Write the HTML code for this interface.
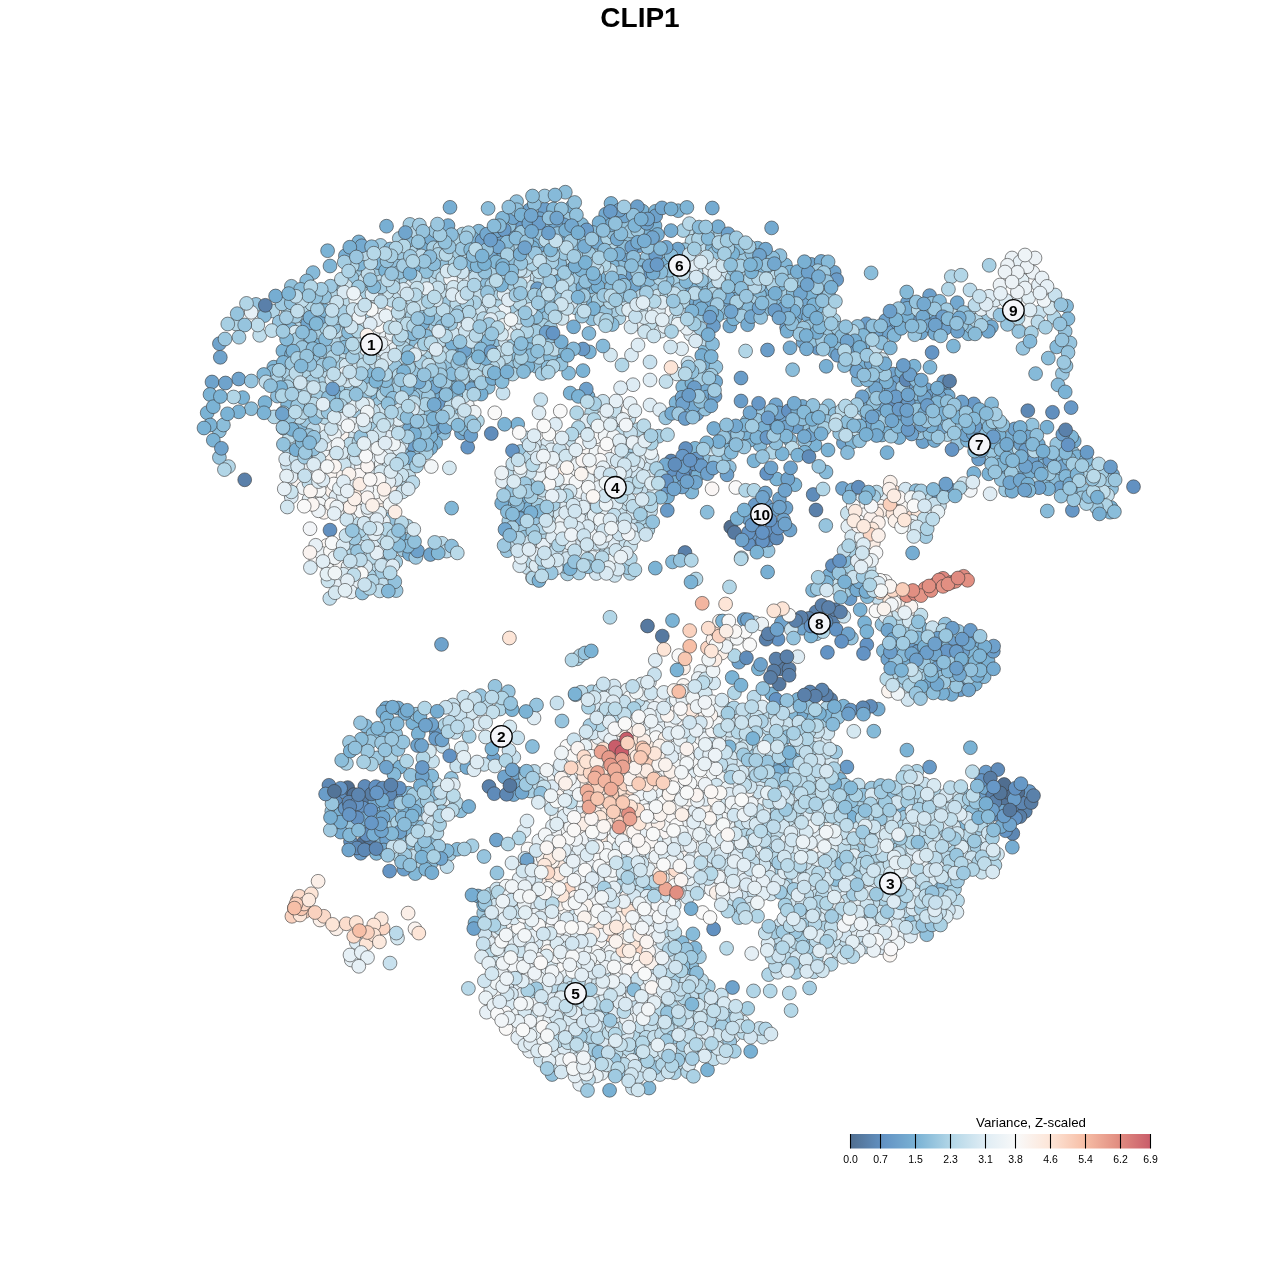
<!DOCTYPE html>
<html><head><meta charset="utf-8"><style>
html,body{margin:0;padding:0;background:#fff;}
svg{display:block;}
.pts circle{stroke:#383838;stroke-width:0.6;}
.lb{font-family:"Liberation Sans",Arial,sans-serif;font-weight:bold;font-size:15.5px;text-anchor:middle;fill:#000;}
.tl{font-family:"Liberation Sans",Arial,sans-serif;font-size:10.5px;text-anchor:middle;fill:#000;}
.tt{font-family:"Liberation Sans",Arial,sans-serif;font-weight:bold;font-size:28px;text-anchor:middle;fill:#000;}
.lt{font-family:"Liberation Sans",Arial,sans-serif;font-size:13.3px;text-anchor:middle;fill:#000;}
</style></head><body>
<svg width="1280" height="1280" viewBox="0 0 1280 1280">
<defs><linearGradient id="cb" x1="0" x2="1" y1="0" y2="0"><stop offset="0.0000" stop-color="#506e90"/><stop offset="0.1111" stop-color="#6393c4"/><stop offset="0.2222" stop-color="#7bb3d5"/><stop offset="0.3333" stop-color="#b2d6e7"/><stop offset="0.4444" stop-color="#deecf4"/><stop offset="0.5556" stop-color="#f9f9f9"/><stop offset="0.6667" stop-color="#fde5d7"/><stop offset="0.7778" stop-color="#f7bfa7"/><stop offset="0.8889" stop-color="#e28f82"/><stop offset="1.0000" stop-color="#c95d6a"/></linearGradient></defs>
<rect width="1280" height="1280" fill="#fff"/>
<text x="640" y="27" class="tt">CLIP1</text>
<g class="pts">
<circle cx="893.4" cy="374.1" r="6.9" fill="#6fa3cd"/>
<circle cx="1062.4" cy="373.6" r="6.9" fill="#9cc8e0"/>
<circle cx="824.1" cy="741.4" r="6.9" fill="#d9e9f2"/>
<circle cx="546.5" cy="879.6" r="6.9" fill="#fbf0ea"/>
<circle cx="783.0" cy="662.0" r="6.9" fill="#587da5"/>
<circle cx="1022.6" cy="475.2" r="6.9" fill="#78afd3"/>
<circle cx="815.0" cy="445.0" r="6.9" fill="#7bb3d5"/>
<circle cx="982.5" cy="434.4" r="6.9" fill="#89bcda"/>
<circle cx="565.8" cy="832.3" r="6.9" fill="#f4f7f8"/>
<circle cx="536.4" cy="366.3" r="6.9" fill="#94c3dd"/>
<circle cx="914.2" cy="878.7" r="6.9" fill="#d7e9f2"/>
<circle cx="612.9" cy="777.8" r="6.9" fill="#f9cbb6"/>
<circle cx="950.2" cy="489.7" r="6.9" fill="#6a9cc9"/>
<circle cx="1012.8" cy="833.5" r="6.9" fill="#5d87b3"/>
<circle cx="768.1" cy="550.8" r="6.9" fill="#96c4de"/>
<circle cx="503.0" cy="257.3" r="6.9" fill="#76acd1"/>
<circle cx="881.9" cy="435.0" r="6.9" fill="#7db4d6"/>
<circle cx="696.0" cy="579.0" r="6.9" fill="#b2d6e7"/>
<circle cx="350.1" cy="434.3" r="6.9" fill="#d5e8f1"/>
<circle cx="783.1" cy="965.9" r="6.9" fill="#9ac7df"/>
<circle cx="564.1" cy="506.3" r="6.9" fill="#deecf4"/>
<circle cx="843.5" cy="893.8" r="6.9" fill="#e1edf5"/>
<circle cx="411.4" cy="849.2" r="6.9" fill="#d8e9f2"/>
<circle cx="555.1" cy="848.3" r="6.9" fill="#dfecf4"/>
<circle cx="795.3" cy="803.2" r="6.9" fill="#d4e7f1"/>
<circle cx="595.2" cy="295.9" r="6.9" fill="#a5cee3"/>
<circle cx="764.0" cy="293.1" r="6.9" fill="#77aed2"/>
<circle cx="566.9" cy="746.3" r="6.9" fill="#f9f9f9"/>
<circle cx="1111.5" cy="488.6" r="6.9" fill="#8ebfdb"/>
<circle cx="669.5" cy="777.5" r="6.9" fill="#fbefe8"/>
<circle cx="629.9" cy="732.8" r="6.9" fill="#fbeee7"/>
<circle cx="376.5" cy="853.4" r="6.9" fill="#81b7d7"/>
<circle cx="883.4" cy="650.8" r="6.9" fill="#84b9d8"/>
<circle cx="542.5" cy="311.4" r="6.9" fill="#80b6d7"/>
<circle cx="757.6" cy="248.2" r="6.9" fill="#80b6d7"/>
<circle cx="743.5" cy="833.7" r="6.9" fill="#b6d8e8"/>
<circle cx="381.2" cy="331.6" r="6.9" fill="#ecf3f7"/>
<circle cx="844.6" cy="803.4" r="6.9" fill="#82b7d7"/>
<circle cx="323.8" cy="498.8" r="6.9" fill="#e9f1f6"/>
<circle cx="682.3" cy="850.5" r="6.9" fill="#e8f1f6"/>
<circle cx="690.8" cy="304.9" r="6.9" fill="#76acd1"/>
<circle cx="649.4" cy="857.4" r="6.9" fill="#d4e7f1"/>
<circle cx="314.7" cy="339.3" r="6.9" fill="#7bb3d5"/>
<circle cx="1005.6" cy="490.0" r="6.9" fill="#9dc9e0"/>
<circle cx="900.8" cy="807.5" r="6.9" fill="#7ab1d4"/>
<circle cx="392.8" cy="380.9" r="6.9" fill="#a4cde2"/>
<circle cx="645.0" cy="490.5" r="6.9" fill="#c5dfed"/>
<circle cx="391.0" cy="758.0" r="6.9" fill="#b2d6e7"/>
<circle cx="592.8" cy="887.5" r="6.9" fill="#e9f1f6"/>
<circle cx="780.3" cy="786.6" r="6.9" fill="#e5f0f5"/>
<circle cx="919.3" cy="888.2" r="6.9" fill="#aed3e6"/>
<circle cx="834.0" cy="618.4" r="6.9" fill="#5a80aa"/>
<circle cx="659.2" cy="323.6" r="6.9" fill="#eaf2f6"/>
<circle cx="864.8" cy="421.3" r="6.9" fill="#74a9d0"/>
<circle cx="675.6" cy="979.5" r="6.9" fill="#a6cee3"/>
<circle cx="787.5" cy="897.1" r="6.9" fill="#b3d7e7"/>
<circle cx="528.2" cy="924.5" r="6.9" fill="#d2e6f0"/>
<circle cx="451.3" cy="778.4" r="6.9" fill="#96c4de"/>
<circle cx="573.9" cy="1051.0" r="6.9" fill="#d5e8f1"/>
<circle cx="545.2" cy="1005.0" r="6.9" fill="#b2d6e7"/>
<circle cx="612.6" cy="452.7" r="6.9" fill="#f7f8f9"/>
<circle cx="555.6" cy="1033.3" r="6.9" fill="#f7f8f9"/>
<circle cx="570.1" cy="457.7" r="6.9" fill="#ebf2f6"/>
<circle cx="1071.1" cy="407.6" r="6.9" fill="#6899c7"/>
<circle cx="679.6" cy="1065.0" r="6.9" fill="#c6e0ed"/>
<circle cx="823.8" cy="908.6" r="6.9" fill="#d8e9f2"/>
<circle cx="665.1" cy="787.7" r="6.9" fill="#f9f9f9"/>
<circle cx="596.5" cy="775.4" r="6.9" fill="#fbede4"/>
<circle cx="623.5" cy="1072.6" r="6.9" fill="#9bc7e0"/>
<circle cx="458.9" cy="279.2" r="6.9" fill="#dfedf4"/>
<circle cx="634.1" cy="1036.9" r="6.9" fill="#b5d8e8"/>
<circle cx="251.3" cy="408.7" r="6.9" fill="#8cbeda"/>
<circle cx="534.0" cy="210.8" r="6.9" fill="#b5d8e8"/>
<circle cx="916.0" cy="317.3" r="6.9" fill="#6c9fca"/>
<circle cx="238.7" cy="379.0" r="6.9" fill="#6fa3cc"/>
<circle cx="548.5" cy="544.4" r="6.9" fill="#c3deec"/>
<circle cx="757.5" cy="749.1" r="6.9" fill="#b2d6e7"/>
<circle cx="641.9" cy="325.2" r="6.9" fill="#ebf2f6"/>
<circle cx="380.9" cy="388.6" r="6.9" fill="#a8d0e4"/>
<circle cx="462.6" cy="234.1" r="6.9" fill="#a8d0e4"/>
<circle cx="587.9" cy="467.5" r="6.9" fill="#fbf0ea"/>
<circle cx="597.3" cy="995.3" r="6.9" fill="#e1edf5"/>
<circle cx="590.3" cy="861.6" r="6.9" fill="#eef3f7"/>
<circle cx="583.0" cy="370.6" r="6.9" fill="#7bb3d5"/>
<circle cx="665.9" cy="886.3" r="6.9" fill="#eff4f7"/>
<circle cx="832.4" cy="956.4" r="6.9" fill="#d3e7f1"/>
<circle cx="533.1" cy="855.8" r="6.9" fill="#e4eff5"/>
<circle cx="940.1" cy="645.8" r="6.9" fill="#75abd1"/>
<circle cx="944.1" cy="390.5" r="6.9" fill="#70a5cd"/>
<circle cx="738.3" cy="763.3" r="6.9" fill="#dbebf3"/>
<circle cx="1066.0" cy="366.0" r="6.9" fill="#91c1dc"/>
<circle cx="504.4" cy="776.9" r="6.9" fill="#6fa3cc"/>
<circle cx="219.4" cy="431.0" r="6.9" fill="#8cbeda"/>
<circle cx="559.1" cy="465.7" r="6.9" fill="#dfecf4"/>
<circle cx="384.4" cy="505.3" r="6.9" fill="#fbefe8"/>
<circle cx="618.5" cy="896.6" r="6.9" fill="#e7f0f6"/>
<circle cx="342.2" cy="791.8" r="6.9" fill="#6291c1"/>
<circle cx="678.0" cy="1026.3" r="6.9" fill="#c3deec"/>
<circle cx="1056.7" cy="458.6" r="6.9" fill="#87bad9"/>
<circle cx="567.5" cy="573.9" r="6.9" fill="#a8d0e4"/>
<circle cx="978.1" cy="646.7" r="6.9" fill="#7bb2d5"/>
<circle cx="579.0" cy="573.0" r="6.9" fill="#aed3e6"/>
<circle cx="772.4" cy="452.3" r="6.9" fill="#b2d6e7"/>
<circle cx="729.8" cy="326.0" r="6.9" fill="#75abd1"/>
<circle cx="884.1" cy="822.1" r="6.9" fill="#dbebf3"/>
<circle cx="489.3" cy="943.0" r="6.9" fill="#e3eef5"/>
<circle cx="841.2" cy="878.6" r="6.9" fill="#daeaf3"/>
<circle cx="436.3" cy="784.1" r="6.9" fill="#c8e1ee"/>
<circle cx="980.0" cy="811.3" r="6.9" fill="#95c3dd"/>
<circle cx="236.2" cy="324.0" r="6.9" fill="#b2d6e7"/>
<circle cx="604.6" cy="1012.2" r="6.9" fill="#9dc9e0"/>
<circle cx="476.1" cy="380.9" r="6.9" fill="#8abdda"/>
<circle cx="591.2" cy="286.7" r="6.9" fill="#80b6d7"/>
<circle cx="1041.0" cy="456.3" r="6.9" fill="#7ab1d4"/>
<circle cx="889.4" cy="327.8" r="6.9" fill="#6a9dc9"/>
<circle cx="683.4" cy="668.0" r="6.9" fill="#fbefe8"/>
<circle cx="346.4" cy="763.4" r="6.9" fill="#a7cfe3"/>
<circle cx="289.1" cy="449.0" r="6.9" fill="#aad1e4"/>
<circle cx="732.2" cy="839.7" r="6.9" fill="#e9f1f6"/>
<circle cx="932.1" cy="352.5" r="6.9" fill="#6595c5"/>
<circle cx="640.7" cy="436.1" r="6.9" fill="#e3eff5"/>
<circle cx="997.5" cy="854.2" r="6.9" fill="#d3e7f1"/>
<circle cx="661.0" cy="722.8" r="6.9" fill="#e3eef5"/>
<circle cx="565.9" cy="935.6" r="6.9" fill="#edf3f7"/>
<circle cx="942.2" cy="865.6" r="6.9" fill="#deecf4"/>
<circle cx="772.5" cy="834.0" r="6.9" fill="#aed4e6"/>
<circle cx="970.3" cy="490.4" r="6.9" fill="#f1f5f8"/>
<circle cx="530.3" cy="791.0" r="6.9" fill="#aad1e5"/>
<circle cx="547.4" cy="512.0" r="6.9" fill="#c1deec"/>
<circle cx="837.8" cy="856.0" r="6.9" fill="#b6d8e8"/>
<circle cx="506.0" cy="279.5" r="6.9" fill="#a4cde2"/>
<circle cx="512.5" cy="1011.3" r="6.9" fill="#eef4f7"/>
<circle cx="638.7" cy="245.9" r="6.9" fill="#70a4cd"/>
<circle cx="329.8" cy="456.1" r="6.9" fill="#faf3ef"/>
<circle cx="605.5" cy="950.6" r="6.9" fill="#e6f0f5"/>
<circle cx="610.0" cy="617.3" r="6.9" fill="#b2d6e7"/>
<circle cx="655.9" cy="792.3" r="6.9" fill="#ecf3f7"/>
<circle cx="297.5" cy="900.0" r="6.9" fill="#fad2bf"/>
<circle cx="547.9" cy="972.0" r="6.9" fill="#e6f0f6"/>
<circle cx="597.8" cy="550.8" r="6.9" fill="#bddbea"/>
<circle cx="661.6" cy="256.4" r="6.9" fill="#a1cbe1"/>
<circle cx="792.6" cy="369.7" r="6.9" fill="#8bbdda"/>
<circle cx="606.2" cy="942.7" r="6.9" fill="#eef4f7"/>
<circle cx="687.3" cy="809.0" r="6.9" fill="#faf6f4"/>
<circle cx="835.8" cy="825.2" r="6.9" fill="#bddcea"/>
<circle cx="364.8" cy="786.4" r="6.9" fill="#5f8bb9"/>
<circle cx="376.4" cy="457.6" r="6.9" fill="#e5eff5"/>
<circle cx="529.5" cy="279.6" r="6.9" fill="#c4dfec"/>
<circle cx="715.9" cy="736.7" r="6.9" fill="#e5eff5"/>
<circle cx="691.8" cy="492.0" r="6.9" fill="#82b7d7"/>
<circle cx="400.0" cy="767.0" r="6.9" fill="#7bb3d5"/>
<circle cx="771.4" cy="866.2" r="6.9" fill="#b8d9e9"/>
<circle cx="300.8" cy="427.7" r="6.9" fill="#87bad9"/>
<circle cx="530.0" cy="287.2" r="6.9" fill="#c9e2ee"/>
<circle cx="981.8" cy="872.2" r="6.9" fill="#cbe3ee"/>
<circle cx="870.5" cy="394.1" r="6.9" fill="#a0cbe1"/>
<circle cx="843.8" cy="616.3" r="6.9" fill="#c8e1ee"/>
<circle cx="633.8" cy="1050.9" r="6.9" fill="#97c5de"/>
<circle cx="687.2" cy="473.9" r="6.9" fill="#5b84af"/>
<circle cx="407.5" cy="483.2" r="6.9" fill="#b7d9e9"/>
<circle cx="565.4" cy="1027.3" r="6.9" fill="#e4eff5"/>
<circle cx="752.8" cy="756.6" r="6.9" fill="#a0cbe1"/>
<circle cx="573.4" cy="286.1" r="6.9" fill="#9fcae1"/>
<circle cx="830.7" cy="699.4" r="6.9" fill="#5a80aa"/>
<circle cx="648.2" cy="701.7" r="6.9" fill="#ecf3f7"/>
<circle cx="761.3" cy="783.7" r="6.9" fill="#d8e9f2"/>
<circle cx="592.0" cy="318.8" r="6.9" fill="#91c1dc"/>
<circle cx="700.5" cy="1013.7" r="6.9" fill="#c3dfec"/>
<circle cx="894.1" cy="491.8" r="6.9" fill="#fde4d6"/>
<circle cx="621.2" cy="482.0" r="6.9" fill="#e4eff5"/>
<circle cx="618.9" cy="317.9" r="6.9" fill="#afd4e6"/>
<circle cx="538.4" cy="912.1" r="6.9" fill="#eaf2f6"/>
<circle cx="740.5" cy="308.9" r="6.9" fill="#71a5ce"/>
<circle cx="687.4" cy="769.0" r="6.9" fill="#d7e8f2"/>
<circle cx="599.4" cy="440.9" r="6.9" fill="#f9f8f7"/>
<circle cx="381.2" cy="464.1" r="6.9" fill="#f0f5f7"/>
<circle cx="393.0" cy="426.7" r="6.9" fill="#e1eef5"/>
<circle cx="630.0" cy="1011.3" r="6.9" fill="#e0edf4"/>
<circle cx="916.9" cy="771.3" r="6.9" fill="#add3e5"/>
<circle cx="315.6" cy="558.4" r="6.9" fill="#f9f8f8"/>
<circle cx="588.2" cy="473.0" r="6.9" fill="#e3eff5"/>
<circle cx="552.6" cy="878.2" r="6.9" fill="#fbede4"/>
<circle cx="833.8" cy="320.0" r="6.9" fill="#a9d0e4"/>
<circle cx="358.8" cy="241.9" r="6.9" fill="#7cb3d5"/>
<circle cx="899.5" cy="934.6" r="6.9" fill="#ecf3f7"/>
<circle cx="608.1" cy="784.0" r="6.9" fill="#fbdbcb"/>
<circle cx="363.4" cy="800.8" r="6.9" fill="#577ca3"/>
<circle cx="1059.0" cy="475.4" r="6.9" fill="#93c2dd"/>
<circle cx="697.7" cy="475.1" r="6.9" fill="#7ab2d4"/>
<circle cx="524.6" cy="544.9" r="6.9" fill="#cde3ef"/>
<circle cx="739.8" cy="296.4" r="6.9" fill="#7ab1d4"/>
<circle cx="366.0" cy="726.0" r="6.9" fill="#86bad9"/>
<circle cx="811.6" cy="717.9" r="6.9" fill="#85bad8"/>
<circle cx="675.6" cy="762.6" r="6.9" fill="#f4f7f8"/>
<circle cx="547.5" cy="342.2" r="6.9" fill="#96c4de"/>
<circle cx="755.4" cy="853.7" r="6.9" fill="#e2eef5"/>
<circle cx="882.8" cy="499.5" r="6.9" fill="#e6f0f6"/>
<circle cx="676.6" cy="776.2" r="6.9" fill="#faf4f1"/>
<circle cx="308.0" cy="340.1" r="6.9" fill="#8dbedb"/>
<circle cx="326.8" cy="545.5" r="6.9" fill="#faf6f3"/>
<circle cx="613.8" cy="310.2" r="6.9" fill="#a8cfe4"/>
<circle cx="654.5" cy="928.1" r="6.9" fill="#edf3f7"/>
<circle cx="957.9" cy="412.2" r="6.9" fill="#8cbedb"/>
<circle cx="583.7" cy="995.8" r="6.9" fill="#c4dfec"/>
<circle cx="695.4" cy="839.4" r="6.9" fill="#f9f8f7"/>
<circle cx="1064.4" cy="480.0" r="6.9" fill="#699bc8"/>
<circle cx="564.6" cy="566.3" r="6.9" fill="#94c3dd"/>
<circle cx="785.4" cy="264.8" r="6.9" fill="#82b7d7"/>
<circle cx="831.4" cy="760.3" r="6.9" fill="#d8e9f2"/>
<circle cx="902.6" cy="608.8" r="6.9" fill="#eef4f7"/>
<circle cx="700.8" cy="671.4" r="6.9" fill="#eaf2f6"/>
<circle cx="590.0" cy="739.7" r="6.9" fill="#e1eef5"/>
<circle cx="805.6" cy="428.6" r="6.9" fill="#95c3dd"/>
<circle cx="272.8" cy="311.0" r="6.9" fill="#b2d6e7"/>
<circle cx="698.3" cy="678.5" r="6.9" fill="#e9f1f6"/>
<circle cx="908.6" cy="858.3" r="6.9" fill="#d3e6f1"/>
<circle cx="631.1" cy="763.1" r="6.9" fill="#fde2d4"/>
<circle cx="1022.0" cy="280.0" r="6.9" fill="#e3eff5"/>
<circle cx="507.4" cy="948.9" r="6.9" fill="#e2eef5"/>
<circle cx="633.3" cy="904.5" r="6.9" fill="#faf4f0"/>
<circle cx="570.5" cy="826.9" r="6.9" fill="#f4f7f8"/>
<circle cx="583.5" cy="237.6" r="6.9" fill="#9cc8e0"/>
<circle cx="741.1" cy="741.5" r="6.9" fill="#c4dfec"/>
<circle cx="644.1" cy="457.0" r="6.9" fill="#e4eff5"/>
<circle cx="691.8" cy="288.1" r="6.9" fill="#73a8cf"/>
<circle cx="727.9" cy="740.2" r="6.9" fill="#daeaf3"/>
<circle cx="727.4" cy="902.3" r="6.9" fill="#c7e1ed"/>
<circle cx="943.1" cy="830.5" r="6.9" fill="#a9d0e4"/>
<circle cx="593.1" cy="552.8" r="6.9" fill="#ecf3f7"/>
<circle cx="836.2" cy="811.4" r="6.9" fill="#95c4de"/>
<circle cx="1074.0" cy="487.8" r="6.9" fill="#80b6d7"/>
<circle cx="545.4" cy="1019.7" r="6.9" fill="#e6f0f5"/>
<circle cx="277.4" cy="396.1" r="6.9" fill="#8dbedb"/>
<circle cx="853.8" cy="544.3" r="6.9" fill="#d6e8f2"/>
<circle cx="636.2" cy="1019.3" r="6.9" fill="#ebf2f6"/>
<circle cx="707.5" cy="647.9" r="6.9" fill="#fad4c2"/>
<circle cx="860.2" cy="609.7" r="6.9" fill="#7bb3d5"/>
<circle cx="471.6" cy="712.8" r="6.9" fill="#d5e8f1"/>
<circle cx="1029.2" cy="791.5" r="6.9" fill="#689ac8"/>
<circle cx="673.4" cy="473.8" r="6.9" fill="#6393c4"/>
<circle cx="639.8" cy="761.1" r="6.9" fill="#fbeee7"/>
<circle cx="527.6" cy="567.6" r="6.9" fill="#c8e1ee"/>
<circle cx="481.6" cy="302.6" r="6.9" fill="#bbdbea"/>
<circle cx="896.9" cy="674.8" r="6.9" fill="#b2d6e7"/>
<circle cx="442.7" cy="746.4" r="6.9" fill="#c8e1ee"/>
<circle cx="713.6" cy="683.0" r="6.9" fill="#d6e8f2"/>
<circle cx="774.1" cy="872.9" r="6.9" fill="#abd2e5"/>
<circle cx="733.4" cy="1036.1" r="6.9" fill="#deecf4"/>
<circle cx="794.9" cy="484.7" r="6.9" fill="#7bb3d5"/>
<circle cx="596.9" cy="246.1" r="6.9" fill="#9ec9e1"/>
<circle cx="771.6" cy="694.0" r="6.9" fill="#7bb3d5"/>
<circle cx="377.0" cy="544.1" r="6.9" fill="#deecf4"/>
<circle cx="373.0" cy="301.3" r="6.9" fill="#c4dfec"/>
<circle cx="846.7" cy="901.1" r="6.9" fill="#c0ddeb"/>
<circle cx="417.5" cy="390.2" r="6.9" fill="#7bb3d5"/>
<circle cx="975.3" cy="684.1" r="6.9" fill="#7ab2d4"/>
<circle cx="694.2" cy="775.5" r="6.9" fill="#e2eef5"/>
<circle cx="797.8" cy="656.7" r="6.9" fill="#deecf4"/>
<circle cx="759.5" cy="294.8" r="6.9" fill="#84b9d8"/>
<circle cx="862.8" cy="504.5" r="6.9" fill="#f9f9f9"/>
<circle cx="759.0" cy="285.8" r="6.9" fill="#9dc8e0"/>
<circle cx="373.0" cy="734.0" r="6.9" fill="#8cbeda"/>
<circle cx="805.6" cy="909.7" r="6.9" fill="#9cc8e0"/>
<circle cx="491.3" cy="433.5" r="6.9" fill="#608dbc"/>
<circle cx="552.4" cy="269.3" r="6.9" fill="#c3deec"/>
<circle cx="318.5" cy="332.0" r="6.9" fill="#acd2e5"/>
<circle cx="913.1" cy="799.0" r="6.9" fill="#b7d8e8"/>
<circle cx="751.8" cy="893.3" r="6.9" fill="#cae2ee"/>
<circle cx="583.6" cy="449.1" r="6.9" fill="#f9f7f5"/>
<circle cx="634.6" cy="521.8" r="6.9" fill="#c6e0ed"/>
<circle cx="929.3" cy="683.6" r="6.9" fill="#71a6ce"/>
<circle cx="950.2" cy="660.3" r="6.9" fill="#a2cce2"/>
<circle cx="648.7" cy="733.6" r="6.9" fill="#f4f7f8"/>
<circle cx="972.3" cy="311.6" r="6.9" fill="#bbdbea"/>
<circle cx="388.9" cy="437.4" r="6.9" fill="#e1edf5"/>
<circle cx="378.5" cy="558.9" r="6.9" fill="#a3cce2"/>
<circle cx="595.4" cy="1044.9" r="6.9" fill="#aed3e6"/>
<circle cx="705.4" cy="1052.9" r="6.9" fill="#86bad9"/>
<circle cx="488.1" cy="208.4" r="6.9" fill="#8bbdda"/>
<circle cx="443.5" cy="433.2" r="6.9" fill="#90c0dc"/>
<circle cx="964.7" cy="810.5" r="6.9" fill="#abd2e5"/>
<circle cx="256.0" cy="304.4" r="6.9" fill="#96c4de"/>
<circle cx="555.1" cy="301.5" r="6.9" fill="#85b9d8"/>
<circle cx="1019.8" cy="465.1" r="6.9" fill="#9bc7e0"/>
<circle cx="866.2" cy="405.0" r="6.9" fill="#7bb3d5"/>
<circle cx="605.4" cy="312.0" r="6.9" fill="#98c5de"/>
<circle cx="878.2" cy="709.1" r="6.9" fill="#76acd1"/>
<circle cx="450.0" cy="207.3" r="6.9" fill="#77aed3"/>
<circle cx="574.0" cy="846.6" r="6.9" fill="#eef4f7"/>
<circle cx="844.0" cy="424.9" r="6.9" fill="#b5d7e8"/>
<circle cx="339.4" cy="284.5" r="6.9" fill="#97c5de"/>
<circle cx="932.9" cy="866.2" r="6.9" fill="#b0d5e6"/>
<circle cx="696.9" cy="414.0" r="6.9" fill="#6da1cb"/>
<circle cx="1056.8" cy="444.1" r="6.9" fill="#97c5de"/>
<circle cx="259.7" cy="335.3" r="6.9" fill="#bfddeb"/>
<circle cx="516.6" cy="201.6" r="6.9" fill="#91c1dc"/>
<circle cx="669.1" cy="971.2" r="6.9" fill="#b9dae9"/>
<circle cx="501.5" cy="303.6" r="6.9" fill="#b4d7e8"/>
<circle cx="647.0" cy="257.7" r="6.9" fill="#97c5de"/>
<circle cx="493.4" cy="758.9" r="6.9" fill="#6fa3cc"/>
<circle cx="637.8" cy="429.6" r="6.9" fill="#b6d8e8"/>
<circle cx="595.0" cy="901.6" r="6.9" fill="#f3f6f8"/>
<circle cx="326.6" cy="328.4" r="6.9" fill="#a8d0e4"/>
<circle cx="632.0" cy="277.9" r="6.9" fill="#77add2"/>
<circle cx="680.5" cy="1006.5" r="6.9" fill="#dbebf3"/>
<circle cx="708.7" cy="456.1" r="6.9" fill="#92c2dd"/>
<circle cx="795.4" cy="749.3" r="6.9" fill="#9fcae1"/>
<circle cx="383.1" cy="928.1" r="6.9" fill="#fbd6c4"/>
<circle cx="890.2" cy="842.1" r="6.9" fill="#a9d0e4"/>
<circle cx="777.4" cy="303.2" r="6.9" fill="#85b9d8"/>
<circle cx="1062.8" cy="466.5" r="6.9" fill="#71a5ce"/>
<circle cx="630.3" cy="573.4" r="6.9" fill="#b4d7e8"/>
<circle cx="981.1" cy="794.8" r="6.9" fill="#6c9fca"/>
<circle cx="728.4" cy="823.9" r="6.9" fill="#ecf3f7"/>
<circle cx="1007.9" cy="468.0" r="6.9" fill="#73a8cf"/>
<circle cx="776.6" cy="479.0" r="6.9" fill="#7bb3d5"/>
<circle cx="389.5" cy="308.1" r="6.9" fill="#faf6f3"/>
<circle cx="455.2" cy="732.3" r="6.9" fill="#c8e1ee"/>
<circle cx="707.5" cy="1069.9" r="6.9" fill="#7bb3d5"/>
<circle cx="251.2" cy="312.3" r="6.9" fill="#e6f0f6"/>
<circle cx="246.5" cy="303.4" r="6.9" fill="#b2d6e7"/>
<circle cx="829.4" cy="887.8" r="6.9" fill="#daeaf3"/>
<circle cx="290.1" cy="481.3" r="6.9" fill="#eff4f7"/>
<circle cx="644.7" cy="707.6" r="6.9" fill="#d3e7f1"/>
<circle cx="790.0" cy="440.0" r="6.9" fill="#86bad9"/>
<circle cx="359.4" cy="825.5" r="6.9" fill="#89bcda"/>
<circle cx="1110.9" cy="507.5" r="6.9" fill="#7ab2d4"/>
<circle cx="795.4" cy="793.9" r="6.9" fill="#daeaf3"/>
<circle cx="631.5" cy="355.0" r="6.9" fill="#daeaf3"/>
<circle cx="780.0" cy="255.6" r="6.9" fill="#8fbfdb"/>
<circle cx="665.5" cy="839.1" r="6.9" fill="#eaf2f6"/>
<circle cx="468.4" cy="988.4" r="6.9" fill="#b8d9e9"/>
<circle cx="936.9" cy="795.4" r="6.9" fill="#afd4e6"/>
<circle cx="924.0" cy="784.1" r="6.9" fill="#c9e1ee"/>
<circle cx="461.4" cy="748.0" r="6.9" fill="#d5e8f1"/>
<circle cx="436.3" cy="427.8" r="6.9" fill="#6b9eca"/>
<circle cx="692.6" cy="747.1" r="6.9" fill="#f9f8f7"/>
<circle cx="273.8" cy="367.2" r="6.9" fill="#81b7d7"/>
<circle cx="725.8" cy="444.2" r="6.9" fill="#7bb3d5"/>
<circle cx="676.9" cy="1043.0" r="6.9" fill="#dbeaf3"/>
<circle cx="306.2" cy="420.4" r="6.9" fill="#9ec9e1"/>
<circle cx="497.6" cy="995.4" r="6.9" fill="#f8f9f9"/>
<circle cx="921.0" cy="674.0" r="6.9" fill="#a3cde2"/>
<circle cx="662.3" cy="636.1" r="6.9" fill="#5679a0"/>
<circle cx="296.3" cy="327.7" r="6.9" fill="#bbdaea"/>
<circle cx="606.1" cy="511.4" r="6.9" fill="#e6f0f5"/>
<circle cx="700.5" cy="737.9" r="6.9" fill="#f4f7f8"/>
<circle cx="508.2" cy="971.3" r="6.9" fill="#dfecf4"/>
<circle cx="555.4" cy="424.3" r="6.9" fill="#deecf4"/>
<circle cx="379.2" cy="280.3" r="6.9" fill="#c0ddeb"/>
<circle cx="370.6" cy="741.6" r="6.9" fill="#9cc8e0"/>
<circle cx="767.6" cy="308.5" r="6.9" fill="#8dbfdb"/>
<circle cx="891.4" cy="916.3" r="6.9" fill="#d2e6f0"/>
<circle cx="242.7" cy="397.6" r="6.9" fill="#7bb3d5"/>
<circle cx="556.2" cy="770.9" r="6.9" fill="#d3e6f1"/>
<circle cx="619.9" cy="425.0" r="6.9" fill="#ddebf4"/>
<circle cx="894.1" cy="793.5" r="6.9" fill="#90c0dc"/>
<circle cx="988.0" cy="660.9" r="6.9" fill="#79b0d3"/>
<circle cx="627.1" cy="690.0" r="6.9" fill="#e5f0f5"/>
<circle cx="524.2" cy="512.2" r="6.9" fill="#74aad0"/>
<circle cx="790.0" cy="530.0" r="6.9" fill="#6fa3cc"/>
<circle cx="287.6" cy="404.2" r="6.9" fill="#84b9d8"/>
<circle cx="811.3" cy="264.4" r="6.9" fill="#70a5cd"/>
<circle cx="322.6" cy="451.0" r="6.9" fill="#f1f5f8"/>
<circle cx="993.7" cy="427.4" r="6.9" fill="#76add2"/>
<circle cx="651.6" cy="308.0" r="6.9" fill="#e2eef5"/>
<circle cx="670.3" cy="284.7" r="6.9" fill="#a2cce2"/>
<circle cx="408.5" cy="842.6" r="6.9" fill="#95c4de"/>
<circle cx="327.2" cy="443.6" r="6.9" fill="#f1f5f8"/>
<circle cx="741.3" cy="896.2" r="6.9" fill="#cde3ef"/>
<circle cx="399.5" cy="429.2" r="6.9" fill="#cee4ef"/>
<circle cx="682.2" cy="787.3" r="6.9" fill="#f4f6f8"/>
<circle cx="512.1" cy="355.6" r="6.9" fill="#8dbfdb"/>
<circle cx="554.8" cy="833.0" r="6.9" fill="#f1f5f8"/>
<circle cx="610.4" cy="814.4" r="6.9" fill="#faf2ed"/>
<circle cx="801.0" cy="714.0" r="6.9" fill="#76acd1"/>
<circle cx="684.5" cy="1027.4" r="6.9" fill="#c2deec"/>
<circle cx="903.8" cy="630.1" r="6.9" fill="#a3cde2"/>
<circle cx="547.2" cy="226.3" r="6.9" fill="#82b8d7"/>
<circle cx="555.7" cy="1050.2" r="6.9" fill="#d9e9f2"/>
<circle cx="887.1" cy="331.5" r="6.9" fill="#6fa4cd"/>
<circle cx="403.6" cy="550.0" r="6.9" fill="#a3cce2"/>
<circle cx="599.9" cy="940.9" r="6.9" fill="#f9f8f8"/>
<circle cx="435.4" cy="326.4" r="6.9" fill="#a6cee3"/>
<circle cx="729.7" cy="640.0" r="6.9" fill="#f9f7f5"/>
<circle cx="568.9" cy="997.7" r="6.9" fill="#d6e8f2"/>
<circle cx="487.2" cy="951.5" r="6.9" fill="#d4e7f1"/>
<circle cx="525.3" cy="505.4" r="6.9" fill="#7ab2d5"/>
<circle cx="498.2" cy="931.5" r="6.9" fill="#e3eef5"/>
<circle cx="591.7" cy="691.8" r="6.9" fill="#a9d1e4"/>
<circle cx="727.5" cy="1013.8" r="6.9" fill="#a7cfe3"/>
<circle cx="336.5" cy="411.8" r="6.9" fill="#a5cde3"/>
<circle cx="542.8" cy="1041.0" r="6.9" fill="#ecf3f7"/>
<circle cx="705.1" cy="409.1" r="6.9" fill="#95c4de"/>
<circle cx="609.3" cy="772.1" r="6.9" fill="#fad0bc"/>
<circle cx="882.0" cy="624.4" r="6.9" fill="#95c3dd"/>
<circle cx="580.5" cy="985.8" r="6.9" fill="#e5eff5"/>
<circle cx="609.3" cy="554.5" r="6.9" fill="#c3dfec"/>
<circle cx="706.7" cy="289.3" r="6.9" fill="#95c3dd"/>
<circle cx="1012.0" cy="258.0" r="6.9" fill="#ecf2f6"/>
<circle cx="639.5" cy="951.3" r="6.9" fill="#fbd6c4"/>
<circle cx="478.7" cy="231.2" r="6.9" fill="#85b9d8"/>
<circle cx="547.0" cy="443.9" r="6.9" fill="#daeaf3"/>
<circle cx="961.9" cy="792.2" r="6.9" fill="#93c2dd"/>
<circle cx="781.8" cy="293.6" r="6.9" fill="#a8d0e4"/>
<circle cx="790.5" cy="950.6" r="6.9" fill="#c2deec"/>
<circle cx="534.2" cy="1026.1" r="6.9" fill="#eaf2f6"/>
<circle cx="347.4" cy="458.6" r="6.9" fill="#d2e6f0"/>
<circle cx="360.8" cy="544.9" r="6.9" fill="#d6e8f2"/>
<circle cx="301.4" cy="315.5" r="6.9" fill="#c3dfec"/>
<circle cx="1007.0" cy="801.1" r="6.9" fill="#54759a"/>
<circle cx="547.0" cy="317.7" r="6.9" fill="#93c2dd"/>
<circle cx="597.4" cy="855.0" r="6.9" fill="#f6f7f8"/>
<circle cx="237.2" cy="313.7" r="6.9" fill="#96c4de"/>
<circle cx="577.2" cy="658.8" r="6.9" fill="#b2d6e7"/>
<circle cx="264.4" cy="315.6" r="6.9" fill="#86bad9"/>
<circle cx="795.6" cy="756.6" r="6.9" fill="#7bb3d5"/>
<circle cx="898.8" cy="646.8" r="6.9" fill="#87bbd9"/>
<circle cx="709.4" cy="365.2" r="6.9" fill="#78afd3"/>
<circle cx="940.8" cy="491.7" r="6.9" fill="#78afd3"/>
<circle cx="572.9" cy="1003.4" r="6.9" fill="#cce3ef"/>
<circle cx="379.0" cy="497.2" r="6.9" fill="#faf4f1"/>
<circle cx="936.7" cy="887.4" r="6.9" fill="#95c4de"/>
<circle cx="328.3" cy="569.6" r="6.9" fill="#f2f6f8"/>
<circle cx="847.4" cy="513.2" r="6.9" fill="#c8e1ed"/>
<circle cx="984.1" cy="676.7" r="6.9" fill="#83b8d8"/>
<circle cx="1072.5" cy="452.5" r="6.9" fill="#98c6df"/>
<circle cx="517.7" cy="424.3" r="6.9" fill="#7bb3d5"/>
<circle cx="849.5" cy="349.5" r="6.9" fill="#6da1cb"/>
<circle cx="387.8" cy="451.2" r="6.9" fill="#e0edf4"/>
<circle cx="794.9" cy="825.6" r="6.9" fill="#c7e1ed"/>
<circle cx="516.4" cy="1028.1" r="6.9" fill="#f3f6f8"/>
<circle cx="514.8" cy="310.5" r="6.9" fill="#a4cde2"/>
<circle cx="487.8" cy="311.8" r="6.9" fill="#bedceb"/>
<circle cx="688.0" cy="363.0" r="6.9" fill="#d1e5f0"/>
<circle cx="484.0" cy="764.4" r="6.9" fill="#c8e1ee"/>
<circle cx="859.6" cy="850.6" r="6.9" fill="#a1cbe1"/>
<circle cx="795.1" cy="904.4" r="6.9" fill="#d2e6f0"/>
<circle cx="617.6" cy="787.7" r="6.9" fill="#fad2c0"/>
<circle cx="907.5" cy="302.4" r="6.9" fill="#6da1cb"/>
<circle cx="724.5" cy="457.2" r="6.9" fill="#8bbdda"/>
<circle cx="853.7" cy="498.7" r="6.9" fill="#d7e8f2"/>
<circle cx="446.6" cy="303.3" r="6.9" fill="#9ec9e0"/>
<circle cx="852.1" cy="850.0" r="6.9" fill="#b7d9e8"/>
<circle cx="888.5" cy="691.1" r="6.9" fill="#faf4f0"/>
<circle cx="475.4" cy="273.1" r="6.9" fill="#9dc9e0"/>
<circle cx="835.5" cy="910.1" r="6.9" fill="#c4dfec"/>
<circle cx="520.7" cy="974.3" r="6.9" fill="#c6e0ed"/>
<circle cx="842.5" cy="488.5" r="6.9" fill="#71a5ce"/>
<circle cx="613.0" cy="420.6" r="6.9" fill="#cce3ef"/>
<circle cx="620.0" cy="264.7" r="6.9" fill="#8dbedb"/>
<circle cx="574.3" cy="769.8" r="6.9" fill="#f9f9f9"/>
<circle cx="772.8" cy="258.0" r="6.9" fill="#8cbedb"/>
<circle cx="901.9" cy="917.5" r="6.9" fill="#cce3ef"/>
<circle cx="561.2" cy="863.2" r="6.9" fill="#fceae0"/>
<circle cx="790.6" cy="713.8" r="6.9" fill="#84b9d8"/>
<circle cx="274.2" cy="416.9" r="6.9" fill="#b2d6e7"/>
<circle cx="561.4" cy="550.7" r="6.9" fill="#dfedf4"/>
<circle cx="387.7" cy="342.9" r="6.9" fill="#f3f6f8"/>
<circle cx="849.9" cy="550.3" r="6.9" fill="#a8d0e4"/>
<circle cx="523.7" cy="530.3" r="6.9" fill="#a2cce2"/>
<circle cx="219.4" cy="457.5" r="6.9" fill="#96c4de"/>
<circle cx="392.0" cy="300.3" r="6.9" fill="#c0ddeb"/>
<circle cx="456.1" cy="351.4" r="6.9" fill="#79b0d3"/>
<circle cx="911.4" cy="386.4" r="6.9" fill="#6a9dc9"/>
<circle cx="777.8" cy="833.0" r="6.9" fill="#c4dfec"/>
<circle cx="644.4" cy="287.9" r="6.9" fill="#79b1d4"/>
<circle cx="528.7" cy="973.0" r="6.9" fill="#eff4f7"/>
<circle cx="512.8" cy="234.9" r="6.9" fill="#6fa3cc"/>
<circle cx="565.7" cy="264.0" r="6.9" fill="#bbdbea"/>
<circle cx="715.9" cy="367.1" r="6.9" fill="#95c4de"/>
<circle cx="373.4" cy="566.0" r="6.9" fill="#bddbea"/>
<circle cx="923.9" cy="834.1" r="6.9" fill="#badae9"/>
<circle cx="340.6" cy="472.6" r="6.9" fill="#faf5f2"/>
<circle cx="611.9" cy="824.7" r="6.9" fill="#fcece4"/>
<circle cx="851.4" cy="638.1" r="6.9" fill="#96c4de"/>
<circle cx="409.5" cy="554.2" r="6.9" fill="#76add2"/>
<circle cx="412.8" cy="722.8" r="6.9" fill="#7bb3d5"/>
<circle cx="579.0" cy="854.8" r="6.9" fill="#edf3f7"/>
<circle cx="676.1" cy="792.4" r="6.9" fill="#e9f1f6"/>
<circle cx="624.1" cy="792.9" r="6.9" fill="#fde5d7"/>
<circle cx="656.5" cy="730.9" r="6.9" fill="#ecf3f7"/>
<circle cx="674.5" cy="1072.7" r="6.9" fill="#acd2e5"/>
<circle cx="617.6" cy="879.7" r="6.9" fill="#b2d6e7"/>
<circle cx="548.9" cy="434.1" r="6.9" fill="#f9f9f9"/>
<circle cx="951.3" cy="847.6" r="6.9" fill="#abd2e5"/>
<circle cx="705.6" cy="678.8" r="6.9" fill="#cbe3ef"/>
<circle cx="291.9" cy="916.3" r="6.9" fill="#fad2bf"/>
<circle cx="227.8" cy="324.0" r="6.9" fill="#a7cfe3"/>
<circle cx="778.1" cy="639.2" r="6.9" fill="#6393c4"/>
<circle cx="570.5" cy="216.1" r="6.9" fill="#9dc9e0"/>
<circle cx="818.3" cy="310.8" r="6.9" fill="#7db4d6"/>
<circle cx="812.0" cy="791.8" r="6.9" fill="#b8d9e9"/>
<circle cx="469.2" cy="736.3" r="6.9" fill="#a7cfe3"/>
<circle cx="855.3" cy="810.4" r="6.9" fill="#94c3dd"/>
<circle cx="751.5" cy="301.8" r="6.9" fill="#a9d0e4"/>
<circle cx="898.6" cy="621.4" r="6.9" fill="#badae9"/>
<circle cx="432.8" cy="356.9" r="6.9" fill="#d1e5f0"/>
<circle cx="389.1" cy="826.2" r="6.9" fill="#acd2e5"/>
<circle cx="568.6" cy="373.2" r="6.9" fill="#88bbd9"/>
<circle cx="969.6" cy="846.7" r="6.9" fill="#c4dfec"/>
<circle cx="693.7" cy="231.3" r="6.9" fill="#bcdbea"/>
<circle cx="976.7" cy="832.8" r="6.9" fill="#a5cde3"/>
<circle cx="640.9" cy="308.4" r="6.9" fill="#c2deec"/>
<circle cx="723.5" cy="272.4" r="6.9" fill="#cfe4f0"/>
<circle cx="904.8" cy="817.2" r="6.9" fill="#a1cbe1"/>
<circle cx="1035.6" cy="373.6" r="6.9" fill="#86bad9"/>
<circle cx="850.0" cy="598.7" r="6.9" fill="#6a9cc9"/>
<circle cx="684.6" cy="857.8" r="6.9" fill="#faf5f3"/>
<circle cx="640.7" cy="918.1" r="6.9" fill="#faf3ef"/>
<circle cx="341.3" cy="510.8" r="6.9" fill="#f3f6f8"/>
<circle cx="650.0" cy="325.0" r="6.9" fill="#c1deeb"/>
<circle cx="449.4" cy="467.9" r="6.9" fill="#d5e8f1"/>
<circle cx="689.6" cy="816.1" r="6.9" fill="#faf3ef"/>
<circle cx="552.3" cy="998.3" r="6.9" fill="#e1edf5"/>
<circle cx="645.3" cy="801.7" r="6.9" fill="#eff4f7"/>
<circle cx="866.8" cy="644.7" r="6.9" fill="#6393c4"/>
<circle cx="964.4" cy="683.3" r="6.9" fill="#6a9cc9"/>
<circle cx="744.2" cy="619.5" r="6.9" fill="#6fa3cc"/>
<circle cx="521.0" cy="223.7" r="6.9" fill="#6a9cc9"/>
<circle cx="745.8" cy="746.0" r="6.9" fill="#d1e6f0"/>
<circle cx="1052.5" cy="412.3" r="6.9" fill="#618fbe"/>
<circle cx="672.7" cy="706.7" r="6.9" fill="#faf6f5"/>
<circle cx="376.8" cy="357.5" r="6.9" fill="#e1edf4"/>
<circle cx="1002.2" cy="811.3" r="6.9" fill="#72a7cf"/>
<circle cx="564.0" cy="1017.5" r="6.9" fill="#c5e0ed"/>
<circle cx="452.1" cy="312.5" r="6.9" fill="#b4d7e8"/>
<circle cx="985.9" cy="772.1" r="6.9" fill="#699bc9"/>
<circle cx="949.4" cy="801.6" r="6.9" fill="#c0ddeb"/>
<circle cx="469.5" cy="279.6" r="6.9" fill="#dfedf4"/>
<circle cx="282.9" cy="350.9" r="6.9" fill="#7eb5d6"/>
<circle cx="543.1" cy="480.1" r="6.9" fill="#c0ddeb"/>
<circle cx="943.6" cy="886.1" r="6.9" fill="#88bbd9"/>
<circle cx="408.1" cy="913.1" r="6.9" fill="#fbefe8"/>
<circle cx="420.3" cy="817.9" r="6.9" fill="#c1ddeb"/>
<circle cx="768.4" cy="871.5" r="6.9" fill="#e1edf5"/>
<circle cx="696.5" cy="692.7" r="6.9" fill="#fbede5"/>
<circle cx="631.0" cy="327.0" r="6.9" fill="#d4e7f1"/>
<circle cx="919.2" cy="402.5" r="6.9" fill="#7ab2d5"/>
<circle cx="957.3" cy="793.7" r="6.9" fill="#d5e8f1"/>
<circle cx="637.9" cy="700.5" r="6.9" fill="#c1deec"/>
<circle cx="886.8" cy="678.9" r="6.9" fill="#b9dae9"/>
<circle cx="765.6" cy="249.2" r="6.9" fill="#73a8cf"/>
<circle cx="367.3" cy="378.4" r="6.9" fill="#85b9d8"/>
<circle cx="624.0" cy="986.7" r="6.9" fill="#d6e8f2"/>
<circle cx="916.6" cy="894.8" r="6.9" fill="#daeaf3"/>
<circle cx="760.0" cy="445.0" r="6.9" fill="#86bad9"/>
<circle cx="483.3" cy="285.8" r="6.9" fill="#a0cbe1"/>
<circle cx="635.6" cy="970.5" r="6.9" fill="#faf3ef"/>
<circle cx="322.2" cy="382.7" r="6.9" fill="#afd4e6"/>
<circle cx="596.0" cy="436.9" r="6.9" fill="#f9f9f9"/>
<circle cx="867.8" cy="331.4" r="6.9" fill="#6c9fcb"/>
<circle cx="818.1" cy="831.6" r="6.9" fill="#e2eef5"/>
<circle cx="628.2" cy="706.8" r="6.9" fill="#d8e9f2"/>
<circle cx="486.0" cy="703.0" r="6.9" fill="#bbdaea"/>
<circle cx="813.2" cy="494.5" r="6.9" fill="#5f8cba"/>
<circle cx="520.6" cy="451.5" r="6.9" fill="#99c6df"/>
<circle cx="304.9" cy="371.1" r="6.9" fill="#b1d6e7"/>
<circle cx="922.9" cy="441.6" r="6.9" fill="#6ea2cc"/>
<circle cx="415.0" cy="928.8" r="6.9" fill="#faf3ef"/>
<circle cx="649.6" cy="468.4" r="6.9" fill="#cee4ef"/>
<circle cx="879.3" cy="926.1" r="6.9" fill="#e1edf4"/>
<circle cx="551.2" cy="449.8" r="6.9" fill="#e0edf4"/>
<circle cx="826.1" cy="724.7" r="6.9" fill="#a8d0e4"/>
<circle cx="755.0" cy="540.0" r="6.9" fill="#6899c7"/>
<circle cx="619.6" cy="433.1" r="6.9" fill="#c0ddeb"/>
<circle cx="743.5" cy="254.7" r="6.9" fill="#9fcae1"/>
<circle cx="837.7" cy="886.1" r="6.9" fill="#c0ddeb"/>
<circle cx="885.7" cy="320.4" r="6.9" fill="#6ea2cc"/>
<circle cx="479.6" cy="296.2" r="6.9" fill="#c4dfec"/>
<circle cx="984.7" cy="787.5" r="6.9" fill="#74aad0"/>
<circle cx="879.0" cy="861.6" r="6.9" fill="#c0ddeb"/>
<circle cx="919.5" cy="432.8" r="6.9" fill="#9dc8e0"/>
<circle cx="338.5" cy="585.4" r="6.9" fill="#e3eef5"/>
<circle cx="341.8" cy="388.3" r="6.9" fill="#9bc8e0"/>
<circle cx="1018.0" cy="807.5" r="6.9" fill="#6899c7"/>
<circle cx="800.4" cy="870.8" r="6.9" fill="#b8d9e9"/>
<circle cx="826.0" cy="472.0" r="6.9" fill="#86bad9"/>
<circle cx="499.4" cy="239.1" r="6.9" fill="#6da1cb"/>
<circle cx="433.0" cy="278.5" r="6.9" fill="#bddbea"/>
<circle cx="565.6" cy="762.7" r="6.9" fill="#d9e9f2"/>
<circle cx="805.0" cy="303.9" r="6.9" fill="#74a9d0"/>
<circle cx="615.9" cy="769.2" r="6.9" fill="#fcdfcf"/>
<circle cx="563.8" cy="224.8" r="6.9" fill="#6ea2cc"/>
<circle cx="1043.3" cy="465.9" r="6.9" fill="#83b8d8"/>
<circle cx="534.0" cy="982.9" r="6.9" fill="#e3eef5"/>
<circle cx="763.1" cy="1037.1" r="6.9" fill="#cde4ef"/>
<circle cx="885.4" cy="904.2" r="6.9" fill="#acd2e5"/>
<circle cx="534.0" cy="718.0" r="6.9" fill="#deecf4"/>
<circle cx="1055.4" cy="480.7" r="6.9" fill="#8bbdda"/>
<circle cx="557.0" cy="932.7" r="6.9" fill="#f1f5f7"/>
<circle cx="985.4" cy="317.7" r="6.9" fill="#99c6df"/>
<circle cx="610.9" cy="951.8" r="6.9" fill="#f1f5f8"/>
<circle cx="705.2" cy="347.2" r="6.9" fill="#85bad8"/>
<circle cx="1043.2" cy="483.2" r="6.9" fill="#89bcda"/>
<circle cx="887.4" cy="427.0" r="6.9" fill="#7ab2d5"/>
<circle cx="584.3" cy="515.0" r="6.9" fill="#c7e1ed"/>
<circle cx="461.5" cy="433.0" r="6.9" fill="#71a6ce"/>
<circle cx="738.1" cy="870.4" r="6.9" fill="#e7f0f6"/>
<circle cx="608.5" cy="689.8" r="6.9" fill="#d6e8f2"/>
<circle cx="397.5" cy="938.1" r="6.9" fill="#d5e8f1"/>
<circle cx="479.1" cy="311.5" r="6.9" fill="#cfe5f0"/>
<circle cx="593.9" cy="528.1" r="6.9" fill="#daeaf3"/>
<circle cx="701.0" cy="247.6" r="6.9" fill="#c0ddeb"/>
<circle cx="790.3" cy="881.7" r="6.9" fill="#a7cfe4"/>
<circle cx="786.2" cy="723.5" r="6.9" fill="#cae2ee"/>
<circle cx="804.7" cy="441.0" r="6.9" fill="#96c4de"/>
<circle cx="430.7" cy="348.5" r="6.9" fill="#eaf2f6"/>
<circle cx="871.1" cy="815.2" r="6.9" fill="#bddcea"/>
<circle cx="957.5" cy="443.4" r="6.9" fill="#97c5de"/>
<circle cx="704.1" cy="732.9" r="6.9" fill="#daeaf3"/>
<circle cx="454.6" cy="254.8" r="6.9" fill="#a7cfe3"/>
<circle cx="710.4" cy="281.0" r="6.9" fill="#97c5de"/>
<circle cx="535.0" cy="894.8" r="6.9" fill="#f7f8f9"/>
<circle cx="341.6" cy="324.1" r="6.9" fill="#9ec9e1"/>
<circle cx="610.7" cy="935.3" r="6.9" fill="#fbd7c6"/>
<circle cx="628.9" cy="418.6" r="6.9" fill="#c2deec"/>
<circle cx="509.6" cy="503.5" r="6.9" fill="#8dbedb"/>
<circle cx="1025.3" cy="811.4" r="6.9" fill="#5a82ab"/>
<circle cx="668.6" cy="935.3" r="6.9" fill="#b8d9e9"/>
<circle cx="373.4" cy="331.8" r="6.9" fill="#edf3f7"/>
<circle cx="810.1" cy="884.5" r="6.9" fill="#d6e8f2"/>
<circle cx="826.2" cy="317.6" r="6.9" fill="#b0d5e6"/>
<circle cx="833.3" cy="802.3" r="6.9" fill="#b9dae9"/>
<circle cx="856.0" cy="903.6" r="6.9" fill="#e6f0f5"/>
<circle cx="667.5" cy="496.9" r="6.9" fill="#78afd3"/>
<circle cx="634.3" cy="285.2" r="6.9" fill="#71a6ce"/>
<circle cx="471.6" cy="318.3" r="6.9" fill="#c0ddeb"/>
<circle cx="858.2" cy="785.0" r="6.9" fill="#c2deec"/>
<circle cx="530.7" cy="885.8" r="6.9" fill="#f2f6f8"/>
<circle cx="660.7" cy="1003.1" r="6.9" fill="#c2deec"/>
<circle cx="683.4" cy="827.0" r="6.9" fill="#eff4f7"/>
<circle cx="571.4" cy="910.3" r="6.9" fill="#d1e6f0"/>
<circle cx="1112.6" cy="474.6" r="6.9" fill="#75abd1"/>
<circle cx="472.1" cy="237.9" r="6.9" fill="#80b6d7"/>
<circle cx="313.6" cy="355.9" r="6.9" fill="#93c2dd"/>
<circle cx="403.8" cy="343.4" r="6.9" fill="#b9d9e9"/>
<circle cx="831.0" cy="332.2" r="6.9" fill="#6a9cc9"/>
<circle cx="682.1" cy="722.9" r="6.9" fill="#f6f7f8"/>
<circle cx="856.6" cy="827.1" r="6.9" fill="#cfe5f0"/>
<circle cx="548.4" cy="780.0" r="6.9" fill="#f4f7f8"/>
<circle cx="669.5" cy="802.1" r="6.9" fill="#f0f5f7"/>
<circle cx="291.3" cy="496.9" r="6.9" fill="#ddebf4"/>
<circle cx="609.5" cy="957.4" r="6.9" fill="#e3eff5"/>
<circle cx="447.1" cy="798.7" r="6.9" fill="#e5f0f5"/>
<circle cx="490.3" cy="894.1" r="6.9" fill="#b5d8e8"/>
<circle cx="863.3" cy="514.9" r="6.9" fill="#f9f9f9"/>
<circle cx="960.7" cy="645.5" r="6.9" fill="#6b9dc9"/>
<circle cx="821.2" cy="261.4" r="6.9" fill="#74aad0"/>
<circle cx="362.9" cy="808.0" r="6.9" fill="#6494c5"/>
<circle cx="394.6" cy="349.1" r="6.9" fill="#e9f1f6"/>
<circle cx="382.9" cy="349.3" r="6.9" fill="#dbeaf3"/>
<circle cx="624.2" cy="511.3" r="6.9" fill="#c9e2ee"/>
<circle cx="508.5" cy="989.8" r="6.9" fill="#daeaf3"/>
<circle cx="714.0" cy="233.6" r="6.9" fill="#a7cfe4"/>
<circle cx="712.4" cy="248.0" r="6.9" fill="#84b9d8"/>
<circle cx="564.0" cy="974.6" r="6.9" fill="#eaf2f6"/>
<circle cx="448.0" cy="225.6" r="6.9" fill="#76add2"/>
<circle cx="627.8" cy="1049.7" r="6.9" fill="#bedceb"/>
<circle cx="718.4" cy="1003.7" r="6.9" fill="#9bc7df"/>
<circle cx="654.9" cy="803.9" r="6.9" fill="#d4e7f1"/>
<circle cx="649.0" cy="1088.0" r="6.9" fill="#84b9d8"/>
<circle cx="523.8" cy="277.2" r="6.9" fill="#e5eff5"/>
<circle cx="826.8" cy="708.1" r="6.9" fill="#aed3e6"/>
<circle cx="805.8" cy="816.0" r="6.9" fill="#ddecf4"/>
<circle cx="545.7" cy="537.6" r="6.9" fill="#b4d7e8"/>
<circle cx="772.1" cy="268.8" r="6.9" fill="#8fc0dc"/>
<circle cx="393.5" cy="320.7" r="6.9" fill="#e4eff5"/>
<circle cx="817.4" cy="293.6" r="6.9" fill="#73a9d0"/>
<circle cx="846.9" cy="767.0" r="6.9" fill="#6a9cc9"/>
<circle cx="373.9" cy="393.5" r="6.9" fill="#81b7d7"/>
<circle cx="607.9" cy="975.1" r="6.9" fill="#c9e2ee"/>
<circle cx="836.1" cy="629.4" r="6.9" fill="#6393c4"/>
<circle cx="853.9" cy="934.9" r="6.9" fill="#e7f0f6"/>
<circle cx="449.1" cy="351.4" r="6.9" fill="#c0ddeb"/>
<circle cx="661.1" cy="331.1" r="6.9" fill="#d8e9f2"/>
<circle cx="835.9" cy="879.5" r="6.9" fill="#8dbfdb"/>
<circle cx="831.8" cy="582.6" r="6.9" fill="#cbe3ee"/>
<circle cx="896.6" cy="382.5" r="6.9" fill="#6fa3cd"/>
<circle cx="290.0" cy="327.9" r="6.9" fill="#80b6d7"/>
<circle cx="535.7" cy="879.1" r="6.9" fill="#d6e8f2"/>
<circle cx="478.0" cy="896.0" r="6.9" fill="#76add2"/>
<circle cx="552.7" cy="986.0" r="6.9" fill="#bedceb"/>
<circle cx="901.1" cy="406.3" r="6.9" fill="#71a6ce"/>
<circle cx="556.3" cy="568.0" r="6.9" fill="#dbeaf3"/>
<circle cx="764.1" cy="714.9" r="6.9" fill="#bcdbea"/>
<circle cx="655.3" cy="568.1" r="6.9" fill="#7bb3d5"/>
<circle cx="295.3" cy="332.2" r="6.9" fill="#d5e8f1"/>
<circle cx="586.1" cy="1042.4" r="6.9" fill="#b4d7e7"/>
<circle cx="575.6" cy="694.7" r="6.9" fill="#7bb3d5"/>
<circle cx="642.0" cy="1056.1" r="6.9" fill="#a8d0e4"/>
<circle cx="410.5" cy="775.2" r="6.9" fill="#96c4de"/>
<circle cx="917.4" cy="667.9" r="6.9" fill="#a6cee3"/>
<circle cx="749.2" cy="778.0" r="6.9" fill="#cce3ef"/>
<circle cx="588.7" cy="909.7" r="6.9" fill="#f7f8f9"/>
<circle cx="803.1" cy="342.0" r="6.9" fill="#73a8cf"/>
<circle cx="566.2" cy="450.6" r="6.9" fill="#e7f0f6"/>
<circle cx="520.3" cy="987.2" r="6.9" fill="#e2eef5"/>
<circle cx="490.8" cy="989.7" r="6.9" fill="#e3eff5"/>
<circle cx="575.7" cy="245.6" r="6.9" fill="#8fc0dc"/>
<circle cx="309.7" cy="456.3" r="6.9" fill="#c7e0ed"/>
<circle cx="751.8" cy="253.3" r="6.9" fill="#93c2dd"/>
<circle cx="1004.1" cy="474.4" r="6.9" fill="#76acd1"/>
<circle cx="536.4" cy="1017.2" r="6.9" fill="#f0f5f7"/>
<circle cx="602.3" cy="1040.9" r="6.9" fill="#ddebf4"/>
<circle cx="456.8" cy="303.7" r="6.9" fill="#bcdbea"/>
<circle cx="563.6" cy="908.6" r="6.9" fill="#f9f8f8"/>
<circle cx="664.9" cy="326.5" r="6.9" fill="#e5eff5"/>
<circle cx="616.7" cy="1018.9" r="6.9" fill="#e1eef5"/>
<circle cx="577.1" cy="919.6" r="6.9" fill="#dbeaf3"/>
<circle cx="713.0" cy="639.5" r="6.9" fill="#fbf0ea"/>
<circle cx="1028.6" cy="321.6" r="6.9" fill="#eef4f7"/>
<circle cx="632.9" cy="792.7" r="6.9" fill="#fcddcd"/>
<circle cx="787.3" cy="772.1" r="6.9" fill="#76acd1"/>
<circle cx="775.6" cy="276.8" r="6.9" fill="#bddcea"/>
<circle cx="572.1" cy="206.7" r="6.9" fill="#79b1d4"/>
<circle cx="378.3" cy="309.1" r="6.9" fill="#eff4f7"/>
<circle cx="635.3" cy="1082.5" r="6.9" fill="#cce3ef"/>
<circle cx="671.2" cy="723.7" r="6.9" fill="#eff4f7"/>
<circle cx="695.1" cy="448.3" r="6.9" fill="#7fb6d6"/>
<circle cx="750.0" cy="440.0" r="6.9" fill="#7bb3d5"/>
<circle cx="534.3" cy="771.4" r="6.9" fill="#b9d9e9"/>
<circle cx="641.0" cy="265.7" r="6.9" fill="#88bbd9"/>
<circle cx="577.2" cy="934.1" r="6.9" fill="#e0edf4"/>
<circle cx="495.0" cy="766.0" r="6.9" fill="#d5e8f1"/>
<circle cx="346.6" cy="553.3" r="6.9" fill="#b7d9e8"/>
<circle cx="682.7" cy="387.0" r="6.9" fill="#83b8d7"/>
<circle cx="859.4" cy="799.1" r="6.9" fill="#acd2e5"/>
<circle cx="627.2" cy="1033.8" r="6.9" fill="#dcebf3"/>
<circle cx="436.7" cy="272.0" r="6.9" fill="#aed3e6"/>
<circle cx="389.6" cy="871.1" r="6.9" fill="#6595c5"/>
<circle cx="570.3" cy="981.2" r="6.9" fill="#cde3ef"/>
<circle cx="431.7" cy="776.0" r="6.9" fill="#86bad9"/>
<circle cx="381.0" cy="807.8" r="6.9" fill="#7db4d6"/>
<circle cx="287.0" cy="380.0" r="6.9" fill="#a0cbe1"/>
<circle cx="420.6" cy="394.6" r="6.9" fill="#98c5df"/>
<circle cx="817.2" cy="895.6" r="6.9" fill="#c3dfec"/>
<circle cx="806.0" cy="942.2" r="6.9" fill="#9cc8e0"/>
<circle cx="545.8" cy="909.5" r="6.9" fill="#edf3f7"/>
<circle cx="936.5" cy="497.1" r="6.9" fill="#6da0cb"/>
<circle cx="592.6" cy="557.4" r="6.9" fill="#e3eef5"/>
<circle cx="345.1" cy="342.5" r="6.9" fill="#99c6df"/>
<circle cx="465.8" cy="257.1" r="6.9" fill="#b6d8e8"/>
<circle cx="595.2" cy="951.9" r="6.9" fill="#f5f7f8"/>
<circle cx="633.0" cy="384.7" r="6.9" fill="#deecf4"/>
<circle cx="724.2" cy="771.8" r="6.9" fill="#b8d9e9"/>
<circle cx="356.3" cy="942.5" r="6.9" fill="#deecf4"/>
<circle cx="970.7" cy="662.9" r="6.9" fill="#a4cde2"/>
<circle cx="779.2" cy="684.1" r="6.9" fill="#5679a0"/>
<circle cx="1074.2" cy="441.1" r="6.9" fill="#77aed2"/>
<circle cx="713.9" cy="1058.8" r="6.9" fill="#c0ddeb"/>
<circle cx="318.9" cy="458.7" r="6.9" fill="#c7e0ed"/>
<circle cx="601.9" cy="809.9" r="6.9" fill="#fceadf"/>
<circle cx="798.7" cy="880.0" r="6.9" fill="#dcebf3"/>
<circle cx="705.3" cy="693.4" r="6.9" fill="#d5e8f1"/>
<circle cx="328.9" cy="785.3" r="6.9" fill="#5e89b6"/>
<circle cx="663.9" cy="832.1" r="6.9" fill="#faf6f5"/>
<circle cx="827.0" cy="873.1" r="6.9" fill="#e1eef5"/>
<circle cx="396.1" cy="590.6" r="6.9" fill="#9fcae1"/>
<circle cx="692.0" cy="241.3" r="6.9" fill="#b3d6e7"/>
<circle cx="570.0" cy="794.2" r="6.9" fill="#e0edf4"/>
<circle cx="398.9" cy="276.9" r="6.9" fill="#b0d5e6"/>
<circle cx="963.5" cy="483.6" r="6.9" fill="#d6e8f2"/>
<circle cx="597.1" cy="871.3" r="6.9" fill="#cae2ee"/>
<circle cx="449.4" cy="854.2" r="6.9" fill="#a5cee3"/>
<circle cx="685.1" cy="886.8" r="6.9" fill="#dcebf4"/>
<circle cx="525.1" cy="270.6" r="6.9" fill="#c6e0ed"/>
<circle cx="529.4" cy="457.1" r="6.9" fill="#bcdbea"/>
<circle cx="968.4" cy="333.8" r="6.9" fill="#80b6d6"/>
<circle cx="610.6" cy="560.9" r="6.9" fill="#ecf3f7"/>
<circle cx="409.1" cy="429.2" r="6.9" fill="#75abd1"/>
<circle cx="441.9" cy="543.3" r="6.9" fill="#b8d9e9"/>
<circle cx="903.9" cy="691.5" r="6.9" fill="#deecf4"/>
<circle cx="650.2" cy="932.5" r="6.9" fill="#f1f5f8"/>
<circle cx="813.0" cy="756.8" r="6.9" fill="#a5cee3"/>
<circle cx="638.0" cy="908.1" r="6.9" fill="#f6f7f8"/>
<circle cx="982.2" cy="841.9" r="6.9" fill="#d4e7f1"/>
<circle cx="933.9" cy="785.4" r="6.9" fill="#d8e9f2"/>
<circle cx="929.6" cy="295.6" r="6.9" fill="#6da0cb"/>
<circle cx="597.2" cy="242.4" r="6.9" fill="#74aad0"/>
<circle cx="508.8" cy="925.1" r="6.9" fill="#f8f8f9"/>
<circle cx="881.0" cy="387.6" r="6.9" fill="#88bcd9"/>
<circle cx="395.3" cy="808.3" r="6.9" fill="#bedceb"/>
<circle cx="559.6" cy="449.5" r="6.9" fill="#c7e0ed"/>
<circle cx="955.7" cy="310.5" r="6.9" fill="#c3deec"/>
<circle cx="638.0" cy="740.8" r="6.9" fill="#fde6d8"/>
<circle cx="799.6" cy="285.9" r="6.9" fill="#a2cce2"/>
<circle cx="380.5" cy="245.4" r="6.9" fill="#a2cce2"/>
<circle cx="695.5" cy="482.3" r="6.9" fill="#72a7cf"/>
<circle cx="863.1" cy="935.1" r="6.9" fill="#e1edf4"/>
<circle cx="853.4" cy="364.9" r="6.9" fill="#93c2dd"/>
<circle cx="736.2" cy="724.3" r="6.9" fill="#cbe2ee"/>
<circle cx="540.5" cy="950.8" r="6.9" fill="#e9f1f6"/>
<circle cx="416.0" cy="714.2" r="6.9" fill="#9cc8e0"/>
<circle cx="543.3" cy="545.2" r="6.9" fill="#e7f0f6"/>
<circle cx="396.9" cy="403.5" r="6.9" fill="#d1e6f0"/>
<circle cx="654.9" cy="958.3" r="6.9" fill="#eaf2f6"/>
<circle cx="641.6" cy="684.0" r="6.9" fill="#dbebf3"/>
<circle cx="699.6" cy="1051.1" r="6.9" fill="#9ec9e0"/>
<circle cx="729.5" cy="586.9" r="6.9" fill="#b2d6e7"/>
<circle cx="460.5" cy="328.4" r="6.9" fill="#dfecf4"/>
<circle cx="741.4" cy="716.4" r="6.9" fill="#d9eaf3"/>
<circle cx="715.7" cy="630.1" r="6.9" fill="#fbd9c8"/>
<circle cx="588.2" cy="303.1" r="6.9" fill="#7db4d6"/>
<circle cx="467.3" cy="405.2" r="6.9" fill="#eef3f7"/>
<circle cx="732.5" cy="987.5" r="6.9" fill="#6fa3cc"/>
<circle cx="925.4" cy="511.3" r="6.9" fill="#e1eef5"/>
<circle cx="875.7" cy="855.5" r="6.9" fill="#b1d5e7"/>
<circle cx="786.0" cy="508.0" r="6.9" fill="#6fa3cc"/>
<circle cx="795.9" cy="972.4" r="6.9" fill="#a7cfe3"/>
<circle cx="861.0" cy="943.2" r="6.9" fill="#cbe2ee"/>
<circle cx="579.0" cy="850.2" r="6.9" fill="#e4eff5"/>
<circle cx="696.6" cy="459.0" r="6.9" fill="#6798c7"/>
<circle cx="714.4" cy="253.4" r="6.9" fill="#98c6df"/>
<circle cx="1107.4" cy="479.9" r="6.9" fill="#a2cce2"/>
<circle cx="460.0" cy="715.0" r="6.9" fill="#c8e1ee"/>
<circle cx="640.6" cy="1026.2" r="6.9" fill="#c2deec"/>
<circle cx="804.2" cy="964.2" r="6.9" fill="#afd4e6"/>
<circle cx="625.9" cy="254.9" r="6.9" fill="#72a7cf"/>
<circle cx="620.4" cy="886.2" r="6.9" fill="#b4d7e8"/>
<circle cx="802.0" cy="919.6" r="6.9" fill="#cae2ee"/>
<circle cx="778.9" cy="944.0" r="6.9" fill="#bbdaea"/>
<circle cx="655.2" cy="849.9" r="6.9" fill="#f9f8f8"/>
<circle cx="947.1" cy="857.8" r="6.9" fill="#b9d9e9"/>
<circle cx="657.0" cy="965.0" r="6.9" fill="#e4eff5"/>
<circle cx="826.2" cy="331.1" r="6.9" fill="#9cc8e0"/>
<circle cx="597.1" cy="543.4" r="6.9" fill="#c8e1ee"/>
<circle cx="291.4" cy="286.3" r="6.9" fill="#92c2dc"/>
<circle cx="419.7" cy="862.0" r="6.9" fill="#badae9"/>
<circle cx="519.8" cy="518.5" r="6.9" fill="#73a8cf"/>
<circle cx="629.4" cy="964.4" r="6.9" fill="#e9f2f6"/>
<circle cx="1018.8" cy="331.4" r="6.9" fill="#96c4de"/>
<circle cx="715.6" cy="460.4" r="6.9" fill="#a7cfe4"/>
<circle cx="312.4" cy="381.7" r="6.9" fill="#a6cee3"/>
<circle cx="775.8" cy="404.8" r="6.9" fill="#72a6ce"/>
<circle cx="646.7" cy="919.7" r="6.9" fill="#e2eef5"/>
<circle cx="478.5" cy="385.9" r="6.9" fill="#90c0dc"/>
<circle cx="796.5" cy="830.1" r="6.9" fill="#d7e9f2"/>
<circle cx="517.7" cy="773.8" r="6.9" fill="#6fa3cc"/>
<circle cx="439.7" cy="799.1" r="6.9" fill="#badae9"/>
<circle cx="738.1" cy="884.5" r="6.9" fill="#f4f6f8"/>
<circle cx="418.5" cy="270.5" r="6.9" fill="#7cb3d5"/>
<circle cx="768.6" cy="974.6" r="6.9" fill="#b0d5e7"/>
<circle cx="652.1" cy="457.4" r="6.9" fill="#d6e8f2"/>
<circle cx="595.8" cy="744.9" r="6.9" fill="#faf2ed"/>
<circle cx="650.0" cy="405.0" r="6.9" fill="#deecf4"/>
<circle cx="780.3" cy="668.8" r="6.9" fill="#5679a0"/>
<circle cx="659.7" cy="409.7" r="6.9" fill="#deecf4"/>
<circle cx="672.5" cy="561.9" r="6.9" fill="#86bad9"/>
<circle cx="925.7" cy="498.8" r="6.9" fill="#bbdbea"/>
<circle cx="1011.2" cy="441.3" r="6.9" fill="#7ab2d4"/>
<circle cx="665.0" cy="487.4" r="6.9" fill="#699ac8"/>
<circle cx="721.3" cy="778.5" r="6.9" fill="#f1f5f7"/>
<circle cx="864.6" cy="622.8" r="6.9" fill="#7bb3d5"/>
<circle cx="622.5" cy="309.1" r="6.9" fill="#b4d7e7"/>
<circle cx="675.4" cy="482.5" r="6.9" fill="#76add2"/>
<circle cx="906.5" cy="659.4" r="6.9" fill="#78afd3"/>
<circle cx="907.9" cy="699.5" r="6.9" fill="#d1e5f0"/>
<circle cx="837.4" cy="902.7" r="6.9" fill="#ebf2f6"/>
<circle cx="648.8" cy="995.8" r="6.9" fill="#e2eef5"/>
<circle cx="1032.2" cy="425.0" r="6.9" fill="#93c3dd"/>
<circle cx="486.2" cy="281.1" r="6.9" fill="#90c0dc"/>
<circle cx="879.6" cy="912.0" r="6.9" fill="#d1e5f0"/>
<circle cx="532.5" cy="577.6" r="6.9" fill="#e0edf4"/>
<circle cx="754.9" cy="287.2" r="6.9" fill="#b9d9e9"/>
<circle cx="691.8" cy="858.4" r="6.9" fill="#d9e9f2"/>
<circle cx="467.3" cy="374.7" r="6.9" fill="#a5cee3"/>
<circle cx="383.0" cy="730.6" r="6.9" fill="#86bad9"/>
<circle cx="333.3" cy="340.6" r="6.9" fill="#b5d7e8"/>
<circle cx="1065.2" cy="331.4" r="6.9" fill="#96c4de"/>
<circle cx="435.7" cy="442.7" r="6.9" fill="#80b6d7"/>
<circle cx="320.6" cy="317.4" r="6.9" fill="#73a8cf"/>
<circle cx="759.0" cy="792.0" r="6.9" fill="#cce3ef"/>
<circle cx="940.6" cy="894.6" r="6.9" fill="#a8d0e4"/>
<circle cx="283.2" cy="412.8" r="6.9" fill="#b1d6e7"/>
<circle cx="966.3" cy="669.8" r="6.9" fill="#79b1d4"/>
<circle cx="753.1" cy="834.5" r="6.9" fill="#b7d8e8"/>
<circle cx="332.1" cy="491.1" r="6.9" fill="#faf2ed"/>
<circle cx="730.4" cy="762.1" r="6.9" fill="#cbe2ee"/>
<circle cx="700.4" cy="316.6" r="6.9" fill="#a0cbe1"/>
<circle cx="228.5" cy="466.6" r="6.9" fill="#b2d6e7"/>
<circle cx="529.1" cy="210.2" r="6.9" fill="#6da1cb"/>
<circle cx="844.1" cy="568.3" r="6.9" fill="#7bb2d5"/>
<circle cx="654.5" cy="489.9" r="6.9" fill="#dcebf3"/>
<circle cx="775.4" cy="807.6" r="6.9" fill="#bddbea"/>
<circle cx="645.8" cy="830.6" r="6.9" fill="#e9f1f6"/>
<circle cx="880.7" cy="869.1" r="6.9" fill="#c4dfec"/>
<circle cx="689.0" cy="409.6" r="6.9" fill="#7ab1d4"/>
<circle cx="907.4" cy="316.3" r="6.9" fill="#7ab2d4"/>
<circle cx="558.9" cy="965.4" r="6.9" fill="#f9f9f9"/>
<circle cx="321.5" cy="553.4" r="6.9" fill="#ecf3f7"/>
<circle cx="573.2" cy="1035.7" r="6.9" fill="#d1e5f0"/>
<circle cx="541.0" cy="780.4" r="6.9" fill="#d7e8f2"/>
<circle cx="351.3" cy="960.0" r="6.9" fill="#e6f0f6"/>
<circle cx="376.9" cy="758.0" r="6.9" fill="#9cc8e0"/>
<circle cx="814.7" cy="737.6" r="6.9" fill="#dfedf4"/>
<circle cx="1084.1" cy="472.2" r="6.9" fill="#b0d5e6"/>
<circle cx="509.2" cy="366.7" r="6.9" fill="#97c5de"/>
<circle cx="768.0" cy="540.0" r="6.9" fill="#6393c4"/>
<circle cx="910.5" cy="936.1" r="6.9" fill="#dfecf4"/>
<circle cx="713.8" cy="428.5" r="6.9" fill="#76acd1"/>
<circle cx="656.1" cy="841.1" r="6.9" fill="#daeaf3"/>
<circle cx="777.3" cy="950.6" r="6.9" fill="#9ec9e0"/>
<circle cx="722.0" cy="714.8" r="6.9" fill="#ddecf4"/>
<circle cx="643.8" cy="522.1" r="6.9" fill="#add3e5"/>
<circle cx="340.8" cy="457.3" r="6.9" fill="#ebf2f6"/>
<circle cx="542.2" cy="373.5" r="6.9" fill="#a4cde3"/>
<circle cx="533.0" cy="578.0" r="6.9" fill="#b2d6e7"/>
<circle cx="624.5" cy="934.3" r="6.9" fill="#f8f8f9"/>
<circle cx="540.5" cy="279.5" r="6.9" fill="#b8d9e9"/>
<circle cx="669.8" cy="958.8" r="6.9" fill="#c9e2ee"/>
<circle cx="650.9" cy="864.9" r="6.9" fill="#f9f8f7"/>
<circle cx="771.0" cy="529.7" r="6.9" fill="#6393c4"/>
<circle cx="415.8" cy="827.1" r="6.9" fill="#90c0dc"/>
<circle cx="297.0" cy="339.4" r="6.9" fill="#a5cee3"/>
<circle cx="623.2" cy="545.9" r="6.9" fill="#c8e1ee"/>
<circle cx="508.8" cy="521.1" r="6.9" fill="#a3cce2"/>
<circle cx="357.0" cy="521.9" r="6.9" fill="#c4dfec"/>
<circle cx="350.3" cy="542.3" r="6.9" fill="#a5cee3"/>
<circle cx="695.3" cy="810.6" r="6.9" fill="#e3eef5"/>
<circle cx="689.1" cy="832.7" r="6.9" fill="#edf3f7"/>
<circle cx="939.5" cy="505.7" r="6.9" fill="#c9e1ee"/>
<circle cx="279.3" cy="322.0" r="6.9" fill="#96c4de"/>
<circle cx="775.5" cy="715.4" r="6.9" fill="#c1deec"/>
<circle cx="430.6" cy="448.2" r="6.9" fill="#78b0d3"/>
<circle cx="447.0" cy="866.6" r="6.9" fill="#bbdaea"/>
<circle cx="828.7" cy="716.2" r="6.9" fill="#80b6d7"/>
<circle cx="622.0" cy="1028.1" r="6.9" fill="#c1deeb"/>
<circle cx="901.3" cy="827.0" r="6.9" fill="#afd4e6"/>
<circle cx="571.2" cy="988.1" r="6.9" fill="#bfdceb"/>
<circle cx="656.0" cy="737.6" r="6.9" fill="#f5f7f8"/>
<circle cx="678.2" cy="210.7" r="6.9" fill="#7eb5d6"/>
<circle cx="911.5" cy="510.4" r="6.9" fill="#fcdecf"/>
<circle cx="683.0" cy="754.3" r="6.9" fill="#ecf3f7"/>
<circle cx="607.6" cy="831.5" r="6.9" fill="#f8f9f9"/>
<circle cx="386.3" cy="708.0" r="6.9" fill="#76add2"/>
<circle cx="841.7" cy="909.1" r="6.9" fill="#b8d9e9"/>
<circle cx="612.2" cy="264.8" r="6.9" fill="#80b6d7"/>
<circle cx="424.5" cy="810.6" r="6.9" fill="#92c2dd"/>
<circle cx="685.0" cy="552.5" r="6.9" fill="#5a80aa"/>
<circle cx="754.9" cy="879.4" r="6.9" fill="#e8f1f6"/>
<circle cx="579.5" cy="861.7" r="6.9" fill="#eaf2f6"/>
<circle cx="615.1" cy="1011.8" r="6.9" fill="#e1edf5"/>
<circle cx="607.3" cy="986.4" r="6.9" fill="#d1e5f0"/>
<circle cx="973.8" cy="473.4" r="6.9" fill="#7ab2d5"/>
<circle cx="766.1" cy="639.2" r="6.9" fill="#5a80aa"/>
<circle cx="371.4" cy="764.2" r="6.9" fill="#a7cfe3"/>
<circle cx="313.4" cy="449.1" r="6.9" fill="#92c1dc"/>
<circle cx="920.5" cy="822.3" r="6.9" fill="#d9eaf3"/>
<circle cx="881.1" cy="947.7" r="6.9" fill="#ddebf4"/>
<circle cx="412.8" cy="397.0" r="6.9" fill="#93c2dd"/>
<circle cx="916.8" cy="621.0" r="6.9" fill="#f9f9f9"/>
<circle cx="212.0" cy="382.0" r="6.9" fill="#6fa3cc"/>
<circle cx="754.3" cy="772.4" r="6.9" fill="#c3deec"/>
<circle cx="471.5" cy="388.6" r="6.9" fill="#73a8cf"/>
<circle cx="615.2" cy="465.6" r="6.9" fill="#f3f6f8"/>
<circle cx="960.4" cy="689.7" r="6.9" fill="#6da0cb"/>
<circle cx="538.5" cy="783.6" r="6.9" fill="#c2deec"/>
<circle cx="641.9" cy="887.5" r="6.9" fill="#c5e0ed"/>
<circle cx="761.5" cy="272.9" r="6.9" fill="#83b8d8"/>
<circle cx="649.3" cy="823.6" r="6.9" fill="#faf4f0"/>
<circle cx="375.7" cy="269.2" r="6.9" fill="#9ec9e0"/>
<circle cx="949.9" cy="861.4" r="6.9" fill="#b2d6e7"/>
<circle cx="414.4" cy="250.5" r="6.9" fill="#b1d5e7"/>
<circle cx="422.5" cy="245.4" r="6.9" fill="#78afd3"/>
<circle cx="299.4" cy="417.3" r="6.9" fill="#bedceb"/>
<circle cx="355.9" cy="426.2" r="6.9" fill="#e8f1f6"/>
<circle cx="504.6" cy="424.3" r="6.9" fill="#7bb3d5"/>
<circle cx="849.4" cy="794.5" r="6.9" fill="#a6cee3"/>
<circle cx="814.8" cy="409.4" r="6.9" fill="#8cbedb"/>
<circle cx="1056.7" cy="346.9" r="6.9" fill="#86bad9"/>
<circle cx="288.5" cy="373.3" r="6.9" fill="#aad1e5"/>
<circle cx="896.9" cy="925.2" r="6.9" fill="#d3e6f1"/>
<circle cx="612.5" cy="542.3" r="6.9" fill="#dfecf4"/>
<circle cx="754.2" cy="848.7" r="6.9" fill="#dbebf3"/>
<circle cx="501.9" cy="973.6" r="6.9" fill="#ebf2f6"/>
<circle cx="536.4" cy="861.4" r="6.9" fill="#f3f6f8"/>
<circle cx="563.4" cy="472.9" r="6.9" fill="#fcece2"/>
<circle cx="876.6" cy="492.1" r="6.9" fill="#b8d9e9"/>
<circle cx="349.2" cy="300.9" r="6.9" fill="#bedcea"/>
<circle cx="686.8" cy="1060.2" r="6.9" fill="#dbebf3"/>
<circle cx="876.1" cy="380.9" r="6.9" fill="#70a5cd"/>
<circle cx="547.1" cy="473.4" r="6.9" fill="#faf6f3"/>
<circle cx="782.8" cy="826.2" r="6.9" fill="#d4e7f1"/>
<circle cx="542.9" cy="527.4" r="6.9" fill="#b1d5e7"/>
<circle cx="577.2" cy="777.2" r="6.9" fill="#f1f5f7"/>
<circle cx="431.3" cy="466.5" r="6.9" fill="#f2f6f8"/>
<circle cx="411.5" cy="538.9" r="6.9" fill="#8fbfdb"/>
<circle cx="676.1" cy="402.6" r="6.9" fill="#80b6d7"/>
<circle cx="556.3" cy="550.2" r="6.9" fill="#c5dfed"/>
<circle cx="667.6" cy="701.2" r="6.9" fill="#cfe5f0"/>
<circle cx="732.7" cy="286.0" r="6.9" fill="#93c2dd"/>
<circle cx="701.8" cy="887.4" r="6.9" fill="#daeaf3"/>
<circle cx="622.0" cy="365.0" r="6.9" fill="#b2d6e7"/>
<circle cx="273.4" cy="371.5" r="6.9" fill="#8abcda"/>
<circle cx="884.8" cy="886.4" r="6.9" fill="#95c3dd"/>
<circle cx="420.0" cy="716.7" r="6.9" fill="#7bb3d5"/>
<circle cx="593.9" cy="1057.9" r="6.9" fill="#b5d7e8"/>
<circle cx="741.4" cy="822.6" r="6.9" fill="#c5e0ed"/>
<circle cx="605.7" cy="214.2" r="6.9" fill="#73a9d0"/>
<circle cx="650.6" cy="510.9" r="6.9" fill="#c7e0ed"/>
<circle cx="700.4" cy="333.5" r="6.9" fill="#a2cce2"/>
<circle cx="957.4" cy="426.2" r="6.9" fill="#92c1dc"/>
<circle cx="1012.0" cy="491.3" r="6.9" fill="#77aed2"/>
<circle cx="342.5" cy="359.3" r="6.9" fill="#c2deec"/>
<circle cx="909.4" cy="823.6" r="6.9" fill="#c5dfed"/>
<circle cx="504.0" cy="310.6" r="6.9" fill="#edf3f7"/>
<circle cx="810.9" cy="293.6" r="6.9" fill="#7bb3d5"/>
<circle cx="505.5" cy="357.0" r="6.9" fill="#b8d9e9"/>
<circle cx="532.1" cy="561.6" r="6.9" fill="#badae9"/>
<circle cx="397.8" cy="292.2" r="6.9" fill="#c5dfed"/>
<circle cx="1071.6" cy="436.9" r="6.9" fill="#7fb6d6"/>
<circle cx="517.8" cy="1037.6" r="6.9" fill="#e3eef5"/>
<circle cx="496.6" cy="982.9" r="6.9" fill="#f0f5f7"/>
<circle cx="704.9" cy="339.1" r="6.9" fill="#bfdceb"/>
<circle cx="816.0" cy="510.0" r="6.9" fill="#5a80aa"/>
<circle cx="444.8" cy="285.6" r="6.9" fill="#c4dfec"/>
<circle cx="660.7" cy="770.6" r="6.9" fill="#f4f6f8"/>
<circle cx="759.6" cy="1028.4" r="6.9" fill="#c7e0ed"/>
<circle cx="364.7" cy="394.7" r="6.9" fill="#99c6df"/>
<circle cx="468.5" cy="232.7" r="6.9" fill="#a9d1e4"/>
<circle cx="527.0" cy="438.0" r="6.9" fill="#c8e1ee"/>
<circle cx="320.0" cy="920.0" r="6.9" fill="#fbefe8"/>
<circle cx="326.1" cy="355.5" r="6.9" fill="#b7d8e8"/>
<circle cx="676.3" cy="699.8" r="6.9" fill="#eef4f7"/>
<circle cx="914.4" cy="646.7" r="6.9" fill="#6a9dc9"/>
<circle cx="843.9" cy="847.4" r="6.9" fill="#bfdceb"/>
<circle cx="906.9" cy="750.1" r="6.9" fill="#7bb3d5"/>
<circle cx="921.3" cy="628.0" r="6.9" fill="#84b8d8"/>
<circle cx="658.2" cy="1025.4" r="6.9" fill="#c7e1ed"/>
<circle cx="644.6" cy="694.1" r="6.9" fill="#e8f1f6"/>
<circle cx="711.5" cy="448.9" r="6.9" fill="#d4e7f1"/>
<circle cx="934.5" cy="837.9" r="6.9" fill="#cee4ef"/>
<circle cx="575.7" cy="888.4" r="6.9" fill="#f9f9f9"/>
<circle cx="683.2" cy="230.5" r="6.9" fill="#a7cfe3"/>
<circle cx="876.7" cy="414.1" r="6.9" fill="#75abd1"/>
<circle cx="952.0" cy="449.6" r="6.9" fill="#6595c5"/>
<circle cx="210.0" cy="394.5" r="6.9" fill="#7bb3d5"/>
<circle cx="596.9" cy="708.2" r="6.9" fill="#ddebf4"/>
<circle cx="795.5" cy="317.0" r="6.9" fill="#7cb4d5"/>
<circle cx="543.8" cy="799.4" r="6.9" fill="#e7f0f6"/>
<circle cx="826.2" cy="366.3" r="6.9" fill="#78afd3"/>
<circle cx="630.6" cy="432.9" r="6.9" fill="#c7e0ed"/>
<circle cx="586.8" cy="934.9" r="6.9" fill="#f0f5f7"/>
<circle cx="702.7" cy="824.2" r="6.9" fill="#e9f2f6"/>
<circle cx="265.3" cy="305.3" r="6.9" fill="#5a80aa"/>
<circle cx="730.7" cy="527.0" r="6.9" fill="#506e90"/>
<circle cx="686.9" cy="207.4" r="6.9" fill="#7fb5d6"/>
<circle cx="802.2" cy="628.3" r="6.9" fill="#6fa3cc"/>
<circle cx="421.3" cy="255.9" r="6.9" fill="#bfdceb"/>
<circle cx="833.2" cy="864.7" r="6.9" fill="#badae9"/>
<circle cx="532.4" cy="328.2" r="6.9" fill="#badae9"/>
<circle cx="743.5" cy="1032.7" r="6.9" fill="#badae9"/>
<circle cx="594.6" cy="481.0" r="6.9" fill="#f5f7f8"/>
<circle cx="633.4" cy="942.6" r="6.9" fill="#fde6d8"/>
<circle cx="789.1" cy="668.8" r="6.9" fill="#587da5"/>
<circle cx="907.4" cy="308.3" r="6.9" fill="#75abd0"/>
<circle cx="626.0" cy="240.0" r="6.9" fill="#95c3dd"/>
<circle cx="441.4" cy="339.9" r="6.9" fill="#c2deec"/>
<circle cx="708.8" cy="269.6" r="6.9" fill="#e4eff5"/>
<circle cx="381.4" cy="456.9" r="6.9" fill="#edf3f7"/>
<circle cx="537.4" cy="288.7" r="6.9" fill="#6da0cb"/>
<circle cx="603.3" cy="777.8" r="6.9" fill="#f9cdb9"/>
<circle cx="629.5" cy="715.1" r="6.9" fill="#eef4f7"/>
<circle cx="644.7" cy="723.7" r="6.9" fill="#e1edf4"/>
<circle cx="909.2" cy="621.1" r="6.9" fill="#d5e8f1"/>
<circle cx="656.7" cy="1056.8" r="6.9" fill="#c5e0ed"/>
<circle cx="652.1" cy="771.3" r="6.9" fill="#faf5f2"/>
<circle cx="291.5" cy="354.6" r="6.9" fill="#7db4d6"/>
<circle cx="329.8" cy="598.4" r="6.9" fill="#c2deec"/>
<circle cx="779.4" cy="498.8" r="6.9" fill="#6fa3cc"/>
<circle cx="847.3" cy="575.1" r="6.9" fill="#9bc7df"/>
<circle cx="451.6" cy="508.1" r="6.9" fill="#81b7d7"/>
<circle cx="745.5" cy="432.9" r="6.9" fill="#7bb3d5"/>
<circle cx="732.4" cy="740.2" r="6.9" fill="#d6e8f1"/>
<circle cx="992.7" cy="795.9" r="6.9" fill="#5a82ad"/>
<circle cx="265.0" cy="402.6" r="6.9" fill="#7bb3d5"/>
<circle cx="1020.0" cy="262.0" r="6.9" fill="#e6f0f6"/>
<circle cx="605.1" cy="435.9" r="6.9" fill="#f1f5f7"/>
<circle cx="629.1" cy="1044.6" r="6.9" fill="#bedcea"/>
<circle cx="592.9" cy="1049.5" r="6.9" fill="#a9d0e4"/>
<circle cx="755.2" cy="622.8" r="6.9" fill="#c8e1ee"/>
<circle cx="439.8" cy="410.5" r="6.9" fill="#b5d8e8"/>
<circle cx="378.4" cy="404.2" r="6.9" fill="#9ac7df"/>
<circle cx="512.3" cy="327.3" r="6.9" fill="#d0e5f0"/>
<circle cx="826.5" cy="752.2" r="6.9" fill="#c3dfec"/>
<circle cx="388.4" cy="467.8" r="6.9" fill="#d0e5f0"/>
<circle cx="762.1" cy="414.1" r="6.9" fill="#a2cce2"/>
<circle cx="860.3" cy="365.0" r="6.9" fill="#79b1d4"/>
<circle cx="645.7" cy="985.9" r="6.9" fill="#ecf3f7"/>
<circle cx="741.1" cy="273.3" r="6.9" fill="#b1d5e7"/>
<circle cx="736.6" cy="846.3" r="6.9" fill="#cce3ef"/>
<circle cx="580.2" cy="784.9" r="6.9" fill="#fbf0e9"/>
<circle cx="903.6" cy="794.4" r="6.9" fill="#b4d7e8"/>
<circle cx="533.2" cy="901.7" r="6.9" fill="#e1edf5"/>
<circle cx="816.4" cy="633.8" r="6.9" fill="#96c4de"/>
<circle cx="933.0" cy="660.9" r="6.9" fill="#8bbdda"/>
<circle cx="845.6" cy="590.6" r="6.9" fill="#a3cde2"/>
<circle cx="330.4" cy="551.2" r="6.9" fill="#f9f9f8"/>
<circle cx="418.1" cy="801.9" r="6.9" fill="#8fc0dc"/>
<circle cx="739.6" cy="247.8" r="6.9" fill="#8cbeda"/>
<circle cx="404.8" cy="810.9" r="6.9" fill="#7ab2d4"/>
<circle cx="601.4" cy="838.1" r="6.9" fill="#fceadf"/>
<circle cx="708.0" cy="1003.3" r="6.9" fill="#d2e6f1"/>
<circle cx="408.5" cy="467.3" r="6.9" fill="#bcdbea"/>
<circle cx="712.2" cy="701.8" r="6.9" fill="#f0f5f7"/>
<circle cx="432.5" cy="838.1" r="6.9" fill="#89bcda"/>
<circle cx="625.9" cy="223.4" r="6.9" fill="#94c3dd"/>
<circle cx="829.4" cy="793.0" r="6.9" fill="#b4d7e8"/>
<circle cx="223.4" cy="425.0" r="6.9" fill="#8cbeda"/>
<circle cx="398.0" cy="708.0" r="6.9" fill="#76add2"/>
<circle cx="620.8" cy="1060.3" r="6.9" fill="#cee4ef"/>
<circle cx="314.7" cy="499.2" r="6.9" fill="#f7f8f9"/>
<circle cx="730.0" cy="436.9" r="6.9" fill="#74a9d0"/>
<circle cx="608.3" cy="489.6" r="6.9" fill="#d3e7f1"/>
<circle cx="531.5" cy="1013.5" r="6.9" fill="#cde4ef"/>
<circle cx="689.2" cy="799.3" r="6.9" fill="#f9f8f7"/>
<circle cx="903.1" cy="655.1" r="6.9" fill="#86bad9"/>
<circle cx="552.4" cy="861.4" r="6.9" fill="#faf3ef"/>
<circle cx="595.4" cy="1009.7" r="6.9" fill="#aed3e6"/>
<circle cx="291.4" cy="381.5" r="6.9" fill="#add3e5"/>
<circle cx="896.9" cy="802.5" r="6.9" fill="#d3e7f1"/>
<circle cx="342.1" cy="434.1" r="6.9" fill="#faf4f0"/>
<circle cx="626.6" cy="896.9" r="6.9" fill="#faf5f3"/>
<circle cx="738.8" cy="662.2" r="6.9" fill="#6fa3cc"/>
<circle cx="750.6" cy="1037.2" r="6.9" fill="#d3e6f1"/>
<circle cx="649.1" cy="885.1" r="6.9" fill="#90c1dc"/>
<circle cx="383.4" cy="537.9" r="6.9" fill="#bedcea"/>
<circle cx="543.1" cy="923.9" r="6.9" fill="#f1f5f8"/>
<circle cx="795.7" cy="942.3" r="6.9" fill="#b8d9e9"/>
<circle cx="513.3" cy="933.3" r="6.9" fill="#e0edf4"/>
<circle cx="412.2" cy="832.0" r="6.9" fill="#86bad9"/>
<circle cx="403.2" cy="348.0" r="6.9" fill="#b5d8e8"/>
<circle cx="424.9" cy="357.4" r="6.9" fill="#add3e5"/>
<circle cx="864.5" cy="888.4" r="6.9" fill="#d9eaf3"/>
<circle cx="485.7" cy="997.8" r="6.9" fill="#eaf2f6"/>
<circle cx="674.8" cy="278.5" r="6.9" fill="#a8d0e4"/>
<circle cx="905.5" cy="489.2" r="6.9" fill="#d3e6f1"/>
<circle cx="925.8" cy="536.6" r="6.9" fill="#a2cce2"/>
<circle cx="638.2" cy="777.4" r="6.9" fill="#fcece3"/>
<circle cx="586.0" cy="905.2" r="6.9" fill="#faf4f0"/>
<circle cx="695.0" cy="713.3" r="6.9" fill="#fce8dc"/>
<circle cx="858.3" cy="379.7" r="6.9" fill="#88bbd9"/>
<circle cx="611.9" cy="249.3" r="6.9" fill="#b7d9e9"/>
<circle cx="416.4" cy="343.4" r="6.9" fill="#8ebfdb"/>
<circle cx="705.7" cy="866.1" r="6.9" fill="#d6e8f2"/>
<circle cx="341.0" cy="364.6" r="6.9" fill="#a9d1e4"/>
<circle cx="327.2" cy="371.3" r="6.9" fill="#bcdbea"/>
<circle cx="475.6" cy="374.2" r="6.9" fill="#b9dae9"/>
<circle cx="452.1" cy="343.9" r="6.9" fill="#7ab1d4"/>
<circle cx="899.7" cy="684.7" r="6.9" fill="#a6cee3"/>
<circle cx="957.5" cy="900.8" r="6.9" fill="#bbdbea"/>
<circle cx="769.5" cy="877.3" r="6.9" fill="#cfe5f0"/>
<circle cx="1031.9" cy="458.1" r="6.9" fill="#6da0cb"/>
<circle cx="777.8" cy="972.3" r="6.9" fill="#d1e5f0"/>
<circle cx="828.5" cy="405.8" r="6.9" fill="#8fc0db"/>
<circle cx="422.1" cy="827.0" r="6.9" fill="#91c1dc"/>
<circle cx="685.6" cy="448.5" r="6.9" fill="#6290c0"/>
<circle cx="374.9" cy="801.8" r="6.9" fill="#73a8cf"/>
<circle cx="336.5" cy="331.3" r="6.9" fill="#c0ddeb"/>
<circle cx="866.0" cy="946.9" r="6.9" fill="#c4dfec"/>
<circle cx="727.6" cy="880.1" r="6.9" fill="#dfedf4"/>
<circle cx="565.9" cy="880.7" r="6.9" fill="#f9f7f6"/>
<circle cx="588.5" cy="707.3" r="6.9" fill="#aed4e6"/>
<circle cx="452.8" cy="705.0" r="6.9" fill="#c8e1ee"/>
<circle cx="464.6" cy="428.9" r="6.9" fill="#87bbd9"/>
<circle cx="801.5" cy="936.3" r="6.9" fill="#a0cbe1"/>
<circle cx="611.0" cy="877.5" r="6.9" fill="#eff4f7"/>
<circle cx="1005.5" cy="830.7" r="6.9" fill="#6595c5"/>
<circle cx="363.6" cy="285.2" r="6.9" fill="#94c3dd"/>
<circle cx="868.0" cy="427.9" r="6.9" fill="#72a7ce"/>
<circle cx="602.5" cy="1060.8" r="6.9" fill="#abd1e5"/>
<circle cx="827.0" cy="825.8" r="6.9" fill="#f4f7f8"/>
<circle cx="576.3" cy="995.7" r="6.9" fill="#b4d7e8"/>
<circle cx="543.2" cy="858.2" r="6.9" fill="#faf5f2"/>
<circle cx="457.2" cy="849.3" r="6.9" fill="#87bbd9"/>
<circle cx="319.2" cy="490.4" r="6.9" fill="#f5f7f8"/>
<circle cx="795.3" cy="771.6" r="6.9" fill="#c0ddeb"/>
<circle cx="734.4" cy="655.6" r="6.9" fill="#b2d6e7"/>
<circle cx="519.1" cy="785.7" r="6.9" fill="#75abd1"/>
<circle cx="454.4" cy="239.1" r="6.9" fill="#b0d5e6"/>
<circle cx="802.9" cy="312.6" r="6.9" fill="#73a8cf"/>
<circle cx="633.1" cy="449.2" r="6.9" fill="#a4cde3"/>
<circle cx="732.7" cy="253.6" r="6.9" fill="#7cb4d5"/>
<circle cx="398.7" cy="387.5" r="6.9" fill="#a7cfe3"/>
<circle cx="659.7" cy="697.8" r="6.9" fill="#f0f4f7"/>
<circle cx="1083.7" cy="490.3" r="6.9" fill="#94c3dd"/>
<circle cx="509.7" cy="284.4" r="6.9" fill="#aad1e4"/>
<circle cx="569.4" cy="529.3" r="6.9" fill="#d3e6f1"/>
<circle cx="826.3" cy="695.0" r="6.9" fill="#5a80aa"/>
<circle cx="868.9" cy="348.0" r="6.9" fill="#94c3dd"/>
<circle cx="207.2" cy="412.8" r="6.9" fill="#7bb3d5"/>
<circle cx="663.1" cy="755.1" r="6.9" fill="#faf2ed"/>
<circle cx="766.2" cy="822.7" r="6.9" fill="#b1d5e7"/>
<circle cx="890.9" cy="387.3" r="6.9" fill="#6da1cb"/>
<circle cx="931.7" cy="303.4" r="6.9" fill="#94c3dd"/>
<circle cx="596.0" cy="452.2" r="6.9" fill="#f0f5f7"/>
<circle cx="651.5" cy="476.3" r="6.9" fill="#e2eef5"/>
<circle cx="599.3" cy="1003.3" r="6.9" fill="#c5dfec"/>
<circle cx="474.6" cy="302.7" r="6.9" fill="#acd2e5"/>
<circle cx="818.4" cy="760.4" r="6.9" fill="#d3e6f1"/>
<circle cx="635.6" cy="959.0" r="6.9" fill="#f9f8f7"/>
<circle cx="675.5" cy="717.4" r="6.9" fill="#e2eef5"/>
<circle cx="666.5" cy="824.9" r="6.9" fill="#f5f7f8"/>
<circle cx="863.2" cy="915.7" r="6.9" fill="#cbe3ef"/>
<circle cx="745.7" cy="305.0" r="6.9" fill="#8bbdda"/>
<circle cx="552.6" cy="537.2" r="6.9" fill="#e0edf4"/>
<circle cx="683.5" cy="685.4" r="6.9" fill="#faf5f1"/>
<circle cx="550.5" cy="964.0" r="6.9" fill="#dbebf3"/>
<circle cx="544.7" cy="209.2" r="6.9" fill="#6da0cb"/>
<circle cx="288.0" cy="312.9" r="6.9" fill="#add3e5"/>
<circle cx="926.8" cy="389.6" r="6.9" fill="#71a5ce"/>
<circle cx="993.3" cy="651.2" r="6.9" fill="#6b9eca"/>
<circle cx="539.1" cy="357.4" r="6.9" fill="#aed3e6"/>
<circle cx="847.8" cy="526.5" r="6.9" fill="#e4eff5"/>
<circle cx="594.4" cy="811.5" r="6.9" fill="#fbefe8"/>
<circle cx="858.9" cy="521.9" r="6.9" fill="#f7f8f9"/>
<circle cx="386.1" cy="807.1" r="6.9" fill="#73a9d0"/>
<circle cx="350.0" cy="955.0" r="6.9" fill="#e6f0f6"/>
<circle cx="971.9" cy="811.6" r="6.9" fill="#90c0dc"/>
<circle cx="607.7" cy="238.1" r="6.9" fill="#add3e5"/>
<circle cx="345.2" cy="347.1" r="6.9" fill="#86bad8"/>
<circle cx="887.8" cy="659.1" r="6.9" fill="#6fa3cd"/>
<circle cx="789.9" cy="272.2" r="6.9" fill="#7db4d6"/>
<circle cx="846.6" cy="838.1" r="6.9" fill="#cbe2ee"/>
<circle cx="370.6" cy="420.2" r="6.9" fill="#daeaf3"/>
<circle cx="994.9" cy="865.2" r="6.9" fill="#b2d6e7"/>
<circle cx="693.7" cy="1013.8" r="6.9" fill="#bddcea"/>
<circle cx="759.8" cy="752.1" r="6.9" fill="#c6e0ed"/>
<circle cx="615.6" cy="410.6" r="6.9" fill="#c6e0ed"/>
<circle cx="388.8" cy="513.3" r="6.9" fill="#d8e9f2"/>
<circle cx="904.4" cy="878.7" r="6.9" fill="#c2deec"/>
<circle cx="238.7" cy="411.8" r="6.9" fill="#7bb3d5"/>
<circle cx="901.8" cy="371.5" r="6.9" fill="#7bb3d5"/>
<circle cx="664.7" cy="962.5" r="6.9" fill="#d1e5f0"/>
<circle cx="556.4" cy="978.1" r="6.9" fill="#e3eef5"/>
<circle cx="881.0" cy="404.3" r="6.9" fill="#70a4cd"/>
<circle cx="692.7" cy="886.6" r="6.9" fill="#d4e7f1"/>
<circle cx="904.7" cy="678.1" r="6.9" fill="#9fcae1"/>
<circle cx="703.5" cy="386.2" r="6.9" fill="#77add2"/>
<circle cx="534.2" cy="518.2" r="6.9" fill="#9bc7e0"/>
<circle cx="858.2" cy="915.8" r="6.9" fill="#c5e0ed"/>
<circle cx="694.2" cy="1025.3" r="6.9" fill="#a4cde2"/>
<circle cx="489.0" cy="786.5" r="6.9" fill="#5a81ab"/>
<circle cx="598.2" cy="410.1" r="6.9" fill="#ddebf4"/>
<circle cx="964.0" cy="839.0" r="6.9" fill="#a5cde3"/>
<circle cx="617.2" cy="972.7" r="6.9" fill="#f5f7f8"/>
<circle cx="673.2" cy="736.8" r="6.9" fill="#f3f6f8"/>
<circle cx="415.8" cy="557.4" r="6.9" fill="#9dc8e0"/>
<circle cx="551.9" cy="927.8" r="6.9" fill="#f4f6f8"/>
<circle cx="349.9" cy="420.1" r="6.9" fill="#eaf2f6"/>
<circle cx="320.7" cy="301.6" r="6.9" fill="#bfdceb"/>
<circle cx="333.0" cy="295.6" r="6.9" fill="#b4d7e7"/>
<circle cx="495.9" cy="905.1" r="6.9" fill="#d3e7f1"/>
<circle cx="355.1" cy="410.7" r="6.9" fill="#a4cde2"/>
<circle cx="871.3" cy="363.3" r="6.9" fill="#72a7cf"/>
<circle cx="736.8" cy="910.4" r="6.9" fill="#c0ddeb"/>
<circle cx="573.6" cy="326.8" r="6.9" fill="#75acd1"/>
<circle cx="914.1" cy="366.2" r="6.9" fill="#7bb3d5"/>
<circle cx="850.7" cy="817.2" r="6.9" fill="#7ab2d5"/>
<circle cx="508.7" cy="941.7" r="6.9" fill="#e5eff5"/>
<circle cx="446.9" cy="366.4" r="6.9" fill="#94c3dd"/>
<circle cx="671.0" cy="815.7" r="6.9" fill="#f9f7f6"/>
<circle cx="579.3" cy="497.3" r="6.9" fill="#dcebf4"/>
<circle cx="965.0" cy="822.8" r="6.9" fill="#7fb6d6"/>
<circle cx="508.3" cy="691.7" r="6.9" fill="#96c4de"/>
<circle cx="626.9" cy="273.6" r="6.9" fill="#6c9fcb"/>
<circle cx="933.9" cy="504.2" r="6.9" fill="#c7e0ed"/>
<circle cx="659.9" cy="1074.5" r="6.9" fill="#c5dfed"/>
<circle cx="689.6" cy="272.3" r="6.9" fill="#e4eff5"/>
<circle cx="665.7" cy="417.8" r="6.9" fill="#9bc7df"/>
<circle cx="1032.8" cy="272.3" r="6.9" fill="#ecf2f6"/>
<circle cx="321.8" cy="425.6" r="6.9" fill="#eaf2f6"/>
<circle cx="717.2" cy="846.2" r="6.9" fill="#eaf2f6"/>
<circle cx="564.2" cy="989.7" r="6.9" fill="#b7d8e8"/>
<circle cx="663.4" cy="802.7" r="6.9" fill="#f9f9f9"/>
<circle cx="885.1" cy="924.7" r="6.9" fill="#f2f6f8"/>
<circle cx="828.1" cy="842.3" r="6.9" fill="#f7f8f9"/>
<circle cx="573.1" cy="471.5" r="6.9" fill="#f4f6f8"/>
<circle cx="1038.3" cy="444.3" r="6.9" fill="#75abd1"/>
<circle cx="626.2" cy="738.6" r="6.9" fill="#faf6f4"/>
<circle cx="399.2" cy="535.9" r="6.9" fill="#7ab2d4"/>
<circle cx="650.5" cy="231.3" r="6.9" fill="#7bb3d5"/>
<circle cx="619.9" cy="272.7" r="6.9" fill="#9ec9e0"/>
<circle cx="977.0" cy="846.9" r="6.9" fill="#a6cee3"/>
<circle cx="706.7" cy="397.1" r="6.9" fill="#71a6ce"/>
<circle cx="576.5" cy="964.9" r="6.9" fill="#e0edf4"/>
<circle cx="251.3" cy="381.0" r="6.9" fill="#96c4de"/>
<circle cx="617.7" cy="958.2" r="6.9" fill="#e4eff5"/>
<circle cx="1072.4" cy="510.4" r="6.9" fill="#6697c6"/>
<circle cx="858.5" cy="434.3" r="6.9" fill="#c7e1ed"/>
<circle cx="655.8" cy="856.8" r="6.9" fill="#edf3f7"/>
<circle cx="350.4" cy="513.8" r="6.9" fill="#e4eff5"/>
<circle cx="747.4" cy="421.3" r="6.9" fill="#99c6df"/>
<circle cx="588.0" cy="479.2" r="6.9" fill="#e8f1f6"/>
<circle cx="647.9" cy="1045.1" r="6.9" fill="#bddcea"/>
<circle cx="981.4" cy="780.5" r="6.9" fill="#6393c3"/>
<circle cx="620.7" cy="856.5" r="6.9" fill="#c8e1ee"/>
<circle cx="948.3" cy="809.2" r="6.9" fill="#c9e2ee"/>
<circle cx="733.7" cy="318.8" r="6.9" fill="#7cb4d5"/>
<circle cx="500.0" cy="709.0" r="6.9" fill="#b2d6e7"/>
<circle cx="429.5" cy="378.0" r="6.9" fill="#7db4d6"/>
<circle cx="693.7" cy="822.2" r="6.9" fill="#e2eef5"/>
<circle cx="727.9" cy="854.7" r="6.9" fill="#d3e7f1"/>
<circle cx="357.0" cy="487.2" r="6.9" fill="#e7f0f6"/>
<circle cx="967.5" cy="440.4" r="6.9" fill="#7cb3d5"/>
<circle cx="810.2" cy="806.6" r="6.9" fill="#b2d6e7"/>
<circle cx="531.1" cy="342.9" r="6.9" fill="#87bbd9"/>
<circle cx="694.5" cy="463.9" r="6.9" fill="#6392c3"/>
<circle cx="734.8" cy="752.7" r="6.9" fill="#d7e9f2"/>
<circle cx="539.0" cy="245.8" r="6.9" fill="#73a9d0"/>
<circle cx="881.4" cy="840.5" r="6.9" fill="#d7e8f2"/>
<circle cx="655.3" cy="1067.7" r="6.9" fill="#99c6df"/>
<circle cx="648.8" cy="747.6" r="6.9" fill="#fbede4"/>
<circle cx="312.5" cy="472.6" r="6.9" fill="#e2eef5"/>
<circle cx="775.5" cy="966.1" r="6.9" fill="#b9d9e9"/>
<circle cx="420.5" cy="348.6" r="6.9" fill="#d6e8f2"/>
<circle cx="372.8" cy="429.1" r="6.9" fill="#a4cde2"/>
<circle cx="852.8" cy="583.8" r="6.9" fill="#7ab2d5"/>
<circle cx="1001.4" cy="826.4" r="6.9" fill="#76acd1"/>
<circle cx="367.5" cy="751.0" r="6.9" fill="#9cc8e0"/>
<circle cx="627.1" cy="503.7" r="6.9" fill="#c4dfec"/>
<circle cx="618.9" cy="819.2" r="6.9" fill="#fde6d9"/>
<circle cx="780.6" cy="284.4" r="6.9" fill="#82b7d7"/>
<circle cx="354.2" cy="507.2" r="6.9" fill="#f6f8f8"/>
<circle cx="629.0" cy="499.7" r="6.9" fill="#cde4ef"/>
<circle cx="667.6" cy="263.0" r="6.9" fill="#7ab2d4"/>
<circle cx="826.3" cy="955.3" r="6.9" fill="#edf3f7"/>
<circle cx="598.3" cy="300.0" r="6.9" fill="#a9d1e4"/>
<circle cx="363.4" cy="842.8" r="6.9" fill="#506e90"/>
<circle cx="708.3" cy="986.5" r="6.9" fill="#a3cde2"/>
<circle cx="674.2" cy="905.1" r="6.9" fill="#d6e8f2"/>
<circle cx="589.4" cy="351.9" r="6.9" fill="#7bb3d5"/>
<circle cx="769.3" cy="425.8" r="6.9" fill="#6b9eca"/>
<circle cx="599.9" cy="689.8" r="6.9" fill="#bcdbea"/>
<circle cx="1110.0" cy="512.2" r="6.9" fill="#7db5d6"/>
<circle cx="399.3" cy="238.5" r="6.9" fill="#a7cfe3"/>
<circle cx="834.2" cy="351.7" r="6.9" fill="#78afd3"/>
<circle cx="954.5" cy="889.1" r="6.9" fill="#a8d0e4"/>
<circle cx="488.2" cy="387.2" r="6.9" fill="#8ebfdb"/>
<circle cx="939.5" cy="301.3" r="6.9" fill="#86bad9"/>
<circle cx="578.0" cy="823.6" r="6.9" fill="#e3eef5"/>
<circle cx="894.1" cy="335.4" r="6.9" fill="#82b7d7"/>
<circle cx="455.0" cy="382.4" r="6.9" fill="#7cb3d5"/>
<circle cx="350.5" cy="841.5" r="6.9" fill="#6190c0"/>
<circle cx="991.4" cy="326.8" r="6.9" fill="#74aad0"/>
<circle cx="585.1" cy="746.0" r="6.9" fill="#e8f1f6"/>
<circle cx="383.3" cy="395.0" r="6.9" fill="#b7d8e8"/>
<circle cx="876.2" cy="332.0" r="6.9" fill="#70a4cd"/>
<circle cx="894.3" cy="504.6" r="6.9" fill="#fad3c0"/>
<circle cx="627.4" cy="412.8" r="6.9" fill="#f0f5f7"/>
<circle cx="694.1" cy="405.8" r="6.9" fill="#73a8cf"/>
<circle cx="637.9" cy="463.6" r="6.9" fill="#d8e9f2"/>
<circle cx="534.0" cy="1033.3" r="6.9" fill="#e3eff5"/>
<circle cx="895.7" cy="661.2" r="6.9" fill="#99c6df"/>
<circle cx="302.2" cy="347.5" r="6.9" fill="#9bc7df"/>
<circle cx="582.6" cy="1001.8" r="6.9" fill="#c9e2ee"/>
<circle cx="737.5" cy="434.0" r="6.9" fill="#99c6df"/>
<circle cx="509.2" cy="225.4" r="6.9" fill="#91c1dc"/>
<circle cx="615.2" cy="521.3" r="6.9" fill="#dbebf3"/>
<circle cx="898.4" cy="596.6" r="6.9" fill="#fcece3"/>
<circle cx="916.5" cy="426.9" r="6.9" fill="#b3d6e7"/>
<circle cx="630.9" cy="231.1" r="6.9" fill="#9cc8e0"/>
<circle cx="677.7" cy="839.0" r="6.9" fill="#e2eef5"/>
<circle cx="1028.6" cy="297.7" r="6.9" fill="#e3eff5"/>
<circle cx="390.0" cy="562.3" r="6.9" fill="#a9d0e4"/>
<circle cx="360.9" cy="511.3" r="6.9" fill="#f6f7f8"/>
<circle cx="837.6" cy="355.3" r="6.9" fill="#6c9fca"/>
<circle cx="352.4" cy="826.4" r="6.9" fill="#98c5de"/>
<circle cx="866.5" cy="323.8" r="6.9" fill="#6b9eca"/>
<circle cx="721.9" cy="1042.7" r="6.9" fill="#cbe2ee"/>
<circle cx="615.1" cy="737.1" r="6.9" fill="#f9f7f6"/>
<circle cx="490.6" cy="269.9" r="6.9" fill="#abd2e5"/>
<circle cx="780.1" cy="924.8" r="6.9" fill="#cce3ef"/>
<circle cx="538.5" cy="241.3" r="6.9" fill="#80b6d7"/>
<circle cx="461.9" cy="248.9" r="6.9" fill="#9cc8e0"/>
<circle cx="957.2" cy="302.7" r="6.9" fill="#73a8cf"/>
<circle cx="783.5" cy="886.1" r="6.9" fill="#cae2ee"/>
<circle cx="244.7" cy="479.8" r="6.9" fill="#5a80aa"/>
<circle cx="452.1" cy="356.5" r="6.9" fill="#b4d7e8"/>
<circle cx="886.4" cy="381.9" r="6.9" fill="#7db4d5"/>
<circle cx="335.9" cy="802.1" r="6.9" fill="#5e8ab7"/>
<circle cx="382.2" cy="410.3" r="6.9" fill="#d0e5f0"/>
<circle cx="530.1" cy="481.6" r="6.9" fill="#a1cbe1"/>
<circle cx="968.6" cy="677.6" r="6.9" fill="#a4cde2"/>
<circle cx="705.5" cy="769.3" r="6.9" fill="#d7e8f2"/>
<circle cx="884.6" cy="374.2" r="6.9" fill="#a1cbe1"/>
<circle cx="628.4" cy="926.8" r="6.9" fill="#fcebe0"/>
<circle cx="827.8" cy="733.2" r="6.9" fill="#d0e5f0"/>
<circle cx="550.2" cy="464.0" r="6.9" fill="#f9f9f9"/>
<circle cx="497.0" cy="230.7" r="6.9" fill="#70a5cd"/>
<circle cx="872.9" cy="326.0" r="6.9" fill="#8fc0dc"/>
<circle cx="613.3" cy="232.8" r="6.9" fill="#93c2dd"/>
<circle cx="917.8" cy="511.2" r="6.9" fill="#fce8dc"/>
<circle cx="637.6" cy="1002.5" r="6.9" fill="#c9e1ee"/>
<circle cx="655.7" cy="255.3" r="6.9" fill="#6b9eca"/>
<circle cx="598.9" cy="1052.2" r="6.9" fill="#8dbedb"/>
<circle cx="647.8" cy="529.9" r="6.9" fill="#b3d7e7"/>
<circle cx="519.3" cy="432.5" r="6.9" fill="#f9f9f9"/>
<circle cx="718.5" cy="449.7" r="6.9" fill="#b3d6e7"/>
<circle cx="647.5" cy="626.0" r="6.9" fill="#5679a0"/>
<circle cx="339.2" cy="428.8" r="6.9" fill="#e4eff5"/>
<circle cx="654.3" cy="939.4" r="6.9" fill="#f9f9f9"/>
<circle cx="811.0" cy="636.0" r="6.9" fill="#7bb3d5"/>
<circle cx="653.6" cy="285.2" r="6.9" fill="#9cc8e0"/>
<circle cx="654.4" cy="708.3" r="6.9" fill="#e9f1f6"/>
<circle cx="460.7" cy="810.8" r="6.9" fill="#8dbfdb"/>
<circle cx="973.0" cy="652.4" r="6.9" fill="#81b7d7"/>
<circle cx="552.1" cy="1074.5" r="6.9" fill="#91c1dc"/>
<circle cx="470.9" cy="347.7" r="6.9" fill="#a0cbe1"/>
<circle cx="916.1" cy="393.5" r="6.9" fill="#8abcda"/>
<circle cx="926.6" cy="841.9" r="6.9" fill="#badae9"/>
<circle cx="477.4" cy="421.1" r="6.9" fill="#b5d8e8"/>
<circle cx="1010.6" cy="437.1" r="6.9" fill="#79b0d4"/>
<circle cx="748.5" cy="543.8" r="6.9" fill="#6393c4"/>
<circle cx="580.1" cy="519.8" r="6.9" fill="#e4eff5"/>
<circle cx="436.4" cy="732.3" r="6.9" fill="#6a9dc9"/>
<circle cx="538.8" cy="475.5" r="6.9" fill="#ebf2f6"/>
<circle cx="450.8" cy="387.8" r="6.9" fill="#8dbfdb"/>
<circle cx="521.3" cy="497.6" r="6.9" fill="#78b0d3"/>
<circle cx="484.0" cy="856.5" r="6.9" fill="#96c4de"/>
<circle cx="502.0" cy="698.0" r="6.9" fill="#b2d6e7"/>
<circle cx="412.6" cy="304.7" r="6.9" fill="#bcdbea"/>
<circle cx="620.0" cy="998.5" r="6.9" fill="#eaf2f6"/>
<circle cx="596.3" cy="978.7" r="6.9" fill="#d2e6f0"/>
<circle cx="713.6" cy="929.0" r="6.9" fill="#6291c1"/>
<circle cx="786.6" cy="327.6" r="6.9" fill="#6c9fca"/>
<circle cx="962.6" cy="651.8" r="6.9" fill="#6ea1cc"/>
<circle cx="472.0" cy="895.0" r="6.9" fill="#76add2"/>
<circle cx="593.0" cy="505.8" r="6.9" fill="#eff4f7"/>
<circle cx="581.3" cy="255.6" r="6.9" fill="#a5cee3"/>
<circle cx="951.6" cy="694.4" r="6.9" fill="#76add2"/>
<circle cx="394.0" cy="774.4" r="6.9" fill="#86bad9"/>
<circle cx="796.6" cy="816.2" r="6.9" fill="#c1ddeb"/>
<circle cx="631.6" cy="979.9" r="6.9" fill="#e7f0f6"/>
<circle cx="313.4" cy="429.0" r="6.9" fill="#bfdceb"/>
<circle cx="899.1" cy="437.5" r="6.9" fill="#7ab1d4"/>
<circle cx="701.2" cy="374.1" r="6.9" fill="#8cbedb"/>
<circle cx="593.4" cy="467.5" r="6.9" fill="#f9f7f5"/>
<circle cx="613.9" cy="838.9" r="6.9" fill="#f9f9f9"/>
<circle cx="786.4" cy="840.7" r="6.9" fill="#e8f1f6"/>
<circle cx="634.4" cy="896.3" r="6.9" fill="#d6e8f2"/>
<circle cx="390.3" cy="249.0" r="6.9" fill="#86bad9"/>
<circle cx="264.0" cy="412.8" r="6.9" fill="#7bb3d5"/>
<circle cx="725.9" cy="819.1" r="6.9" fill="#f3f6f8"/>
<circle cx="650.8" cy="760.0" r="6.9" fill="#f9cdb8"/>
<circle cx="878.4" cy="365.9" r="6.9" fill="#91c1dc"/>
<circle cx="399.5" cy="856.3" r="6.9" fill="#b4d7e7"/>
<circle cx="381.2" cy="574.2" r="6.9" fill="#a2cce2"/>
<circle cx="714.1" cy="287.2" r="6.9" fill="#98c5de"/>
<circle cx="725.7" cy="708.1" r="6.9" fill="#afd4e6"/>
<circle cx="756.8" cy="420.2" r="6.9" fill="#99c6df"/>
<circle cx="723.6" cy="437.4" r="6.9" fill="#99c6df"/>
<circle cx="540.8" cy="451.4" r="6.9" fill="#cae2ee"/>
<circle cx="378.0" cy="839.8" r="6.9" fill="#8abcda"/>
<circle cx="524.9" cy="537.1" r="6.9" fill="#94c3dd"/>
<circle cx="445.4" cy="427.1" r="6.9" fill="#75abd1"/>
<circle cx="604.0" cy="795.9" r="6.9" fill="#fceae0"/>
<circle cx="904.4" cy="506.0" r="6.9" fill="#f9f7f5"/>
<circle cx="585.5" cy="807.8" r="6.9" fill="#fcebe1"/>
<circle cx="794.8" cy="811.4" r="6.9" fill="#badae9"/>
<circle cx="376.7" cy="443.3" r="6.9" fill="#d8e9f2"/>
<circle cx="642.2" cy="755.6" r="6.9" fill="#fad2bf"/>
<circle cx="407.5" cy="450.1" r="6.9" fill="#93c2dd"/>
<circle cx="375.6" cy="492.1" r="6.9" fill="#f4f7f8"/>
<circle cx="379.2" cy="326.3" r="6.9" fill="#f9f8f7"/>
<circle cx="667.3" cy="510.4" r="6.9" fill="#699bc8"/>
<circle cx="434.4" cy="793.4" r="6.9" fill="#85b9d8"/>
<circle cx="591.9" cy="518.2" r="6.9" fill="#d9e9f2"/>
<circle cx="676.5" cy="825.3" r="6.9" fill="#f9f9f9"/>
<circle cx="564.2" cy="1048.3" r="6.9" fill="#ddebf4"/>
<circle cx="690.7" cy="334.3" r="6.9" fill="#dcebf3"/>
<circle cx="741.0" cy="401.0" r="6.9" fill="#6a9dc9"/>
<circle cx="601.3" cy="754.1" r="6.9" fill="#fcddce"/>
<circle cx="512.2" cy="527.6" r="6.9" fill="#a9d1e4"/>
<circle cx="907.7" cy="801.4" r="6.9" fill="#a7cfe3"/>
<circle cx="719.5" cy="621.2" r="6.9" fill="#faf2ed"/>
<circle cx="414.9" cy="452.9" r="6.9" fill="#9fcae1"/>
<circle cx="1066.6" cy="306.1" r="6.9" fill="#86bad9"/>
<circle cx="822.4" cy="895.7" r="6.9" fill="#b9d9e9"/>
<circle cx="762.5" cy="541.0" r="6.9" fill="#6393c4"/>
<circle cx="947.3" cy="434.6" r="6.9" fill="#abd2e5"/>
<circle cx="806.8" cy="895.1" r="6.9" fill="#bddbea"/>
<circle cx="804.7" cy="452.3" r="6.9" fill="#7bb3d5"/>
<circle cx="610.4" cy="302.2" r="6.9" fill="#b8d9e9"/>
<circle cx="602.0" cy="542.3" r="6.9" fill="#d7e8f2"/>
<circle cx="293.5" cy="441.7" r="6.9" fill="#bbdaea"/>
<circle cx="649.4" cy="279.5" r="6.9" fill="#8abcda"/>
<circle cx="589.2" cy="253.8" r="6.9" fill="#a1cbe1"/>
<circle cx="328.0" cy="580.9" r="6.9" fill="#cbe3ee"/>
<circle cx="581.0" cy="819.2" r="6.9" fill="#fbeee7"/>
<circle cx="426.4" cy="412.6" r="6.9" fill="#8fc0dc"/>
<circle cx="481.1" cy="394.1" r="6.9" fill="#78afd3"/>
<circle cx="816.6" cy="845.6" r="6.9" fill="#f9f8f7"/>
<circle cx="529.6" cy="472.5" r="6.9" fill="#cce3ef"/>
<circle cx="588.7" cy="923.7" r="6.9" fill="#eff4f7"/>
<circle cx="299.4" cy="896.3" r="6.9" fill="#fbdac9"/>
<circle cx="629.5" cy="697.6" r="6.9" fill="#f4f7f8"/>
<circle cx="639.0" cy="857.3" r="6.9" fill="#e0edf4"/>
<circle cx="592.6" cy="788.2" r="6.9" fill="#fcdccc"/>
<circle cx="630.6" cy="545.7" r="6.9" fill="#cbe3ee"/>
<circle cx="557.4" cy="795.6" r="6.9" fill="#faf6f4"/>
<circle cx="386.0" cy="495.6" r="6.9" fill="#faf5f2"/>
<circle cx="650.9" cy="841.2" r="6.9" fill="#faf6f5"/>
<circle cx="512.6" cy="374.1" r="6.9" fill="#b0d5e6"/>
<circle cx="333.6" cy="327.9" r="6.9" fill="#96c4de"/>
<circle cx="650.4" cy="779.8" r="6.9" fill="#fce8dd"/>
<circle cx="817.7" cy="822.5" r="6.9" fill="#bfddeb"/>
<circle cx="851.4" cy="801.0" r="6.9" fill="#92c2dd"/>
<circle cx="615.2" cy="214.9" r="6.9" fill="#9cc8e0"/>
<circle cx="683.9" cy="713.3" r="6.9" fill="#faf6f4"/>
<circle cx="915.8" cy="866.1" r="6.9" fill="#eef4f7"/>
<circle cx="648.4" cy="869.4" r="6.9" fill="#e4eff5"/>
<circle cx="399.0" cy="838.2" r="6.9" fill="#8fc0dc"/>
<circle cx="422.6" cy="323.5" r="6.9" fill="#79b0d4"/>
<circle cx="598.3" cy="1017.8" r="6.9" fill="#d9eaf3"/>
<circle cx="513.8" cy="245.8" r="6.9" fill="#acd2e5"/>
<circle cx="481.4" cy="382.8" r="6.9" fill="#a2cce2"/>
<circle cx="444.3" cy="387.5" r="6.9" fill="#6fa3cc"/>
<circle cx="623.3" cy="967.6" r="6.9" fill="#f1f5f7"/>
<circle cx="969.2" cy="834.9" r="6.9" fill="#bbdaea"/>
<circle cx="423.1" cy="309.5" r="6.9" fill="#97c5de"/>
<circle cx="577.8" cy="464.2" r="6.9" fill="#ecf3f7"/>
<circle cx="999.1" cy="434.8" r="6.9" fill="#7cb4d5"/>
<circle cx="507.2" cy="550.7" r="6.9" fill="#99c6df"/>
<circle cx="570.0" cy="1019.2" r="6.9" fill="#d7e9f2"/>
<circle cx="412.5" cy="444.6" r="6.9" fill="#6ea1cc"/>
<circle cx="604.7" cy="450.4" r="6.9" fill="#f9f7f6"/>
<circle cx="513.7" cy="794.6" r="6.9" fill="#74a9d0"/>
<circle cx="602.5" cy="1028.4" r="6.9" fill="#bcdbea"/>
<circle cx="326.9" cy="351.3" r="6.9" fill="#99c6df"/>
<circle cx="605.7" cy="996.6" r="6.9" fill="#dfedf4"/>
<circle cx="812.6" cy="965.9" r="6.9" fill="#c7e0ed"/>
<circle cx="854.1" cy="855.7" r="6.9" fill="#e2eef5"/>
<circle cx="435.4" cy="398.4" r="6.9" fill="#76add2"/>
<circle cx="750.1" cy="903.2" r="6.9" fill="#d4e7f1"/>
<circle cx="812.6" cy="590.3" r="6.9" fill="#82b7d7"/>
<circle cx="692.3" cy="760.9" r="6.9" fill="#f6f7f8"/>
<circle cx="1001.3" cy="479.6" r="6.9" fill="#93c2dd"/>
<circle cx="711.1" cy="375.2" r="6.9" fill="#a4cde2"/>
<circle cx="925.6" cy="825.5" r="6.9" fill="#badae9"/>
<circle cx="650.7" cy="1027.6" r="6.9" fill="#c8e1ee"/>
<circle cx="702.5" cy="912.5" r="6.9" fill="#f9f9f9"/>
<circle cx="766.0" cy="505.0" r="6.9" fill="#6899c7"/>
<circle cx="390.0" cy="519.2" r="6.9" fill="#95c3dd"/>
<circle cx="766.5" cy="731.0" r="6.9" fill="#b9d9e9"/>
<circle cx="548.0" cy="888.4" r="6.9" fill="#f5f7f8"/>
<circle cx="701.8" cy="355.5" r="6.9" fill="#77aed2"/>
<circle cx="898.7" cy="613.4" r="6.9" fill="#cbe3ee"/>
<circle cx="681.3" cy="832.3" r="6.9" fill="#eef4f7"/>
<circle cx="829.4" cy="575.0" r="6.9" fill="#78afd3"/>
<circle cx="637.3" cy="473.9" r="6.9" fill="#d3e6f1"/>
<circle cx="713.4" cy="294.2" r="6.9" fill="#b6d8e8"/>
<circle cx="552.8" cy="458.3" r="6.9" fill="#e8f1f6"/>
<circle cx="557.4" cy="357.3" r="6.9" fill="#79b1d4"/>
<circle cx="412.7" cy="839.7" r="6.9" fill="#c6e0ed"/>
<circle cx="628.8" cy="971.1" r="6.9" fill="#f9f8f8"/>
<circle cx="778.1" cy="880.7" r="6.9" fill="#daeaf3"/>
<circle cx="687.6" cy="1071.7" r="6.9" fill="#b2d6e7"/>
<circle cx="517.5" cy="504.7" r="6.9" fill="#8bbdda"/>
<circle cx="1062.8" cy="434.3" r="6.9" fill="#6c9fca"/>
<circle cx="591.6" cy="412.8" r="6.9" fill="#b5d8e8"/>
<circle cx="831.4" cy="847.9" r="6.9" fill="#e0edf4"/>
<circle cx="362.9" cy="818.9" r="6.9" fill="#77aed3"/>
<circle cx="213.3" cy="440.2" r="6.9" fill="#7bb3d5"/>
<circle cx="585.0" cy="948.9" r="6.9" fill="#ebf2f6"/>
<circle cx="313.1" cy="272.6" r="6.9" fill="#86bad9"/>
<circle cx="418.8" cy="933.1" r="6.9" fill="#fde5d7"/>
<circle cx="637.7" cy="230.4" r="6.9" fill="#a0cae1"/>
<circle cx="912.3" cy="785.3" r="6.9" fill="#c9e1ee"/>
<circle cx="369.8" cy="837.8" r="6.9" fill="#567ba2"/>
<circle cx="568.0" cy="479.5" r="6.9" fill="#f9f9f9"/>
<circle cx="660.0" cy="715.3" r="6.9" fill="#dcebf3"/>
<circle cx="525.5" cy="775.8" r="6.9" fill="#a7cfe4"/>
<circle cx="550.5" cy="357.2" r="6.9" fill="#8abdda"/>
<circle cx="956.6" cy="686.1" r="6.9" fill="#9ac7df"/>
<circle cx="626.4" cy="818.6" r="6.9" fill="#fbd5c3"/>
<circle cx="781.4" cy="622.8" r="6.9" fill="#6fa3cc"/>
<circle cx="775.9" cy="420.2" r="6.9" fill="#77aed2"/>
<circle cx="931.1" cy="396.4" r="6.9" fill="#6da0cb"/>
<circle cx="455.5" cy="411.7" r="6.9" fill="#a2cce2"/>
<circle cx="652.7" cy="521.8" r="6.9" fill="#93c2dd"/>
<circle cx="887.1" cy="452.6" r="6.9" fill="#79b0d4"/>
<circle cx="845.0" cy="941.6" r="6.9" fill="#c2deec"/>
<circle cx="948.3" cy="643.6" r="6.9" fill="#87bbd9"/>
<circle cx="665.1" cy="738.4" r="6.9" fill="#fbf1eb"/>
<circle cx="574.8" cy="1012.8" r="6.9" fill="#e7f0f6"/>
<circle cx="701.6" cy="980.4" r="6.9" fill="#c0ddeb"/>
<circle cx="851.3" cy="925.2" r="6.9" fill="#d9e9f2"/>
<circle cx="878.9" cy="599.0" r="6.9" fill="#c5dfed"/>
<circle cx="556.9" cy="522.6" r="6.9" fill="#bedcea"/>
<circle cx="373.1" cy="411.2" r="6.9" fill="#c6e0ed"/>
<circle cx="709.8" cy="775.6" r="6.9" fill="#f0f5f7"/>
<circle cx="588.0" cy="396.4" r="6.9" fill="#79b0d3"/>
<circle cx="930.5" cy="318.1" r="6.9" fill="#6a9cc9"/>
<circle cx="918.0" cy="792.2" r="6.9" fill="#add3e6"/>
<circle cx="875.7" cy="388.5" r="6.9" fill="#72a7cf"/>
<circle cx="529.5" cy="1051.1" r="6.9" fill="#e7f0f6"/>
<circle cx="715.6" cy="816.8" r="6.9" fill="#ddecf4"/>
<circle cx="947.4" cy="871.7" r="6.9" fill="#b5d8e8"/>
<circle cx="286.6" cy="339.1" r="6.9" fill="#87bbd9"/>
<circle cx="643.1" cy="272.4" r="6.9" fill="#6a9dc9"/>
<circle cx="898.3" cy="849.1" r="6.9" fill="#9ac7df"/>
<circle cx="885.3" cy="581.4" r="6.9" fill="#f9f9f9"/>
<circle cx="713.0" cy="670.8" r="6.9" fill="#eef4f7"/>
<circle cx="528.3" cy="301.4" r="6.9" fill="#b0d5e6"/>
<circle cx="787.2" cy="331.2" r="6.9" fill="#78afd3"/>
<circle cx="718.6" cy="1017.5" r="6.9" fill="#d6e8f2"/>
<circle cx="573.5" cy="784.3" r="6.9" fill="#f0f4f7"/>
<circle cx="606.0" cy="848.1" r="6.9" fill="#f3f6f8"/>
<circle cx="509.3" cy="472.3" r="6.9" fill="#c0ddeb"/>
<circle cx="880.2" cy="832.1" r="6.9" fill="#dcebf3"/>
<circle cx="449.0" cy="261.5" r="6.9" fill="#b0d5e6"/>
<circle cx="426.1" cy="785.2" r="6.9" fill="#84b9d8"/>
<circle cx="687.6" cy="756.9" r="6.9" fill="#f6f8f9"/>
<circle cx="628.5" cy="822.2" r="6.9" fill="#fce0d0"/>
<circle cx="808.6" cy="316.6" r="6.9" fill="#78aed3"/>
<circle cx="768.4" cy="725.1" r="6.9" fill="#d0e5f0"/>
<circle cx="363.4" cy="475.3" r="6.9" fill="#e0edf4"/>
<circle cx="480.2" cy="695.6" r="6.9" fill="#96c4de"/>
<circle cx="631.3" cy="465.3" r="6.9" fill="#daeaf3"/>
<circle cx="1077.1" cy="456.7" r="6.9" fill="#7fb5d6"/>
<circle cx="865.8" cy="342.0" r="6.9" fill="#79b0d4"/>
<circle cx="889.4" cy="877.3" r="6.9" fill="#c9e2ee"/>
<circle cx="862.2" cy="818.0" r="6.9" fill="#b5d8e8"/>
<circle cx="723.3" cy="1057.3" r="6.9" fill="#d9eaf3"/>
<circle cx="691.8" cy="996.5" r="6.9" fill="#c3deec"/>
<circle cx="572.6" cy="268.9" r="6.9" fill="#7fb6d6"/>
<circle cx="583.0" cy="830.1" r="6.9" fill="#faf5f2"/>
<circle cx="838.8" cy="589.9" r="6.9" fill="#c1deeb"/>
<circle cx="812.5" cy="278.0" r="6.9" fill="#618ebd"/>
<circle cx="851.7" cy="536.6" r="6.9" fill="#d4e7f1"/>
<circle cx="854.7" cy="871.6" r="6.9" fill="#a9d0e4"/>
<circle cx="331.8" cy="811.3" r="6.9" fill="#97c5de"/>
<circle cx="718.8" cy="709.4" r="6.9" fill="#e4eff5"/>
<circle cx="353.4" cy="406.1" r="6.9" fill="#e5f0f5"/>
<circle cx="708.4" cy="834.0" r="6.9" fill="#d4e7f1"/>
<circle cx="688.8" cy="878.8" r="6.9" fill="#eaf2f6"/>
<circle cx="632.0" cy="1060.4" r="6.9" fill="#dfecf4"/>
<circle cx="912.4" cy="521.6" r="6.9" fill="#ecf3f7"/>
<circle cx="772.3" cy="754.3" r="6.9" fill="#c8e1ee"/>
<circle cx="826.9" cy="815.9" r="6.9" fill="#bedceb"/>
<circle cx="543.3" cy="325.4" r="6.9" fill="#aad1e4"/>
<circle cx="626.9" cy="956.8" r="6.9" fill="#faf4f0"/>
<circle cx="765.6" cy="1029.0" r="6.9" fill="#b1d5e7"/>
<circle cx="624.3" cy="980.7" r="6.9" fill="#e2eef5"/>
<circle cx="462.2" cy="417.9" r="6.9" fill="#d1e5f0"/>
<circle cx="880.0" cy="506.1" r="6.9" fill="#faf6f4"/>
<circle cx="867.3" cy="379.9" r="6.9" fill="#83b8d8"/>
<circle cx="1107.5" cy="495.0" r="6.9" fill="#c2deec"/>
<circle cx="836.6" cy="920.5" r="6.9" fill="#b2d6e7"/>
<circle cx="908.3" cy="403.0" r="6.9" fill="#699bc8"/>
<circle cx="947.0" cy="650.8" r="6.9" fill="#6798c7"/>
<circle cx="605.2" cy="967.3" r="6.9" fill="#edf3f7"/>
<circle cx="911.9" cy="919.7" r="6.9" fill="#8fc0dc"/>
<circle cx="754.0" cy="697.2" r="6.9" fill="#bbdaea"/>
<circle cx="463.2" cy="363.0" r="6.9" fill="#a2cce2"/>
<circle cx="383.4" cy="521.4" r="6.9" fill="#e8f1f6"/>
<circle cx="490.4" cy="954.8" r="6.9" fill="#bddcea"/>
<circle cx="322.6" cy="388.7" r="6.9" fill="#b3d7e7"/>
<circle cx="715.0" cy="396.1" r="6.9" fill="#6c9fcb"/>
<circle cx="501.6" cy="349.4" r="6.9" fill="#c2deec"/>
<circle cx="406.0" cy="281.0" r="6.9" fill="#abd2e5"/>
<circle cx="711.9" cy="761.3" r="6.9" fill="#ebf2f6"/>
<circle cx="602.9" cy="401.3" r="6.9" fill="#c7e0ed"/>
<circle cx="500.9" cy="956.3" r="6.9" fill="#dfedf4"/>
<circle cx="861.3" cy="537.7" r="6.9" fill="#eaf2f6"/>
<circle cx="781.6" cy="746.7" r="6.9" fill="#a0cbe1"/>
<circle cx="402.0" cy="316.6" r="6.9" fill="#b4d7e8"/>
<circle cx="676.4" cy="747.0" r="6.9" fill="#e2eef5"/>
<circle cx="623.8" cy="702.0" r="6.9" fill="#c7e0ed"/>
<circle cx="625.1" cy="444.1" r="6.9" fill="#badae9"/>
<circle cx="606.2" cy="861.5" r="6.9" fill="#f9f7f6"/>
<circle cx="735.8" cy="487.5" r="6.9" fill="#f9f9f9"/>
<circle cx="479.4" cy="723.8" r="6.9" fill="#deecf4"/>
<circle cx="763.9" cy="865.1" r="6.9" fill="#cee4ef"/>
<circle cx="909.4" cy="685.4" r="6.9" fill="#abd2e5"/>
<circle cx="664.0" cy="649.4" r="6.9" fill="#fde5d7"/>
<circle cx="534.5" cy="443.8" r="6.9" fill="#d5e7f1"/>
<circle cx="750.0" cy="412.7" r="6.9" fill="#72a7cf"/>
<circle cx="463.8" cy="697.2" r="6.9" fill="#c8e1ee"/>
<circle cx="637.9" cy="529.4" r="6.9" fill="#aed3e6"/>
<circle cx="565.8" cy="491.1" r="6.9" fill="#e8f1f6"/>
<circle cx="520.1" cy="471.5" r="6.9" fill="#deecf4"/>
<circle cx="588.2" cy="1011.3" r="6.9" fill="#c4dfec"/>
<circle cx="924.3" cy="518.7" r="6.9" fill="#c0ddeb"/>
<circle cx="623.6" cy="745.1" r="6.9" fill="#faf6f3"/>
<circle cx="558.9" cy="874.0" r="6.9" fill="#fce8dd"/>
<circle cx="1090.9" cy="466.0" r="6.9" fill="#9bc7df"/>
<circle cx="381.3" cy="918.8" r="6.9" fill="#fce9de"/>
<circle cx="513.1" cy="217.7" r="6.9" fill="#71a6ce"/>
<circle cx="524.0" cy="831.0" r="6.9" fill="#deecf4"/>
<circle cx="691.7" cy="966.3" r="6.9" fill="#92c2dd"/>
<circle cx="543.0" cy="495.0" r="6.9" fill="#cfe4ef"/>
<circle cx="816.0" cy="612.0" r="6.9" fill="#5a80aa"/>
<circle cx="452.9" cy="333.6" r="6.9" fill="#d0e5f0"/>
<circle cx="762.2" cy="707.0" r="6.9" fill="#daeaf3"/>
<circle cx="531.5" cy="995.0" r="6.9" fill="#b5d7e8"/>
<circle cx="427.2" cy="800.9" r="6.9" fill="#a1cbe1"/>
<circle cx="539.1" cy="271.8" r="6.9" fill="#bfddeb"/>
<circle cx="948.2" cy="395.9" r="6.9" fill="#75abd1"/>
<circle cx="756.9" cy="526.9" r="6.9" fill="#6393c4"/>
<circle cx="871.5" cy="918.4" r="6.9" fill="#b3d7e7"/>
<circle cx="1027.0" cy="266.7" r="6.9" fill="#ecf2f6"/>
<circle cx="890.8" cy="887.1" r="6.9" fill="#b9d9e9"/>
<circle cx="964.5" cy="857.6" r="6.9" fill="#d0e5f0"/>
<circle cx="937.1" cy="667.8" r="6.9" fill="#6b9eca"/>
<circle cx="658.1" cy="823.1" r="6.9" fill="#fbf0ea"/>
<circle cx="700.7" cy="401.4" r="6.9" fill="#8fc0db"/>
<circle cx="1011.3" cy="472.9" r="6.9" fill="#a0cbe1"/>
<circle cx="496.4" cy="840.0" r="6.9" fill="#6fa3cc"/>
<circle cx="1028.0" cy="437.1" r="6.9" fill="#72a7ce"/>
<circle cx="916.0" cy="490.7" r="6.9" fill="#8dbedb"/>
<circle cx="773.8" cy="510.0" r="6.9" fill="#6fa3cc"/>
<circle cx="702.5" cy="792.2" r="6.9" fill="#eef4f7"/>
<circle cx="924.2" cy="802.7" r="6.9" fill="#b8d9e9"/>
<circle cx="871.5" cy="788.1" r="6.9" fill="#9dc9e0"/>
<circle cx="557.6" cy="1041.0" r="6.9" fill="#b8d9e9"/>
<circle cx="569.5" cy="779.1" r="6.9" fill="#f0f5f7"/>
<circle cx="389.9" cy="814.9" r="6.9" fill="#87bbd9"/>
<circle cx="716.4" cy="785.2" r="6.9" fill="#d3e7f1"/>
<circle cx="1007.4" cy="792.2" r="6.9" fill="#506e90"/>
<circle cx="885.5" cy="616.3" r="6.9" fill="#e3eef5"/>
<circle cx="790.9" cy="832.7" r="6.9" fill="#deecf4"/>
<circle cx="412.1" cy="285.3" r="6.9" fill="#e0edf4"/>
<circle cx="791.1" cy="1010.5" r="6.9" fill="#b5d8e8"/>
<circle cx="484.7" cy="933.4" r="6.9" fill="#cfe4ef"/>
<circle cx="594.6" cy="403.7" r="6.9" fill="#a9d0e4"/>
<circle cx="568.3" cy="889.2" r="6.9" fill="#fbd7c6"/>
<circle cx="632.5" cy="1088.1" r="6.9" fill="#cce3ef"/>
<circle cx="373.8" cy="925.0" r="6.9" fill="#fde5d7"/>
<circle cx="671.1" cy="461.0" r="6.9" fill="#5b84af"/>
<circle cx="1049.1" cy="473.7" r="6.9" fill="#a1cbe1"/>
<circle cx="400.3" cy="362.8" r="6.9" fill="#c3deec"/>
<circle cx="491.9" cy="748.8" r="6.9" fill="#7bb3d5"/>
<circle cx="557.9" cy="295.0" r="6.9" fill="#9dc9e0"/>
<circle cx="942.3" cy="427.0" r="6.9" fill="#72a7cf"/>
<circle cx="1022.0" cy="803.0" r="6.9" fill="#5c85b1"/>
<circle cx="979.4" cy="421.2" r="6.9" fill="#90c0dc"/>
<circle cx="340.0" cy="814.4" r="6.9" fill="#7ab1d4"/>
<circle cx="792.0" cy="448.0" r="6.9" fill="#bfddeb"/>
<circle cx="948.5" cy="879.1" r="6.9" fill="#add3e6"/>
<circle cx="682.8" cy="699.0" r="6.9" fill="#e8f1f6"/>
<circle cx="358.6" cy="494.8" r="6.9" fill="#fceadf"/>
<circle cx="732.3" cy="277.9" r="6.9" fill="#b4d7e8"/>
<circle cx="994.1" cy="457.5" r="6.9" fill="#88bbd9"/>
<circle cx="726.6" cy="948.3" r="6.9" fill="#b9dae9"/>
<circle cx="307.8" cy="403.9" r="6.9" fill="#b8d9e9"/>
<circle cx="534.5" cy="295.0" r="6.9" fill="#a4cde2"/>
<circle cx="369.3" cy="575.9" r="6.9" fill="#abd2e5"/>
<circle cx="390.2" cy="487.1" r="6.9" fill="#faf2ed"/>
<circle cx="710.6" cy="263.5" r="6.9" fill="#d8e9f2"/>
<circle cx="839.7" cy="779.3" r="6.9" fill="#7fb6d6"/>
<circle cx="304.0" cy="412.5" r="6.9" fill="#b7d8e8"/>
<circle cx="956.9" cy="912.3" r="6.9" fill="#dcebf3"/>
<circle cx="971.9" cy="637.8" r="6.9" fill="#6ea1cc"/>
<circle cx="822.0" cy="858.0" r="6.9" fill="#e7f0f6"/>
<circle cx="614.0" cy="686.0" r="6.9" fill="#d3e6f1"/>
<circle cx="624.0" cy="247.1" r="6.9" fill="#8fbfdb"/>
<circle cx="985.4" cy="457.0" r="6.9" fill="#99c6df"/>
<circle cx="873.5" cy="403.0" r="6.9" fill="#92c2dd"/>
<circle cx="474.7" cy="698.8" r="6.9" fill="#c8e1ee"/>
<circle cx="939.1" cy="396.6" r="6.9" fill="#72a7cf"/>
<circle cx="626.5" cy="1019.2" r="6.9" fill="#ebf2f6"/>
<circle cx="943.7" cy="381.8" r="6.9" fill="#6a9dc9"/>
<circle cx="953.5" cy="638.5" r="6.9" fill="#6c9fcb"/>
<circle cx="538.4" cy="505.2" r="6.9" fill="#a5cee3"/>
<circle cx="673.8" cy="318.6" r="6.9" fill="#cee4ef"/>
<circle cx="556.5" cy="919.4" r="6.9" fill="#eef4f7"/>
<circle cx="524.7" cy="1010.8" r="6.9" fill="#d7e9f2"/>
<circle cx="722.5" cy="621.0" r="6.9" fill="#7bb3d5"/>
<circle cx="776.0" cy="659.0" r="6.9" fill="#5a80aa"/>
<circle cx="775.4" cy="763.2" r="6.9" fill="#78afd3"/>
<circle cx="430.9" cy="436.0" r="6.9" fill="#80b6d7"/>
<circle cx="435.3" cy="319.1" r="6.9" fill="#9cc8e0"/>
<circle cx="369.9" cy="339.5" r="6.9" fill="#e0edf4"/>
<circle cx="225.5" cy="383.0" r="6.9" fill="#6fa3cc"/>
<circle cx="965.7" cy="434.8" r="6.9" fill="#70a5cd"/>
<circle cx="504.2" cy="229.8" r="6.9" fill="#699bc8"/>
<circle cx="624.1" cy="810.7" r="6.9" fill="#fcdece"/>
<circle cx="564.6" cy="941.7" r="6.9" fill="#e5eff5"/>
<circle cx="697.2" cy="255.9" r="6.9" fill="#e4eff5"/>
<circle cx="682.7" cy="456.2" r="6.9" fill="#6798c7"/>
<circle cx="298.2" cy="388.8" r="6.9" fill="#a0cae1"/>
<circle cx="917.0" cy="409.8" r="6.9" fill="#97c5de"/>
<circle cx="735.9" cy="895.0" r="6.9" fill="#e1edf5"/>
<circle cx="834.2" cy="272.3" r="6.9" fill="#6fa4cd"/>
<circle cx="762.9" cy="847.4" r="6.9" fill="#e7f0f6"/>
<circle cx="612.6" cy="483.5" r="6.9" fill="#c6e0ed"/>
<circle cx="787.8" cy="479.0" r="6.9" fill="#6fa3cc"/>
<circle cx="395.6" cy="733.8" r="6.9" fill="#96c4de"/>
<circle cx="991.5" cy="451.0" r="6.9" fill="#9bc8e0"/>
<circle cx="889.9" cy="622.8" r="6.9" fill="#a0cbe1"/>
<circle cx="792.0" cy="323.7" r="6.9" fill="#91c1dc"/>
<circle cx="538.7" cy="978.2" r="6.9" fill="#eaf2f6"/>
<circle cx="501.7" cy="503.2" r="6.9" fill="#78afd3"/>
<circle cx="858.6" cy="877.6" r="6.9" fill="#aad1e4"/>
<circle cx="340.7" cy="832.1" r="6.9" fill="#76acd1"/>
<circle cx="679.0" cy="319.7" r="6.9" fill="#c3deec"/>
<circle cx="532.2" cy="264.3" r="6.9" fill="#add3e6"/>
<circle cx="801.5" cy="279.4" r="6.9" fill="#8fc0dc"/>
<circle cx="377.1" cy="817.5" r="6.9" fill="#79b1d4"/>
<circle cx="659.3" cy="1009.2" r="6.9" fill="#b9dae9"/>
<circle cx="933.7" cy="847.6" r="6.9" fill="#d5e8f1"/>
<circle cx="935.4" cy="858.2" r="6.9" fill="#bddbea"/>
<circle cx="645.8" cy="504.9" r="6.9" fill="#c3dfec"/>
<circle cx="764.4" cy="775.7" r="6.9" fill="#afd4e6"/>
<circle cx="417.5" cy="550.9" r="6.9" fill="#6da1cb"/>
<circle cx="1047.0" cy="427.2" r="6.9" fill="#78b0d3"/>
<circle cx="793.3" cy="292.3" r="6.9" fill="#88bcd9"/>
<circle cx="914.6" cy="927.6" r="6.9" fill="#b4d7e8"/>
<circle cx="519.9" cy="362.5" r="6.9" fill="#a0cbe1"/>
<circle cx="907.8" cy="785.3" r="6.9" fill="#dcebf3"/>
<circle cx="869.2" cy="569.0" r="6.9" fill="#c1ddeb"/>
<circle cx="306.0" cy="468.0" r="6.9" fill="#ebf2f6"/>
<circle cx="786.2" cy="958.6" r="6.9" fill="#bcdbea"/>
<circle cx="580.3" cy="655.6" r="6.9" fill="#b2d6e7"/>
<circle cx="869.1" cy="834.5" r="6.9" fill="#9ecae1"/>
<circle cx="917.6" cy="651.5" r="6.9" fill="#6c9fcb"/>
<circle cx="903.0" cy="848.1" r="6.9" fill="#b6d8e8"/>
<circle cx="852.2" cy="489.9" r="6.9" fill="#79b0d4"/>
<circle cx="493.5" cy="312.7" r="6.9" fill="#c7e1ed"/>
<circle cx="367.7" cy="404.6" r="6.9" fill="#e5f0f5"/>
<circle cx="631.8" cy="247.0" r="6.9" fill="#6da0cb"/>
<circle cx="748.5" cy="518.5" r="6.9" fill="#6fa3cc"/>
<circle cx="791.2" cy="280.9" r="6.9" fill="#a2cce2"/>
<circle cx="669.1" cy="794.5" r="6.9" fill="#faf4f0"/>
<circle cx="435.5" cy="239.1" r="6.9" fill="#a7cfe3"/>
<circle cx="733.9" cy="707.9" r="6.9" fill="#b1d5e7"/>
<circle cx="415.3" cy="873.6" r="6.9" fill="#83b8d8"/>
<circle cx="422.2" cy="776.0" r="6.9" fill="#6fa3cc"/>
<circle cx="363.5" cy="316.6" r="6.9" fill="#b3d6e7"/>
<circle cx="603.3" cy="276.7" r="6.9" fill="#7ab2d4"/>
<circle cx="495.4" cy="339.8" r="6.9" fill="#93c2dd"/>
<circle cx="505.5" cy="341.7" r="6.9" fill="#d0e5f0"/>
<circle cx="386.6" cy="839.8" r="6.9" fill="#6ea2cc"/>
<circle cx="687.0" cy="328.3" r="6.9" fill="#e6f0f6"/>
<circle cx="691.7" cy="710.1" r="6.9" fill="#fceae0"/>
<circle cx="1004.1" cy="784.5" r="6.9" fill="#506e90"/>
<circle cx="293.0" cy="351.1" r="6.9" fill="#7eb5d6"/>
<circle cx="736.9" cy="638.3" r="6.9" fill="#f3f6f8"/>
<circle cx="405.0" cy="310.3" r="6.9" fill="#bfddeb"/>
<circle cx="1105.8" cy="505.5" r="6.9" fill="#afd4e6"/>
<circle cx="665.3" cy="310.7" r="6.9" fill="#f1f5f8"/>
<circle cx="656.4" cy="951.5" r="6.9" fill="#e7f0f6"/>
<circle cx="967.0" cy="818.3" r="6.9" fill="#d3e6f1"/>
<circle cx="932.5" cy="627.7" r="6.9" fill="#c9e1ee"/>
<circle cx="282.0" cy="303.9" r="6.9" fill="#9fcae1"/>
<circle cx="365.6" cy="551.7" r="6.9" fill="#c2deec"/>
<circle cx="773.0" cy="285.4" r="6.9" fill="#aed3e6"/>
<circle cx="297.1" cy="480.3" r="6.9" fill="#faf4f1"/>
<circle cx="398.5" cy="795.8" r="6.9" fill="#699bc8"/>
<circle cx="511.4" cy="543.6" r="6.9" fill="#bfdceb"/>
<circle cx="648.6" cy="951.3" r="6.9" fill="#faf6f4"/>
<circle cx="310.0" cy="528.7" r="6.9" fill="#f2f5f8"/>
<circle cx="606.3" cy="535.3" r="6.9" fill="#edf3f7"/>
<circle cx="483.6" cy="318.6" r="6.9" fill="#b7d8e8"/>
<circle cx="848.9" cy="566.4" r="6.9" fill="#a6cfe3"/>
<circle cx="887.9" cy="630.2" r="6.9" fill="#70a5cd"/>
<circle cx="760.6" cy="739.3" r="6.9" fill="#ddecf4"/>
<circle cx="820.6" cy="841.4" r="6.9" fill="#e2eef5"/>
<circle cx="382.3" cy="551.2" r="6.9" fill="#d9e9f2"/>
<circle cx="554.1" cy="349.3" r="6.9" fill="#c1ddeb"/>
<circle cx="906.0" cy="927.3" r="6.9" fill="#cbe2ee"/>
<circle cx="747.4" cy="791.1" r="6.9" fill="#f9f8f8"/>
<circle cx="785.1" cy="905.0" r="6.9" fill="#a6cfe3"/>
<circle cx="467.7" cy="447.2" r="6.9" fill="#6495c5"/>
<circle cx="742.2" cy="772.4" r="6.9" fill="#d4e7f1"/>
<circle cx="700.8" cy="753.5" r="6.9" fill="#daeaf3"/>
<circle cx="346.2" cy="365.1" r="6.9" fill="#d4e7f1"/>
<circle cx="558.0" cy="281.6" r="6.9" fill="#7bb3d5"/>
<circle cx="822.0" cy="411.0" r="6.9" fill="#a2cce2"/>
<circle cx="930.5" cy="879.8" r="6.9" fill="#ddecf4"/>
<circle cx="500.1" cy="318.0" r="6.9" fill="#cbe3ee"/>
<circle cx="721.9" cy="869.0" r="6.9" fill="#eff4f7"/>
<circle cx="291.2" cy="476.4" r="6.9" fill="#e1edf5"/>
<circle cx="352.0" cy="465.6" r="6.9" fill="#e0edf4"/>
<circle cx="1069.0" cy="459.0" r="6.9" fill="#84b9d8"/>
<circle cx="705.8" cy="738.7" r="6.9" fill="#edf3f7"/>
<circle cx="308.9" cy="435.5" r="6.9" fill="#9dc9e0"/>
<circle cx="536.1" cy="565.5" r="6.9" fill="#dcebf3"/>
<circle cx="624.1" cy="1064.4" r="6.9" fill="#bcdbea"/>
<circle cx="637.5" cy="924.3" r="6.9" fill="#f0f5f7"/>
<circle cx="493.6" cy="918.1" r="6.9" fill="#cae2ee"/>
<circle cx="826.0" cy="622.0" r="6.9" fill="#5f8cba"/>
<circle cx="781.3" cy="273.2" r="6.9" fill="#a2cce2"/>
<circle cx="612.5" cy="870.5" r="6.9" fill="#f3f6f8"/>
<circle cx="972.8" cy="482.1" r="6.9" fill="#dcebf3"/>
<circle cx="611.0" cy="203.4" r="6.9" fill="#7bb2d5"/>
<circle cx="763.4" cy="428.2" r="6.9" fill="#79b0d3"/>
<circle cx="1115.1" cy="480.0" r="6.9" fill="#9bc7df"/>
<circle cx="691.9" cy="382.9" r="6.9" fill="#7bb3d5"/>
<circle cx="357.3" cy="818.0" r="6.9" fill="#6290c0"/>
<circle cx="942.0" cy="677.0" r="6.9" fill="#93c2dd"/>
<circle cx="911.1" cy="871.0" r="6.9" fill="#e9f1f6"/>
<circle cx="538.8" cy="840.8" r="6.9" fill="#e8f1f6"/>
<circle cx="586.0" cy="838.3" r="6.9" fill="#eef3f7"/>
<circle cx="701.1" cy="465.7" r="6.9" fill="#699bc8"/>
<circle cx="609.8" cy="459.3" r="6.9" fill="#e0edf4"/>
<circle cx="744.0" cy="447.0" r="6.9" fill="#96c4de"/>
<circle cx="470.8" cy="435.4" r="6.9" fill="#6ea2cc"/>
<circle cx="219.4" cy="343.7" r="6.9" fill="#6fa3cc"/>
<circle cx="520.1" cy="270.2" r="6.9" fill="#c7e0ed"/>
<circle cx="507.4" cy="248.0" r="6.9" fill="#a1cbe1"/>
<circle cx="391.0" cy="459.9" r="6.9" fill="#d6e8f1"/>
<circle cx="482.1" cy="334.9" r="6.9" fill="#bfdceb"/>
<circle cx="687.4" cy="897.4" r="6.9" fill="#d2e6f1"/>
<circle cx="558.8" cy="809.7" r="6.9" fill="#f3f6f8"/>
<circle cx="360.6" cy="278.7" r="6.9" fill="#c7e0ed"/>
<circle cx="442.8" cy="278.0" r="6.9" fill="#c0ddeb"/>
<circle cx="539.0" cy="580.5" r="6.9" fill="#7bb3d5"/>
<circle cx="580.0" cy="302.2" r="6.9" fill="#badae9"/>
<circle cx="350.1" cy="444.2" r="6.9" fill="#bcdbea"/>
<circle cx="700.0" cy="304.0" r="6.9" fill="#75abd1"/>
<circle cx="952.2" cy="674.8" r="6.9" fill="#91c1dc"/>
<circle cx="518.4" cy="927.9" r="6.9" fill="#f9f9f9"/>
<circle cx="641.1" cy="296.5" r="6.9" fill="#bbdaea"/>
<circle cx="817.6" cy="731.4" r="6.9" fill="#cce3ef"/>
<circle cx="1047.3" cy="511.0" r="6.9" fill="#88bbd9"/>
<circle cx="543.6" cy="942.8" r="6.9" fill="#f4f6f8"/>
<circle cx="276.1" cy="381.0" r="6.9" fill="#aed3e6"/>
<circle cx="636.0" cy="487.4" r="6.9" fill="#c0ddeb"/>
<circle cx="610.3" cy="270.4" r="6.9" fill="#bfddeb"/>
<circle cx="737.1" cy="855.7" r="6.9" fill="#deecf4"/>
<circle cx="536.2" cy="331.3" r="6.9" fill="#a5cee3"/>
<circle cx="354.9" cy="270.8" r="6.9" fill="#a1cbe1"/>
<circle cx="774.1" cy="932.2" r="6.9" fill="#a6cee3"/>
<circle cx="521.4" cy="323.7" r="6.9" fill="#dcebf3"/>
<circle cx="671.7" cy="756.7" r="6.9" fill="#dfecf4"/>
<circle cx="918.3" cy="309.9" r="6.9" fill="#badae9"/>
<circle cx="705.6" cy="995.3" r="6.9" fill="#b2d6e7"/>
<circle cx="405.0" cy="713.4" r="6.9" fill="#76add2"/>
<circle cx="413.3" cy="856.4" r="6.9" fill="#c6e0ed"/>
<circle cx="628.9" cy="459.0" r="6.9" fill="#aed4e6"/>
<circle cx="790.5" cy="706.5" r="6.9" fill="#cee4ef"/>
<circle cx="572.9" cy="440.9" r="6.9" fill="#c3dfec"/>
<circle cx="575.9" cy="307.9" r="6.9" fill="#add3e5"/>
<circle cx="307.3" cy="311.7" r="6.9" fill="#afd4e6"/>
<circle cx="721.3" cy="995.0" r="6.9" fill="#c8e1ee"/>
<circle cx="1014.7" cy="428.9" r="6.9" fill="#6ea2cc"/>
<circle cx="819.4" cy="713.6" r="6.9" fill="#7ab2d4"/>
<circle cx="395.7" cy="562.0" r="6.9" fill="#a6cfe3"/>
<circle cx="368.1" cy="273.5" r="6.9" fill="#c3deec"/>
<circle cx="748.4" cy="822.1" r="6.9" fill="#d4e7f1"/>
<circle cx="712.5" cy="344.0" r="6.9" fill="#89bcda"/>
<circle cx="872.9" cy="902.6" r="6.9" fill="#c1deec"/>
<circle cx="619.7" cy="1002.2" r="6.9" fill="#e1edf5"/>
<circle cx="911.4" cy="526.2" r="6.9" fill="#e8f1f6"/>
<circle cx="600.7" cy="927.8" r="6.9" fill="#fce8dd"/>
<circle cx="386.9" cy="389.8" r="6.9" fill="#8dbfdb"/>
<circle cx="257.8" cy="325.0" r="6.9" fill="#bfddeb"/>
<circle cx="946.3" cy="794.7" r="6.9" fill="#d7e8f2"/>
<circle cx="721.7" cy="653.0" r="6.9" fill="#fbefe7"/>
<circle cx="543.5" cy="294.1" r="6.9" fill="#99c6df"/>
<circle cx="670.4" cy="771.5" r="6.9" fill="#fbf1eb"/>
<circle cx="729.7" cy="1041.6" r="6.9" fill="#9ec9e1"/>
<circle cx="951.3" cy="276.6" r="6.9" fill="#b2d6e7"/>
<circle cx="513.8" cy="757.3" r="6.9" fill="#c8e1ee"/>
<circle cx="826.9" cy="879.4" r="6.9" fill="#d1e6f0"/>
<circle cx="858.4" cy="526.0" r="6.9" fill="#faf5f3"/>
<circle cx="815.4" cy="863.8" r="6.9" fill="#e4eff5"/>
<circle cx="601.4" cy="935.2" r="6.9" fill="#f1f5f8"/>
<circle cx="660.6" cy="995.4" r="6.9" fill="#ebf2f6"/>
<circle cx="808.5" cy="707.1" r="6.9" fill="#94c3dd"/>
<circle cx="802.5" cy="903.8" r="6.9" fill="#d2e6f0"/>
<circle cx="785.1" cy="759.8" r="6.9" fill="#75abd1"/>
<circle cx="456.4" cy="803.1" r="6.9" fill="#b6d8e8"/>
<circle cx="341.9" cy="419.0" r="6.9" fill="#e7f0f6"/>
<circle cx="689.8" cy="975.2" r="6.9" fill="#7bb3d5"/>
<circle cx="486.5" cy="1012.2" r="6.9" fill="#e7f0f6"/>
<circle cx="795.1" cy="857.6" r="6.9" fill="#c2deec"/>
<circle cx="1035.0" cy="258.0" r="6.9" fill="#ecf2f6"/>
<circle cx="869.2" cy="924.1" r="6.9" fill="#e2eef5"/>
<circle cx="890.0" cy="864.5" r="6.9" fill="#c3dfec"/>
<circle cx="542.9" cy="490.2" r="6.9" fill="#c3dfec"/>
<circle cx="528.7" cy="879.5" r="6.9" fill="#ddebf4"/>
<circle cx="790.6" cy="467.8" r="6.9" fill="#6fa3cc"/>
<circle cx="441.7" cy="811.7" r="6.9" fill="#a5cee3"/>
<circle cx="634.6" cy="815.6" r="6.9" fill="#f9f9f9"/>
<circle cx="330.0" cy="530.1" r="6.9" fill="#6290c0"/>
<circle cx="366.3" cy="943.8" r="6.9" fill="#fde5d7"/>
<circle cx="408.8" cy="476.5" r="6.9" fill="#c4dfec"/>
<circle cx="1007.5" cy="324.4" r="6.9" fill="#96c4de"/>
<circle cx="1017.9" cy="792.0" r="6.9" fill="#506e90"/>
<circle cx="372.3" cy="557.5" r="6.9" fill="#b9dae9"/>
<circle cx="551.7" cy="918.0" r="6.9" fill="#f2f5f8"/>
<circle cx="361.5" cy="466.7" r="6.9" fill="#f7f8f9"/>
<circle cx="430.3" cy="426.8" r="6.9" fill="#7bb2d5"/>
<circle cx="734.3" cy="1051.3" r="6.9" fill="#a8d0e4"/>
<circle cx="971.3" cy="327.0" r="6.9" fill="#8bbdda"/>
<circle cx="630.7" cy="529.6" r="6.9" fill="#ddebf4"/>
<circle cx="826.4" cy="582.6" r="6.9" fill="#80b6d7"/>
<circle cx="956.4" cy="651.6" r="6.9" fill="#6b9eca"/>
<circle cx="545.4" cy="988.6" r="6.9" fill="#deecf4"/>
<circle cx="1040.0" cy="312.0" r="6.9" fill="#c8e1ee"/>
<circle cx="994.8" cy="802.1" r="6.9" fill="#5a81ab"/>
<circle cx="527.8" cy="366.4" r="6.9" fill="#7eb5d6"/>
<circle cx="514.7" cy="261.4" r="6.9" fill="#8ebfdb"/>
<circle cx="882.8" cy="855.0" r="6.9" fill="#bcdbea"/>
<circle cx="634.0" cy="537.8" r="6.9" fill="#d8e9f2"/>
<circle cx="612.0" cy="497.7" r="6.9" fill="#e5eff5"/>
<circle cx="575.0" cy="897.3" r="6.9" fill="#faf4f1"/>
<circle cx="577.7" cy="807.5" r="6.9" fill="#dfecf4"/>
<circle cx="411.0" cy="458.1" r="6.9" fill="#77add2"/>
<circle cx="1065.8" cy="476.5" r="6.9" fill="#84b9d8"/>
<circle cx="606.5" cy="855.5" r="6.9" fill="#f4f7f8"/>
<circle cx="960.1" cy="814.3" r="6.9" fill="#deecf4"/>
<circle cx="902.7" cy="387.3" r="6.9" fill="#a0cae1"/>
<circle cx="712.8" cy="856.7" r="6.9" fill="#c9e1ee"/>
<circle cx="667.3" cy="715.4" r="6.9" fill="#faf5f2"/>
<circle cx="791.9" cy="760.5" r="6.9" fill="#80b6d7"/>
<circle cx="322.6" cy="365.2" r="6.9" fill="#9fcae1"/>
<circle cx="496.8" cy="889.0" r="6.9" fill="#d0e5f0"/>
<circle cx="921.0" cy="691.3" r="6.9" fill="#b0d5e6"/>
<circle cx="941.6" cy="876.8" r="6.9" fill="#cde4ef"/>
<circle cx="784.5" cy="732.6" r="6.9" fill="#bfddeb"/>
<circle cx="767.5" cy="350.0" r="6.9" fill="#6a9dc9"/>
<circle cx="361.3" cy="952.5" r="6.9" fill="#e6f0f6"/>
<circle cx="371.6" cy="793.9" r="6.9" fill="#587ea6"/>
<circle cx="567.9" cy="1042.7" r="6.9" fill="#c3dfec"/>
<circle cx="468.3" cy="264.1" r="6.9" fill="#80b6d7"/>
<circle cx="650.0" cy="380.0" r="6.9" fill="#deecf4"/>
<circle cx="581.0" cy="692.2" r="6.9" fill="#bddbea"/>
<circle cx="894.1" cy="816.5" r="6.9" fill="#d1e5f0"/>
<circle cx="313.4" cy="398.1" r="6.9" fill="#e0edf4"/>
<circle cx="856.8" cy="371.0" r="6.9" fill="#71a5ce"/>
<circle cx="490.3" cy="255.6" r="6.9" fill="#73a8cf"/>
<circle cx="556.7" cy="1011.0" r="6.9" fill="#ebf2f6"/>
<circle cx="754.8" cy="815.0" r="6.9" fill="#c7e1ed"/>
<circle cx="295.3" cy="316.3" r="6.9" fill="#a6cee3"/>
<circle cx="768.5" cy="849.5" r="6.9" fill="#a5cee3"/>
<circle cx="837.3" cy="950.8" r="6.9" fill="#cae2ee"/>
<circle cx="378.2" cy="262.6" r="6.9" fill="#7fb5d6"/>
<circle cx="310.2" cy="336.2" r="6.9" fill="#8ebfdb"/>
<circle cx="748.5" cy="718.1" r="6.9" fill="#b8d9e9"/>
<circle cx="344.2" cy="464.4" r="6.9" fill="#cce3ef"/>
<circle cx="498.3" cy="363.0" r="6.9" fill="#bddbea"/>
<circle cx="649.4" cy="715.2" r="6.9" fill="#e8f1f6"/>
<circle cx="920.7" cy="916.0" r="6.9" fill="#c3dfec"/>
<circle cx="800.3" cy="806.7" r="6.9" fill="#bcdbea"/>
<circle cx="889.9" cy="955.2" r="6.9" fill="#faf6f3"/>
<circle cx="462.3" cy="272.0" r="6.9" fill="#cfe5f0"/>
<circle cx="559.4" cy="904.1" r="6.9" fill="#faf3ef"/>
<circle cx="876.3" cy="347.0" r="6.9" fill="#c7e0ed"/>
<circle cx="497.4" cy="948.8" r="6.9" fill="#e6f0f5"/>
<circle cx="535.1" cy="1004.3" r="6.9" fill="#f0f4f7"/>
<circle cx="330.0" cy="473.7" r="6.9" fill="#faf5f2"/>
<circle cx="591.9" cy="425.1" r="6.9" fill="#bedceb"/>
<circle cx="813.8" cy="971.9" r="6.9" fill="#bddbea"/>
<circle cx="880.8" cy="511.0" r="6.9" fill="#fbefe8"/>
<circle cx="675.5" cy="807.3" r="6.9" fill="#f7f8f9"/>
<circle cx="747.7" cy="1008.4" r="6.9" fill="#a6cfe3"/>
<circle cx="725.1" cy="302.6" r="6.9" fill="#72a6ce"/>
<circle cx="700.9" cy="847.5" r="6.9" fill="#f3f6f8"/>
<circle cx="946.3" cy="841.4" r="6.9" fill="#d7e9f2"/>
<circle cx="580.4" cy="491.6" r="6.9" fill="#eff4f7"/>
<circle cx="559.7" cy="263.8" r="6.9" fill="#89bcda"/>
<circle cx="554.2" cy="490.9" r="6.9" fill="#bddcea"/>
<circle cx="994.6" cy="442.3" r="6.9" fill="#79b1d4"/>
<circle cx="289.1" cy="417.7" r="6.9" fill="#97c5de"/>
<circle cx="896.5" cy="877.4" r="6.9" fill="#daeaf3"/>
<circle cx="565.7" cy="770.8" r="6.9" fill="#ecf3f7"/>
<circle cx="808.8" cy="326.8" r="6.9" fill="#94c3dd"/>
<circle cx="513.8" cy="917.9" r="6.9" fill="#daeaf3"/>
<circle cx="617.9" cy="910.5" r="6.9" fill="#fbefe8"/>
<circle cx="366.5" cy="834.6" r="6.9" fill="#618fbf"/>
<circle cx="594.1" cy="515.3" r="6.9" fill="#e3eff5"/>
<circle cx="523.7" cy="916.3" r="6.9" fill="#f7f8f9"/>
<circle cx="833.8" cy="940.2" r="6.9" fill="#c9e2ee"/>
<circle cx="851.0" cy="881.6" r="6.9" fill="#d8e9f2"/>
<circle cx="682.0" cy="814.6" r="6.9" fill="#fbefe8"/>
<circle cx="769.4" cy="741.0" r="6.9" fill="#a0cbe1"/>
<circle cx="356.4" cy="458.5" r="6.9" fill="#d0e5f0"/>
<circle cx="370.5" cy="389.4" r="6.9" fill="#badae9"/>
<circle cx="689.1" cy="737.7" r="6.9" fill="#cbe3ee"/>
<circle cx="651.6" cy="785.7" r="6.9" fill="#fbeee6"/>
<circle cx="428.6" cy="816.9" r="6.9" fill="#dbeaf3"/>
<circle cx="637.0" cy="722.0" r="6.9" fill="#edf3f7"/>
<circle cx="365.8" cy="566.7" r="6.9" fill="#d8e9f2"/>
<circle cx="466.2" cy="237.9" r="6.9" fill="#9cc8e0"/>
<circle cx="796.3" cy="846.6" r="6.9" fill="#dfedf4"/>
<circle cx="718.5" cy="281.2" r="6.9" fill="#cce3ef"/>
<circle cx="705.5" cy="872.8" r="6.9" fill="#d1e6f0"/>
<circle cx="519.2" cy="878.8" r="6.9" fill="#e6f0f6"/>
<circle cx="973.7" cy="403.9" r="6.9" fill="#6899c7"/>
<circle cx="921.1" cy="490.9" r="6.9" fill="#a4cde3"/>
<circle cx="899.2" cy="497.6" r="6.9" fill="#faf6f5"/>
<circle cx="917.2" cy="526.9" r="6.9" fill="#d5e7f1"/>
<circle cx="1101.9" cy="472.6" r="6.9" fill="#a4cde2"/>
<circle cx="560.1" cy="514.2" r="6.9" fill="#d2e6f1"/>
<circle cx="392.9" cy="398.2" r="6.9" fill="#8fc0dc"/>
<circle cx="430.8" cy="238.4" r="6.9" fill="#77add2"/>
<circle cx="1009.8" cy="482.6" r="6.9" fill="#71a6ce"/>
<circle cx="732.2" cy="677.5" r="6.9" fill="#7bb3d5"/>
<circle cx="349.6" cy="835.0" r="6.9" fill="#84b9d8"/>
<circle cx="540.8" cy="903.0" r="6.9" fill="#cfe5f0"/>
<circle cx="812.6" cy="747.9" r="6.9" fill="#afd4e6"/>
<circle cx="494.9" cy="963.2" r="6.9" fill="#d1e6f0"/>
<circle cx="727.9" cy="1019.0" r="6.9" fill="#9ec9e0"/>
<circle cx="832.1" cy="816.4" r="6.9" fill="#b4d7e8"/>
<circle cx="662.6" cy="1064.6" r="6.9" fill="#b3d6e7"/>
<circle cx="287.5" cy="464.9" r="6.9" fill="#cce3ef"/>
<circle cx="921.0" cy="332.8" r="6.9" fill="#74a9d0"/>
<circle cx="852.3" cy="834.9" r="6.9" fill="#eff4f7"/>
<circle cx="825.4" cy="800.7" r="6.9" fill="#b5d8e8"/>
<circle cx="797.7" cy="455.2" r="6.9" fill="#7bb3d5"/>
<circle cx="993.9" cy="814.4" r="6.9" fill="#5e8ab7"/>
<circle cx="797.8" cy="699.4" r="6.9" fill="#7bb3d5"/>
<circle cx="770.2" cy="301.6" r="6.9" fill="#96c4de"/>
<circle cx="659.5" cy="979.6" r="6.9" fill="#edf3f7"/>
<circle cx="616.1" cy="801.5" r="6.9" fill="#fde5d7"/>
<circle cx="426.2" cy="452.7" r="6.9" fill="#acd2e5"/>
<circle cx="696.1" cy="272.4" r="6.9" fill="#c0ddeb"/>
<circle cx="844.9" cy="935.2" r="6.9" fill="#d3e6f1"/>
<circle cx="711.2" cy="889.2" r="6.9" fill="#f2f5f8"/>
<circle cx="556.7" cy="817.8" r="6.9" fill="#f0f5f7"/>
<circle cx="892.9" cy="513.8" r="6.9" fill="#fde7db"/>
<circle cx="844.9" cy="785.1" r="6.9" fill="#a0cae1"/>
<circle cx="684.7" cy="249.7" r="6.9" fill="#97c5de"/>
<circle cx="598.2" cy="737.5" r="6.9" fill="#ebf2f6"/>
<circle cx="536.0" cy="942.7" r="6.9" fill="#d9e9f3"/>
<circle cx="712.5" cy="730.8" r="6.9" fill="#f4f6f8"/>
<circle cx="570.2" cy="393.1" r="6.9" fill="#7bb3d5"/>
<circle cx="904.8" cy="910.9" r="6.9" fill="#bcdbea"/>
<circle cx="387.0" cy="292.2" r="6.9" fill="#c9e2ee"/>
<circle cx="412.1" cy="316.0" r="6.9" fill="#abd1e5"/>
<circle cx="961.8" cy="402.0" r="6.9" fill="#6da0cb"/>
<circle cx="670.5" cy="942.8" r="6.9" fill="#d1e5f0"/>
<circle cx="381.6" cy="743.0" r="6.9" fill="#9cc8e0"/>
<circle cx="843.4" cy="442.8" r="6.9" fill="#70a4cd"/>
<circle cx="843.8" cy="957.2" r="6.9" fill="#dfedf4"/>
<circle cx="509.4" cy="638.0" r="6.9" fill="#fde5d7"/>
<circle cx="464.1" cy="396.1" r="6.9" fill="#c3dfec"/>
<circle cx="311.3" cy="893.8" r="6.9" fill="#fde5d7"/>
<circle cx="809.4" cy="948.8" r="6.9" fill="#a4cde2"/>
<circle cx="819.2" cy="918.6" r="6.9" fill="#d5e7f1"/>
<circle cx="556.4" cy="956.7" r="6.9" fill="#f4f6f8"/>
<circle cx="894.3" cy="405.0" r="6.9" fill="#618fbf"/>
<circle cx="434.4" cy="387.2" r="6.9" fill="#71a6ce"/>
<circle cx="1082.0" cy="497.9" r="6.9" fill="#9fcae1"/>
<circle cx="818.1" cy="902.3" r="6.9" fill="#afd4e6"/>
<circle cx="729.3" cy="467.3" r="6.9" fill="#90c0dc"/>
<circle cx="620.6" cy="387.8" r="6.9" fill="#deecf4"/>
<circle cx="440.7" cy="792.4" r="6.9" fill="#c7e0ed"/>
<circle cx="519.2" cy="317.3" r="6.9" fill="#cbe2ee"/>
<circle cx="876.0" cy="610.8" r="6.9" fill="#f9f9f9"/>
<circle cx="401.9" cy="475.1" r="6.9" fill="#cae2ee"/>
<circle cx="459.2" cy="312.5" r="6.9" fill="#a5cde3"/>
<circle cx="615.5" cy="692.8" r="6.9" fill="#d4e7f1"/>
<circle cx="227.5" cy="413.8" r="6.9" fill="#7bb3d5"/>
<circle cx="764.1" cy="889.6" r="6.9" fill="#e2eef5"/>
<circle cx="927.6" cy="311.4" r="6.9" fill="#85bad8"/>
<circle cx="598.8" cy="956.2" r="6.9" fill="#eaf2f6"/>
<circle cx="562.1" cy="318.4" r="6.9" fill="#d1e6f0"/>
<circle cx="344.6" cy="560.4" r="6.9" fill="#cce3ef"/>
<circle cx="945.3" cy="624.1" r="6.9" fill="#93c2dd"/>
<circle cx="822.0" cy="690.0" r="6.9" fill="#5b84af"/>
<circle cx="816.1" cy="940.7" r="6.9" fill="#bddbea"/>
<circle cx="633.2" cy="848.5" r="6.9" fill="#f9f8f7"/>
<circle cx="913.0" cy="909.1" r="6.9" fill="#d8e9f2"/>
<circle cx="628.4" cy="409.7" r="6.9" fill="#f9f9f9"/>
<circle cx="682.9" cy="475.5" r="6.9" fill="#6494c5"/>
<circle cx="325.7" cy="436.6" r="6.9" fill="#d4e7f1"/>
<circle cx="961.5" cy="324.9" r="6.9" fill="#9bc8e0"/>
<circle cx="359.8" cy="264.2" r="6.9" fill="#7fb5d6"/>
<circle cx="921.4" cy="863.0" r="6.9" fill="#eaf2f6"/>
<circle cx="655.9" cy="972.5" r="6.9" fill="#d2e6f1"/>
<circle cx="427.7" cy="317.6" r="6.9" fill="#7fb5d6"/>
<circle cx="334.5" cy="434.4" r="6.9" fill="#ecf3f7"/>
<circle cx="550.5" cy="327.6" r="6.9" fill="#a2cce2"/>
<circle cx="502.5" cy="218.2" r="6.9" fill="#82b7d7"/>
<circle cx="385.6" cy="380.7" r="6.9" fill="#8abdda"/>
<circle cx="800.4" cy="293.6" r="6.9" fill="#71a6ce"/>
<circle cx="703.0" cy="682.6" r="6.9" fill="#bbdbea"/>
<circle cx="901.2" cy="328.3" r="6.9" fill="#7ab1d4"/>
<circle cx="796.8" cy="957.3" r="6.9" fill="#d4e7f1"/>
<circle cx="862.9" cy="795.1" r="6.9" fill="#92c2dd"/>
<circle cx="891.0" cy="436.2" r="6.9" fill="#9bc7df"/>
<circle cx="548.1" cy="367.2" r="6.9" fill="#8fc0dc"/>
<circle cx="580.0" cy="800.0" r="6.9" fill="#f5f7f8"/>
<circle cx="828.1" cy="261.8" r="6.9" fill="#87bbd9"/>
<circle cx="540.1" cy="917.9" r="6.9" fill="#d9e9f2"/>
<circle cx="867.0" cy="904.2" r="6.9" fill="#cfe5f0"/>
<circle cx="283.4" cy="362.4" r="6.9" fill="#7eb5d6"/>
<circle cx="376.9" cy="553.1" r="6.9" fill="#e5eff5"/>
<circle cx="942.6" cy="693.3" r="6.9" fill="#79b0d4"/>
<circle cx="453.6" cy="709.7" r="6.9" fill="#c8e1ee"/>
<circle cx="336.0" cy="496.6" r="6.9" fill="#dfecf4"/>
<circle cx="561.0" cy="364.1" r="6.9" fill="#95c4de"/>
<circle cx="799.0" cy="722.2" r="6.9" fill="#c6e0ed"/>
<circle cx="988.3" cy="331.3" r="6.9" fill="#72a8cf"/>
<circle cx="533.2" cy="935.7" r="6.9" fill="#e6f0f5"/>
<circle cx="376.6" cy="297.3" r="6.9" fill="#d7e8f2"/>
<circle cx="430.5" cy="309.6" r="6.9" fill="#a9d1e4"/>
<circle cx="521.6" cy="232.3" r="6.9" fill="#9ac7df"/>
<circle cx="325.6" cy="339.2" r="6.9" fill="#88bbd9"/>
<circle cx="536.3" cy="988.7" r="6.9" fill="#9dc9e0"/>
<circle cx="362.7" cy="293.1" r="6.9" fill="#aed4e6"/>
<circle cx="432.8" cy="822.8" r="6.9" fill="#d0e5f0"/>
<circle cx="853.4" cy="894.3" r="6.9" fill="#a6cee3"/>
<circle cx="915.5" cy="676.2" r="6.9" fill="#bcdbea"/>
<circle cx="907.1" cy="771.8" r="6.9" fill="#c4dfec"/>
<circle cx="1049.8" cy="460.3" r="6.9" fill="#6a9cc9"/>
<circle cx="398.6" cy="419.5" r="6.9" fill="#e0edf4"/>
<circle cx="624.1" cy="940.3" r="6.9" fill="#faf2ec"/>
<circle cx="657.9" cy="888.2" r="6.9" fill="#a7cfe3"/>
<circle cx="803.6" cy="328.2" r="6.9" fill="#9bc7df"/>
<circle cx="1058.0" cy="384.9" r="6.9" fill="#86bad9"/>
<circle cx="632.9" cy="442.5" r="6.9" fill="#e9f1f6"/>
<circle cx="642.5" cy="211.1" r="6.9" fill="#7bb3d5"/>
<circle cx="976.0" cy="320.3" r="6.9" fill="#b6d8e8"/>
<circle cx="524.7" cy="483.6" r="6.9" fill="#9fcae1"/>
<circle cx="479.6" cy="342.9" r="6.9" fill="#97c5de"/>
<circle cx="443.1" cy="309.9" r="6.9" fill="#bedceb"/>
<circle cx="619.9" cy="918.4" r="6.9" fill="#fbf1eb"/>
<circle cx="1096.4" cy="507.4" r="6.9" fill="#9fcae1"/>
<circle cx="696.4" cy="788.0" r="6.9" fill="#f3f6f8"/>
<circle cx="592.8" cy="732.9" r="6.9" fill="#d4e7f1"/>
<circle cx="611.1" cy="287.7" r="6.9" fill="#8abdda"/>
<circle cx="855.8" cy="795.0" r="6.9" fill="#aed4e6"/>
<circle cx="447.1" cy="850.7" r="6.9" fill="#85b9d8"/>
<circle cx="775.0" cy="842.6" r="6.9" fill="#bfdceb"/>
<circle cx="621.0" cy="281.3" r="6.9" fill="#72a7cf"/>
<circle cx="512.8" cy="463.8" r="6.9" fill="#cae2ee"/>
<circle cx="748.7" cy="308.4" r="6.9" fill="#88bbd9"/>
<circle cx="949.7" cy="896.6" r="6.9" fill="#c2deec"/>
<circle cx="523.0" cy="993.8" r="6.9" fill="#e5eff5"/>
<circle cx="635.2" cy="878.9" r="6.9" fill="#b3d6e7"/>
<circle cx="620.1" cy="775.5" r="6.9" fill="#fce1d2"/>
<circle cx="498.5" cy="293.1" r="6.9" fill="#b1d5e7"/>
<circle cx="987.1" cy="848.3" r="6.9" fill="#d7e8f2"/>
<circle cx="750.1" cy="786.5" r="6.9" fill="#d1e6f0"/>
<circle cx="456.7" cy="765.9" r="6.9" fill="#c8e1ee"/>
<circle cx="778.2" cy="771.5" r="6.9" fill="#79b0d4"/>
<circle cx="570.9" cy="302.9" r="6.9" fill="#d7e8f2"/>
<circle cx="546.6" cy="348.2" r="6.9" fill="#add3e5"/>
<circle cx="358.0" cy="581.4" r="6.9" fill="#e7f0f6"/>
<circle cx="365.0" cy="534.0" r="6.9" fill="#b8d9e9"/>
<circle cx="357.6" cy="551.3" r="6.9" fill="#98c6df"/>
<circle cx="729.9" cy="807.3" r="6.9" fill="#eef4f7"/>
<circle cx="604.4" cy="733.7" r="6.9" fill="#e2eef5"/>
<circle cx="658.6" cy="436.2" r="6.9" fill="#a1cbe1"/>
<circle cx="398.0" cy="749.4" r="6.9" fill="#96c4de"/>
<circle cx="445.1" cy="382.2" r="6.9" fill="#a6cee3"/>
<circle cx="625.2" cy="472.3" r="6.9" fill="#cfe4f0"/>
<circle cx="633.9" cy="708.5" r="6.9" fill="#a6cfe3"/>
<circle cx="993.5" cy="853.7" r="6.9" fill="#b8d9e9"/>
<circle cx="741.7" cy="316.0" r="6.9" fill="#a4cde2"/>
<circle cx="555.4" cy="1064.7" r="6.9" fill="#c8e1ed"/>
<circle cx="759.5" cy="255.4" r="6.9" fill="#6fa3cc"/>
<circle cx="989.1" cy="426.8" r="6.9" fill="#83b8d8"/>
<circle cx="852.1" cy="442.1" r="6.9" fill="#7eb5d6"/>
<circle cx="811.0" cy="434.7" r="6.9" fill="#6fa3cd"/>
<circle cx="403.5" cy="289.4" r="6.9" fill="#ddecf4"/>
<circle cx="678.3" cy="893.0" r="6.9" fill="#e0edf4"/>
<circle cx="514.2" cy="343.5" r="6.9" fill="#9cc8e0"/>
<circle cx="644.5" cy="317.5" r="6.9" fill="#d5e8f1"/>
<circle cx="915.7" cy="629.1" r="6.9" fill="#abd1e5"/>
<circle cx="975.3" cy="661.7" r="6.9" fill="#81b7d7"/>
<circle cx="832.4" cy="565.6" r="6.9" fill="#618fbf"/>
<circle cx="939.4" cy="808.8" r="6.9" fill="#bcdbea"/>
<circle cx="660.5" cy="497.3" r="6.9" fill="#90c1dc"/>
<circle cx="628.5" cy="910.5" r="6.9" fill="#fde3d4"/>
<circle cx="1086.4" cy="503.6" r="6.9" fill="#aad1e5"/>
<circle cx="351.8" cy="277.6" r="6.9" fill="#99c6df"/>
<circle cx="435.2" cy="230.7" r="6.9" fill="#99c6df"/>
<circle cx="582.0" cy="1048.3" r="6.9" fill="#ddecf4"/>
<circle cx="586.8" cy="791.8" r="6.9" fill="#faf6f4"/>
<circle cx="372.0" cy="293.9" r="6.9" fill="#dcebf3"/>
<circle cx="353.8" cy="936.3" r="6.9" fill="#fbdac9"/>
<circle cx="682.1" cy="397.3" r="6.9" fill="#6fa3cc"/>
<circle cx="601.6" cy="1073.4" r="6.9" fill="#e4eff5"/>
<circle cx="539.5" cy="465.4" r="6.9" fill="#e9f1f6"/>
<circle cx="624.2" cy="215.9" r="6.9" fill="#71a6ce"/>
<circle cx="1086.3" cy="460.1" r="6.9" fill="#83b8d8"/>
<circle cx="644.6" cy="331.7" r="6.9" fill="#cde4ef"/>
<circle cx="584.0" cy="776.3" r="6.9" fill="#fce8dd"/>
<circle cx="1020.2" cy="427.4" r="6.9" fill="#79b1d4"/>
<circle cx="858.4" cy="950.6" r="6.9" fill="#e4eff5"/>
<circle cx="916.3" cy="301.9" r="6.9" fill="#96c4de"/>
<circle cx="439.7" cy="292.6" r="6.9" fill="#c6e0ed"/>
<circle cx="213.3" cy="406.7" r="6.9" fill="#7bb3d5"/>
<circle cx="655.5" cy="211.3" r="6.9" fill="#7bb3d5"/>
<circle cx="1048.3" cy="358.1" r="6.9" fill="#8cbeda"/>
<circle cx="396.3" cy="933.1" r="6.9" fill="#bbdaea"/>
<circle cx="574.6" cy="546.2" r="6.9" fill="#d7e8f2"/>
<circle cx="723.2" cy="312.5" r="6.9" fill="#94c3dd"/>
<circle cx="328.8" cy="304.3" r="6.9" fill="#d3e7f1"/>
<circle cx="839.0" cy="342.9" r="6.9" fill="#8bbdda"/>
<circle cx="619.2" cy="210.2" r="6.9" fill="#6fa3cc"/>
<circle cx="351.3" cy="389.3" r="6.9" fill="#9ac7df"/>
<circle cx="536.5" cy="705.0" r="6.9" fill="#96c4de"/>
<circle cx="397.6" cy="822.6" r="6.9" fill="#afd4e6"/>
<circle cx="466.9" cy="767.5" r="6.9" fill="#76add2"/>
<circle cx="673.3" cy="895.9" r="6.9" fill="#e3eff5"/>
<circle cx="589.9" cy="801.5" r="6.9" fill="#faf4f0"/>
<circle cx="668.4" cy="870.5" r="6.9" fill="#fbeee6"/>
<circle cx="700.5" cy="234.4" r="6.9" fill="#80b6d7"/>
<circle cx="701.3" cy="779.9" r="6.9" fill="#f9f9f8"/>
<circle cx="791.3" cy="629.4" r="6.9" fill="#c8e1ee"/>
<circle cx="528.0" cy="849.0" r="6.9" fill="#f9f9f9"/>
<circle cx="900.2" cy="638.2" r="6.9" fill="#95c3dd"/>
<circle cx="303.5" cy="487.9" r="6.9" fill="#eff4f7"/>
<circle cx="516.3" cy="958.2" r="6.9" fill="#e5eff5"/>
<circle cx="649.4" cy="682.1" r="6.9" fill="#e1edf5"/>
<circle cx="1029.4" cy="475.8" r="6.9" fill="#79b0d3"/>
<circle cx="745.3" cy="631.6" r="6.9" fill="#f9f9f9"/>
<circle cx="894.4" cy="897.2" r="6.9" fill="#bcdbea"/>
<circle cx="876.6" cy="513.7" r="6.9" fill="#fcebe1"/>
<circle cx="578.0" cy="761.7" r="6.9" fill="#f9f9f9"/>
<circle cx="408.6" cy="793.2" r="6.9" fill="#83b8d8"/>
<circle cx="567.3" cy="558.5" r="6.9" fill="#d1e5f0"/>
<circle cx="908.9" cy="884.9" r="6.9" fill="#dcebf3"/>
<circle cx="632.6" cy="994.3" r="6.9" fill="#e7f0f6"/>
<circle cx="812.6" cy="871.8" r="6.9" fill="#c9e2ee"/>
<circle cx="532.6" cy="967.5" r="6.9" fill="#e9f1f6"/>
<circle cx="535.1" cy="554.2" r="6.9" fill="#e4eff5"/>
<circle cx="636.4" cy="692.3" r="6.9" fill="#f0f5f7"/>
<circle cx="732.5" cy="785.3" r="6.9" fill="#e2eef5"/>
<circle cx="700.5" cy="328.4" r="6.9" fill="#9fcae1"/>
<circle cx="771.7" cy="814.7" r="6.9" fill="#b4d7e8"/>
<circle cx="620.4" cy="729.7" r="6.9" fill="#fbede4"/>
<circle cx="668.8" cy="902.5" r="6.9" fill="#f7f8f9"/>
<circle cx="727.4" cy="788.0" r="6.9" fill="#eaf2f6"/>
<circle cx="345.2" cy="808.3" r="6.9" fill="#6798c7"/>
<circle cx="723.1" cy="799.5" r="6.9" fill="#d2e6f0"/>
<circle cx="945.7" cy="328.0" r="6.9" fill="#6da0cb"/>
<circle cx="507.0" cy="242.1" r="6.9" fill="#89bcda"/>
<circle cx="324.9" cy="417.5" r="6.9" fill="#bbdbea"/>
<circle cx="813.7" cy="787.4" r="6.9" fill="#b4d7e7"/>
<circle cx="316.8" cy="371.3" r="6.9" fill="#b1d5e7"/>
<circle cx="682.3" cy="1052.4" r="6.9" fill="#acd2e5"/>
<circle cx="412.7" cy="371.5" r="6.9" fill="#9ac7df"/>
<circle cx="830.6" cy="855.0" r="6.9" fill="#bedceb"/>
<circle cx="607.5" cy="756.3" r="6.9" fill="#fce1d3"/>
<circle cx="796.5" cy="426.8" r="6.9" fill="#6da1cb"/>
<circle cx="913.1" cy="832.7" r="6.9" fill="#ddecf4"/>
<circle cx="633.0" cy="853.6" r="6.9" fill="#ebf2f6"/>
<circle cx="776.8" cy="779.5" r="6.9" fill="#96c4de"/>
<circle cx="729.4" cy="794.3" r="6.9" fill="#ddebf4"/>
<circle cx="659.7" cy="745.9" r="6.9" fill="#faf2ed"/>
<circle cx="504.1" cy="545.5" r="6.9" fill="#9dc8e0"/>
<circle cx="911.1" cy="901.8" r="6.9" fill="#dfedf4"/>
<circle cx="741.4" cy="557.8" r="6.9" fill="#b2d6e7"/>
<circle cx="445.0" cy="725.0" r="6.9" fill="#b2d6e7"/>
<circle cx="971.9" cy="857.8" r="6.9" fill="#cce3ef"/>
<circle cx="360.7" cy="853.3" r="6.9" fill="#6a9cc9"/>
<circle cx="688.7" cy="1064.7" r="6.9" fill="#dcebf3"/>
<circle cx="386.3" cy="767.3" r="6.9" fill="#6fa3cc"/>
<circle cx="536.1" cy="317.1" r="6.9" fill="#8bbdda"/>
<circle cx="428.4" cy="396.2" r="6.9" fill="#a0cae1"/>
<circle cx="876.0" cy="847.8" r="6.9" fill="#ddecf4"/>
<circle cx="603.3" cy="713.7" r="6.9" fill="#b8d9e9"/>
<circle cx="591.1" cy="1036.5" r="6.9" fill="#b0d4e6"/>
<circle cx="583.9" cy="824.0" r="6.9" fill="#fbeee7"/>
<circle cx="681.4" cy="254.4" r="6.9" fill="#91c1dc"/>
<circle cx="890.7" cy="668.3" r="6.9" fill="#74aad0"/>
<circle cx="663.7" cy="708.0" r="6.9" fill="#d9e9f2"/>
<circle cx="923.7" cy="662.9" r="6.9" fill="#9ec9e0"/>
<circle cx="600.5" cy="319.4" r="6.9" fill="#bcdbea"/>
<circle cx="654.5" cy="674.4" r="6.9" fill="#c8e1ee"/>
<circle cx="340.0" cy="565.9" r="6.9" fill="#f9f7f6"/>
<circle cx="361.3" cy="739.2" r="6.9" fill="#8cbeda"/>
<circle cx="835.0" cy="609.7" r="6.9" fill="#5a80aa"/>
<circle cx="706.6" cy="256.9" r="6.9" fill="#c4dfec"/>
<circle cx="520.8" cy="950.7" r="6.9" fill="#cee4ef"/>
<circle cx="1031.2" cy="802.5" r="6.9" fill="#587da5"/>
<circle cx="587.9" cy="497.0" r="6.9" fill="#ddebf4"/>
<circle cx="324.9" cy="310.6" r="6.9" fill="#81b7d7"/>
<circle cx="884.9" cy="943.3" r="6.9" fill="#e7f0f6"/>
<circle cx="683.2" cy="1044.6" r="6.9" fill="#a8cfe4"/>
<circle cx="592.5" cy="918.2" r="6.9" fill="#f9f9f8"/>
<circle cx="498.2" cy="246.8" r="6.9" fill="#71a5ce"/>
<circle cx="626.9" cy="756.0" r="6.9" fill="#f9ccb7"/>
<circle cx="482.0" cy="240.5" r="6.9" fill="#6da0cb"/>
<circle cx="992.5" cy="810.2" r="6.9" fill="#6da0cb"/>
<circle cx="1020.2" cy="480.3" r="6.9" fill="#73a8cf"/>
<circle cx="1027.8" cy="410.7" r="6.9" fill="#5d88b5"/>
<circle cx="977.4" cy="675.4" r="6.9" fill="#77add2"/>
<circle cx="475.0" cy="923.0" r="6.9" fill="#7bb3d5"/>
<circle cx="552.5" cy="826.1" r="6.9" fill="#e4eff5"/>
<circle cx="824.7" cy="927.9" r="6.9" fill="#aed3e6"/>
<circle cx="953.7" cy="826.4" r="6.9" fill="#d8e9f2"/>
<circle cx="686.3" cy="309.7" r="6.9" fill="#c7e0ed"/>
<circle cx="906.2" cy="379.8" r="6.9" fill="#5d87b4"/>
<circle cx="285.7" cy="459.1" r="6.9" fill="#d9e9f2"/>
<circle cx="617.3" cy="460.9" r="6.9" fill="#d4e7f1"/>
<circle cx="839.7" cy="433.2" r="6.9" fill="#94c3dd"/>
<circle cx="291.3" cy="491.9" r="6.9" fill="#cbe3ee"/>
<circle cx="1000.3" cy="793.0" r="6.9" fill="#537599"/>
<circle cx="311.7" cy="304.1" r="6.9" fill="#b3d7e7"/>
<circle cx="721.9" cy="700.1" r="6.9" fill="#d4e7f1"/>
<circle cx="771.5" cy="784.8" r="6.9" fill="#b4d7e8"/>
<circle cx="526.7" cy="331.3" r="6.9" fill="#b3d6e7"/>
<circle cx="347.7" cy="787.6" r="6.9" fill="#506e90"/>
<circle cx="728.0" cy="297.1" r="6.9" fill="#75abd1"/>
<circle cx="545.1" cy="258.0" r="6.9" fill="#a6cfe3"/>
<circle cx="436.2" cy="300.0" r="6.9" fill="#d3e7f1"/>
<circle cx="591.0" cy="756.3" r="6.9" fill="#f9f9f9"/>
<circle cx="921.2" cy="847.7" r="6.9" fill="#badae9"/>
<circle cx="622.8" cy="950.6" r="6.9" fill="#fce1d2"/>
<circle cx="943.0" cy="630.4" r="6.9" fill="#afd4e6"/>
<circle cx="858.4" cy="487.2" r="6.9" fill="#608ebd"/>
<circle cx="667.2" cy="280.6" r="6.9" fill="#8fc0dc"/>
<circle cx="464.3" cy="317.3" r="6.9" fill="#b8d9e9"/>
<circle cx="680.3" cy="560.3" r="6.9" fill="#96c4de"/>
<circle cx="564.2" cy="816.0" r="6.9" fill="#deecf4"/>
<circle cx="520.2" cy="284.3" r="6.9" fill="#b0d5e6"/>
<circle cx="296.1" cy="458.2" r="6.9" fill="#c3deec"/>
<circle cx="681.3" cy="799.4" r="6.9" fill="#ecf3f7"/>
<circle cx="286.4" cy="317.7" r="6.9" fill="#a5cde3"/>
<circle cx="1060.2" cy="487.8" r="6.9" fill="#6ea2cc"/>
<circle cx="857.5" cy="326.4" r="6.9" fill="#93c2dd"/>
<circle cx="1014.3" cy="799.1" r="6.9" fill="#6a9dc9"/>
<circle cx="368.1" cy="448.9" r="6.9" fill="#ecf3f7"/>
<circle cx="446.7" cy="551.1" r="6.9" fill="#bbdaea"/>
<circle cx="959.7" cy="800.5" r="6.9" fill="#badae9"/>
<circle cx="466.9" cy="705.8" r="6.9" fill="#d5e8f1"/>
<circle cx="453.3" cy="784.7" r="6.9" fill="#dfecf4"/>
<circle cx="745.6" cy="490.3" r="6.9" fill="#b2d6e7"/>
<circle cx="375.8" cy="786.7" r="6.9" fill="#6291c2"/>
<circle cx="682.2" cy="942.6" r="6.9" fill="#89bcda"/>
<circle cx="808.9" cy="731.5" r="6.9" fill="#b8d9e9"/>
<circle cx="467.0" cy="357.3" r="6.9" fill="#84b9d8"/>
<circle cx="752.8" cy="862.2" r="6.9" fill="#c1ddeb"/>
<circle cx="313.0" cy="348.7" r="6.9" fill="#8bbdda"/>
<circle cx="814.2" cy="913.0" r="6.9" fill="#b8d9e9"/>
<circle cx="803.9" cy="845.6" r="6.9" fill="#d9eaf3"/>
<circle cx="435.6" cy="738.6" r="6.9" fill="#6a9dc9"/>
<circle cx="773.8" cy="671.0" r="6.9" fill="#587da5"/>
<circle cx="619.0" cy="989.2" r="6.9" fill="#d8e9f2"/>
<circle cx="568.7" cy="903.8" r="6.9" fill="#f9f8f8"/>
<circle cx="407.8" cy="546.2" r="6.9" fill="#86bad9"/>
<circle cx="795.3" cy="787.8" r="6.9" fill="#acd2e5"/>
<circle cx="677.9" cy="249.1" r="6.9" fill="#70a5cd"/>
<circle cx="750.2" cy="278.6" r="6.9" fill="#abd2e5"/>
<circle cx="655.0" cy="225.8" r="6.9" fill="#7bb2d5"/>
<circle cx="377.0" cy="473.7" r="6.9" fill="#deecf4"/>
<circle cx="973.2" cy="433.6" r="6.9" fill="#6fa3cc"/>
<circle cx="433.6" cy="247.8" r="6.9" fill="#a7cfe3"/>
<circle cx="376.5" cy="319.8" r="6.9" fill="#e7f0f6"/>
<circle cx="360.5" cy="722.8" r="6.9" fill="#96c4de"/>
<circle cx="319.6" cy="504.1" r="6.9" fill="#f3f6f8"/>
<circle cx="629.8" cy="484.0" r="6.9" fill="#bedceb"/>
<circle cx="934.6" cy="440.5" r="6.9" fill="#76acd1"/>
<circle cx="540.5" cy="1060.2" r="6.9" fill="#cee4ef"/>
<circle cx="513.4" cy="965.5" r="6.9" fill="#f3f6f8"/>
<circle cx="677.0" cy="670.0" r="6.9" fill="#7bb3d5"/>
<circle cx="1020.0" cy="816.6" r="6.9" fill="#587ea6"/>
<circle cx="876.7" cy="801.0" r="6.9" fill="#cce3ef"/>
<circle cx="959.9" cy="487.9" r="6.9" fill="#add3e5"/>
<circle cx="629.4" cy="747.4" r="6.9" fill="#fce9de"/>
<circle cx="764.3" cy="747.3" r="6.9" fill="#edf3f7"/>
<circle cx="617.2" cy="239.0" r="6.9" fill="#75aad0"/>
<circle cx="553.2" cy="504.1" r="6.9" fill="#a9d0e4"/>
<circle cx="946.3" cy="420.3" r="6.9" fill="#82b7d7"/>
<circle cx="676.9" cy="857.1" r="6.9" fill="#e4eff5"/>
<circle cx="975.0" cy="426.3" r="6.9" fill="#6b9dc9"/>
<circle cx="507.4" cy="511.8" r="6.9" fill="#89bcda"/>
<circle cx="969.2" cy="799.0" r="6.9" fill="#a5cee3"/>
<circle cx="689.4" cy="690.6" r="6.9" fill="#f9f8f8"/>
<circle cx="580.9" cy="768.3" r="6.9" fill="#fce2d3"/>
<circle cx="450.7" cy="323.5" r="6.9" fill="#a1cbe2"/>
<circle cx="597.8" cy="1037.6" r="6.9" fill="#b7d8e8"/>
<circle cx="937.8" cy="638.2" r="6.9" fill="#6da1cb"/>
<circle cx="393.1" cy="801.6" r="6.9" fill="#699bc8"/>
<circle cx="287.3" cy="386.8" r="6.9" fill="#abd1e5"/>
<circle cx="386.5" cy="226.2" r="6.9" fill="#78afd3"/>
<circle cx="305.0" cy="911.3" r="6.9" fill="#fad2bf"/>
<circle cx="349.5" cy="742.3" r="6.9" fill="#9cc8e0"/>
<circle cx="843.3" cy="706.2" r="6.9" fill="#7eb5d6"/>
<circle cx="468.7" cy="806.5" r="6.9" fill="#78afd3"/>
<circle cx="858.1" cy="912.1" r="6.9" fill="#d6e8f1"/>
<circle cx="900.1" cy="606.0" r="6.9" fill="#fbefe8"/>
<circle cx="422.6" cy="280.6" r="6.9" fill="#bddbea"/>
<circle cx="629.2" cy="840.0" r="6.9" fill="#e7f0f6"/>
<circle cx="803.9" cy="925.0" r="6.9" fill="#a0cbe1"/>
<circle cx="633.3" cy="459.6" r="6.9" fill="#cae2ee"/>
<circle cx="638.6" cy="967.1" r="6.9" fill="#faf6f4"/>
<circle cx="1065.2" cy="391.9" r="6.9" fill="#7bb3d5"/>
<circle cx="926.7" cy="934.7" r="6.9" fill="#92c2dd"/>
<circle cx="483.7" cy="913.0" r="6.9" fill="#a1cbe1"/>
<circle cx="1069.9" cy="484.0" r="6.9" fill="#76acd1"/>
<circle cx="850.6" cy="710.1" r="6.9" fill="#6798c7"/>
<circle cx="948.4" cy="910.2" r="6.9" fill="#cfe4f0"/>
<circle cx="527.2" cy="861.5" r="6.9" fill="#d6e8f2"/>
<circle cx="653.9" cy="816.4" r="6.9" fill="#f4f7f8"/>
<circle cx="432.5" cy="761.3" r="6.9" fill="#c8e1ee"/>
<circle cx="522.0" cy="792.4" r="6.9" fill="#73a8cf"/>
<circle cx="646.9" cy="810.6" r="6.9" fill="#f9f9f9"/>
<circle cx="732.9" cy="770.8" r="6.9" fill="#c8e1ee"/>
<circle cx="1018.0" cy="318.0" r="6.9" fill="#b2d6e7"/>
<circle cx="989.2" cy="265.3" r="6.9" fill="#a7cfe3"/>
<circle cx="291.9" cy="363.5" r="6.9" fill="#9dc9e0"/>
<circle cx="804.5" cy="879.3" r="6.9" fill="#d9eaf3"/>
<circle cx="742.7" cy="709.8" r="6.9" fill="#c3deec"/>
<circle cx="758.5" cy="278.4" r="6.9" fill="#b8d9e9"/>
<circle cx="294.4" cy="908.1" r="6.9" fill="#f7bfa7"/>
<circle cx="978.7" cy="862.3" r="6.9" fill="#acd2e5"/>
<circle cx="431.7" cy="724.5" r="6.9" fill="#6fa3cc"/>
<circle cx="529.0" cy="349.6" r="6.9" fill="#89bcda"/>
<circle cx="704.9" cy="840.9" r="6.9" fill="#e0edf4"/>
<circle cx="614.7" cy="575.4" r="6.9" fill="#cbe2ee"/>
<circle cx="705.3" cy="714.4" r="6.9" fill="#faf4f1"/>
<circle cx="993.6" cy="646.1" r="6.9" fill="#6ea1cc"/>
<circle cx="483.3" cy="364.5" r="6.9" fill="#a9d0e4"/>
<circle cx="809.0" cy="456.6" r="6.9" fill="#5f8cba"/>
<circle cx="770.8" cy="894.0" r="6.9" fill="#d4e7f1"/>
<circle cx="609.2" cy="1032.6" r="6.9" fill="#c1deeb"/>
<circle cx="445.8" cy="707.3" r="6.9" fill="#c8e1ee"/>
<circle cx="993.0" cy="421.8" r="6.9" fill="#9dc9e0"/>
<circle cx="1036.5" cy="483.7" r="6.9" fill="#badae9"/>
<circle cx="889.7" cy="600.2" r="6.9" fill="#fce8db"/>
<circle cx="1054.0" cy="317.4" r="6.9" fill="#b2d6e7"/>
<circle cx="368.5" cy="510.6" r="6.9" fill="#e8f1f6"/>
<circle cx="1007.5" cy="265.3" r="6.9" fill="#ecf2f6"/>
<circle cx="615.3" cy="745.3" r="6.9" fill="#f9f7f6"/>
<circle cx="596.4" cy="1075.9" r="6.9" fill="#e8f1f6"/>
<circle cx="318.0" cy="397.1" r="6.9" fill="#a3cde2"/>
<circle cx="777.6" cy="708.2" r="6.9" fill="#b4d7e8"/>
<circle cx="509.0" cy="750.3" r="6.9" fill="#c8e1ee"/>
<circle cx="450.6" cy="279.1" r="6.9" fill="#f1f5f8"/>
<circle cx="748.5" cy="532.5" r="6.9" fill="#6393c4"/>
<circle cx="684.1" cy="997.9" r="6.9" fill="#add3e5"/>
<circle cx="1030.0" cy="310.0" r="6.9" fill="#deecf4"/>
<circle cx="714.2" cy="1027.2" r="6.9" fill="#aad1e5"/>
<circle cx="297.7" cy="405.4" r="6.9" fill="#9bc8e0"/>
<circle cx="318.1" cy="881.3" r="6.9" fill="#fbefe8"/>
<circle cx="657.9" cy="296.0" r="6.9" fill="#cde4ef"/>
<circle cx="786.5" cy="779.7" r="6.9" fill="#afd4e6"/>
<circle cx="547.9" cy="951.5" r="6.9" fill="#faf3ef"/>
<circle cx="612.1" cy="1026.8" r="6.9" fill="#d4e7f1"/>
<circle cx="358.5" cy="830.2" r="6.9" fill="#88bbd9"/>
<circle cx="818.7" cy="935.7" r="6.9" fill="#deecf4"/>
<circle cx="518.8" cy="911.7" r="6.9" fill="#cbe3ef"/>
<circle cx="407.1" cy="526.0" r="6.9" fill="#b4d7e7"/>
<circle cx="772.0" cy="957.0" r="6.9" fill="#bddcea"/>
<circle cx="574.7" cy="202.5" r="6.9" fill="#91c1dc"/>
<circle cx="792.7" cy="963.4" r="6.9" fill="#a4cde2"/>
<circle cx="523.4" cy="966.8" r="6.9" fill="#f0f5f7"/>
<circle cx="604.0" cy="265.1" r="6.9" fill="#b3d7e7"/>
<circle cx="348.1" cy="566.3" r="6.9" fill="#e9f1f6"/>
<circle cx="590.0" cy="533.9" r="6.9" fill="#f1f5f8"/>
<circle cx="795.5" cy="931.8" r="6.9" fill="#9cc8e0"/>
<circle cx="985.0" cy="305.0" r="6.9" fill="#c8e1ee"/>
<circle cx="244.7" cy="325.0" r="6.9" fill="#96c4de"/>
<circle cx="638.2" cy="1076.7" r="6.9" fill="#c9e1ee"/>
<circle cx="933.2" cy="692.9" r="6.9" fill="#8ebfdb"/>
<circle cx="553.5" cy="209.0" r="6.9" fill="#81b7d7"/>
<circle cx="695.6" cy="341.0" r="6.9" fill="#daeaf3"/>
<circle cx="961.4" cy="659.1" r="6.9" fill="#7ab2d4"/>
<circle cx="716.3" cy="892.6" r="6.9" fill="#fbf0e9"/>
<circle cx="505.0" cy="529.5" r="6.9" fill="#72a7cf"/>
<circle cx="315.5" cy="417.7" r="6.9" fill="#8abdda"/>
<circle cx="624.4" cy="464.7" r="6.9" fill="#d0e5f0"/>
<circle cx="651.7" cy="909.1" r="6.9" fill="#f7f8f9"/>
<circle cx="426.4" cy="271.6" r="6.9" fill="#92c2dc"/>
<circle cx="399.3" cy="788.1" r="6.9" fill="#6291c2"/>
<circle cx="389.8" cy="793.6" r="6.9" fill="#5e89b6"/>
<circle cx="380.9" cy="301.6" r="6.9" fill="#bfdceb"/>
<circle cx="856.8" cy="589.9" r="6.9" fill="#75abd1"/>
<circle cx="917.2" cy="869.1" r="6.9" fill="#bbdbea"/>
<circle cx="698.5" cy="239.0" r="6.9" fill="#acd2e5"/>
<circle cx="801.3" cy="731.9" r="6.9" fill="#a8d0e4"/>
<circle cx="637.8" cy="979.2" r="6.9" fill="#cbe2ee"/>
<circle cx="493.9" cy="1005.2" r="6.9" fill="#eaf2f6"/>
<circle cx="1037.3" cy="468.0" r="6.9" fill="#6fa3cc"/>
<circle cx="516.8" cy="209.7" r="6.9" fill="#8fc0dc"/>
<circle cx="233.6" cy="397.0" r="6.9" fill="#b2d6e7"/>
<circle cx="836.7" cy="873.2" r="6.9" fill="#b7d9e9"/>
<circle cx="929.9" cy="433.4" r="6.9" fill="#8dbfdb"/>
<circle cx="721.9" cy="1026.4" r="6.9" fill="#a4cde2"/>
<circle cx="880.0" cy="580.3" r="6.9" fill="#f9f9f9"/>
<circle cx="426.8" cy="444.4" r="6.9" fill="#8bbdda"/>
<circle cx="652.7" cy="1050.9" r="6.9" fill="#d1e6f0"/>
<circle cx="651.0" cy="505.6" r="6.9" fill="#b7d9e9"/>
<circle cx="782.2" cy="453.8" r="6.9" fill="#7bb3d5"/>
<circle cx="271.8" cy="330.6" r="6.9" fill="#bfddeb"/>
<circle cx="921.2" cy="687.0" r="6.9" fill="#7ab2d4"/>
<circle cx="893.0" cy="639.3" r="6.9" fill="#72a8cf"/>
<circle cx="565.4" cy="1066.9" r="6.9" fill="#e9f1f6"/>
<circle cx="575.9" cy="482.0" r="6.9" fill="#f4f6f8"/>
<circle cx="455.8" cy="395.4" r="6.9" fill="#86bad8"/>
<circle cx="436.9" cy="833.0" r="6.9" fill="#b8d9e9"/>
<circle cx="552.1" cy="786.7" r="6.9" fill="#ddebf4"/>
<circle cx="1002.8" cy="425.0" r="6.9" fill="#8fc0dc"/>
<circle cx="1023.0" cy="348.3" r="6.9" fill="#96c4de"/>
<circle cx="968.7" cy="689.9" r="6.9" fill="#73a8cf"/>
<circle cx="844.6" cy="560.7" r="6.9" fill="#85b9d8"/>
<circle cx="583.6" cy="1027.0" r="6.9" fill="#a5cee3"/>
<circle cx="307.7" cy="323.4" r="6.9" fill="#72a7cf"/>
<circle cx="597.2" cy="506.5" r="6.9" fill="#bbdbea"/>
<circle cx="578.7" cy="277.9" r="6.9" fill="#9cc8e0"/>
<circle cx="646.1" cy="1037.3" r="6.9" fill="#badae9"/>
<circle cx="224.4" cy="469.6" r="6.9" fill="#b2d6e7"/>
<circle cx="561.8" cy="521.8" r="6.9" fill="#eef4f7"/>
<circle cx="764.0" cy="803.8" r="6.9" fill="#ecf3f7"/>
<circle cx="1088.6" cy="496.5" r="6.9" fill="#8dbedb"/>
<circle cx="552.1" cy="971.6" r="6.9" fill="#f1f5f8"/>
<circle cx="399.9" cy="253.5" r="6.9" fill="#9ec9e0"/>
<circle cx="380.9" cy="471.6" r="6.9" fill="#d5e8f1"/>
<circle cx="747.6" cy="324.7" r="6.9" fill="#76acd1"/>
<circle cx="521.3" cy="214.9" r="6.9" fill="#7ab2d4"/>
<circle cx="643.6" cy="1065.5" r="6.9" fill="#d1e6f0"/>
<circle cx="937.2" cy="402.6" r="6.9" fill="#82b8d7"/>
<circle cx="612.2" cy="324.5" r="6.9" fill="#8cbedb"/>
<circle cx="976.0" cy="802.2" r="6.9" fill="#99c6df"/>
<circle cx="464.7" cy="350.5" r="6.9" fill="#6fa3cc"/>
<circle cx="551.8" cy="262.0" r="6.9" fill="#a7cfe3"/>
<circle cx="452.3" cy="810.2" r="6.9" fill="#b8d9e9"/>
<circle cx="655.7" cy="778.8" r="6.9" fill="#f5f7f8"/>
<circle cx="870.6" cy="518.5" r="6.9" fill="#fbf1ec"/>
<circle cx="616.0" cy="503.9" r="6.9" fill="#dcebf3"/>
<circle cx="810.4" cy="842.7" r="6.9" fill="#e5eff5"/>
<circle cx="871.9" cy="794.9" r="6.9" fill="#d9e9f2"/>
<circle cx="566.8" cy="918.7" r="6.9" fill="#dcebf4"/>
<circle cx="776.0" cy="858.3" r="6.9" fill="#badae9"/>
<circle cx="359.0" cy="364.1" r="6.9" fill="#cfe5f0"/>
<circle cx="616.0" cy="1053.1" r="6.9" fill="#bddcea"/>
<circle cx="696.0" cy="285.4" r="6.9" fill="#7cb4d5"/>
<circle cx="729.5" cy="730.3" r="6.9" fill="#cee4ef"/>
<circle cx="396.0" cy="479.5" r="6.9" fill="#d0e5f0"/>
<circle cx="794.0" cy="889.4" r="6.9" fill="#a2cce2"/>
<circle cx="550.1" cy="858.3" r="6.9" fill="#fcebe1"/>
<circle cx="714.7" cy="273.4" r="6.9" fill="#deecf4"/>
<circle cx="957.3" cy="833.5" r="6.9" fill="#cee4ef"/>
<circle cx="627.7" cy="567.6" r="6.9" fill="#9dc9e0"/>
<circle cx="527.8" cy="990.5" r="6.9" fill="#aad1e4"/>
<circle cx="618.9" cy="847.0" r="6.9" fill="#dbebf3"/>
<circle cx="576.8" cy="870.0" r="6.9" fill="#dbeaf3"/>
<circle cx="322.3" cy="411.6" r="6.9" fill="#bedcea"/>
<circle cx="770.9" cy="1034.0" r="6.9" fill="#d5e7f1"/>
<circle cx="506.1" cy="886.2" r="6.9" fill="#f3f6f8"/>
<circle cx="491.9" cy="285.0" r="6.9" fill="#a9d0e4"/>
<circle cx="336.0" cy="396.2" r="6.9" fill="#7eb5d6"/>
<circle cx="671.3" cy="880.6" r="6.9" fill="#fcebe2"/>
<circle cx="531.2" cy="355.5" r="6.9" fill="#8cbedb"/>
<circle cx="756.9" cy="717.0" r="6.9" fill="#c9e2ee"/>
<circle cx="587.9" cy="526.6" r="6.9" fill="#daeaf3"/>
<circle cx="503.0" cy="963.4" r="6.9" fill="#eff4f7"/>
<circle cx="742.7" cy="1022.0" r="6.9" fill="#dfedf4"/>
<circle cx="812.5" cy="826.4" r="6.9" fill="#eef4f7"/>
<circle cx="723.2" cy="863.4" r="6.9" fill="#c9e2ee"/>
<circle cx="717.1" cy="723.3" r="6.9" fill="#f2f6f8"/>
<circle cx="343.4" cy="574.3" r="6.9" fill="#d8e9f2"/>
<circle cx="810.2" cy="904.0" r="6.9" fill="#c1deec"/>
<circle cx="750.9" cy="909.1" r="6.9" fill="#d5e8f1"/>
<circle cx="749.0" cy="841.8" r="6.9" fill="#b0d5e6"/>
<circle cx="734.4" cy="532.5" r="6.9" fill="#5679a0"/>
<circle cx="852.5" cy="941.8" r="6.9" fill="#e4eff5"/>
<circle cx="383.0" cy="711.9" r="6.9" fill="#76add2"/>
<circle cx="651.2" cy="693.1" r="6.9" fill="#cfe5f0"/>
<circle cx="597.0" cy="269.5" r="6.9" fill="#c1deec"/>
<circle cx="580.8" cy="910.3" r="6.9" fill="#f7f8f9"/>
<circle cx="751.7" cy="706.7" r="6.9" fill="#bcdbea"/>
<circle cx="600.0" cy="460.2" r="6.9" fill="#f6f7f8"/>
<circle cx="767.0" cy="265.2" r="6.9" fill="#99c6df"/>
<circle cx="336.3" cy="928.8" r="6.9" fill="#fbefe8"/>
<circle cx="603.0" cy="467.7" r="6.9" fill="#e5eff5"/>
<circle cx="567.6" cy="279.6" r="6.9" fill="#bddcea"/>
<circle cx="385.6" cy="270.7" r="6.9" fill="#7cb4d5"/>
<circle cx="708.3" cy="628.2" r="6.9" fill="#fcdfd0"/>
<circle cx="359.7" cy="530.9" r="6.9" fill="#add3e5"/>
<circle cx="663.8" cy="692.4" r="6.9" fill="#dfedf4"/>
<circle cx="997.8" cy="769.6" r="6.9" fill="#608cba"/>
<circle cx="620.5" cy="1044.8" r="6.9" fill="#c7e1ed"/>
<circle cx="623.9" cy="1011.7" r="6.9" fill="#bcdbea"/>
<circle cx="501.1" cy="909.1" r="6.9" fill="#eaf2f6"/>
<circle cx="664.6" cy="1052.6" r="6.9" fill="#cde4ef"/>
<circle cx="756.9" cy="552.2" r="6.9" fill="#7bb3d5"/>
<circle cx="370.7" cy="810.1" r="6.9" fill="#6494c5"/>
<circle cx="699.4" cy="956.8" r="6.9" fill="#a4cde3"/>
<circle cx="579.0" cy="877.5" r="6.9" fill="#edf3f7"/>
<circle cx="813.8" cy="304.8" r="6.9" fill="#7bb3d5"/>
<circle cx="736.5" cy="1017.6" r="6.9" fill="#c5e0ed"/>
<circle cx="840.5" cy="611.9" r="6.9" fill="#5a80aa"/>
<circle cx="988.6" cy="827.1" r="6.9" fill="#c1deeb"/>
<circle cx="581.4" cy="269.9" r="6.9" fill="#80b6d6"/>
<circle cx="599.6" cy="866.2" r="6.9" fill="#f7f8f9"/>
<circle cx="613.7" cy="436.4" r="6.9" fill="#f1f5f7"/>
<circle cx="452.5" cy="373.8" r="6.9" fill="#89bcda"/>
<circle cx="563.4" cy="239.5" r="6.9" fill="#76add2"/>
<circle cx="924.4" cy="397.6" r="6.9" fill="#70a5cd"/>
<circle cx="552.0" cy="1044.7" r="6.9" fill="#d0e5f0"/>
<circle cx="511.5" cy="993.9" r="6.9" fill="#d6e8f2"/>
<circle cx="880.7" cy="325.8" r="6.9" fill="#8ebfdb"/>
<circle cx="600.9" cy="473.1" r="6.9" fill="#dfecf4"/>
<circle cx="980.3" cy="670.2" r="6.9" fill="#84b9d8"/>
<circle cx="1025.0" cy="288.0" r="6.9" fill="#e9f1f6"/>
<circle cx="509.2" cy="1003.8" r="6.9" fill="#daeaf3"/>
<circle cx="606.1" cy="504.3" r="6.9" fill="#ecf3f7"/>
<circle cx="604.0" cy="698.0" r="6.9" fill="#e2eef5"/>
<circle cx="660.2" cy="278.6" r="6.9" fill="#b1d5e7"/>
<circle cx="781.5" cy="416.9" r="6.9" fill="#71a5ce"/>
<circle cx="485.6" cy="737.0" r="6.9" fill="#d5e8f1"/>
<circle cx="948.8" cy="425.5" r="6.9" fill="#a2cce2"/>
<circle cx="286.6" cy="476.1" r="6.9" fill="#e4eff5"/>
<circle cx="958.4" cy="631.4" r="6.9" fill="#97c5de"/>
<circle cx="353.9" cy="794.6" r="6.9" fill="#537397"/>
<circle cx="309.9" cy="364.4" r="6.9" fill="#93c2dd"/>
<circle cx="551.4" cy="808.6" r="6.9" fill="#cce3ef"/>
<circle cx="886.5" cy="817.9" r="6.9" fill="#c5e0ed"/>
<circle cx="912.0" cy="811.4" r="6.9" fill="#daeaf3"/>
<circle cx="780.3" cy="892.3" r="6.9" fill="#9fcae1"/>
<circle cx="400.8" cy="803.2" r="6.9" fill="#a4cde2"/>
<circle cx="859.0" cy="409.9" r="6.9" fill="#98c5de"/>
<circle cx="802.4" cy="406.4" r="6.9" fill="#74aad0"/>
<circle cx="677.0" cy="374.0" r="6.9" fill="#d5e8f1"/>
<circle cx="524.8" cy="1045.2" r="6.9" fill="#dfedf4"/>
<circle cx="625.1" cy="784.1" r="6.9" fill="#fbd7c6"/>
<circle cx="332.0" cy="803.7" r="6.9" fill="#97c5de"/>
<circle cx="504.0" cy="294.2" r="6.9" fill="#e0edf4"/>
<circle cx="498.3" cy="892.3" r="6.9" fill="#b6d8e8"/>
<circle cx="810.0" cy="692.0" r="6.9" fill="#5b84af"/>
<circle cx="507.4" cy="333.3" r="6.9" fill="#ecf3f7"/>
<circle cx="878.4" cy="522.7" r="6.9" fill="#fbf1ec"/>
<circle cx="373.6" cy="834.3" r="6.9" fill="#78afd3"/>
<circle cx="594.1" cy="697.5" r="6.9" fill="#d1e6f0"/>
<circle cx="968.5" cy="643.6" r="6.9" fill="#75abd1"/>
<circle cx="343.3" cy="495.6" r="6.9" fill="#e4eff5"/>
<circle cx="658.6" cy="764.7" r="6.9" fill="#faf5f3"/>
<circle cx="829.6" cy="310.9" r="6.9" fill="#b6d8e8"/>
<circle cx="560.2" cy="528.6" r="6.9" fill="#eaf2f6"/>
<circle cx="862.2" cy="396.8" r="6.9" fill="#6da1cb"/>
<circle cx="280.6" cy="387.5" r="6.9" fill="#7ab2d4"/>
<circle cx="576.6" cy="1059.6" r="6.9" fill="#dbeaf3"/>
<circle cx="1054.3" cy="467.2" r="6.9" fill="#95c4de"/>
<circle cx="613.7" cy="918.6" r="6.9" fill="#edf3f7"/>
<circle cx="895.8" cy="396.9" r="6.9" fill="#6a9dc9"/>
<circle cx="291.3" cy="302.9" r="6.9" fill="#92c2dd"/>
<circle cx="557.0" cy="943.4" r="6.9" fill="#dbebf3"/>
<circle cx="680.2" cy="739.4" r="6.9" fill="#eaf2f6"/>
<circle cx="917.8" cy="637.9" r="6.9" fill="#80b6d7"/>
<circle cx="980.5" cy="825.2" r="6.9" fill="#b6d8e8"/>
<circle cx="618.7" cy="725.4" r="6.9" fill="#dfecf4"/>
<circle cx="816.4" cy="957.6" r="6.9" fill="#add3e6"/>
<circle cx="768.1" cy="943.5" r="6.9" fill="#dbebf3"/>
<circle cx="546.3" cy="332.3" r="6.9" fill="#6ea1cc"/>
<circle cx="640.0" cy="793.7" r="6.9" fill="#f1f5f8"/>
<circle cx="613.8" cy="809.8" r="6.9" fill="#faf3f0"/>
<circle cx="650.7" cy="452.7" r="6.9" fill="#eaf2f6"/>
<circle cx="472.0" cy="845.8" r="6.9" fill="#a5cee3"/>
<circle cx="350.9" cy="591.9" r="6.9" fill="#e7f0f6"/>
<circle cx="543.8" cy="786.8" r="6.9" fill="#c7e1ed"/>
<circle cx="296.2" cy="449.7" r="6.9" fill="#79b0d4"/>
<circle cx="396.8" cy="266.0" r="6.9" fill="#93c2dd"/>
<circle cx="379.6" cy="513.1" r="6.9" fill="#e4eff5"/>
<circle cx="346.3" cy="923.8" r="6.9" fill="#fcddcd"/>
<circle cx="360.4" cy="386.8" r="6.9" fill="#aad1e4"/>
<circle cx="330.5" cy="286.2" r="6.9" fill="#9dc8e0"/>
<circle cx="509.5" cy="895.5" r="6.9" fill="#ebf2f6"/>
<circle cx="524.9" cy="858.4" r="6.9" fill="#d0e5f0"/>
<circle cx="863.5" cy="653.5" r="6.9" fill="#6393c4"/>
<circle cx="935.0" cy="653.9" r="6.9" fill="#73a8cf"/>
<circle cx="815.0" cy="923.9" r="6.9" fill="#b5d7e8"/>
<circle cx="871.6" cy="886.8" r="6.9" fill="#dcebf3"/>
<circle cx="382.8" cy="584.9" r="6.9" fill="#c3deec"/>
<circle cx="417.8" cy="426.6" r="6.9" fill="#81b7d7"/>
<circle cx="1050.0" cy="308.0" r="6.9" fill="#d5e8f1"/>
<circle cx="732.4" cy="885.9" r="6.9" fill="#f2f5f8"/>
<circle cx="560.9" cy="927.4" r="6.9" fill="#f9f9f9"/>
<circle cx="947.3" cy="401.7" r="6.9" fill="#91c1dc"/>
<circle cx="776.0" cy="443.0" r="6.9" fill="#91c1dc"/>
<circle cx="715.0" cy="659.8" r="6.9" fill="#fcece3"/>
<circle cx="643.8" cy="425.7" r="6.9" fill="#badae9"/>
<circle cx="838.0" cy="717.3" r="6.9" fill="#96c4de"/>
<circle cx="988.4" cy="833.1" r="6.9" fill="#d0e5f0"/>
<circle cx="911.7" cy="653.7" r="6.9" fill="#72a7ce"/>
<circle cx="408.9" cy="351.8" r="6.9" fill="#9bc7e0"/>
<circle cx="707.9" cy="302.4" r="6.9" fill="#76acd1"/>
<circle cx="666.9" cy="293.5" r="6.9" fill="#b2d6e7"/>
<circle cx="501.4" cy="285.2" r="6.9" fill="#7bb3d5"/>
<circle cx="871.1" cy="848.8" r="6.9" fill="#b8d9e9"/>
<circle cx="756.9" cy="437.3" r="6.9" fill="#7fb5d6"/>
<circle cx="508.8" cy="207.1" r="6.9" fill="#8fc0dc"/>
<circle cx="854.9" cy="419.8" r="6.9" fill="#d7e9f2"/>
<circle cx="734.0" cy="269.9" r="6.9" fill="#90c0dc"/>
<circle cx="385.8" cy="315.8" r="6.9" fill="#e8f1f6"/>
<circle cx="331.8" cy="379.6" r="6.9" fill="#d3e7f1"/>
<circle cx="555.9" cy="225.8" r="6.9" fill="#72a7cf"/>
<circle cx="596.3" cy="573.5" r="6.9" fill="#d1e5f0"/>
<circle cx="637.7" cy="242.3" r="6.9" fill="#75abd1"/>
<circle cx="911.3" cy="497.6" r="6.9" fill="#f2f6f8"/>
<circle cx="778.7" cy="955.7" r="6.9" fill="#cfe4f0"/>
<circle cx="417.6" cy="412.0" r="6.9" fill="#bedceb"/>
<circle cx="619.4" cy="473.6" r="6.9" fill="#e6f0f6"/>
<circle cx="764.3" cy="840.5" r="6.9" fill="#c1ddeb"/>
<circle cx="512.0" cy="863.0" r="6.9" fill="#deecf4"/>
<circle cx="439.4" cy="367.0" r="6.9" fill="#a1cbe1"/>
<circle cx="668.1" cy="1071.9" r="6.9" fill="#c9e2ee"/>
<circle cx="1098.7" cy="463.9" r="6.9" fill="#b6d8e8"/>
<circle cx="837.7" cy="328.3" r="6.9" fill="#9bc8e0"/>
<circle cx="810.8" cy="776.2" r="6.9" fill="#bbdbea"/>
<circle cx="637.3" cy="206.6" r="6.9" fill="#6c9fca"/>
<circle cx="570.0" cy="809.7" r="6.9" fill="#e7f0f6"/>
<circle cx="611.1" cy="224.9" r="6.9" fill="#76add2"/>
<circle cx="763.1" cy="881.6" r="6.9" fill="#e7f0f6"/>
<circle cx="349.0" cy="802.2" r="6.9" fill="#5d87b3"/>
<circle cx="806.0" cy="959.6" r="6.9" fill="#d8e9f2"/>
<circle cx="492.7" cy="712.0" r="6.9" fill="#c4dfec"/>
<circle cx="221.4" cy="448.3" r="6.9" fill="#6fa3cc"/>
<circle cx="347.2" cy="380.8" r="6.9" fill="#d0e5f0"/>
<circle cx="653.7" cy="336.0" r="6.9" fill="#cae2ee"/>
<circle cx="786.9" cy="656.7" r="6.9" fill="#5a80aa"/>
<circle cx="279.0" cy="370.3" r="6.9" fill="#aad1e4"/>
<circle cx="531.0" cy="496.6" r="6.9" fill="#a8d0e4"/>
<circle cx="690.1" cy="783.4" r="6.9" fill="#f5f7f8"/>
<circle cx="783.0" cy="931.8" r="6.9" fill="#a0cbe1"/>
<circle cx="691.0" cy="582.0" r="6.9" fill="#7bb3d5"/>
<circle cx="835.3" cy="413.9" r="6.9" fill="#8ebfdb"/>
<circle cx="403.0" cy="742.0" r="6.9" fill="#96c4de"/>
<circle cx="817.8" cy="270.7" r="6.9" fill="#a1cbe2"/>
<circle cx="366.8" cy="489.5" r="6.9" fill="#f1f5f8"/>
<circle cx="462.7" cy="378.3" r="6.9" fill="#b5d7e8"/>
<circle cx="402.7" cy="491.9" r="6.9" fill="#cde4ef"/>
<circle cx="950.3" cy="787.6" r="6.9" fill="#bedceb"/>
<circle cx="409.9" cy="224.4" r="6.9" fill="#a0cbe1"/>
<circle cx="606.7" cy="320.3" r="6.9" fill="#abd2e5"/>
<circle cx="800.2" cy="780.4" r="6.9" fill="#bcdbea"/>
<circle cx="699.9" cy="379.1" r="6.9" fill="#a8d0e4"/>
<circle cx="764.0" cy="811.6" r="6.9" fill="#e6f0f5"/>
<circle cx="918.9" cy="497.8" r="6.9" fill="#d3e6f1"/>
<circle cx="761.7" cy="624.0" r="6.9" fill="#ecf2f6"/>
<circle cx="582.9" cy="287.2" r="6.9" fill="#76add2"/>
<circle cx="787.0" cy="848.3" r="6.9" fill="#d0e5f0"/>
<circle cx="924.8" cy="413.0" r="6.9" fill="#76acd1"/>
<circle cx="895.3" cy="787.6" r="6.9" fill="#b1d5e7"/>
<circle cx="741.1" cy="748.8" r="6.9" fill="#cee4ef"/>
<circle cx="713.6" cy="807.7" r="6.9" fill="#faf2ed"/>
<circle cx="633.3" cy="215.2" r="6.9" fill="#91c1dc"/>
<circle cx="601.4" cy="771.9" r="6.9" fill="#fde6d9"/>
<circle cx="598.6" cy="487.5" r="6.9" fill="#e9f1f6"/>
<circle cx="744.8" cy="425.0" r="6.9" fill="#7eb5d6"/>
<circle cx="359.0" cy="441.9" r="6.9" fill="#b4d7e8"/>
<circle cx="1044.0" cy="300.5" r="6.9" fill="#eef4f7"/>
<circle cx="981.3" cy="309.2" r="6.9" fill="#e4eff5"/>
<circle cx="615.2" cy="1034.2" r="6.9" fill="#b5d8e8"/>
<circle cx="655.7" cy="215.8" r="6.9" fill="#6da1cb"/>
<circle cx="717.3" cy="1035.4" r="6.9" fill="#d5e8f1"/>
<circle cx="438.7" cy="846.2" r="6.9" fill="#a1cbe2"/>
<circle cx="582.7" cy="460.3" r="6.9" fill="#faf6f4"/>
<circle cx="992.9" cy="312.0" r="6.9" fill="#deecf4"/>
<circle cx="464.3" cy="849.0" r="6.9" fill="#a7cfe3"/>
<circle cx="713.3" cy="841.5" r="6.9" fill="#e4eff5"/>
<circle cx="669.5" cy="270.2" r="6.9" fill="#94c3dd"/>
<circle cx="601.7" cy="418.3" r="6.9" fill="#e9f1f6"/>
<circle cx="788.3" cy="940.7" r="6.9" fill="#cee4ef"/>
<circle cx="594.7" cy="263.4" r="6.9" fill="#bfdceb"/>
<circle cx="557.4" cy="233.6" r="6.9" fill="#90c0dc"/>
<circle cx="946.0" cy="824.9" r="6.9" fill="#ddebf4"/>
<circle cx="381.1" cy="286.8" r="6.9" fill="#a4cde3"/>
<circle cx="645.8" cy="534.5" r="6.9" fill="#cde3ef"/>
<circle cx="332.1" cy="542.8" r="6.9" fill="#f6f8f9"/>
<circle cx="984.2" cy="443.7" r="6.9" fill="#a3cde2"/>
<circle cx="856.8" cy="404.7" r="6.9" fill="#a2cce2"/>
<circle cx="300.0" cy="915.0" r="6.9" fill="#fde5d7"/>
<circle cx="399.2" cy="272.3" r="6.9" fill="#94c3dd"/>
<circle cx="825.6" cy="286.2" r="6.9" fill="#c1deec"/>
<circle cx="662.9" cy="897.0" r="6.9" fill="#cee4ef"/>
<circle cx="922.8" cy="316.9" r="6.9" fill="#73a9cf"/>
<circle cx="614.1" cy="1059.7" r="6.9" fill="#9dc8e0"/>
<circle cx="647.0" cy="896.3" r="6.9" fill="#e1edf5"/>
<circle cx="902.9" cy="777.5" r="6.9" fill="#b1d6e7"/>
<circle cx="988.8" cy="473.8" r="6.9" fill="#7ab2d5"/>
<circle cx="623.6" cy="901.6" r="6.9" fill="#e9f1f6"/>
<circle cx="392.2" cy="334.2" r="6.9" fill="#e9f1f6"/>
<circle cx="886.2" cy="834.7" r="6.9" fill="#d6e8f1"/>
<circle cx="884.9" cy="420.1" r="6.9" fill="#a4cde2"/>
<circle cx="490.7" cy="319.5" r="6.9" fill="#dfecf4"/>
<circle cx="872.2" cy="528.9" r="6.9" fill="#fce8dc"/>
<circle cx="818.8" cy="466.4" r="6.9" fill="#96c4de"/>
<circle cx="355.7" cy="300.0" r="6.9" fill="#f0f5f7"/>
<circle cx="507.2" cy="994.1" r="6.9" fill="#d2e6f0"/>
<circle cx="658.5" cy="310.5" r="6.9" fill="#e0edf4"/>
<circle cx="765.8" cy="854.9" r="6.9" fill="#cde4ef"/>
<circle cx="547.3" cy="300.6" r="6.9" fill="#91c1dc"/>
<circle cx="399.9" cy="831.9" r="6.9" fill="#6ea1cb"/>
<circle cx="1048.5" cy="488.8" r="6.9" fill="#7bb2d5"/>
<circle cx="624.0" cy="206.9" r="6.9" fill="#a1cbe2"/>
<circle cx="766.7" cy="473.4" r="6.9" fill="#6393c4"/>
<circle cx="850.8" cy="787.9" r="6.9" fill="#85bad8"/>
<circle cx="927.4" cy="405.5" r="6.9" fill="#6a9cc9"/>
<circle cx="712.5" cy="826.0" r="6.9" fill="#e1edf5"/>
<circle cx="437.8" cy="287.9" r="6.9" fill="#c7e0ed"/>
<circle cx="590.2" cy="1003.1" r="6.9" fill="#dcebf3"/>
<circle cx="943.7" cy="682.0" r="6.9" fill="#9fcae1"/>
<circle cx="590.2" cy="772.7" r="6.9" fill="#fbd8c6"/>
<circle cx="373.8" cy="286.8" r="6.9" fill="#84b9d8"/>
<circle cx="332.9" cy="357.1" r="6.9" fill="#b2d6e7"/>
<circle cx="557.1" cy="560.0" r="6.9" fill="#d2e6f0"/>
<circle cx="834.8" cy="783.7" r="6.9" fill="#79b0d3"/>
<circle cx="826.6" cy="903.4" r="6.9" fill="#b3d7e7"/>
<circle cx="674.8" cy="885.3" r="6.9" fill="#f9f9f9"/>
<circle cx="356.7" cy="803.8" r="6.9" fill="#6494c5"/>
<circle cx="740.5" cy="266.0" r="6.9" fill="#a9d0e4"/>
<circle cx="506.1" cy="1028.5" r="6.9" fill="#f9f8f7"/>
<circle cx="961.7" cy="847.1" r="6.9" fill="#ddecf4"/>
<circle cx="390.0" cy="504.4" r="6.9" fill="#f3f6f8"/>
<circle cx="1103.3" cy="491.8" r="6.9" fill="#c3dfec"/>
<circle cx="334.7" cy="557.7" r="6.9" fill="#eff4f7"/>
<circle cx="440.4" cy="374.7" r="6.9" fill="#a0cbe1"/>
<circle cx="922.5" cy="879.9" r="6.9" fill="#c4dfec"/>
<circle cx="1000.6" cy="465.0" r="6.9" fill="#82b8d7"/>
<circle cx="870.5" cy="706.3" r="6.9" fill="#608cba"/>
<circle cx="963.6" cy="312.5" r="6.9" fill="#93c2dd"/>
<circle cx="778.0" cy="845.8" r="6.9" fill="#c8e1ee"/>
<circle cx="661.0" cy="272.1" r="6.9" fill="#8bbdda"/>
<circle cx="399.0" cy="339.1" r="6.9" fill="#abd1e5"/>
<circle cx="699.3" cy="366.4" r="6.9" fill="#afd4e6"/>
<circle cx="671.6" cy="1006.5" r="6.9" fill="#b4d7e8"/>
<circle cx="957.5" cy="881.0" r="6.9" fill="#a3cce2"/>
<circle cx="686.6" cy="981.0" r="6.9" fill="#cde3ef"/>
<circle cx="808.7" cy="787.7" r="6.9" fill="#b1d6e7"/>
<circle cx="289.6" cy="436.4" r="6.9" fill="#bfddeb"/>
<circle cx="694.8" cy="293.4" r="6.9" fill="#bedceb"/>
<circle cx="957.5" cy="417.2" r="6.9" fill="#7cb4d5"/>
<circle cx="916.2" cy="380.3" r="6.9" fill="#88bbd9"/>
<circle cx="876.7" cy="398.2" r="6.9" fill="#9cc8e0"/>
<circle cx="441.6" cy="262.4" r="6.9" fill="#94c3dd"/>
<circle cx="586.3" cy="389.1" r="6.9" fill="#6da0cb"/>
<circle cx="586.9" cy="420.9" r="6.9" fill="#e2eef5"/>
<circle cx="418.3" cy="733.8" r="6.9" fill="#7bb3d5"/>
<circle cx="350.4" cy="481.3" r="6.9" fill="#e8f1f6"/>
<circle cx="677.8" cy="994.1" r="6.9" fill="#c1deec"/>
<circle cx="1000.0" cy="285.0" r="6.9" fill="#ecf2f6"/>
<circle cx="527.5" cy="257.4" r="6.9" fill="#b1d5e7"/>
<circle cx="957.6" cy="331.3" r="6.9" fill="#6ea2cc"/>
<circle cx="946.5" cy="309.7" r="6.9" fill="#a2cce2"/>
<circle cx="421.2" cy="847.1" r="6.9" fill="#8dbfdb"/>
<circle cx="1025.0" cy="255.0" r="6.9" fill="#eef4f7"/>
<circle cx="443.0" cy="403.0" r="6.9" fill="#6a9cc9"/>
<circle cx="550.1" cy="933.5" r="6.9" fill="#d5e8f1"/>
<circle cx="948.3" cy="671.0" r="6.9" fill="#88bbd9"/>
<circle cx="761.4" cy="721.3" r="6.9" fill="#aed3e6"/>
<circle cx="499.4" cy="225.7" r="6.9" fill="#88bbd9"/>
<circle cx="363.5" cy="324.6" r="6.9" fill="#d1e6f0"/>
<circle cx="324.6" cy="296.8" r="6.9" fill="#97c5de"/>
<circle cx="701.5" cy="280.3" r="6.9" fill="#94c3dd"/>
<circle cx="336.7" cy="317.8" r="6.9" fill="#abd1e5"/>
<circle cx="608.2" cy="1052.6" r="6.9" fill="#c5dfed"/>
<circle cx="744.7" cy="784.9" r="6.9" fill="#c0ddeb"/>
<circle cx="503.6" cy="325.3" r="6.9" fill="#f0f5f7"/>
<circle cx="564.4" cy="272.6" r="6.9" fill="#a0cbe1"/>
<circle cx="731.3" cy="452.2" r="6.9" fill="#86bad9"/>
<circle cx="797.3" cy="271.6" r="6.9" fill="#78afd3"/>
<circle cx="451.6" cy="546.1" r="6.9" fill="#8dbedb"/>
<circle cx="575.7" cy="839.4" r="6.9" fill="#eff4f7"/>
<circle cx="492.3" cy="378.5" r="6.9" fill="#77aed2"/>
<circle cx="863.0" cy="335.5" r="6.9" fill="#82b8d7"/>
<circle cx="651.1" cy="962.9" r="6.9" fill="#faf2ed"/>
<circle cx="320.7" cy="445.3" r="6.9" fill="#c9e1ee"/>
<circle cx="817.4" cy="588.7" r="6.9" fill="#a0cbe1"/>
<circle cx="649.2" cy="902.3" r="6.9" fill="#e3eff5"/>
<circle cx="594.8" cy="838.4" r="6.9" fill="#ddebf4"/>
<circle cx="799.5" cy="910.1" r="6.9" fill="#a2cce2"/>
<circle cx="659.9" cy="971.4" r="6.9" fill="#cce3ef"/>
<circle cx="899.1" cy="631.2" r="6.9" fill="#a2cce2"/>
<circle cx="1065.5" cy="452.6" r="6.9" fill="#87bbd9"/>
<circle cx="691.1" cy="908.7" r="6.9" fill="#77aed2"/>
<circle cx="430.8" cy="863.7" r="6.9" fill="#8cbedb"/>
<circle cx="763.3" cy="893.4" r="6.9" fill="#e2eef5"/>
<circle cx="597.8" cy="286.2" r="6.9" fill="#7ab2d4"/>
<circle cx="864.8" cy="857.9" r="6.9" fill="#abd1e5"/>
<circle cx="526.5" cy="771.2" r="6.9" fill="#88bbd9"/>
<circle cx="331.3" cy="428.6" r="6.9" fill="#cbe2ee"/>
<circle cx="473.8" cy="394.3" r="6.9" fill="#aed3e6"/>
<circle cx="828.2" cy="947.3" r="6.9" fill="#cce3ef"/>
<circle cx="852.8" cy="956.6" r="6.9" fill="#b7d9e9"/>
<circle cx="861.0" cy="864.1" r="6.9" fill="#bcdbea"/>
<circle cx="483.2" cy="943.8" r="6.9" fill="#c8e1ee"/>
<circle cx="453.5" cy="287.3" r="6.9" fill="#d3e7f1"/>
<circle cx="633.5" cy="512.5" r="6.9" fill="#d6e8f2"/>
<circle cx="526.1" cy="784.4" r="6.9" fill="#9fcae1"/>
<circle cx="346.3" cy="396.3" r="6.9" fill="#b2d6e7"/>
<circle cx="626.1" cy="832.0" r="6.9" fill="#fde7db"/>
<circle cx="881.4" cy="342.6" r="6.9" fill="#8ebfdb"/>
<circle cx="662.8" cy="943.0" r="6.9" fill="#cfe5f0"/>
<circle cx="585.7" cy="281.4" r="6.9" fill="#92c1dc"/>
<circle cx="754.0" cy="460.8" r="6.9" fill="#7bb3d5"/>
<circle cx="736.0" cy="444.6" r="6.9" fill="#8dbedb"/>
<circle cx="341.7" cy="760.3" r="6.9" fill="#8cbeda"/>
<circle cx="970.9" cy="670.0" r="6.9" fill="#93c2dd"/>
<circle cx="604.6" cy="250.1" r="6.9" fill="#8dbedb"/>
<circle cx="328.1" cy="412.1" r="6.9" fill="#99c6df"/>
<circle cx="952.4" cy="628.2" r="6.9" fill="#6b9eca"/>
<circle cx="583.4" cy="295.6" r="6.9" fill="#a4cde2"/>
<circle cx="557.8" cy="308.5" r="6.9" fill="#99c6df"/>
<circle cx="927.2" cy="528.7" r="6.9" fill="#afd4e6"/>
<circle cx="345.8" cy="285.9" r="6.9" fill="#d1e6f0"/>
<circle cx="991.6" cy="403.9" r="6.9" fill="#86bad9"/>
<circle cx="581.6" cy="224.5" r="6.9" fill="#85bad8"/>
<circle cx="387.0" cy="718.0" r="6.9" fill="#7bb3d5"/>
<circle cx="220.4" cy="396.5" r="6.9" fill="#7bb3d5"/>
<circle cx="718.1" cy="1048.4" r="6.9" fill="#d4e7f1"/>
<circle cx="729.2" cy="746.8" r="6.9" fill="#7eb5d6"/>
<circle cx="911.3" cy="636.8" r="6.9" fill="#9ecae1"/>
<circle cx="685.6" cy="263.6" r="6.9" fill="#dcebf3"/>
<circle cx="600.4" cy="520.0" r="6.9" fill="#eef4f7"/>
<circle cx="755.0" cy="722.3" r="6.9" fill="#cce3ef"/>
<circle cx="487.5" cy="292.5" r="6.9" fill="#97c5de"/>
<circle cx="613.1" cy="701.8" r="6.9" fill="#dfecf4"/>
<circle cx="840.9" cy="816.0" r="6.9" fill="#bbdaea"/>
<circle cx="639.5" cy="449.4" r="6.9" fill="#d4e7f1"/>
<circle cx="918.9" cy="809.2" r="6.9" fill="#a8d0e4"/>
<circle cx="933.6" cy="816.1" r="6.9" fill="#c7e1ed"/>
<circle cx="966.1" cy="412.8" r="6.9" fill="#9ac7df"/>
<circle cx="689.4" cy="223.6" r="6.9" fill="#b7d8e8"/>
<circle cx="799.8" cy="763.2" r="6.9" fill="#c2deec"/>
<circle cx="808.2" cy="272.3" r="6.9" fill="#6ea2cc"/>
<circle cx="920.3" cy="389.4" r="6.9" fill="#84b9d8"/>
<circle cx="547.2" cy="288.7" r="6.9" fill="#bfddeb"/>
<circle cx="395.0" cy="366.4" r="6.9" fill="#9ac7df"/>
<circle cx="427.9" cy="849.4" r="6.9" fill="#87bbd9"/>
<circle cx="756.1" cy="824.3" r="6.9" fill="#d8e9f2"/>
<circle cx="429.4" cy="751.1" r="6.9" fill="#d5e8f1"/>
<circle cx="693.7" cy="265.2" r="6.9" fill="#e2eef5"/>
<circle cx="859.6" cy="440.8" r="6.9" fill="#91c1dc"/>
<circle cx="689.2" cy="254.5" r="6.9" fill="#cde3ef"/>
<circle cx="692.9" cy="933.9" r="6.9" fill="#87bbd9"/>
<circle cx="982.1" cy="856.8" r="6.9" fill="#a9d0e4"/>
<circle cx="809.5" cy="311.0" r="6.9" fill="#7ab1d4"/>
<circle cx="424.5" cy="841.0" r="6.9" fill="#93c2dd"/>
<circle cx="754.0" cy="490.3" r="6.9" fill="#b2d6e7"/>
<circle cx="578.4" cy="427.5" r="6.9" fill="#b2d6e7"/>
<circle cx="577.4" cy="949.0" r="6.9" fill="#eff4f7"/>
<circle cx="470.7" cy="249.7" r="6.9" fill="#85bad8"/>
<circle cx="296.0" cy="373.2" r="6.9" fill="#bddbea"/>
<circle cx="623.0" cy="873.0" r="6.9" fill="#cfe5f0"/>
<circle cx="475.5" cy="277.1" r="6.9" fill="#c2deec"/>
<circle cx="771.6" cy="227.9" r="6.9" fill="#74aad0"/>
<circle cx="529.8" cy="1021.3" r="6.9" fill="#f0f4f7"/>
<circle cx="826.8" cy="421.5" r="6.9" fill="#96c4de"/>
<circle cx="679.1" cy="289.5" r="6.9" fill="#a0cae1"/>
<circle cx="842.0" cy="410.3" r="6.9" fill="#badae9"/>
<circle cx="451.1" cy="405.9" r="6.9" fill="#c0ddeb"/>
<circle cx="391.7" cy="739.2" r="6.9" fill="#9cc8e0"/>
<circle cx="683.6" cy="466.8" r="6.9" fill="#6ca0cb"/>
<circle cx="699.5" cy="986.7" r="6.9" fill="#bbdbea"/>
<circle cx="323.8" cy="512.3" r="6.9" fill="#faf3ef"/>
<circle cx="633.1" cy="786.2" r="6.9" fill="#faf4f1"/>
<circle cx="1093.3" cy="491.4" r="6.9" fill="#b4d7e7"/>
<circle cx="681.6" cy="348.8" r="6.9" fill="#deecf4"/>
<circle cx="612.8" cy="981.5" r="6.9" fill="#ecf3f7"/>
<circle cx="572.8" cy="755.8" r="6.9" fill="#f9f8f7"/>
<circle cx="521.4" cy="357.6" r="6.9" fill="#a9d1e4"/>
<circle cx="739.5" cy="904.4" r="6.9" fill="#a4cde2"/>
<circle cx="571.8" cy="434.1" r="6.9" fill="#b2d6e7"/>
<circle cx="561.3" cy="778.1" r="6.9" fill="#faf3ef"/>
<circle cx="593.9" cy="419.6" r="6.9" fill="#b2d6e7"/>
<circle cx="852.2" cy="331.1" r="6.9" fill="#b9d9e9"/>
<circle cx="370.8" cy="262.9" r="6.9" fill="#b7d8e8"/>
<circle cx="751.6" cy="271.8" r="6.9" fill="#7bb3d5"/>
<circle cx="560.8" cy="248.4" r="6.9" fill="#b0d4e6"/>
<circle cx="806.8" cy="971.4" r="6.9" fill="#daeaf3"/>
<circle cx="696.6" cy="972.9" r="6.9" fill="#8bbdda"/>
<circle cx="343.9" cy="292.1" r="6.9" fill="#d9e9f2"/>
<circle cx="580.2" cy="1036.8" r="6.9" fill="#a4cde2"/>
<circle cx="625.5" cy="800.7" r="6.9" fill="#fce1d2"/>
<circle cx="961.0" cy="275.2" r="6.9" fill="#b2d6e7"/>
<circle cx="283.3" cy="428.0" r="6.9" fill="#96c4de"/>
<circle cx="751.3" cy="316.6" r="6.9" fill="#72a7ce"/>
<circle cx="873.8" cy="731.2" r="6.9" fill="#85bad8"/>
<circle cx="1065.6" cy="429.8" r="6.9" fill="#5a81ab"/>
<circle cx="844.1" cy="550.6" r="6.9" fill="#c3deec"/>
<circle cx="361.1" cy="356.5" r="6.9" fill="#b0d4e6"/>
<circle cx="532.8" cy="531.0" r="6.9" fill="#a0cbe1"/>
<circle cx="646.1" cy="958.2" r="6.9" fill="#fceae0"/>
<circle cx="364.1" cy="253.8" r="6.9" fill="#b7d8e8"/>
<circle cx="644.0" cy="740.6" r="6.9" fill="#fbeee7"/>
<circle cx="348.5" cy="332.3" r="6.9" fill="#87bbd9"/>
<circle cx="606.2" cy="708.9" r="6.9" fill="#bedcea"/>
<circle cx="515.8" cy="499.2" r="6.9" fill="#9bc8e0"/>
<circle cx="825.8" cy="525.5" r="6.9" fill="#96c4de"/>
<circle cx="866.6" cy="869.6" r="6.9" fill="#c4dfec"/>
<circle cx="943.6" cy="497.2" r="6.9" fill="#add3e5"/>
<circle cx="423.0" cy="758.0" r="6.9" fill="#b2d6e7"/>
<circle cx="854.8" cy="340.8" r="6.9" fill="#76add2"/>
<circle cx="464.2" cy="286.9" r="6.9" fill="#c8e1ed"/>
<circle cx="784.6" cy="872.0" r="6.9" fill="#ddecf4"/>
<circle cx="600.3" cy="724.8" r="6.9" fill="#b4d7e7"/>
<circle cx="901.2" cy="418.3" r="6.9" fill="#76add2"/>
<circle cx="612.0" cy="277.9" r="6.9" fill="#8abcda"/>
<circle cx="924.4" cy="646.7" r="6.9" fill="#78b0d3"/>
<circle cx="364.2" cy="523.2" r="6.9" fill="#d4e7f1"/>
<circle cx="840.5" cy="597.3" r="6.9" fill="#88bbd9"/>
<circle cx="953.4" cy="346.1" r="6.9" fill="#7eb5d6"/>
<circle cx="402.0" cy="444.0" r="6.9" fill="#cfe4f0"/>
<circle cx="530.6" cy="1043.5" r="6.9" fill="#e0edf4"/>
<circle cx="894.5" cy="602.7" r="6.9" fill="#f9f7f6"/>
<circle cx="383.9" cy="850.0" r="6.9" fill="#73a8cf"/>
<circle cx="642.5" cy="1042.8" r="6.9" fill="#b5d8e8"/>
<circle cx="581.8" cy="443.2" r="6.9" fill="#f7f8f9"/>
<circle cx="415.1" cy="277.1" r="6.9" fill="#c1ddeb"/>
<circle cx="568.0" cy="838.5" r="6.9" fill="#f8f9f9"/>
<circle cx="786.7" cy="427.0" r="6.9" fill="#70a4cd"/>
<circle cx="533.1" cy="448.5" r="6.9" fill="#d8e9f2"/>
<circle cx="465.4" cy="331.2" r="6.9" fill="#cce3ef"/>
<circle cx="842.1" cy="832.8" r="6.9" fill="#c7e0ed"/>
<circle cx="674.8" cy="932.6" r="6.9" fill="#bfddeb"/>
<circle cx="725.9" cy="646.5" r="6.9" fill="#edf3f7"/>
<circle cx="345.0" cy="373.5" r="6.9" fill="#ecf3f7"/>
<circle cx="399.2" cy="449.0" r="6.9" fill="#e1edf4"/>
<circle cx="361.3" cy="339.5" r="6.9" fill="#c2deec"/>
<circle cx="388.0" cy="726.0" r="6.9" fill="#86bad9"/>
<circle cx="689.9" cy="846.1" r="6.9" fill="#e7f0f6"/>
<circle cx="622.9" cy="419.4" r="6.9" fill="#e6f0f6"/>
<circle cx="540.8" cy="233.3" r="6.9" fill="#96c4de"/>
<circle cx="639.3" cy="481.5" r="6.9" fill="#bddcea"/>
<circle cx="701.5" cy="308.7" r="6.9" fill="#79b0d3"/>
<circle cx="667.7" cy="748.2" r="6.9" fill="#e2eef5"/>
<circle cx="309.0" cy="482.8" r="6.9" fill="#c2deec"/>
<circle cx="986.0" cy="803.6" r="6.9" fill="#78afd3"/>
<circle cx="519.9" cy="303.1" r="6.9" fill="#badae9"/>
<circle cx="678.0" cy="324.2" r="6.9" fill="#eaf2f6"/>
<circle cx="731.3" cy="871.4" r="6.9" fill="#d0e5f0"/>
<circle cx="599.0" cy="257.8" r="6.9" fill="#acd2e5"/>
<circle cx="708.2" cy="238.3" r="6.9" fill="#87bbd9"/>
<circle cx="929.9" cy="870.5" r="6.9" fill="#d6e8f2"/>
<circle cx="492.6" cy="367.2" r="6.9" fill="#b5d7e8"/>
<circle cx="1015.4" cy="818.1" r="6.9" fill="#6393c4"/>
<circle cx="758.6" cy="403.3" r="6.9" fill="#6798c7"/>
<circle cx="703.6" cy="807.4" r="6.9" fill="#faf4f0"/>
<circle cx="403.9" cy="869.2" r="6.9" fill="#6da0cb"/>
<circle cx="486.3" cy="920.8" r="6.9" fill="#a1cbe1"/>
<circle cx="966.3" cy="865.9" r="6.9" fill="#d3e6f1"/>
<circle cx="800.6" cy="747.5" r="6.9" fill="#bcdbea"/>
<circle cx="715.9" cy="644.8" r="6.9" fill="#f8f9f9"/>
<circle cx="425.6" cy="404.4" r="6.9" fill="#afd4e6"/>
<circle cx="537.6" cy="1050.8" r="6.9" fill="#dcebf3"/>
<circle cx="738.0" cy="732.1" r="6.9" fill="#b6d8e8"/>
<circle cx="424.6" cy="432.5" r="6.9" fill="#98c6df"/>
<circle cx="802.7" cy="947.2" r="6.9" fill="#b1d5e7"/>
<circle cx="718.5" cy="877.0" r="6.9" fill="#eef3f7"/>
<circle cx="735.0" cy="631.5" r="6.9" fill="#f9f7f5"/>
<circle cx="346.8" cy="519.4" r="6.9" fill="#d0e5f0"/>
<circle cx="552.5" cy="288.9" r="6.9" fill="#90c1dc"/>
<circle cx="1001.1" cy="449.6" r="6.9" fill="#8cbedb"/>
<circle cx="423.0" cy="294.6" r="6.9" fill="#c1deec"/>
<circle cx="747.5" cy="619.7" r="6.9" fill="#6fa3cc"/>
<circle cx="310.0" cy="317.4" r="6.9" fill="#7ab1d4"/>
<circle cx="836.7" cy="279.7" r="6.9" fill="#6a9cc9"/>
<circle cx="760.7" cy="317.4" r="6.9" fill="#93c2dd"/>
<circle cx="912.7" cy="848.5" r="6.9" fill="#d5e7f1"/>
<circle cx="575.2" cy="266.0" r="6.9" fill="#79b0d3"/>
<circle cx="847.2" cy="951.8" r="6.9" fill="#afd4e6"/>
<circle cx="564.4" cy="253.4" r="6.9" fill="#9cc8e0"/>
<circle cx="377.7" cy="728.3" r="6.9" fill="#86bad9"/>
<circle cx="494.2" cy="793.7" r="6.9" fill="#5f8bb9"/>
<circle cx="583.3" cy="507.1" r="6.9" fill="#e0edf4"/>
<circle cx="774.3" cy="263.7" r="6.9" fill="#73a8cf"/>
<circle cx="501.5" cy="334.2" r="6.9" fill="#d3e7f1"/>
<circle cx="358.9" cy="475.2" r="6.9" fill="#faf6f5"/>
<circle cx="506.5" cy="794.3" r="6.9" fill="#5d87b3"/>
<circle cx="282.3" cy="395.7" r="6.9" fill="#b0d5e6"/>
<circle cx="540.8" cy="793.2" r="6.9" fill="#90c0dc"/>
<circle cx="532.4" cy="247.5" r="6.9" fill="#7ab2d4"/>
<circle cx="709.8" cy="818.4" r="6.9" fill="#faf5f2"/>
<circle cx="609.6" cy="1090.3" r="6.9" fill="#79b1d4"/>
<circle cx="512.1" cy="886.5" r="6.9" fill="#f1f5f8"/>
<circle cx="412.8" cy="482.5" r="6.9" fill="#bbdaea"/>
<circle cx="720.9" cy="764.5" r="6.9" fill="#bedceb"/>
<circle cx="425.5" cy="725.3" r="6.9" fill="#6fa3cc"/>
<circle cx="835.8" cy="933.2" r="6.9" fill="#e5eff5"/>
<circle cx="995.0" cy="300.0" r="6.9" fill="#deecf4"/>
<circle cx="723.0" cy="265.7" r="6.9" fill="#d2e6f0"/>
<circle cx="633.6" cy="832.1" r="6.9" fill="#faf5f2"/>
<circle cx="828.6" cy="295.3" r="6.9" fill="#95c4de"/>
<circle cx="421.6" cy="303.8" r="6.9" fill="#cbe3ee"/>
<circle cx="534.3" cy="203.7" r="6.9" fill="#8dbedb"/>
<circle cx="956.5" cy="855.1" r="6.9" fill="#99c6df"/>
<circle cx="825.1" cy="861.3" r="6.9" fill="#b5d7e8"/>
<circle cx="633.2" cy="801.4" r="6.9" fill="#faf6f4"/>
<circle cx="297.5" cy="358.4" r="6.9" fill="#abd2e5"/>
<circle cx="788.0" cy="736.6" r="6.9" fill="#8cbedb"/>
<circle cx="581.9" cy="316.1" r="6.9" fill="#9dc9e0"/>
<circle cx="691.3" cy="560.3" r="6.9" fill="#b2d6e7"/>
<circle cx="630.1" cy="403.4" r="6.9" fill="#e7f1f6"/>
<circle cx="439.6" cy="824.5" r="6.9" fill="#aad1e4"/>
<circle cx="565.7" cy="230.3" r="6.9" fill="#7ab1d4"/>
<circle cx="393.2" cy="846.6" r="6.9" fill="#c9e2ee"/>
<circle cx="759.1" cy="307.8" r="6.9" fill="#6fa3cd"/>
<circle cx="367.7" cy="507.5" r="6.9" fill="#e0edf4"/>
<circle cx="359.7" cy="450.0" r="6.9" fill="#e1eef5"/>
<circle cx="362.5" cy="403.8" r="6.9" fill="#dbebf3"/>
<circle cx="705.1" cy="799.3" r="6.9" fill="#e1edf5"/>
<circle cx="669.4" cy="949.5" r="6.9" fill="#aed3e6"/>
<circle cx="757.1" cy="810.1" r="6.9" fill="#c5e0ed"/>
<circle cx="859.5" cy="581.8" r="6.9" fill="#76acd2"/>
<circle cx="897.8" cy="942.8" r="6.9" fill="#eef4f7"/>
<circle cx="684.3" cy="731.3" r="6.9" fill="#d4e7f1"/>
<circle cx="778.8" cy="412.9" r="6.9" fill="#6da0cb"/>
<circle cx="882.2" cy="359.5" r="6.9" fill="#cde3ef"/>
<circle cx="959.5" cy="674.8" r="6.9" fill="#73a8cf"/>
<circle cx="372.2" cy="371.7" r="6.9" fill="#85b9d8"/>
<circle cx="831.3" cy="926.8" r="6.9" fill="#c2deec"/>
<circle cx="374.5" cy="533.8" r="6.9" fill="#e4eff5"/>
<circle cx="425.8" cy="869.2" r="6.9" fill="#80b6d7"/>
<circle cx="833.9" cy="768.7" r="6.9" fill="#acd2e5"/>
<circle cx="686.2" cy="281.6" r="6.9" fill="#84b9d8"/>
<circle cx="588.8" cy="892.4" r="6.9" fill="#e5eff5"/>
<circle cx="890.6" cy="873.5" r="6.9" fill="#d8e9f2"/>
<circle cx="546.4" cy="956.0" r="6.9" fill="#ddecf4"/>
<circle cx="818.6" cy="808.2" r="6.9" fill="#c2deec"/>
<circle cx="500.0" cy="928.0" r="6.9" fill="#c4dfec"/>
<circle cx="853.3" cy="505.8" r="6.9" fill="#f8f8f9"/>
<circle cx="895.0" cy="520.8" r="6.9" fill="#fbf1eb"/>
<circle cx="323.0" cy="561.5" r="6.9" fill="#e2eef5"/>
<circle cx="788.4" cy="410.9" r="6.9" fill="#6392c3"/>
<circle cx="537.1" cy="959.0" r="6.9" fill="#f4f6f8"/>
<circle cx="970.4" cy="630.3" r="6.9" fill="#6a9cc9"/>
<circle cx="1068.1" cy="444.8" r="6.9" fill="#6494c5"/>
<circle cx="649.8" cy="979.8" r="6.9" fill="#e8f1f6"/>
<circle cx="732.0" cy="802.9" r="6.9" fill="#f0f4f7"/>
<circle cx="694.4" cy="387.6" r="6.9" fill="#6b9dc9"/>
<circle cx="665.4" cy="464.8" r="6.9" fill="#74aad0"/>
<circle cx="660.2" cy="814.8" r="6.9" fill="#faf3ef"/>
<circle cx="633.4" cy="257.3" r="6.9" fill="#8dbedb"/>
<circle cx="357.1" cy="565.4" r="6.9" fill="#d5e7f1"/>
<circle cx="577.4" cy="528.2" r="6.9" fill="#daeaf3"/>
<circle cx="593.4" cy="308.6" r="6.9" fill="#7bb3d5"/>
<circle cx="1025.6" cy="466.4" r="6.9" fill="#6fa3cd"/>
<circle cx="340.6" cy="405.6" r="6.9" fill="#b4d7e8"/>
<circle cx="599.1" cy="222.7" r="6.9" fill="#7ab1d4"/>
<circle cx="579.7" cy="1084.3" r="6.9" fill="#e5eff5"/>
<circle cx="502.6" cy="481.1" r="6.9" fill="#e2eef5"/>
<circle cx="357.0" cy="848.0" r="6.9" fill="#5e8ab7"/>
<circle cx="318.5" cy="510.8" r="6.9" fill="#edf3f7"/>
<circle cx="570.1" cy="491.2" r="6.9" fill="#d7e8f2"/>
<circle cx="557.3" cy="479.7" r="6.9" fill="#e0edf4"/>
<circle cx="657.5" cy="234.5" r="6.9" fill="#77aed2"/>
<circle cx="970.4" cy="747.7" r="6.9" fill="#7ab2d4"/>
<circle cx="719.1" cy="636.1" r="6.9" fill="#fad2c0"/>
<circle cx="441.0" cy="858.5" r="6.9" fill="#70a5ce"/>
<circle cx="898.5" cy="853.4" r="6.9" fill="#c5dfed"/>
<circle cx="584.4" cy="917.7" r="6.9" fill="#faf2ed"/>
<circle cx="724.1" cy="1003.5" r="6.9" fill="#d9eaf3"/>
<circle cx="568.8" cy="856.7" r="6.9" fill="#daeaf3"/>
<circle cx="619.2" cy="534.1" r="6.9" fill="#cbe2ee"/>
<circle cx="481.7" cy="956.8" r="6.9" fill="#dcebf3"/>
<circle cx="954.7" cy="807.3" r="6.9" fill="#c9e1ee"/>
<circle cx="488.7" cy="963.3" r="6.9" fill="#e4eff5"/>
<circle cx="973.0" cy="795.3" r="6.9" fill="#bfddeb"/>
<circle cx="388.9" cy="481.5" r="6.9" fill="#e5eff5"/>
<circle cx="672.8" cy="787.7" r="6.9" fill="#f9f9f9"/>
<circle cx="573.9" cy="739.8" r="6.9" fill="#cce3ef"/>
<circle cx="613.2" cy="716.7" r="6.9" fill="#b9dae9"/>
<circle cx="1039.0" cy="487.7" r="6.9" fill="#6da0cb"/>
<circle cx="408.2" cy="488.9" r="6.9" fill="#d7e8f2"/>
<circle cx="618.1" cy="569.2" r="6.9" fill="#d8e9f2"/>
<circle cx="440.1" cy="248.4" r="6.9" fill="#b4d7e8"/>
<circle cx="600.3" cy="988.4" r="6.9" fill="#e9f1f6"/>
<circle cx="605.0" cy="495.8" r="6.9" fill="#cfe4f0"/>
<circle cx="402.2" cy="818.0" r="6.9" fill="#85b9d8"/>
<circle cx="771.3" cy="410.7" r="6.9" fill="#8cbedb"/>
<circle cx="307.4" cy="387.7" r="6.9" fill="#b8d9e9"/>
<circle cx="807.0" cy="739.0" r="6.9" fill="#b2d6e7"/>
<circle cx="867.4" cy="596.7" r="6.9" fill="#85bad8"/>
<circle cx="615.9" cy="550.4" r="6.9" fill="#d0e5f0"/>
<circle cx="639.3" cy="823.5" r="6.9" fill="#fde7da"/>
<circle cx="786.0" cy="436.1" r="6.9" fill="#83b8d8"/>
<circle cx="891.4" cy="604.6" r="6.9" fill="#f1f5f8"/>
<circle cx="821.5" cy="776.0" r="6.9" fill="#d0e5f0"/>
<circle cx="497.0" cy="873.0" r="6.9" fill="#96c4de"/>
<circle cx="853.8" cy="731.3" r="6.9" fill="#d5e8f1"/>
<circle cx="859.7" cy="347.4" r="6.9" fill="#79b1d4"/>
<circle cx="409.5" cy="239.9" r="6.9" fill="#8bbdda"/>
<circle cx="839.7" cy="795.5" r="6.9" fill="#b2d6e7"/>
<circle cx="473.7" cy="362.9" r="6.9" fill="#badae9"/>
<circle cx="755.0" cy="839.6" r="6.9" fill="#daeaf3"/>
<circle cx="805.2" cy="863.0" r="6.9" fill="#d0e5f0"/>
<circle cx="561.4" cy="1060.6" r="6.9" fill="#ebf2f6"/>
<circle cx="511.5" cy="900.2" r="6.9" fill="#cde3ef"/>
<circle cx="823.8" cy="272.6" r="6.9" fill="#a0cbe1"/>
<circle cx="589.6" cy="442.0" r="6.9" fill="#deecf4"/>
<circle cx="1009.8" cy="824.7" r="6.9" fill="#70a4cd"/>
<circle cx="929.6" cy="767.1" r="6.9" fill="#699bc8"/>
<circle cx="616.0" cy="401.0" r="6.9" fill="#e6f0f6"/>
<circle cx="549.0" cy="484.0" r="6.9" fill="#f9f8f8"/>
<circle cx="408.6" cy="367.2" r="6.9" fill="#a9d1e4"/>
<circle cx="897.7" cy="426.3" r="6.9" fill="#81b7d7"/>
<circle cx="652.1" cy="316.9" r="6.9" fill="#deecf4"/>
<circle cx="354.3" cy="538.2" r="6.9" fill="#9ec9e0"/>
<circle cx="629.9" cy="935.9" r="6.9" fill="#ecf3f7"/>
<circle cx="653.2" cy="834.0" r="6.9" fill="#f8f9f9"/>
<circle cx="897.9" cy="912.3" r="6.9" fill="#d6e8f2"/>
<circle cx="413.7" cy="402.5" r="6.9" fill="#bedcea"/>
<circle cx="566.6" cy="495.6" r="6.9" fill="#b5d8e8"/>
<circle cx="561.0" cy="997.7" r="6.9" fill="#e0edf4"/>
<circle cx="628.9" cy="1027.1" r="6.9" fill="#e3eef5"/>
<circle cx="316.2" cy="323.6" r="6.9" fill="#82b8d7"/>
<circle cx="426.3" cy="336.2" r="6.9" fill="#89bcda"/>
<circle cx="457.8" cy="363.1" r="6.9" fill="#a1cbe1"/>
<circle cx="936.9" cy="826.0" r="6.9" fill="#bddcea"/>
<circle cx="826.6" cy="281.6" r="6.9" fill="#96c4de"/>
<circle cx="922.8" cy="925.3" r="6.9" fill="#98c5de"/>
<circle cx="390.9" cy="471.5" r="6.9" fill="#dcebf3"/>
<circle cx="430.4" cy="554.5" r="6.9" fill="#71a6ce"/>
<circle cx="310.4" cy="567.5" r="6.9" fill="#daeaf3"/>
<circle cx="728.0" cy="713.3" r="6.9" fill="#a3cde2"/>
<circle cx="341.9" cy="452.4" r="6.9" fill="#daeaf3"/>
<circle cx="522.3" cy="981.1" r="6.9" fill="#e1eef5"/>
<circle cx="656.5" cy="468.5" r="6.9" fill="#aad1e4"/>
<circle cx="637.8" cy="810.0" r="6.9" fill="#fcdfcf"/>
<circle cx="707.4" cy="473.7" r="6.9" fill="#6ea1cc"/>
<circle cx="599.9" cy="817.4" r="6.9" fill="#fde7da"/>
<circle cx="921.3" cy="908.6" r="6.9" fill="#a9d0e4"/>
<circle cx="284.3" cy="488.9" r="6.9" fill="#e7f0f6"/>
<circle cx="511.6" cy="950.9" r="6.9" fill="#d1e6f0"/>
<circle cx="466.8" cy="303.2" r="6.9" fill="#add3e5"/>
<circle cx="815.3" cy="696.1" r="6.9" fill="#5a80aa"/>
<circle cx="893.0" cy="590.4" r="6.9" fill="#fbd9c8"/>
<circle cx="657.8" cy="905.0" r="6.9" fill="#f7f8f9"/>
<circle cx="528.9" cy="223.3" r="6.9" fill="#71a6ce"/>
<circle cx="737.0" cy="277.8" r="6.9" fill="#80b6d7"/>
<circle cx="650.1" cy="795.2" r="6.9" fill="#eaf2f6"/>
<circle cx="634.9" cy="410.8" r="6.9" fill="#e0edf4"/>
<circle cx="787.6" cy="799.6" r="6.9" fill="#cde4ef"/>
<circle cx="473.9" cy="769.8" r="6.9" fill="#deecf4"/>
<circle cx="736.7" cy="301.9" r="6.9" fill="#aad1e4"/>
<circle cx="880.2" cy="819.1" r="6.9" fill="#9ac7df"/>
<circle cx="545.9" cy="240.3" r="6.9" fill="#bcdbea"/>
<circle cx="335.3" cy="822.3" r="6.9" fill="#7bb3d5"/>
<circle cx="830.2" cy="936.2" r="6.9" fill="#c2deec"/>
<circle cx="343.1" cy="545.2" r="6.9" fill="#dcebf4"/>
<circle cx="323.8" cy="916.3" r="6.9" fill="#fbdac9"/>
<circle cx="671.0" cy="230.6" r="6.9" fill="#77add2"/>
<circle cx="1036.8" cy="435.3" r="6.9" fill="#91c1dc"/>
<circle cx="438.3" cy="254.4" r="6.9" fill="#aad1e4"/>
<circle cx="932.1" cy="924.9" r="6.9" fill="#98c5de"/>
<circle cx="583.0" cy="349.0" r="6.9" fill="#6899c7"/>
<circle cx="438.2" cy="552.9" r="6.9" fill="#82b8d7"/>
<circle cx="424.7" cy="708.1" r="6.9" fill="#b2d6e7"/>
<circle cx="841.7" cy="336.2" r="6.9" fill="#8bbdda"/>
<circle cx="565.3" cy="192.2" r="6.9" fill="#8cbeda"/>
<circle cx="872.6" cy="374.7" r="6.9" fill="#97c5de"/>
<circle cx="1070.0" cy="343.0" r="6.9" fill="#96c4de"/>
<circle cx="800.0" cy="706.0" r="6.9" fill="#83b8d8"/>
<circle cx="945.8" cy="484.0" r="6.9" fill="#6da0cb"/>
<circle cx="884.9" cy="363.7" r="6.9" fill="#76add2"/>
<circle cx="870.5" cy="550.0" r="6.9" fill="#faf2ee"/>
<circle cx="728.8" cy="621.0" r="6.9" fill="#f9f9f9"/>
<circle cx="694.3" cy="248.9" r="6.9" fill="#a3cde2"/>
<circle cx="685.1" cy="778.7" r="6.9" fill="#f9f8f7"/>
<circle cx="618.5" cy="254.1" r="6.9" fill="#78aed3"/>
<circle cx="263.8" cy="374.5" r="6.9" fill="#81b7d7"/>
<circle cx="584.5" cy="246.4" r="6.9" fill="#77add2"/>
<circle cx="424.4" cy="344.0" r="6.9" fill="#a6cfe3"/>
<circle cx="544.7" cy="196.0" r="6.9" fill="#9cc8e0"/>
<circle cx="698.3" cy="1035.6" r="6.9" fill="#dfecf4"/>
<circle cx="387.1" cy="529.3" r="6.9" fill="#b6d8e8"/>
<circle cx="605.6" cy="325.7" r="6.9" fill="#b0d5e6"/>
<circle cx="301.3" cy="908.8" r="6.9" fill="#f8c7b1"/>
<circle cx="836.5" cy="420.2" r="6.9" fill="#c7e1ed"/>
<circle cx="447.1" cy="271.1" r="6.9" fill="#d8e9f2"/>
<circle cx="817.9" cy="348.2" r="6.9" fill="#699cc9"/>
<circle cx="818.6" cy="873.0" r="6.9" fill="#b6d8e8"/>
<circle cx="886.8" cy="845.8" r="6.9" fill="#e6f0f5"/>
<circle cx="708.7" cy="659.5" r="6.9" fill="#f0f5f7"/>
<circle cx="744.7" cy="880.0" r="6.9" fill="#e1edf5"/>
<circle cx="824.4" cy="846.5" r="6.9" fill="#ecf3f7"/>
<circle cx="671.2" cy="924.0" r="6.9" fill="#ddecf4"/>
<circle cx="680.8" cy="989.3" r="6.9" fill="#c3deec"/>
<circle cx="355.8" cy="379.8" r="6.9" fill="#d3e7f1"/>
<circle cx="1000.0" cy="315.0" r="6.9" fill="#96c4de"/>
<circle cx="926.5" cy="916.6" r="6.9" fill="#cee4ef"/>
<circle cx="671.1" cy="255.7" r="6.9" fill="#89bcda"/>
<circle cx="538.7" cy="925.2" r="6.9" fill="#f9f8f8"/>
<circle cx="331.6" cy="319.4" r="6.9" fill="#aad1e5"/>
<circle cx="1015.0" cy="300.0" r="6.9" fill="#e6f0f6"/>
<circle cx="392.5" cy="707.2" r="6.9" fill="#76add2"/>
<circle cx="901.3" cy="870.9" r="6.9" fill="#e8f1f6"/>
<circle cx="655.0" cy="881.3" r="6.9" fill="#b8d9e9"/>
<circle cx="873.4" cy="542.8" r="6.9" fill="#fbede5"/>
<circle cx="651.2" cy="443.3" r="6.9" fill="#add3e5"/>
<circle cx="778.8" cy="862.7" r="6.9" fill="#a4cde3"/>
<circle cx="887.0" cy="410.7" r="6.9" fill="#78afd3"/>
<circle cx="866.0" cy="591.4" r="6.9" fill="#77aed2"/>
<circle cx="565.7" cy="512.7" r="6.9" fill="#daeaf3"/>
<circle cx="933.3" cy="489.4" r="6.9" fill="#86bad9"/>
<circle cx="881.8" cy="808.2" r="6.9" fill="#afd4e6"/>
<circle cx="634.8" cy="225.4" r="6.9" fill="#80b6d7"/>
<circle cx="610.5" cy="355.0" r="6.9" fill="#d5e8f1"/>
<circle cx="789.1" cy="675.3" r="6.9" fill="#5a80aa"/>
<circle cx="330.0" cy="266.0" r="6.9" fill="#7fb5d6"/>
<circle cx="434.7" cy="542.4" r="6.9" fill="#a8d0e4"/>
<circle cx="890.3" cy="482.2" r="6.9" fill="#fbf1eb"/>
<circle cx="507.8" cy="348.8" r="6.9" fill="#c1deec"/>
<circle cx="758.4" cy="668.8" r="6.9" fill="#7bb3d5"/>
<circle cx="597.0" cy="826.8" r="6.9" fill="#f6f7f8"/>
<circle cx="727.0" cy="474.8" r="6.9" fill="#6ea1cc"/>
<circle cx="535.2" cy="253.4" r="6.9" fill="#99c6df"/>
<circle cx="954.2" cy="433.0" r="6.9" fill="#9ac7df"/>
<circle cx="585.2" cy="979.6" r="6.9" fill="#dfecf4"/>
<circle cx="831.1" cy="287.4" r="6.9" fill="#79b0d4"/>
<circle cx="372.2" cy="581.2" r="6.9" fill="#b4d7e8"/>
<circle cx="797.8" cy="410.9" r="6.9" fill="#79b1d4"/>
<circle cx="794.4" cy="779.5" r="6.9" fill="#b5d7e8"/>
<circle cx="387.1" cy="421.1" r="6.9" fill="#c4dfec"/>
<circle cx="367.7" cy="546.5" r="6.9" fill="#c2deec"/>
<circle cx="504.7" cy="918.8" r="6.9" fill="#e3eef5"/>
<circle cx="686.7" cy="763.4" r="6.9" fill="#f2f6f8"/>
<circle cx="630.6" cy="806.7" r="6.9" fill="#fde4d6"/>
<circle cx="357.9" cy="331.2" r="6.9" fill="#b4d7e7"/>
<circle cx="979.5" cy="409.6" r="6.9" fill="#7ab2d4"/>
<circle cx="302.3" cy="442.0" r="6.9" fill="#82b8d7"/>
<circle cx="808.8" cy="618.4" r="6.9" fill="#5a80aa"/>
<circle cx="489.0" cy="324.5" r="6.9" fill="#a1cbe2"/>
<circle cx="372.6" cy="349.3" r="6.9" fill="#d2e6f1"/>
<circle cx="313.4" cy="403.9" r="6.9" fill="#badae9"/>
<circle cx="452.2" cy="419.0" r="6.9" fill="#c1deec"/>
<circle cx="715.7" cy="381.7" r="6.9" fill="#75abd1"/>
<circle cx="848.2" cy="633.8" r="6.9" fill="#6fa3cc"/>
<circle cx="562.0" cy="286.9" r="6.9" fill="#c1deec"/>
<circle cx="776.6" cy="538.0" r="6.9" fill="#5f8cba"/>
<circle cx="913.9" cy="505.8" r="6.9" fill="#f9f9f9"/>
<circle cx="570.7" cy="241.5" r="6.9" fill="#a3cce2"/>
<circle cx="582.1" cy="553.3" r="6.9" fill="#e0edf4"/>
<circle cx="710.8" cy="715.0" r="6.9" fill="#faf4f0"/>
<circle cx="993.5" cy="668.8" r="6.9" fill="#76acd2"/>
<circle cx="594.8" cy="277.9" r="6.9" fill="#77add2"/>
<circle cx="340.7" cy="822.1" r="6.9" fill="#77aed2"/>
<circle cx="1015.3" cy="788.3" r="6.9" fill="#6291c1"/>
<circle cx="777.2" cy="815.9" r="6.9" fill="#add3e5"/>
<circle cx="542.8" cy="1027.2" r="6.9" fill="#f9f8f7"/>
<circle cx="770.2" cy="991.0" r="6.9" fill="#b5d8e8"/>
<circle cx="292.2" cy="429.4" r="6.9" fill="#7ab2d4"/>
<circle cx="934.5" cy="308.9" r="6.9" fill="#9cc8e0"/>
<circle cx="519.7" cy="565.7" r="6.9" fill="#daeaf3"/>
<circle cx="849.7" cy="861.7" r="6.9" fill="#bedcea"/>
<circle cx="742.3" cy="846.2" r="6.9" fill="#cbe2ee"/>
<circle cx="347.9" cy="425.7" r="6.9" fill="#f3f6f8"/>
<circle cx="741.1" cy="288.4" r="6.9" fill="#8cbedb"/>
<circle cx="606.8" cy="444.0" r="6.9" fill="#f9f9f9"/>
<circle cx="782.1" cy="280.0" r="6.9" fill="#92c1dc"/>
<circle cx="911.6" cy="842.3" r="6.9" fill="#b3d7e7"/>
<circle cx="562.3" cy="895.4" r="6.9" fill="#fde7da"/>
<circle cx="796.2" cy="303.6" r="6.9" fill="#9fcae1"/>
<circle cx="834.3" cy="897.1" r="6.9" fill="#dfedf4"/>
<circle cx="540.7" cy="399.7" r="6.9" fill="#c8e1ee"/>
<circle cx="363.6" cy="364.8" r="6.9" fill="#bbdbea"/>
<circle cx="414.9" cy="811.1" r="6.9" fill="#78afd3"/>
<circle cx="333.9" cy="484.0" r="6.9" fill="#f9f8f8"/>
<circle cx="756.4" cy="775.4" r="6.9" fill="#afd4e6"/>
<circle cx="439.9" cy="380.6" r="6.9" fill="#95c4de"/>
<circle cx="366.6" cy="349.4" r="6.9" fill="#e7f0f6"/>
<circle cx="713.1" cy="468.0" r="6.9" fill="#6ea2cc"/>
<circle cx="559.8" cy="495.9" r="6.9" fill="#d3e6f1"/>
<circle cx="796.1" cy="739.6" r="6.9" fill="#cce3ef"/>
<circle cx="725.6" cy="752.4" r="6.9" fill="#cbe3ef"/>
<circle cx="330.3" cy="830.1" r="6.9" fill="#a0cae1"/>
<circle cx="890.9" cy="949.0" r="6.9" fill="#f8f8f9"/>
<circle cx="412.1" cy="816.0" r="6.9" fill="#7eb5d6"/>
<circle cx="714.4" cy="800.1" r="6.9" fill="#faf4f0"/>
<circle cx="422.3" cy="767.5" r="6.9" fill="#6899c7"/>
<circle cx="971.5" cy="826.5" r="6.9" fill="#cbe3ee"/>
<circle cx="595.4" cy="791.1" r="6.9" fill="#fce8db"/>
<circle cx="926.7" cy="652.7" r="6.9" fill="#6c9fcb"/>
<circle cx="978.6" cy="459.1" r="6.9" fill="#6b9eca"/>
<circle cx="379.7" cy="590.9" r="6.9" fill="#c0ddeb"/>
<circle cx="817.4" cy="770.8" r="6.9" fill="#bbdaea"/>
<circle cx="313.5" cy="387.5" r="6.9" fill="#cee4ef"/>
<circle cx="572.0" cy="660.0" r="6.9" fill="#b2d6e7"/>
<circle cx="539.0" cy="412.8" r="6.9" fill="#deecf4"/>
<circle cx="381.6" cy="565.3" r="6.9" fill="#cbe2ee"/>
<circle cx="832.8" cy="724.3" r="6.9" fill="#87bad9"/>
<circle cx="671.7" cy="413.4" r="6.9" fill="#74aad0"/>
<circle cx="920.9" cy="615.1" r="6.9" fill="#c1deeb"/>
<circle cx="654.4" cy="1037.1" r="6.9" fill="#c6e0ed"/>
<circle cx="669.3" cy="1020.5" r="6.9" fill="#9bc7e0"/>
<circle cx="581.3" cy="474.0" r="6.9" fill="#faf4f0"/>
<circle cx="822.0" cy="792.4" r="6.9" fill="#c4dfec"/>
<circle cx="370.2" cy="279.7" r="6.9" fill="#99c6df"/>
<circle cx="523.5" cy="371.6" r="6.9" fill="#86bad8"/>
<circle cx="517.6" cy="336.1" r="6.9" fill="#b7d9e9"/>
<circle cx="349.9" cy="507.3" r="6.9" fill="#fbf0ea"/>
<circle cx="426.9" cy="288.6" r="6.9" fill="#e7f0f6"/>
<circle cx="319.8" cy="350.3" r="6.9" fill="#88bbd9"/>
<circle cx="423.0" cy="421.1" r="6.9" fill="#a1cbe1"/>
<circle cx="220.3" cy="357.3" r="6.9" fill="#6fa3cc"/>
<circle cx="686.2" cy="872.6" r="6.9" fill="#ddebf4"/>
<circle cx="626.9" cy="300.3" r="6.9" fill="#cae2ee"/>
<circle cx="282.3" cy="413.8" r="6.9" fill="#6fa3cc"/>
<circle cx="210.2" cy="425.0" r="6.9" fill="#7bb3d5"/>
<circle cx="507.3" cy="254.7" r="6.9" fill="#a9d0e4"/>
<circle cx="469.1" cy="312.3" r="6.9" fill="#b3d6e7"/>
<circle cx="721.5" cy="854.2" r="6.9" fill="#d6e8f2"/>
<circle cx="873.7" cy="496.7" r="6.9" fill="#a4cde2"/>
<circle cx="682.9" cy="301.8" r="6.9" fill="#b8d9e9"/>
<circle cx="451.5" cy="234.7" r="6.9" fill="#8abcda"/>
<circle cx="930.1" cy="802.9" r="6.9" fill="#b8d9e9"/>
<circle cx="592.7" cy="232.5" r="6.9" fill="#88bbd9"/>
<circle cx="823.0" cy="489.0" r="6.9" fill="#b2d6e7"/>
<circle cx="266.0" cy="381.9" r="6.9" fill="#c1ddeb"/>
<circle cx="870.5" cy="803.9" r="6.9" fill="#acd2e5"/>
<circle cx="912.6" cy="553.0" r="6.9" fill="#76add2"/>
<circle cx="639.8" cy="934.9" r="6.9" fill="#fbefe8"/>
<circle cx="636.8" cy="756.5" r="6.9" fill="#fcece2"/>
<circle cx="339.6" cy="379.5" r="6.9" fill="#cae2ee"/>
<circle cx="356.3" cy="922.5" r="6.9" fill="#fde5d7"/>
<circle cx="658.5" cy="936.3" r="6.9" fill="#e8f1f6"/>
<circle cx="431.9" cy="872.7" r="6.9" fill="#77aed2"/>
<circle cx="723.0" cy="896.2" r="6.9" fill="#e9f1f6"/>
<circle cx="978.6" cy="817.7" r="6.9" fill="#7bb3d5"/>
<circle cx="516.0" cy="238.1" r="6.9" fill="#8abcda"/>
<circle cx="452.6" cy="294.6" r="6.9" fill="#dbeaf3"/>
<circle cx="614.0" cy="515.2" r="6.9" fill="#c2deec"/>
<circle cx="929.2" cy="325.7" r="6.9" fill="#72a7cf"/>
<circle cx="341.4" cy="279.2" r="6.9" fill="#bcdbea"/>
<circle cx="402.1" cy="459.5" r="6.9" fill="#a8d0e4"/>
<circle cx="891.9" cy="420.7" r="6.9" fill="#71a6ce"/>
<circle cx="647.5" cy="1061.1" r="6.9" fill="#aad1e4"/>
<circle cx="880.0" cy="592.5" r="6.9" fill="#fbdac9"/>
<circle cx="566.1" cy="869.9" r="6.9" fill="#eef4f7"/>
<circle cx="984.4" cy="863.6" r="6.9" fill="#c0ddeb"/>
<circle cx="565.5" cy="351.5" r="6.9" fill="#93c3dd"/>
<circle cx="706.5" cy="722.1" r="6.9" fill="#f6f7f8"/>
<circle cx="484.8" cy="272.1" r="6.9" fill="#94c3dd"/>
<circle cx="588.2" cy="487.3" r="6.9" fill="#f5f7f8"/>
<circle cx="903.0" cy="643.3" r="6.9" fill="#a2cce2"/>
<circle cx="765.3" cy="493.0" r="6.9" fill="#6fa3cc"/>
<circle cx="847.5" cy="452.6" r="6.9" fill="#87bad9"/>
<circle cx="647.8" cy="247.2" r="6.9" fill="#97c5de"/>
<circle cx="667.5" cy="434.7" r="6.9" fill="#b2d6e7"/>
<circle cx="417.5" cy="745.5" r="6.9" fill="#6fa3cc"/>
<circle cx="719.3" cy="295.7" r="6.9" fill="#9dc9e0"/>
<circle cx="474.2" cy="412.1" r="6.9" fill="#edf3f7"/>
<circle cx="910.9" cy="606.5" r="6.9" fill="#faf4f1"/>
<circle cx="495.0" cy="686.3" r="6.9" fill="#96c4de"/>
<circle cx="352.2" cy="265.7" r="6.9" fill="#b0d5e6"/>
<circle cx="853.6" cy="577.2" r="6.9" fill="#cce3ef"/>
<circle cx="709.6" cy="1020.4" r="6.9" fill="#b4d7e8"/>
<circle cx="600.7" cy="833.0" r="6.9" fill="#f1f5f8"/>
<circle cx="876.0" cy="552.8" r="6.9" fill="#f7f8f9"/>
<circle cx="549.0" cy="1061.0" r="6.9" fill="#e2eef5"/>
<circle cx="769.6" cy="801.9" r="6.9" fill="#c4dfec"/>
<circle cx="1012.0" cy="310.0" r="6.9" fill="#bbdaea"/>
<circle cx="593.6" cy="966.0" r="6.9" fill="#f2f6f8"/>
<circle cx="700.8" cy="857.1" r="6.9" fill="#eff4f7"/>
<circle cx="914.7" cy="334.7" r="6.9" fill="#99c6df"/>
<circle cx="656.0" cy="806.7" r="6.9" fill="#f5f7f8"/>
<circle cx="700.3" cy="722.7" r="6.9" fill="#d3e6f1"/>
<circle cx="361.2" cy="373.6" r="6.9" fill="#a5cde3"/>
<circle cx="367.5" cy="466.2" r="6.9" fill="#faf5f3"/>
<circle cx="330.0" cy="332.6" r="6.9" fill="#c2deec"/>
<circle cx="707.3" cy="1032.7" r="6.9" fill="#dfecf4"/>
<circle cx="642.8" cy="1005.2" r="6.9" fill="#e4eff5"/>
<circle cx="396.7" cy="464.3" r="6.9" fill="#bbdaea"/>
<circle cx="421.6" cy="362.4" r="6.9" fill="#a9d0e4"/>
<circle cx="651.8" cy="987.5" r="6.9" fill="#faf6f4"/>
<circle cx="586.7" cy="229.9" r="6.9" fill="#6a9cc9"/>
<circle cx="649.7" cy="1075.0" r="6.9" fill="#cee4ef"/>
<circle cx="806.1" cy="752.4" r="6.9" fill="#c1ddeb"/>
<circle cx="695.0" cy="948.1" r="6.9" fill="#82b7d7"/>
<circle cx="674.9" cy="464.4" r="6.9" fill="#608ebd"/>
<circle cx="553.8" cy="892.8" r="6.9" fill="#edf3f7"/>
<circle cx="776.0" cy="699.4" r="6.9" fill="#6393c4"/>
<circle cx="668.2" cy="915.9" r="6.9" fill="#e7f0f6"/>
<circle cx="700.6" cy="1045.0" r="6.9" fill="#d8e9f2"/>
<circle cx="1010.1" cy="448.1" r="6.9" fill="#86bad9"/>
<circle cx="937.1" cy="684.2" r="6.9" fill="#72a8cf"/>
<circle cx="773.6" cy="888.3" r="6.9" fill="#dfecf4"/>
<circle cx="643.6" cy="848.2" r="6.9" fill="#f9f7f5"/>
<circle cx="484.4" cy="980.9" r="6.9" fill="#d0e5f0"/>
<circle cx="716.6" cy="830.7" r="6.9" fill="#f6f7f8"/>
<circle cx="416.1" cy="231.7" r="6.9" fill="#b9d9e9"/>
<circle cx="674.2" cy="293.6" r="6.9" fill="#c6e0ed"/>
<circle cx="937.9" cy="511.8" r="6.9" fill="#e5f0f5"/>
<circle cx="968.5" cy="317.7" r="6.9" fill="#92c1dc"/>
<circle cx="370.2" cy="323.9" r="6.9" fill="#ddebf4"/>
<circle cx="811.7" cy="340.5" r="6.9" fill="#95c4de"/>
<circle cx="661.5" cy="476.4" r="6.9" fill="#a3cce2"/>
<circle cx="900.2" cy="512.0" r="6.9" fill="#fbf0ea"/>
<circle cx="597.9" cy="426.0" r="6.9" fill="#eef4f7"/>
<circle cx="520.6" cy="467.6" r="6.9" fill="#eef4f7"/>
<circle cx="931.7" cy="675.5" r="6.9" fill="#7db5d6"/>
<circle cx="570.7" cy="522.8" r="6.9" fill="#d2e6f0"/>
<circle cx="750.4" cy="869.4" r="6.9" fill="#cce3ef"/>
<circle cx="362.3" cy="593.0" r="6.9" fill="#93c2dd"/>
<circle cx="306.7" cy="280.9" r="6.9" fill="#89bcda"/>
<circle cx="603.8" cy="295.4" r="6.9" fill="#9cc8e0"/>
<circle cx="929.2" cy="807.1" r="6.9" fill="#acd2e5"/>
<circle cx="483.6" cy="904.7" r="6.9" fill="#7bb3d5"/>
<circle cx="532.6" cy="464.8" r="6.9" fill="#b9dae9"/>
<circle cx="419.4" cy="225.0" r="6.9" fill="#a3cce2"/>
<circle cx="730.8" cy="777.3" r="6.9" fill="#a9d0e4"/>
<circle cx="371.3" cy="309.6" r="6.9" fill="#f6f8f8"/>
<circle cx="981.6" cy="450.4" r="6.9" fill="#70a5cd"/>
<circle cx="317.4" cy="309.3" r="6.9" fill="#a6cee3"/>
<circle cx="780.4" cy="739.8" r="6.9" fill="#aad1e5"/>
<circle cx="505.2" cy="1012.8" r="6.9" fill="#f8f8f9"/>
<circle cx="661.5" cy="1034.3" r="6.9" fill="#bfdceb"/>
<circle cx="576.4" cy="214.9" r="6.9" fill="#92c2dd"/>
<circle cx="974.6" cy="451.1" r="6.9" fill="#8cbedb"/>
<circle cx="975.0" cy="305.0" r="6.9" fill="#bbdaea"/>
<circle cx="669.1" cy="733.5" r="6.9" fill="#dfecf4"/>
<circle cx="816.9" cy="287.7" r="6.9" fill="#a2cce2"/>
<circle cx="609.8" cy="928.5" r="6.9" fill="#fbf0ea"/>
<circle cx="446.1" cy="254.4" r="6.9" fill="#badae9"/>
<circle cx="407.3" cy="388.9" r="6.9" fill="#7fb5d6"/>
<circle cx="826.7" cy="941.4" r="6.9" fill="#a8d0e4"/>
<circle cx="898.5" cy="308.6" r="6.9" fill="#9ac7df"/>
<circle cx="569.2" cy="543.0" r="6.9" fill="#e4eff5"/>
<circle cx="775.2" cy="293.3" r="6.9" fill="#77aed2"/>
<circle cx="567.2" cy="308.4" r="6.9" fill="#c6e0ed"/>
<circle cx="822.4" cy="784.9" r="6.9" fill="#c2deec"/>
<circle cx="449.1" cy="246.9" r="6.9" fill="#98c5de"/>
<circle cx="545.1" cy="1050.1" r="6.9" fill="#f5f7f8"/>
<circle cx="806.3" cy="831.9" r="6.9" fill="#d9eaf3"/>
<circle cx="515.3" cy="978.2" r="6.9" fill="#c6e0ed"/>
<circle cx="693.0" cy="870.4" r="6.9" fill="#ecf3f7"/>
<circle cx="388.1" cy="403.8" r="6.9" fill="#90c1dc"/>
<circle cx="755.0" cy="505.0" r="6.9" fill="#6899c7"/>
<circle cx="626.0" cy="425.0" r="6.9" fill="#f1f5f8"/>
<circle cx="1019.1" cy="449.1" r="6.9" fill="#bbdbea"/>
<circle cx="755.9" cy="732.7" r="6.9" fill="#b3d6e7"/>
<circle cx="386.6" cy="359.2" r="6.9" fill="#d8e9f2"/>
<circle cx="735.8" cy="425.9" r="6.9" fill="#73a8cf"/>
<circle cx="919.2" cy="857.4" r="6.9" fill="#e7f0f6"/>
<circle cx="630.3" cy="558.8" r="6.9" fill="#b6d8e8"/>
<circle cx="1073.0" cy="464.0" r="6.9" fill="#a4cde2"/>
<circle cx="626.2" cy="553.1" r="6.9" fill="#dfecf4"/>
<circle cx="589.4" cy="460.2" r="6.9" fill="#eef4f7"/>
<circle cx="1020.7" cy="444.0" r="6.9" fill="#70a4cd"/>
<circle cx="762.0" cy="303.0" r="6.9" fill="#89bcda"/>
<circle cx="520.8" cy="263.3" r="6.9" fill="#99c6df"/>
<circle cx="1087.0" cy="452.3" r="6.9" fill="#699cc9"/>
<circle cx="309.1" cy="499.4" r="6.9" fill="#e0edf4"/>
<circle cx="798.0" cy="895.0" r="6.9" fill="#dfecf4"/>
<circle cx="950.8" cy="819.5" r="6.9" fill="#c3dfec"/>
<circle cx="544.7" cy="567.4" r="6.9" fill="#a0cbe1"/>
<circle cx="349.3" cy="410.6" r="6.9" fill="#dbebf3"/>
<circle cx="379.5" cy="432.6" r="6.9" fill="#cee4ef"/>
<circle cx="577.7" cy="748.3" r="6.9" fill="#faf5f3"/>
<circle cx="870.1" cy="893.0" r="6.9" fill="#e1eef5"/>
<circle cx="970.0" cy="290.0" r="6.9" fill="#bbdaea"/>
<circle cx="718.8" cy="246.5" r="6.9" fill="#84b8d8"/>
<circle cx="297.6" cy="466.4" r="6.9" fill="#d6e8f2"/>
<circle cx="509.8" cy="726.9" r="6.9" fill="#d5e8f1"/>
<circle cx="310.5" cy="491.1" r="6.9" fill="#faf5f2"/>
<circle cx="699.4" cy="834.3" r="6.9" fill="#eaf2f6"/>
<circle cx="686.3" cy="949.2" r="6.9" fill="#99c6df"/>
<circle cx="846.6" cy="825.3" r="6.9" fill="#c0ddeb"/>
<circle cx="1077.1" cy="474.4" r="6.9" fill="#7fb5d6"/>
<circle cx="871.2" cy="506.3" r="6.9" fill="#f7f8f9"/>
<circle cx="889.3" cy="489.2" r="6.9" fill="#fbf1ec"/>
<circle cx="517.7" cy="737.8" r="6.9" fill="#c8e1ee"/>
<circle cx="390.0" cy="553.4" r="6.9" fill="#a1cbe2"/>
<circle cx="458.6" cy="387.6" r="6.9" fill="#78afd3"/>
<circle cx="741.0" cy="558.8" r="6.9" fill="#b2d6e7"/>
<circle cx="783.6" cy="519.9" r="6.9" fill="#6fa3cc"/>
<circle cx="778.0" cy="528.0" r="6.9" fill="#6393c4"/>
<circle cx="531.9" cy="920.0" r="6.9" fill="#eaf2f6"/>
<circle cx="682.7" cy="403.7" r="6.9" fill="#6fa2cc"/>
<circle cx="414.4" cy="433.9" r="6.9" fill="#79b0d3"/>
<circle cx="342.7" cy="311.7" r="6.9" fill="#a7cfe4"/>
<circle cx="430.6" cy="808.7" r="6.9" fill="#d6e8f2"/>
<circle cx="740.5" cy="1026.0" r="6.9" fill="#d3e7f1"/>
<circle cx="407.5" cy="436.8" r="6.9" fill="#abd1e5"/>
<circle cx="489.3" cy="371.0" r="6.9" fill="#b2d6e7"/>
<circle cx="512.5" cy="450.7" r="6.9" fill="#6595c5"/>
<circle cx="734.4" cy="692.8" r="6.9" fill="#b2d6e7"/>
<circle cx="622.7" cy="295.2" r="6.9" fill="#95c4de"/>
<circle cx="765.3" cy="933.0" r="6.9" fill="#c4dfec"/>
<circle cx="660.3" cy="926.1" r="6.9" fill="#e4eff5"/>
<circle cx="391.8" cy="833.6" r="6.9" fill="#84b9d8"/>
<circle cx="541.4" cy="996.4" r="6.9" fill="#d0e5f0"/>
<circle cx="812.9" cy="405.4" r="6.9" fill="#91c1dc"/>
<circle cx="696.2" cy="730.4" r="6.9" fill="#e7f0f6"/>
<circle cx="894.2" cy="857.0" r="6.9" fill="#e2eef5"/>
<circle cx="573.2" cy="861.2" r="6.9" fill="#e7f0f6"/>
<circle cx="793.8" cy="311.1" r="6.9" fill="#79b0d4"/>
<circle cx="462.2" cy="297.2" r="6.9" fill="#e2eef5"/>
<circle cx="543.3" cy="933.9" r="6.9" fill="#d1e5f0"/>
<circle cx="688.9" cy="861.7" r="6.9" fill="#e7f0f6"/>
<circle cx="890.3" cy="347.9" r="6.9" fill="#82b7d7"/>
<circle cx="1055.0" cy="295.0" r="6.9" fill="#c8e1ee"/>
<circle cx="691.8" cy="311.2" r="6.9" fill="#80b6d7"/>
<circle cx="1079.1" cy="480.7" r="6.9" fill="#aad1e4"/>
<circle cx="433.7" cy="263.9" r="6.9" fill="#8bbdda"/>
<circle cx="876.2" cy="932.3" r="6.9" fill="#dfecf4"/>
<circle cx="664.9" cy="287.6" r="6.9" fill="#9cc8e0"/>
<circle cx="565.9" cy="456.1" r="6.9" fill="#d1e6f0"/>
<circle cx="304.0" cy="904.0" r="6.9" fill="#fbd6c4"/>
<circle cx="942.8" cy="316.8" r="6.9" fill="#6c9eca"/>
<circle cx="999.8" cy="421.3" r="6.9" fill="#a1cbe2"/>
<circle cx="561.3" cy="341.8" r="6.9" fill="#78afd3"/>
<circle cx="711.5" cy="1043.5" r="6.9" fill="#b4d7e8"/>
<circle cx="597.4" cy="880.8" r="6.9" fill="#e1edf4"/>
<circle cx="501.7" cy="941.3" r="6.9" fill="#f5f7f8"/>
<circle cx="646.8" cy="223.3" r="6.9" fill="#6fa3cc"/>
<circle cx="979.7" cy="444.7" r="6.9" fill="#8ebfdb"/>
<circle cx="350.3" cy="751.0" r="6.9" fill="#7bb3d5"/>
<circle cx="530.2" cy="541.9" r="6.9" fill="#cfe5f0"/>
<circle cx="439.9" cy="815.9" r="6.9" fill="#aad1e4"/>
<circle cx="1099.4" cy="480.1" r="6.9" fill="#acd2e5"/>
<circle cx="625.4" cy="1004.1" r="6.9" fill="#d9e9f2"/>
<circle cx="403.7" cy="246.0" r="6.9" fill="#b5d8e8"/>
<circle cx="901.6" cy="526.8" r="6.9" fill="#f4f7f8"/>
<circle cx="911.7" cy="434.0" r="6.9" fill="#6ea2cc"/>
<circle cx="564.3" cy="850.2" r="6.9" fill="#dfecf4"/>
<circle cx="909.8" cy="374.7" r="6.9" fill="#6da0cb"/>
<circle cx="413.5" cy="794.7" r="6.9" fill="#a5cee3"/>
<circle cx="524.8" cy="886.7" r="6.9" fill="#e9f1f6"/>
<circle cx="603.6" cy="530.5" r="6.9" fill="#d1e5f0"/>
<circle cx="863.2" cy="576.6" r="6.9" fill="#9fcae1"/>
<circle cx="990.4" cy="778.1" r="6.9" fill="#577ca4"/>
<circle cx="752.0" cy="525.0" r="6.9" fill="#6899c7"/>
<circle cx="312.4" cy="504.4" r="6.9" fill="#faf5f2"/>
<circle cx="715.9" cy="768.9" r="6.9" fill="#eff4f7"/>
<circle cx="360.4" cy="559.9" r="6.9" fill="#bddbea"/>
<circle cx="421.9" cy="857.2" r="6.9" fill="#7bb3d5"/>
<circle cx="412.9" cy="333.7" r="6.9" fill="#85b9d8"/>
<circle cx="666.1" cy="247.3" r="6.9" fill="#72a7cf"/>
<circle cx="467.0" cy="293.4" r="6.9" fill="#bddbea"/>
<circle cx="722.2" cy="839.3" r="6.9" fill="#d8e9f2"/>
<circle cx="642.8" cy="880.7" r="6.9" fill="#c1ddeb"/>
<circle cx="816.1" cy="426.4" r="6.9" fill="#92c2dd"/>
<circle cx="868.6" cy="879.0" r="6.9" fill="#cbe3ee"/>
<circle cx="589.9" cy="725.5" r="6.9" fill="#a8cfe4"/>
<circle cx="270.5" cy="385.7" r="6.9" fill="#91c1dc"/>
<circle cx="718.8" cy="441.6" r="6.9" fill="#78afd3"/>
<circle cx="683.7" cy="297.1" r="6.9" fill="#b0d5e6"/>
<circle cx="539.7" cy="218.7" r="6.9" fill="#71a6ce"/>
<circle cx="353.1" cy="309.5" r="6.9" fill="#cce3ef"/>
<circle cx="711.2" cy="997.8" r="6.9" fill="#d5e7f1"/>
<circle cx="956.5" cy="668.2" r="6.9" fill="#6c9fca"/>
<circle cx="576.7" cy="1044.5" r="6.9" fill="#c0ddeb"/>
<circle cx="801.1" cy="617.4" r="6.9" fill="#5a80aa"/>
<circle cx="1010.0" cy="305.0" r="6.9" fill="#deecf4"/>
<circle cx="697.5" cy="800.8" r="6.9" fill="#ecf3f7"/>
<circle cx="647.5" cy="682.2" r="6.9" fill="#deecf4"/>
<circle cx="349.7" cy="806.5" r="6.9" fill="#5d88b5"/>
<circle cx="427.1" cy="830.1" r="6.9" fill="#c7e1ed"/>
<circle cx="824.4" cy="428.4" r="6.9" fill="#aad1e4"/>
<circle cx="743.5" cy="754.8" r="6.9" fill="#a1cbe1"/>
<circle cx="792.0" cy="840.0" r="6.9" fill="#d2e6f1"/>
<circle cx="519.0" cy="838.0" r="6.9" fill="#b2d6e7"/>
<circle cx="315.9" cy="297.0" r="6.9" fill="#94c3dd"/>
<circle cx="485.1" cy="903.4" r="6.9" fill="#9fcae1"/>
<circle cx="588.5" cy="1079.5" r="6.9" fill="#c0ddeb"/>
<circle cx="306.7" cy="356.1" r="6.9" fill="#98c5de"/>
<circle cx="563.9" cy="956.7" r="6.9" fill="#f2f6f8"/>
<circle cx="496.2" cy="280.6" r="6.9" fill="#bddcea"/>
<circle cx="946.2" cy="916.5" r="6.9" fill="#dbebf3"/>
<circle cx="566.4" cy="247.6" r="6.9" fill="#bcdbea"/>
<circle cx="762.5" cy="456.6" r="6.9" fill="#96c4de"/>
<circle cx="519.8" cy="348.3" r="6.9" fill="#8cbedb"/>
<circle cx="821.9" cy="605.3" r="6.9" fill="#5a80aa"/>
<circle cx="367.4" cy="497.7" r="6.9" fill="#faf4f1"/>
<circle cx="804.2" cy="436.6" r="6.9" fill="#75abd1"/>
<circle cx="1082.0" cy="465.6" r="6.9" fill="#a2cce2"/>
<circle cx="445.0" cy="242.2" r="6.9" fill="#92c2dd"/>
<circle cx="552.8" cy="254.7" r="6.9" fill="#a7cfe3"/>
<circle cx="466.9" cy="724.5" r="6.9" fill="#c8e1ee"/>
<circle cx="610.7" cy="739.7" r="6.9" fill="#ebf2f6"/>
<circle cx="767.6" cy="761.9" r="6.9" fill="#99c6df"/>
<circle cx="1004.0" cy="816.0" r="6.9" fill="#6b9eca"/>
<circle cx="616.7" cy="832.0" r="6.9" fill="#e8f1f6"/>
<circle cx="920.1" cy="326.5" r="6.9" fill="#8ebfdb"/>
<circle cx="1017.4" cy="272.3" r="6.9" fill="#ecf2f6"/>
<circle cx="870.1" cy="534.3" r="6.9" fill="#fbd6c4"/>
<circle cx="610.4" cy="211.4" r="6.9" fill="#699cc9"/>
<circle cx="661.9" cy="302.3" r="6.9" fill="#deecf4"/>
<circle cx="718.6" cy="808.0" r="6.9" fill="#edf3f7"/>
<circle cx="497.4" cy="1013.8" r="6.9" fill="#f7f8f9"/>
<circle cx="831.6" cy="916.4" r="6.9" fill="#a3cce2"/>
<circle cx="376.8" cy="519.6" r="6.9" fill="#e1edf5"/>
<circle cx="868.5" cy="492.1" r="6.9" fill="#7cb4d5"/>
<circle cx="823.0" cy="631.6" r="6.9" fill="#b2d6e7"/>
<circle cx="449.7" cy="722.2" r="6.9" fill="#bbdaea"/>
<circle cx="1038.0" cy="322.0" r="6.9" fill="#bbdaea"/>
<circle cx="992.4" cy="838.1" r="6.9" fill="#a8d0e4"/>
<circle cx="675.6" cy="870.2" r="6.9" fill="#fcdecf"/>
<circle cx="431.1" cy="342.8" r="6.9" fill="#b6d8e8"/>
<circle cx="282.9" cy="427.4" r="6.9" fill="#9dc8e0"/>
<circle cx="556.4" cy="1017.1" r="6.9" fill="#d2e6f0"/>
<circle cx="429.9" cy="256.7" r="6.9" fill="#8abcda"/>
<circle cx="692.0" cy="982.1" r="6.9" fill="#c7e0ed"/>
<circle cx="318.5" cy="481.6" r="6.9" fill="#dcebf3"/>
<circle cx="785.0" cy="524.0" r="6.9" fill="#6fa3cc"/>
<circle cx="687.0" cy="1021.8" r="6.9" fill="#d2e6f1"/>
<circle cx="395.9" cy="248.2" r="6.9" fill="#aed3e6"/>
<circle cx="437.2" cy="711.3" r="6.9" fill="#76add2"/>
<circle cx="379.1" cy="479.3" r="6.9" fill="#f9f7f6"/>
<circle cx="649.8" cy="498.7" r="6.9" fill="#b0d5e6"/>
<circle cx="517.8" cy="1021.4" r="6.9" fill="#e8f1f6"/>
<circle cx="361.8" cy="245.8" r="6.9" fill="#74aad0"/>
<circle cx="633.0" cy="506.3" r="6.9" fill="#bddbea"/>
<circle cx="972.5" cy="869.5" r="6.9" fill="#b4d7e8"/>
<circle cx="921.5" cy="901.5" r="6.9" fill="#bfddeb"/>
<circle cx="751.3" cy="803.5" r="6.9" fill="#edf3f7"/>
<circle cx="543.9" cy="425.9" r="6.9" fill="#f9f9f9"/>
<circle cx="638.1" cy="840.5" r="6.9" fill="#faf6f4"/>
<circle cx="375.6" cy="362.5" r="6.9" fill="#c2deec"/>
<circle cx="731.1" cy="311.5" r="6.9" fill="#71a5ce"/>
<circle cx="565.5" cy="783.4" r="6.9" fill="#fbf1eb"/>
<circle cx="399.1" cy="375.1" r="6.9" fill="#b7d9e9"/>
<circle cx="534.9" cy="537.6" r="6.9" fill="#aad1e4"/>
<circle cx="654.6" cy="753.5" r="6.9" fill="#fde6d9"/>
<circle cx="624.3" cy="714.4" r="6.9" fill="#c2deec"/>
<circle cx="737.7" cy="809.8" r="6.9" fill="#ebf2f6"/>
<circle cx="610.1" cy="474.6" r="6.9" fill="#c6e0ed"/>
<circle cx="365.9" cy="456.1" r="6.9" fill="#f7f8f9"/>
<circle cx="611.9" cy="794.1" r="6.9" fill="#f9ccb7"/>
<circle cx="382.8" cy="788.1" r="6.9" fill="#608dbb"/>
<circle cx="463.8" cy="757.3" r="6.9" fill="#e3eff5"/>
<circle cx="882.4" cy="918.0" r="6.9" fill="#c7e1ed"/>
<circle cx="308.8" cy="900.0" r="6.9" fill="#fce9de"/>
<circle cx="503.0" cy="393.1" r="6.9" fill="#c8e1ee"/>
<circle cx="845.5" cy="406.0" r="6.9" fill="#b4d7e8"/>
<circle cx="376.9" cy="528.7" r="6.9" fill="#e1eef5"/>
<circle cx="935.0" cy="333.3" r="6.9" fill="#76acd1"/>
<circle cx="795.6" cy="620.6" r="6.9" fill="#5a80aa"/>
<circle cx="593.1" cy="496.5" r="6.9" fill="#faf6f3"/>
<circle cx="433.3" cy="418.7" r="6.9" fill="#7eb5d6"/>
<circle cx="385.0" cy="750.0" r="6.9" fill="#96c4de"/>
<circle cx="575.0" cy="1076.0" r="6.9" fill="#e4eff5"/>
<circle cx="844.4" cy="365.6" r="6.9" fill="#8cbedb"/>
<circle cx="401.8" cy="397.7" r="6.9" fill="#c2deec"/>
<circle cx="301.1" cy="366.0" r="6.9" fill="#83b8d7"/>
<circle cx="367.3" cy="412.1" r="6.9" fill="#eef4f7"/>
<circle cx="667.4" cy="1027.7" r="6.9" fill="#b8d9e9"/>
<circle cx="589.9" cy="959.8" r="6.9" fill="#eef4f7"/>
<circle cx="369.8" cy="528.2" r="6.9" fill="#c6e0ed"/>
<circle cx="325.6" cy="794.0" r="6.9" fill="#6a9dc9"/>
<circle cx="770.5" cy="677.5" r="6.9" fill="#587da5"/>
<circle cx="1068.0" cy="352.5" r="6.9" fill="#96c4de"/>
<circle cx="665.3" cy="855.3" r="6.9" fill="#dcebf3"/>
<circle cx="571.6" cy="225.7" r="6.9" fill="#73a8cf"/>
<circle cx="414.8" cy="354.7" r="6.9" fill="#deecf4"/>
<circle cx="556.5" cy="801.2" r="6.9" fill="#f6f8f8"/>
<circle cx="422.9" cy="231.3" r="6.9" fill="#95c3dd"/>
<circle cx="561.3" cy="1072.0" r="6.9" fill="#d5e7f1"/>
<circle cx="680.5" cy="708.6" r="6.9" fill="#f8f8f9"/>
<circle cx="593.0" cy="933.8" r="6.9" fill="#fbefe8"/>
<circle cx="345.4" cy="255.7" r="6.9" fill="#78afd3"/>
<circle cx="770.0" cy="520.0" r="6.9" fill="#6393c4"/>
<circle cx="682.1" cy="487.0" r="6.9" fill="#70a4cd"/>
<circle cx="393.6" cy="443.9" r="6.9" fill="#f0f5f7"/>
<circle cx="932.7" cy="519.1" r="6.9" fill="#bedceb"/>
<circle cx="359.7" cy="484.2" r="6.9" fill="#fbede5"/>
<circle cx="562.0" cy="438.0" r="6.9" fill="#deecf4"/>
<circle cx="921.3" cy="380.1" r="6.9" fill="#73a9d0"/>
<circle cx="496.2" cy="262.0" r="6.9" fill="#85bad8"/>
<circle cx="599.4" cy="538.4" r="6.9" fill="#e9f1f6"/>
<circle cx="787.7" cy="970.5" r="6.9" fill="#dfecf4"/>
<circle cx="855.3" cy="511.2" r="6.9" fill="#fcebe1"/>
<circle cx="471.5" cy="341.4" r="6.9" fill="#cae2ee"/>
<circle cx="722.2" cy="1013.5" r="6.9" fill="#c1ddeb"/>
<circle cx="331.5" cy="504.7" r="6.9" fill="#f9f7f6"/>
<circle cx="559.6" cy="1025.4" r="6.9" fill="#d1e6f0"/>
<circle cx="1045.5" cy="327.2" r="6.9" fill="#a7cfe3"/>
<circle cx="845.1" cy="807.2" r="6.9" fill="#91c1dc"/>
<circle cx="897.9" cy="693.5" r="6.9" fill="#eef4f7"/>
<circle cx="300.6" cy="289.3" r="6.9" fill="#89bcd9"/>
<circle cx="916.4" cy="659.9" r="6.9" fill="#6ea1cc"/>
<circle cx="890.4" cy="651.9" r="6.9" fill="#6c9eca"/>
<circle cx="750.7" cy="1051.4" r="6.9" fill="#79b1d4"/>
<circle cx="329.5" cy="363.6" r="6.9" fill="#90c1dc"/>
<circle cx="696.6" cy="795.2" r="6.9" fill="#faf4f1"/>
<circle cx="691.1" cy="957.4" r="6.9" fill="#9fcae1"/>
<circle cx="890.0" cy="586.4" r="6.9" fill="#faf5f2"/>
<circle cx="491.9" cy="697.2" r="6.9" fill="#bbdaea"/>
<circle cx="310.3" cy="410.2" r="6.9" fill="#a2cce2"/>
<circle cx="390.9" cy="785.0" r="6.9" fill="#5a82ac"/>
<circle cx="470.8" cy="421.8" r="6.9" fill="#95c4de"/>
<circle cx="726.1" cy="1050.7" r="6.9" fill="#c0ddeb"/>
<circle cx="698.0" cy="1005.1" r="6.9" fill="#d4e7f1"/>
<circle cx="358.4" cy="794.7" r="6.9" fill="#5c85b0"/>
<circle cx="861.4" cy="894.3" r="6.9" fill="#c8e1ed"/>
<circle cx="417.0" cy="288.2" r="6.9" fill="#c8e1ed"/>
<circle cx="295.3" cy="412.0" r="6.9" fill="#bbdbea"/>
<circle cx="908.0" cy="429.5" r="6.9" fill="#699bc8"/>
<circle cx="659.0" cy="916.9" r="6.9" fill="#f5f7f8"/>
<circle cx="567.4" cy="948.0" r="6.9" fill="#d4e7f1"/>
<circle cx="989.0" cy="296.3" r="6.9" fill="#deecf4"/>
<circle cx="383.0" cy="817.6" r="6.9" fill="#70a5cd"/>
<circle cx="751.7" cy="953.5" r="6.9" fill="#e5eff5"/>
<circle cx="688.8" cy="986.6" r="6.9" fill="#badae9"/>
<circle cx="624.1" cy="285.3" r="6.9" fill="#91c1dc"/>
<circle cx="681.3" cy="691.0" r="6.9" fill="#e4eff5"/>
<circle cx="700.3" cy="770.0" r="6.9" fill="#f4f7f8"/>
<circle cx="499.7" cy="1001.8" r="6.9" fill="#dfecf4"/>
<circle cx="831.1" cy="964.3" r="6.9" fill="#b3d6e7"/>
<circle cx="439.5" cy="356.5" r="6.9" fill="#b9dae9"/>
<circle cx="886.0" cy="894.6" r="6.9" fill="#c7e1ed"/>
<circle cx="830.1" cy="806.8" r="6.9" fill="#d0e5f0"/>
<circle cx="722.3" cy="889.2" r="6.9" fill="#f3f6f8"/>
<circle cx="541.9" cy="559.3" r="6.9" fill="#b8d9e9"/>
<circle cx="606.5" cy="1064.9" r="6.9" fill="#c9e2ee"/>
<circle cx="734.0" cy="815.2" r="6.9" fill="#d2e6f1"/>
<circle cx="358.8" cy="317.4" r="6.9" fill="#edf3f7"/>
<circle cx="646.6" cy="770.6" r="6.9" fill="#fcece3"/>
<circle cx="415.2" cy="294.9" r="6.9" fill="#b8d9e9"/>
<circle cx="527.0" cy="821.0" r="6.9" fill="#deecf4"/>
<circle cx="489.1" cy="300.9" r="6.9" fill="#cde4ef"/>
<circle cx="1038.5" cy="285.0" r="6.9" fill="#e6f0f6"/>
<circle cx="570.5" cy="802.1" r="6.9" fill="#bddcea"/>
<circle cx="892.6" cy="685.2" r="6.9" fill="#c6e0ed"/>
<circle cx="873.7" cy="590.6" r="6.9" fill="#bedceb"/>
<circle cx="961.3" cy="863.4" r="6.9" fill="#b4d7e8"/>
<circle cx="674.0" cy="690.5" r="6.9" fill="#faf3ee"/>
<circle cx="801.0" cy="793.7" r="6.9" fill="#c2deec"/>
<circle cx="553.0" cy="366.4" r="6.9" fill="#b4d7e8"/>
<circle cx="885.8" cy="397.2" r="6.9" fill="#77add2"/>
<circle cx="600.9" cy="801.3" r="6.9" fill="#fbeee7"/>
<circle cx="768.0" cy="417.8" r="6.9" fill="#6b9dca"/>
<circle cx="847.4" cy="421.9" r="6.9" fill="#8ebfdb"/>
<circle cx="424.2" cy="261.4" r="6.9" fill="#99c6df"/>
<circle cx="486.7" cy="234.2" r="6.9" fill="#73a8cf"/>
<circle cx="578.0" cy="232.6" r="6.9" fill="#78b0d3"/>
<circle cx="545.2" cy="834.8" r="6.9" fill="#f3f6f8"/>
<circle cx="689.7" cy="630.6" r="6.9" fill="#fad2bf"/>
<circle cx="937.4" cy="388.1" r="6.9" fill="#77aed2"/>
<circle cx="938.0" cy="437.0" r="6.9" fill="#9cc8e0"/>
<circle cx="737.2" cy="518.5" r="6.9" fill="#7bb3d5"/>
<circle cx="628.6" cy="309.8" r="6.9" fill="#dfedf4"/>
<circle cx="926.5" cy="888.3" r="6.9" fill="#b5d8e8"/>
<circle cx="662.3" cy="319.8" r="6.9" fill="#e2eef5"/>
<circle cx="526.7" cy="1003.2" r="6.9" fill="#f0f5f7"/>
<circle cx="991.6" cy="463.8" r="6.9" fill="#95c4de"/>
<circle cx="518.1" cy="459.9" r="6.9" fill="#c6e0ed"/>
<circle cx="972.4" cy="771.7" r="6.9" fill="#bddcea"/>
<circle cx="336.7" cy="302.2" r="6.9" fill="#cae2ee"/>
<circle cx="822.4" cy="300.7" r="6.9" fill="#92c1dc"/>
<circle cx="1061.1" cy="496.1" r="6.9" fill="#92c2dd"/>
<circle cx="628.4" cy="887.4" r="6.9" fill="#cce3ef"/>
<circle cx="421.6" cy="745.6" r="6.9" fill="#6fa3cc"/>
<circle cx="727.8" cy="248.1" r="6.9" fill="#a7cfe4"/>
<circle cx="661.0" cy="848.1" r="6.9" fill="#f1f5f8"/>
<circle cx="789.0" cy="615.2" r="6.9" fill="#f9f9f9"/>
<circle cx="900.4" cy="902.9" r="6.9" fill="#9fcae1"/>
<circle cx="501.7" cy="472.9" r="6.9" fill="#ebf2f6"/>
<circle cx="567.8" cy="296.9" r="6.9" fill="#c2deec"/>
<circle cx="635.0" cy="1066.3" r="6.9" fill="#d0e5f0"/>
<circle cx="547.2" cy="1068.5" r="6.9" fill="#a5cee3"/>
<circle cx="747.9" cy="1026.6" r="6.9" fill="#aed4e6"/>
<circle cx="683.1" cy="273.3" r="6.9" fill="#c7e1ed"/>
<circle cx="570.0" cy="1009.9" r="6.9" fill="#d0e5f0"/>
<circle cx="725.6" cy="604.0" r="6.9" fill="#fde5d7"/>
<circle cx="593.1" cy="972.3" r="6.9" fill="#dcebf3"/>
<circle cx="784.0" cy="308.4" r="6.9" fill="#6fa3cc"/>
<circle cx="851.1" cy="410.9" r="6.9" fill="#b8d9e9"/>
<circle cx="1110.5" cy="466.9" r="6.9" fill="#6a9cc9"/>
<circle cx="807.2" cy="284.6" r="6.9" fill="#70a4cd"/>
<circle cx="578.4" cy="396.4" r="6.9" fill="#7bb3d5"/>
<circle cx="672.2" cy="986.1" r="6.9" fill="#c1ddeb"/>
<circle cx="381.5" cy="830.7" r="6.9" fill="#6fa4cd"/>
<circle cx="385.5" cy="374.4" r="6.9" fill="#b4d7e8"/>
<circle cx="653.1" cy="273.1" r="6.9" fill="#77aed2"/>
<circle cx="662.4" cy="877.7" r="6.9" fill="#f2f6f8"/>
<circle cx="508.5" cy="1017.9" r="6.9" fill="#e8f1f6"/>
<circle cx="662.0" cy="207.9" r="6.9" fill="#72a7cf"/>
<circle cx="925.8" cy="895.8" r="6.9" fill="#c2deec"/>
<circle cx="510.6" cy="957.6" r="6.9" fill="#f4f7f8"/>
<circle cx="845.1" cy="885.1" r="6.9" fill="#d5e7f1"/>
<circle cx="865.6" cy="497.8" r="6.9" fill="#8abdda"/>
<circle cx="802.5" cy="418.9" r="6.9" fill="#8fbfdb"/>
<circle cx="717.2" cy="304.6" r="6.9" fill="#a5cde3"/>
<circle cx="741.0" cy="842.8" r="6.9" fill="#e9f1f6"/>
<circle cx="440.0" cy="234.8" r="6.9" fill="#a2cce2"/>
<circle cx="791.1" cy="872.4" r="6.9" fill="#c3dfec"/>
<circle cx="638.0" cy="345.0" r="6.9" fill="#deecf4"/>
<circle cx="380.6" cy="824.0" r="6.9" fill="#6fa4cd"/>
<circle cx="340.4" cy="554.1" r="6.9" fill="#bddbea"/>
<circle cx="708.2" cy="878.5" r="6.9" fill="#c7e0ed"/>
<circle cx="424.8" cy="385.7" r="6.9" fill="#9dc9e0"/>
<circle cx="821.1" cy="433.8" r="6.9" fill="#78afd3"/>
<circle cx="458.0" cy="425.2" r="6.9" fill="#87bbd9"/>
<circle cx="575.6" cy="1029.3" r="6.9" fill="#d6e8f2"/>
<circle cx="384.1" cy="489.3" r="6.9" fill="#fbf0ea"/>
<circle cx="441.5" cy="644.4" r="6.9" fill="#6fa3cc"/>
<circle cx="710.0" cy="917.5" r="6.9" fill="#f9f9f9"/>
<circle cx="940.5" cy="925.0" r="6.9" fill="#aad1e4"/>
<circle cx="835.6" cy="752.0" r="6.9" fill="#a0cae1"/>
<circle cx="539.1" cy="223.0" r="6.9" fill="#6b9eca"/>
<circle cx="401.5" cy="335.2" r="6.9" fill="#b8d9e9"/>
<circle cx="993.6" cy="787.1" r="6.9" fill="#6798c7"/>
<circle cx="818.2" cy="577.3" r="6.9" fill="#a7cfe3"/>
<circle cx="794.2" cy="403.3" r="6.9" fill="#75abd1"/>
<circle cx="570.2" cy="568.7" r="6.9" fill="#7bb3d5"/>
<circle cx="412.5" cy="409.4" r="6.9" fill="#dbeaf3"/>
<circle cx="682.9" cy="965.9" r="6.9" fill="#8dbfdb"/>
<circle cx="315.7" cy="545.3" r="6.9" fill="#e7f0f6"/>
<circle cx="638.8" cy="730.2" r="6.9" fill="#fbf1eb"/>
<circle cx="588.9" cy="333.4" r="6.9" fill="#85b9d8"/>
<circle cx="744.2" cy="510.0" r="6.9" fill="#7bb3d5"/>
<circle cx="783.9" cy="918.6" r="6.9" fill="#dfecf4"/>
<circle cx="628.3" cy="534.0" r="6.9" fill="#f0f4f7"/>
<circle cx="748.2" cy="760.0" r="6.9" fill="#9bc8e0"/>
<circle cx="587.5" cy="559.1" r="6.9" fill="#acd2e5"/>
<circle cx="569.7" cy="1059.4" r="6.9" fill="#f8f8f9"/>
<circle cx="392.7" cy="565.9" r="6.9" fill="#ddebf4"/>
<circle cx="677.8" cy="1060.0" r="6.9" fill="#9ac7df"/>
<circle cx="405.4" cy="232.6" r="6.9" fill="#70a5cd"/>
<circle cx="927.2" cy="794.1" r="6.9" fill="#d7e8f2"/>
<circle cx="502.1" cy="381.6" r="6.9" fill="#88bcd9"/>
<circle cx="550.9" cy="795.7" r="6.9" fill="#eef4f7"/>
<circle cx="601.6" cy="1064.1" r="6.9" fill="#bcdbea"/>
<circle cx="739.5" cy="791.5" r="6.9" fill="#dfecf4"/>
<circle cx="371.9" cy="437.2" r="6.9" fill="#d4e7f1"/>
<circle cx="777.1" cy="721.7" r="6.9" fill="#d0e5f0"/>
<circle cx="643.0" cy="1051.7" r="6.9" fill="#cde4ef"/>
<circle cx="609.3" cy="721.9" r="6.9" fill="#e1edf4"/>
<circle cx="876.3" cy="894.2" r="6.9" fill="#9ec9e0"/>
<circle cx="351.1" cy="327.0" r="6.9" fill="#d0e5f0"/>
<circle cx="819.5" cy="950.8" r="6.9" fill="#e1edf4"/>
<circle cx="629.2" cy="951.0" r="6.9" fill="#fbeee6"/>
<circle cx="585.3" cy="262.5" r="6.9" fill="#7ab2d4"/>
<circle cx="524.3" cy="904.1" r="6.9" fill="#ebf2f6"/>
<circle cx="943.3" cy="413.4" r="6.9" fill="#78afd3"/>
<circle cx="876.6" cy="810.7" r="6.9" fill="#b9dae9"/>
<circle cx="904.4" cy="520.1" r="6.9" fill="#fde7da"/>
<circle cx="896.0" cy="862.9" r="6.9" fill="#e5eff5"/>
<circle cx="616.3" cy="926.9" r="6.9" fill="#fce9de"/>
<circle cx="548.7" cy="1010.8" r="6.9" fill="#e0edf4"/>
<circle cx="520.2" cy="254.1" r="6.9" fill="#79b0d4"/>
<circle cx="615.5" cy="1040.7" r="6.9" fill="#ddecf4"/>
<circle cx="639.4" cy="903.5" r="6.9" fill="#eef4f7"/>
<circle cx="692.8" cy="697.9" r="6.9" fill="#f0f5f7"/>
<circle cx="544.5" cy="865.2" r="6.9" fill="#fce8dd"/>
<circle cx="931.4" cy="425.9" r="6.9" fill="#79b1d4"/>
<circle cx="726.5" cy="424.9" r="6.9" fill="#90c0dc"/>
<circle cx="547.9" cy="872.6" r="6.9" fill="#fbd9c8"/>
<circle cx="527.5" cy="940.6" r="6.9" fill="#d9e9f2"/>
<circle cx="710.9" cy="405.8" r="6.9" fill="#74a9d0"/>
<circle cx="303.8" cy="397.4" r="6.9" fill="#bcdbea"/>
<circle cx="521.1" cy="557.2" r="6.9" fill="#e2eef5"/>
<circle cx="711.2" cy="356.6" r="6.9" fill="#7db4d6"/>
<circle cx="891.6" cy="933.6" r="6.9" fill="#eff4f7"/>
<circle cx="671.8" cy="861.8" r="6.9" fill="#ebf2f6"/>
<circle cx="672.7" cy="1037.4" r="6.9" fill="#9dc9e0"/>
<circle cx="511.9" cy="489.7" r="6.9" fill="#95c3dd"/>
<circle cx="375.9" cy="381.2" r="6.9" fill="#7db5d6"/>
<circle cx="586.4" cy="1074.1" r="6.9" fill="#ebf2f6"/>
<circle cx="602.8" cy="981.4" r="6.9" fill="#e0edf4"/>
<circle cx="767.3" cy="950.3" r="6.9" fill="#dfedf4"/>
<circle cx="835.6" cy="838.9" r="6.9" fill="#e3eef5"/>
<circle cx="686.9" cy="792.6" r="6.9" fill="#f8f9f9"/>
<circle cx="403.6" cy="371.6" r="6.9" fill="#7eb5d6"/>
<circle cx="204.0" cy="428.0" r="6.9" fill="#7bb3d5"/>
<circle cx="887.3" cy="911.6" r="6.9" fill="#9ec9e0"/>
<circle cx="565.2" cy="1037.4" r="6.9" fill="#cbe3ef"/>
<circle cx="564.9" cy="800.4" r="6.9" fill="#e2eef5"/>
<circle cx="402.0" cy="413.6" r="6.9" fill="#b4d7e8"/>
<circle cx="551.2" cy="572.8" r="6.9" fill="#99c6df"/>
<circle cx="704.5" cy="1056.0" r="6.9" fill="#dcebf3"/>
<circle cx="822.5" cy="340.6" r="6.9" fill="#a3cce2"/>
<circle cx="742.0" cy="540.0" r="6.9" fill="#6fa3cc"/>
<circle cx="694.1" cy="323.9" r="6.9" fill="#a3cde2"/>
<circle cx="622.0" cy="840.7" r="6.9" fill="#edf3f7"/>
<circle cx="527.6" cy="491.3" r="6.9" fill="#a5cde3"/>
<circle cx="538.4" cy="802.3" r="6.9" fill="#dcebf3"/>
<circle cx="539.4" cy="511.3" r="6.9" fill="#81b7d7"/>
<circle cx="977.3" cy="786.1" r="6.9" fill="#8abcda"/>
<circle cx="788.6" cy="318.3" r="6.9" fill="#88bbd9"/>
<circle cx="433.7" cy="856.6" r="6.9" fill="#a9d1e4"/>
<circle cx="687.2" cy="319.1" r="6.9" fill="#afd4e6"/>
<circle cx="578.1" cy="297.2" r="6.9" fill="#80b6d7"/>
<circle cx="485.8" cy="358.4" r="6.9" fill="#7ab1d4"/>
<circle cx="437.5" cy="224.1" r="6.9" fill="#9bc7df"/>
<circle cx="610.5" cy="995.4" r="6.9" fill="#cae2ee"/>
<circle cx="609.5" cy="910.8" r="6.9" fill="#e7f0f6"/>
<circle cx="488.2" cy="340.3" r="6.9" fill="#83b8d8"/>
<circle cx="635.4" cy="316.7" r="6.9" fill="#c5dfed"/>
<circle cx="550.6" cy="841.7" r="6.9" fill="#ebf2f6"/>
<circle cx="749.1" cy="854.0" r="6.9" fill="#c4dfec"/>
<circle cx="785.0" cy="490.3" r="6.9" fill="#6fa3cc"/>
<circle cx="819.6" cy="747.6" r="6.9" fill="#c4dfec"/>
<circle cx="644.7" cy="973.8" r="6.9" fill="#f8f9f9"/>
<circle cx="634.0" cy="989.8" r="6.9" fill="#89bcda"/>
<circle cx="512.2" cy="709.7" r="6.9" fill="#7bb3d5"/>
<circle cx="660.5" cy="248.5" r="6.9" fill="#85b9d8"/>
<circle cx="552.6" cy="1029.2" r="6.9" fill="#d8e9f2"/>
<circle cx="593.0" cy="273.5" r="6.9" fill="#81b7d7"/>
<circle cx="643.3" cy="476.5" r="6.9" fill="#d2e6f1"/>
<circle cx="1068.0" cy="318.8" r="6.9" fill="#86bad9"/>
<circle cx="1025.8" cy="450.1" r="6.9" fill="#6c9fcb"/>
<circle cx="602.0" cy="557.7" r="6.9" fill="#b7d8e8"/>
<circle cx="642.1" cy="927.9" r="6.9" fill="#f1f5f8"/>
<circle cx="442.0" cy="740.0" r="6.9" fill="#6fa3cc"/>
<circle cx="613.9" cy="887.9" r="6.9" fill="#e5eff5"/>
<circle cx="707.2" cy="512.2" r="6.9" fill="#8bbdda"/>
<circle cx="789.9" cy="815.1" r="6.9" fill="#bcdbea"/>
<circle cx="720.1" cy="730.5" r="6.9" fill="#bddcea"/>
<circle cx="585.0" cy="653.0" r="6.9" fill="#96c4de"/>
<circle cx="766.9" cy="437.5" r="6.9" fill="#6899c7"/>
<circle cx="552.1" cy="496.0" r="6.9" fill="#e7f0f6"/>
<circle cx="853.7" cy="838.6" r="6.9" fill="#b8d9e9"/>
<circle cx="335.2" cy="592.7" r="6.9" fill="#d5e8f1"/>
<circle cx="872.3" cy="339.6" r="6.9" fill="#aad1e4"/>
<circle cx="726.2" cy="631.2" r="6.9" fill="#fbeee6"/>
<circle cx="826.6" cy="590.1" r="6.9" fill="#d6e8f2"/>
<circle cx="510.6" cy="703.4" r="6.9" fill="#96c4de"/>
<circle cx="461.6" cy="373.5" r="6.9" fill="#a6cee3"/>
<circle cx="637.4" cy="272.4" r="6.9" fill="#a0cbe1"/>
<circle cx="549.1" cy="526.3" r="6.9" fill="#ddecf4"/>
<circle cx="428.4" cy="301.4" r="6.9" fill="#aad1e4"/>
<circle cx="631.4" cy="1074.5" r="6.9" fill="#d0e5f0"/>
<circle cx="734.2" cy="861.5" r="6.9" fill="#e5eff5"/>
<circle cx="530.0" cy="1035.3" r="6.9" fill="#e8f1f6"/>
<circle cx="692.0" cy="371.6" r="6.9" fill="#94c3dd"/>
<circle cx="720.7" cy="232.9" r="6.9" fill="#b2d6e7"/>
<circle cx="328.4" cy="397.4" r="6.9" fill="#8dbfdb"/>
<circle cx="619.4" cy="286.7" r="6.9" fill="#9bc7df"/>
<circle cx="834.3" cy="706.6" r="6.9" fill="#78afd3"/>
<circle cx="620.5" cy="822.9" r="6.9" fill="#fbd7c6"/>
<circle cx="790.2" cy="925.7" r="6.9" fill="#b9dae9"/>
<circle cx="1012.3" cy="847.2" r="6.9" fill="#77add2"/>
<circle cx="304.6" cy="457.2" r="6.9" fill="#a2cce2"/>
<circle cx="642.1" cy="499.5" r="6.9" fill="#d8e9f2"/>
<circle cx="828.5" cy="607.5" r="6.9" fill="#5a80aa"/>
<circle cx="666.6" cy="1040.7" r="6.9" fill="#9fcae1"/>
<circle cx="741.7" cy="799.8" r="6.9" fill="#f8f9f9"/>
<circle cx="786.9" cy="700.5" r="6.9" fill="#96c4de"/>
<circle cx="954.2" cy="405.0" r="6.9" fill="#99c6df"/>
<circle cx="539.0" cy="341.5" r="6.9" fill="#b9dae9"/>
<circle cx="672.5" cy="620.5" r="6.9" fill="#7bb3d5"/>
<circle cx="757.5" cy="916.2" r="6.9" fill="#b2d6e7"/>
<circle cx="561.4" cy="304.4" r="6.9" fill="#cee4ef"/>
<circle cx="589.9" cy="940.0" r="6.9" fill="#ddecf4"/>
<circle cx="800.1" cy="865.6" r="6.9" fill="#b4d7e8"/>
<circle cx="891.8" cy="827.1" r="6.9" fill="#cbe3ee"/>
<circle cx="549.1" cy="217.9" r="6.9" fill="#93c2dd"/>
<circle cx="390.0" cy="963.1" r="6.9" fill="#c8e1ee"/>
<circle cx="581.3" cy="928.1" r="6.9" fill="#f6f7f8"/>
<circle cx="758.8" cy="871.1" r="6.9" fill="#eaf2f6"/>
<circle cx="361.0" cy="309.4" r="6.9" fill="#d4e7f1"/>
<circle cx="723.2" cy="466.9" r="6.9" fill="#a0cae1"/>
<circle cx="700.4" cy="1018.1" r="6.9" fill="#cee4ef"/>
<circle cx="349.8" cy="247.2" r="6.9" fill="#79b0d3"/>
<circle cx="381.0" cy="343.6" r="6.9" fill="#e7f0f6"/>
<circle cx="531.6" cy="949.2" r="6.9" fill="#e8f1f6"/>
<circle cx="323.1" cy="404.2" r="6.9" fill="#e2eef5"/>
<circle cx="551.3" cy="308.8" r="6.9" fill="#a1cbe2"/>
<circle cx="949.6" cy="411.3" r="6.9" fill="#9ac7df"/>
<circle cx="554.7" cy="1003.6" r="6.9" fill="#d7e9f2"/>
<circle cx="666.0" cy="381.5" r="6.9" fill="#c4dfec"/>
<circle cx="356.1" cy="394.3" r="6.9" fill="#91c1dc"/>
<circle cx="1092.5" cy="479.2" r="6.9" fill="#92c2dc"/>
<circle cx="428.8" cy="365.1" r="6.9" fill="#c4dfec"/>
<circle cx="588.1" cy="566.7" r="6.9" fill="#94c3dd"/>
<circle cx="340.6" cy="788.3" r="6.9" fill="#6595c5"/>
<circle cx="587.9" cy="699.7" r="6.9" fill="#d8e9f2"/>
<circle cx="559.0" cy="841.7" r="6.9" fill="#f9f7f6"/>
<circle cx="361.4" cy="573.5" r="6.9" fill="#f9f9f8"/>
<circle cx="552.3" cy="903.7" r="6.9" fill="#badae9"/>
<circle cx="698.3" cy="396.3" r="6.9" fill="#9fcae1"/>
<circle cx="752.1" cy="426.2" r="6.9" fill="#a2cce2"/>
<circle cx="1021.2" cy="456.6" r="6.9" fill="#79b0d3"/>
<circle cx="1099.4" cy="513.9" r="6.9" fill="#78afd3"/>
<circle cx="871.5" cy="560.4" r="6.9" fill="#e8f1f6"/>
<circle cx="633.5" cy="872.3" r="6.9" fill="#c0ddeb"/>
<circle cx="1034.5" cy="451.0" r="6.9" fill="#b9d9e9"/>
<circle cx="884.8" cy="932.7" r="6.9" fill="#d8e9f2"/>
<circle cx="716.8" cy="316.2" r="6.9" fill="#7cb4d5"/>
<circle cx="393.2" cy="286.9" r="6.9" fill="#b3d6e7"/>
<circle cx="387.8" cy="280.0" r="6.9" fill="#c0ddeb"/>
<circle cx="773.7" cy="435.4" r="6.9" fill="#a2cce2"/>
<circle cx="757.4" cy="902.7" r="6.9" fill="#eef4f7"/>
<circle cx="553.0" cy="333.1" r="6.9" fill="#6495c5"/>
<circle cx="785.6" cy="809.5" r="6.9" fill="#9dc9e0"/>
<circle cx="400.7" cy="379.9" r="6.9" fill="#9cc8e0"/>
<circle cx="537.3" cy="458.0" r="6.9" fill="#daeaf3"/>
<circle cx="558.6" cy="545.1" r="6.9" fill="#afd4e6"/>
<circle cx="659.6" cy="873.8" r="6.9" fill="#fbf0ea"/>
<circle cx="816.8" cy="332.4" r="6.9" fill="#77aed2"/>
<circle cx="743.9" cy="814.9" r="6.9" fill="#ebf2f6"/>
<circle cx="986.2" cy="304.2" r="6.9" fill="#dfecf4"/>
<circle cx="420.4" cy="785.8" r="6.9" fill="#79b1d4"/>
<circle cx="573.4" cy="348.9" r="6.9" fill="#86bad9"/>
<circle cx="859.7" cy="425.9" r="6.9" fill="#7fb5d6"/>
<circle cx="398.2" cy="312.3" r="6.9" fill="#c2deec"/>
<circle cx="678.8" cy="413.8" r="6.9" fill="#a0cae1"/>
<circle cx="587.5" cy="434.7" r="6.9" fill="#d7e9f2"/>
<circle cx="442.2" cy="326.5" r="6.9" fill="#8ebfdb"/>
<circle cx="634.9" cy="569.8" r="6.9" fill="#afd4e6"/>
<circle cx="590.4" cy="989.6" r="6.9" fill="#a6cee3"/>
<circle cx="610.0" cy="519.9" r="6.9" fill="#dcebf3"/>
<circle cx="697.1" cy="706.6" r="6.9" fill="#eef4f7"/>
<circle cx="627.8" cy="877.5" r="6.9" fill="#aad1e4"/>
<circle cx="373.8" cy="935.0" r="6.9" fill="#fde5d7"/>
<circle cx="480.9" cy="349.0" r="6.9" fill="#89bcda"/>
<circle cx="948.1" cy="318.7" r="6.9" fill="#88bbd9"/>
<circle cx="877.7" cy="427.0" r="6.9" fill="#80b6d7"/>
<circle cx="799.4" cy="925.0" r="6.9" fill="#c9e1ee"/>
<circle cx="907.0" cy="830.1" r="6.9" fill="#bedcea"/>
<circle cx="508.4" cy="299.9" r="6.9" fill="#dfecf4"/>
<circle cx="575.0" cy="902.8" r="6.9" fill="#f4f7f8"/>
<circle cx="885.3" cy="802.2" r="6.9" fill="#a0cbe1"/>
<circle cx="809.6" cy="988.0" r="6.9" fill="#a5cee3"/>
<circle cx="541.7" cy="575.9" r="6.9" fill="#bcdbea"/>
<circle cx="518.4" cy="538.3" r="6.9" fill="#b1d5e7"/>
<circle cx="339.4" cy="488.4" r="6.9" fill="#e3eff5"/>
<circle cx="345.3" cy="320.4" r="6.9" fill="#b1d5e7"/>
<circle cx="984.8" cy="646.9" r="6.9" fill="#77aed2"/>
<circle cx="592.3" cy="831.9" r="6.9" fill="#f9f9f8"/>
<circle cx="706.6" cy="442.8" r="6.9" fill="#7fb6d6"/>
<circle cx="557.0" cy="703.0" r="6.9" fill="#c8e1ee"/>
<circle cx="921.6" cy="425.1" r="6.9" fill="#70a4cd"/>
<circle cx="401.6" cy="522.8" r="6.9" fill="#b7d8e8"/>
<circle cx="350.2" cy="561.0" r="6.9" fill="#c8e1ee"/>
<circle cx="574.7" cy="550.8" r="6.9" fill="#c2deec"/>
<circle cx="321.2" cy="289.3" r="6.9" fill="#a2cce2"/>
<circle cx="585.1" cy="869.9" r="6.9" fill="#f9f9f9"/>
<circle cx="370.1" cy="479.5" r="6.9" fill="#f9f7f6"/>
<circle cx="718.9" cy="242.5" r="6.9" fill="#b4d7e8"/>
<circle cx="1031.4" cy="332.8" r="6.9" fill="#a7cfe3"/>
<circle cx="603.3" cy="683.9" r="6.9" fill="#cae2ee"/>
<circle cx="690.0" cy="460.2" r="6.9" fill="#6595c5"/>
<circle cx="848.5" cy="713.9" r="6.9" fill="#6c9fca"/>
<circle cx="556.7" cy="824.0" r="6.9" fill="#e0edf4"/>
<circle cx="804.4" cy="261.7" r="6.9" fill="#7ab1d4"/>
<circle cx="628.6" cy="1080.8" r="6.9" fill="#c8e1ee"/>
<circle cx="377.7" cy="448.3" r="6.9" fill="#f0f5f7"/>
<circle cx="671.9" cy="1065.5" r="6.9" fill="#b2d6e7"/>
<circle cx="973.9" cy="419.0" r="6.9" fill="#87bbd9"/>
<circle cx="477.2" cy="265.8" r="6.9" fill="#83b8d8"/>
<circle cx="1063.8" cy="362.4" r="6.9" fill="#9cc8e0"/>
<circle cx="405.0" cy="855.1" r="6.9" fill="#9fcae1"/>
<circle cx="981.1" cy="325.4" r="6.9" fill="#a7cfe3"/>
<circle cx="560.4" cy="952.0" r="6.9" fill="#e5eff5"/>
<circle cx="506.1" cy="934.9" r="6.9" fill="#f1f5f8"/>
<circle cx="473.8" cy="928.6" r="6.9" fill="#6fa3cc"/>
<circle cx="491.9" cy="973.6" r="6.9" fill="#d4e7f1"/>
<circle cx="587.9" cy="965.0" r="6.9" fill="#e2eef5"/>
<circle cx="344.3" cy="262.0" r="6.9" fill="#a4cde2"/>
<circle cx="663.5" cy="864.7" r="6.9" fill="#f8f9f9"/>
<circle cx="592.1" cy="878.6" r="6.9" fill="#dfecf4"/>
<circle cx="906.4" cy="895.9" r="6.9" fill="#b4d7e8"/>
<circle cx="493.9" cy="925.2" r="6.9" fill="#acd2e5"/>
<circle cx="522.9" cy="1029.9" r="6.9" fill="#f8f9f9"/>
<circle cx="703.2" cy="449.2" r="6.9" fill="#a5cee3"/>
<circle cx="606.8" cy="410.6" r="6.9" fill="#e3eef5"/>
<circle cx="676.5" cy="308.8" r="6.9" fill="#b1d5e7"/>
<circle cx="560.3" cy="411.1" r="6.9" fill="#f9f9f9"/>
<circle cx="526.7" cy="241.5" r="6.9" fill="#97c5de"/>
<circle cx="799.9" cy="334.2" r="6.9" fill="#9cc8e0"/>
<circle cx="954.9" cy="873.1" r="6.9" fill="#d5e7f1"/>
<circle cx="889.6" cy="810.2" r="6.9" fill="#a4cde2"/>
<circle cx="550.6" cy="249.9" r="6.9" fill="#82b8d7"/>
<circle cx="549.8" cy="281.1" r="6.9" fill="#a0cae1"/>
<circle cx="454.3" cy="269.8" r="6.9" fill="#bfddeb"/>
<circle cx="583.9" cy="756.7" r="6.9" fill="#fcddcd"/>
<circle cx="876.7" cy="940.2" r="6.9" fill="#f7f8f9"/>
<circle cx="397.2" cy="723.6" r="6.9" fill="#86bad9"/>
<circle cx="367.5" cy="932.5" r="6.9" fill="#fad2bf"/>
<circle cx="367.0" cy="335.1" r="6.9" fill="#faf2ed"/>
<circle cx="853.7" cy="425.7" r="6.9" fill="#85b9d8"/>
<circle cx="401.6" cy="861.9" r="6.9" fill="#8ebfdb"/>
<circle cx="578.5" cy="981.6" r="6.9" fill="#bbdaea"/>
<circle cx="395.7" cy="497.3" r="6.9" fill="#dbeaf3"/>
<circle cx="406.6" cy="761.1" r="6.9" fill="#b2d6e7"/>
<circle cx="760.0" cy="515.0" r="6.9" fill="#6393c4"/>
<circle cx="354.6" cy="499.0" r="6.9" fill="#fbf0ea"/>
<circle cx="805.2" cy="802.1" r="6.9" fill="#b6d8e8"/>
<circle cx="614.9" cy="856.3" r="6.9" fill="#f2f6f8"/>
<circle cx="632.5" cy="917.4" r="6.9" fill="#f1f5f8"/>
<circle cx="669.9" cy="1050.0" r="6.9" fill="#deecf4"/>
<circle cx="407.1" cy="417.4" r="6.9" fill="#8ebfdb"/>
<circle cx="762.5" cy="497.4" r="6.9" fill="#6fa3cc"/>
<circle cx="693.4" cy="1076.3" r="6.9" fill="#abd2e5"/>
<circle cx="453.4" cy="795.7" r="6.9" fill="#badae9"/>
<circle cx="334.4" cy="791.3" r="6.9" fill="#537498"/>
<circle cx="670.6" cy="347.0" r="6.9" fill="#d1e5f0"/>
<circle cx="334.2" cy="417.1" r="6.9" fill="#d8e9f2"/>
<circle cx="603.2" cy="230.4" r="6.9" fill="#8fbfdb"/>
<circle cx="727.1" cy="846.7" r="6.9" fill="#edf3f7"/>
<circle cx="873.9" cy="826.8" r="6.9" fill="#cfe5f0"/>
<circle cx="621.0" cy="496.5" r="6.9" fill="#badae9"/>
<circle cx="857.4" cy="560.9" r="6.9" fill="#e1edf5"/>
<circle cx="700.8" cy="262.0" r="6.9" fill="#dbebf3"/>
<circle cx="603.2" cy="748.8" r="6.9" fill="#fde3d4"/>
<circle cx="407.2" cy="323.9" r="6.9" fill="#bddcea"/>
<circle cx="456.8" cy="315.9" r="6.9" fill="#a5cde3"/>
<circle cx="379.4" cy="419.2" r="6.9" fill="#bbdbea"/>
<circle cx="803.9" cy="412.1" r="6.9" fill="#87bbd9"/>
<circle cx="979.4" cy="296.3" r="6.9" fill="#c8e1ee"/>
<circle cx="413.6" cy="325.9" r="6.9" fill="#b2d6e7"/>
<circle cx="383.6" cy="425.4" r="6.9" fill="#c8e1ed"/>
<circle cx="749.7" cy="644.7" r="6.9" fill="#f9f9f9"/>
<circle cx="939.9" cy="800.5" r="6.9" fill="#d2e6f1"/>
<circle cx="548.2" cy="372.1" r="6.9" fill="#abd2e5"/>
<circle cx="585.4" cy="889.2" r="6.9" fill="#e8f1f6"/>
<circle cx="792.6" cy="419.5" r="6.9" fill="#89bcda"/>
<circle cx="571.6" cy="927.5" r="6.9" fill="#f9f9f8"/>
<circle cx="403.5" cy="265.7" r="6.9" fill="#a6cee3"/>
<circle cx="617.9" cy="1068.5" r="6.9" fill="#bbdbea"/>
<circle cx="916.7" cy="778.2" r="6.9" fill="#dcebf3"/>
<circle cx="1006.8" cy="458.0" r="6.9" fill="#7db4d6"/>
<circle cx="530.4" cy="309.4" r="6.9" fill="#d6e8f2"/>
<circle cx="835.5" cy="424.9" r="6.9" fill="#bddbea"/>
<circle cx="930.0" cy="367.3" r="6.9" fill="#7fb5d6"/>
<circle cx="711.4" cy="744.5" r="6.9" fill="#cee4ef"/>
<circle cx="309.9" cy="552.5" r="6.9" fill="#faf3f0"/>
<circle cx="387.0" cy="261.0" r="6.9" fill="#95c3dd"/>
<circle cx="519.7" cy="491.5" r="6.9" fill="#b6d8e8"/>
<circle cx="650.0" cy="362.0" r="6.9" fill="#c8e1ee"/>
<circle cx="995.3" cy="414.0" r="6.9" fill="#a6cee3"/>
<circle cx="517.7" cy="550.6" r="6.9" fill="#d1e5f0"/>
<circle cx="831.5" cy="777.5" r="6.9" fill="#b6d8e8"/>
<circle cx="291.9" cy="394.1" r="6.9" fill="#a6cee3"/>
<circle cx="532.4" cy="746.5" r="6.9" fill="#8abdda"/>
<circle cx="815.8" cy="880.2" r="6.9" fill="#bedcea"/>
<circle cx="911.4" cy="669.7" r="6.9" fill="#c8e1ee"/>
<circle cx="654.2" cy="1002.6" r="6.9" fill="#e3eff5"/>
<circle cx="562.5" cy="538.8" r="6.9" fill="#cfe5f0"/>
<circle cx="738.8" cy="917.6" r="6.9" fill="#a9d0e4"/>
<circle cx="654.2" cy="301.4" r="6.9" fill="#b6d8e8"/>
<circle cx="337.9" cy="444.5" r="6.9" fill="#f0f4f7"/>
<circle cx="787.9" cy="301.1" r="6.9" fill="#86bad9"/>
<circle cx="474.1" cy="285.1" r="6.9" fill="#aed3e6"/>
<circle cx="768.0" cy="771.8" r="6.9" fill="#bbdbea"/>
<circle cx="863.5" cy="544.5" r="6.9" fill="#ddecf4"/>
<circle cx="662.1" cy="957.9" r="6.9" fill="#ebf2f6"/>
<circle cx="708.9" cy="378.1" r="6.9" fill="#9dc9e0"/>
<circle cx="497.7" cy="327.6" r="6.9" fill="#b5d8e8"/>
<circle cx="1027.9" cy="484.2" r="6.9" fill="#79b1d4"/>
<circle cx="614.0" cy="966.9" r="6.9" fill="#f5f7f8"/>
<circle cx="313.7" cy="464.4" r="6.9" fill="#dcebf3"/>
<circle cx="620.9" cy="233.8" r="6.9" fill="#89bcda"/>
<circle cx="530.1" cy="956.9" r="6.9" fill="#e6f0f6"/>
<circle cx="410.0" cy="273.4" r="6.9" fill="#7ab1d4"/>
<circle cx="680.8" cy="958.9" r="6.9" fill="#b5d8e8"/>
<circle cx="1032.6" cy="444.3" r="6.9" fill="#85b9d8"/>
<circle cx="353.8" cy="574.8" r="6.9" fill="#bfddeb"/>
<circle cx="608.5" cy="567.6" r="6.9" fill="#e4eff5"/>
<circle cx="728.1" cy="1035.1" r="6.9" fill="#cde3ef"/>
<circle cx="880.6" cy="785.5" r="6.9" fill="#98c6df"/>
<circle cx="606.0" cy="483.1" r="6.9" fill="#f0f5f7"/>
<circle cx="394.8" cy="581.8" r="6.9" fill="#93c2dd"/>
<circle cx="776.3" cy="731.1" r="6.9" fill="#b2d6e7"/>
<circle cx="688.4" cy="367.0" r="6.9" fill="#99c6df"/>
<circle cx="705.2" cy="784.3" r="6.9" fill="#edf3f7"/>
<circle cx="296.0" cy="904.0" r="6.9" fill="#f9ceba"/>
<circle cx="992.7" cy="871.9" r="6.9" fill="#d8e9f2"/>
<circle cx="627.3" cy="488.1" r="6.9" fill="#c2deec"/>
<circle cx="327.6" cy="250.7" r="6.9" fill="#7bb3d5"/>
<circle cx="364.5" cy="849.8" r="6.9" fill="#5d88b5"/>
<circle cx="1006.0" cy="300.5" r="6.9" fill="#deecf4"/>
<circle cx="395.1" cy="512.0" r="6.9" fill="#fbede5"/>
<circle cx="551.9" cy="911.6" r="6.9" fill="#dcebf3"/>
<circle cx="812.2" cy="419.3" r="6.9" fill="#7ab2d4"/>
<circle cx="391.7" cy="273.7" r="6.9" fill="#98c5de"/>
<circle cx="545.0" cy="892.9" r="6.9" fill="#f9f7f6"/>
<circle cx="816.5" cy="725.7" r="6.9" fill="#bbdbea"/>
<circle cx="418.3" cy="241.8" r="6.9" fill="#98c6df"/>
<circle cx="416.5" cy="466.0" r="6.9" fill="#a5cee3"/>
<circle cx="671.1" cy="208.9" r="6.9" fill="#78b0d3"/>
<circle cx="705.4" cy="295.5" r="6.9" fill="#8fc0dc"/>
<circle cx="527.0" cy="860.0" r="6.9" fill="#6fa3cc"/>
<circle cx="275.6" cy="296.0" r="6.9" fill="#76add2"/>
<circle cx="697.1" cy="893.4" r="6.9" fill="#b9d9e9"/>
<circle cx="628.4" cy="771.7" r="6.9" fill="#faf2ed"/>
<circle cx="959.2" cy="317.9" r="6.9" fill="#73a9d0"/>
<circle cx="646.4" cy="292.7" r="6.9" fill="#a4cde3"/>
<circle cx="871.8" cy="577.0" r="6.9" fill="#badae9"/>
<circle cx="812.6" cy="915.9" r="6.9" fill="#d0e5f0"/>
<circle cx="603.7" cy="826.4" r="6.9" fill="#faf5f2"/>
<circle cx="844.0" cy="925.5" r="6.9" fill="#f2f5f8"/>
<circle cx="468.1" cy="324.2" r="6.9" fill="#d9e9f2"/>
<circle cx="348.6" cy="271.1" r="6.9" fill="#aed3e6"/>
<circle cx="900.2" cy="838.4" r="6.9" fill="#a1cbe1"/>
<circle cx="647.8" cy="219.0" r="6.9" fill="#70a5ce"/>
<circle cx="690.9" cy="1049.5" r="6.9" fill="#d6e8f2"/>
<circle cx="652.0" cy="1018.6" r="6.9" fill="#bfdceb"/>
<circle cx="873.7" cy="950.4" r="6.9" fill="#e9f1f6"/>
<circle cx="771.0" cy="467.8" r="6.9" fill="#6fa3cc"/>
<circle cx="712.1" cy="488.8" r="6.9" fill="#faf6f5"/>
<circle cx="531.6" cy="231.4" r="6.9" fill="#74aad0"/>
<circle cx="746.1" cy="733.5" r="6.9" fill="#c4dfec"/>
<circle cx="993.5" cy="830.1" r="6.9" fill="#8ebfdb"/>
<circle cx="671.0" cy="367.5" r="6.9" fill="#fde5d7"/>
<circle cx="743.9" cy="865.0" r="6.9" fill="#e2eef5"/>
<circle cx="629.9" cy="778.9" r="6.9" fill="#faf2ee"/>
<circle cx="326.9" cy="574.1" r="6.9" fill="#e5f0f5"/>
<circle cx="486.6" cy="249.8" r="6.9" fill="#96c4de"/>
<circle cx="1033.5" cy="795.6" r="6.9" fill="#5a81aa"/>
<circle cx="313.8" cy="437.3" r="6.9" fill="#93c2dd"/>
<circle cx="663.2" cy="990.8" r="6.9" fill="#deecf4"/>
<circle cx="603.0" cy="760.5" r="6.9" fill="#fbefe8"/>
<circle cx="685.2" cy="373.8" r="6.9" fill="#b7d8e8"/>
<circle cx="839.0" cy="573.0" r="6.9" fill="#98c5de"/>
<circle cx="477.0" cy="762.0" r="6.9" fill="#deecf4"/>
<circle cx="574.1" cy="817.4" r="6.9" fill="#f9f8f8"/>
<circle cx="865.8" cy="561.2" r="6.9" fill="#eef4f7"/>
<circle cx="974.4" cy="841.1" r="6.9" fill="#9dc9e0"/>
<circle cx="916.1" cy="693.4" r="6.9" fill="#99c6df"/>
<circle cx="586.4" cy="761.7" r="6.9" fill="#fde4d5"/>
<circle cx="681.1" cy="970.8" r="6.9" fill="#b0d5e6"/>
<circle cx="760.6" cy="664.4" r="6.9" fill="#6fa3cc"/>
<circle cx="727.8" cy="911.1" r="6.9" fill="#b3d6e7"/>
<circle cx="494.3" cy="372.9" r="6.9" fill="#7cb3d5"/>
<circle cx="458.3" cy="402.6" r="6.9" fill="#d0e5f0"/>
<circle cx="711.7" cy="312.5" r="6.9" fill="#79b0d3"/>
<circle cx="641.2" cy="219.1" r="6.9" fill="#7ab1d4"/>
<circle cx="884.0" cy="608.9" r="6.9" fill="#faf3ee"/>
<circle cx="674.0" cy="849.4" r="6.9" fill="#dbeaf3"/>
<circle cx="476.0" cy="335.4" r="6.9" fill="#b9d9e9"/>
<circle cx="699.1" cy="227.1" r="6.9" fill="#88bbd9"/>
<circle cx="1093.7" cy="476.2" r="6.9" fill="#badae9"/>
<circle cx="381.6" cy="365.6" r="6.9" fill="#cde4ef"/>
<circle cx="855.1" cy="358.6" r="6.9" fill="#a9d0e4"/>
<circle cx="484.5" cy="263.6" r="6.9" fill="#7ab2d4"/>
<circle cx="448.1" cy="731.6" r="6.9" fill="#b2d6e7"/>
<circle cx="786.2" cy="787.2" r="6.9" fill="#9ec9e0"/>
<circle cx="930.5" cy="670.0" r="6.9" fill="#97c5de"/>
<circle cx="615.0" cy="764.6" r="6.9" fill="#fbd7c5"/>
<circle cx="525.2" cy="912.6" r="6.9" fill="#e3eff5"/>
<circle cx="954.5" cy="838.6" r="6.9" fill="#a0cbe1"/>
<circle cx="567.0" cy="467.6" r="6.9" fill="#faf6f3"/>
<circle cx="960.8" cy="786.6" r="6.9" fill="#b9dae9"/>
<circle cx="332.6" cy="388.8" r="6.9" fill="#6b9dca"/>
<circle cx="336.8" cy="507.0" r="6.9" fill="#ebf2f6"/>
<circle cx="460.4" cy="263.0" r="6.9" fill="#98c6df"/>
<circle cx="741.0" cy="685.2" r="6.9" fill="#7bb3d5"/>
<circle cx="459.5" cy="358.5" r="6.9" fill="#81b7d7"/>
<circle cx="322.9" cy="480.0" r="6.9" fill="#deecf4"/>
<circle cx="773.5" cy="826.7" r="6.9" fill="#bfdceb"/>
<circle cx="993.3" cy="436.7" r="6.9" fill="#6b9dca"/>
<circle cx="810.4" cy="932.9" r="6.9" fill="#deecf4"/>
<circle cx="1029.0" cy="490.6" r="6.9" fill="#85bad8"/>
<circle cx="889.9" cy="504.2" r="6.9" fill="#facfbb"/>
<circle cx="774.9" cy="310.5" r="6.9" fill="#6b9eca"/>
<circle cx="620.8" cy="557.1" r="6.9" fill="#e9f1f6"/>
<circle cx="640.4" cy="514.3" r="6.9" fill="#a3cde2"/>
<circle cx="865.1" cy="810.6" r="6.9" fill="#8fc0dc"/>
<circle cx="1041.3" cy="474.2" r="6.9" fill="#7bb2d5"/>
<circle cx="283.0" cy="331.3" r="6.9" fill="#a1cbe1"/>
<circle cx="876.5" cy="435.5" r="6.9" fill="#74aad0"/>
<circle cx="993.1" cy="850.1" r="6.9" fill="#daeaf3"/>
<circle cx="573.3" cy="1068.8" r="6.9" fill="#f4f7f8"/>
<circle cx="849.2" cy="918.4" r="6.9" fill="#f5f7f8"/>
<circle cx="848.7" cy="545.7" r="6.9" fill="#afd4e6"/>
<circle cx="310.8" cy="286.8" r="6.9" fill="#b3d6e7"/>
<circle cx="713.5" cy="325.8" r="6.9" fill="#6b9dc9"/>
<circle cx="767.4" cy="792.8" r="6.9" fill="#e7f1f6"/>
<circle cx="936.1" cy="869.5" r="6.9" fill="#d3e6f1"/>
<circle cx="560.4" cy="764.6" r="6.9" fill="#dfecf4"/>
<circle cx="505.9" cy="760.5" r="6.9" fill="#b2d6e7"/>
<circle cx="360.8" cy="436.8" r="6.9" fill="#94c3dd"/>
<circle cx="630.2" cy="296.3" r="6.9" fill="#98c6df"/>
<circle cx="407.9" cy="357.8" r="6.9" fill="#7bb3d5"/>
<circle cx="583.6" cy="1021.9" r="6.9" fill="#d4e7f1"/>
<circle cx="701.1" cy="1028.3" r="6.9" fill="#cce3ef"/>
<circle cx="688.8" cy="395.2" r="6.9" fill="#6a9dc9"/>
<circle cx="407.0" cy="294.0" r="6.9" fill="#cfe4ef"/>
<circle cx="349.0" cy="474.0" r="6.9" fill="#faf2ed"/>
<circle cx="520.2" cy="896.2" r="6.9" fill="#f2f6f8"/>
<circle cx="762.5" cy="532.5" r="6.9" fill="#6393c4"/>
<circle cx="346.0" cy="535.5" r="6.9" fill="#c9e2ee"/>
<circle cx="534.6" cy="973.4" r="6.9" fill="#edf3f7"/>
<circle cx="446.0" cy="394.6" r="6.9" fill="#8ebfdb"/>
<circle cx="752.8" cy="738.5" r="6.9" fill="#7bb3d5"/>
<circle cx="870.8" cy="911.0" r="6.9" fill="#a8cfe4"/>
<circle cx="686.8" cy="748.9" r="6.9" fill="#faf2ee"/>
<circle cx="745.6" cy="351.0" r="6.9" fill="#b2d6e7"/>
<circle cx="536.2" cy="850.5" r="6.9" fill="#d3e6f1"/>
<circle cx="822.4" cy="970.8" r="6.9" fill="#d1e6f0"/>
<circle cx="721.3" cy="904.7" r="6.9" fill="#daeaf3"/>
<circle cx="651.5" cy="483.4" r="6.9" fill="#dfedf4"/>
<circle cx="336.5" cy="453.1" r="6.9" fill="#d0e5f0"/>
<circle cx="665.4" cy="764.7" r="6.9" fill="#faf2ed"/>
<circle cx="935.2" cy="325.0" r="6.9" fill="#6ea2cc"/>
<circle cx="943.6" cy="662.2" r="6.9" fill="#8ebfdb"/>
<circle cx="906.7" cy="292.0" r="6.9" fill="#85bad8"/>
<circle cx="624.1" cy="760.0" r="6.9" fill="#f2b39e"/>
<circle cx="409.9" cy="865.1" r="6.9" fill="#92c2dc"/>
<circle cx="857.1" cy="884.7" r="6.9" fill="#9bc7df"/>
<circle cx="494.8" cy="412.8" r="6.9" fill="#f9f9f9"/>
<circle cx="1005.0" cy="272.0" r="6.9" fill="#ecf2f6"/>
<circle cx="364.8" cy="425.6" r="6.9" fill="#c6e0ed"/>
<circle cx="926.6" cy="421.1" r="6.9" fill="#9dc8e0"/>
<circle cx="719.1" cy="744.6" r="6.9" fill="#ebf2f6"/>
<circle cx="686.9" cy="1012.1" r="6.9" fill="#c2deec"/>
<circle cx="779.0" cy="756.8" r="6.9" fill="#b4d7e8"/>
<circle cx="689.6" cy="1036.4" r="6.9" fill="#c6e0ed"/>
<circle cx="948.4" cy="289.2" r="6.9" fill="#b2d6e7"/>
<circle cx="835.4" cy="301.4" r="6.9" fill="#a7cfe3"/>
<circle cx="473.2" cy="255.5" r="6.9" fill="#8bbdda"/>
<circle cx="414.5" cy="541.6" r="6.9" fill="#91c1dc"/>
<circle cx="934.9" cy="419.4" r="6.9" fill="#95c4de"/>
<circle cx="790.0" cy="347.8" r="6.9" fill="#76acd1"/>
<circle cx="512.2" cy="769.8" r="6.9" fill="#6fa3cc"/>
<circle cx="829.8" cy="749.1" r="6.9" fill="#cae2ee"/>
<circle cx="657.8" cy="1045.0" r="6.9" fill="#e7f1f6"/>
<circle cx="918.3" cy="621.8" r="6.9" fill="#90c1dc"/>
<circle cx="615.1" cy="708.8" r="6.9" fill="#bddcea"/>
<circle cx="363.6" cy="761.9" r="6.9" fill="#a7cfe3"/>
<circle cx="733.3" cy="881.2" r="6.9" fill="#dcebf3"/>
<circle cx="741.7" cy="722.5" r="6.9" fill="#cce3ef"/>
<circle cx="866.9" cy="355.3" r="6.9" fill="#9ec9e1"/>
<circle cx="548.0" cy="561.5" r="6.9" fill="#d7e9f2"/>
<circle cx="1042.0" cy="278.0" r="6.9" fill="#e9f1f6"/>
<circle cx="678.8" cy="655.6" r="6.9" fill="#f9f9f9"/>
<circle cx="391.1" cy="255.8" r="6.9" fill="#a7cfe3"/>
<circle cx="460.0" cy="341.6" r="6.9" fill="#97c5de"/>
<circle cx="572.6" cy="971.5" r="6.9" fill="#f6f8f9"/>
<circle cx="789.2" cy="752.5" r="6.9" fill="#7bb3d5"/>
<circle cx="641.4" cy="996.4" r="6.9" fill="#dfedf4"/>
<circle cx="783.4" cy="793.4" r="6.9" fill="#d3e6f1"/>
<circle cx="587.1" cy="854.9" r="6.9" fill="#ddecf4"/>
<circle cx="908.7" cy="793.1" r="6.9" fill="#b5d7e8"/>
<circle cx="735.7" cy="1006.3" r="6.9" fill="#cae2ee"/>
<circle cx="239.0" cy="337.2" r="6.9" fill="#a2cce2"/>
<circle cx="878.4" cy="583.2" r="6.9" fill="#deecf4"/>
<circle cx="755.7" cy="263.9" r="6.9" fill="#7fb5d6"/>
<circle cx="302.0" cy="300.7" r="6.9" fill="#c0ddeb"/>
<circle cx="652.5" cy="237.6" r="6.9" fill="#71a5ce"/>
<circle cx="352.5" cy="357.2" r="6.9" fill="#a4cde3"/>
<circle cx="963.4" cy="873.1" r="6.9" fill="#9ec9e1"/>
<circle cx="333.6" cy="373.9" r="6.9" fill="#c0ddeb"/>
<circle cx="942.0" cy="846.4" r="6.9" fill="#b8d9e9"/>
<circle cx="746.4" cy="657.8" r="6.9" fill="#5f8cba"/>
<circle cx="907.8" cy="419.1" r="6.9" fill="#70a4cd"/>
<circle cx="355.0" cy="748.0" r="6.9" fill="#91c1dc"/>
<circle cx="784.3" cy="857.0" r="6.9" fill="#d2e6f0"/>
<circle cx="700.8" cy="862.7" r="6.9" fill="#bfddeb"/>
<circle cx="574.5" cy="561.7" r="6.9" fill="#96c4de"/>
<circle cx="546.8" cy="506.9" r="6.9" fill="#9fcae1"/>
<circle cx="689.6" cy="722.4" r="6.9" fill="#d1e5f0"/>
<circle cx="287.3" cy="507.0" r="6.9" fill="#d2e6f0"/>
<circle cx="390.1" cy="327.5" r="6.9" fill="#c1deeb"/>
<circle cx="398.8" cy="545.3" r="6.9" fill="#8abdda"/>
<circle cx="606.6" cy="1005.9" r="6.9" fill="#abd1e5"/>
<circle cx="849.3" cy="497.2" r="6.9" fill="#89bcda"/>
<circle cx="502.8" cy="901.2" r="6.9" fill="#ecf3f7"/>
<circle cx="302.5" cy="332.2" r="6.9" fill="#8bbdda"/>
<circle cx="641.9" cy="863.1" r="6.9" fill="#cfe4ef"/>
<circle cx="709.6" cy="754.5" r="6.9" fill="#e3eef5"/>
<circle cx="610.9" cy="295.9" r="6.9" fill="#bcdbea"/>
<circle cx="532.6" cy="778.1" r="6.9" fill="#a6cee3"/>
<circle cx="606.3" cy="900.4" r="6.9" fill="#ecf3f7"/>
<circle cx="638.8" cy="279.3" r="6.9" fill="#9fcae1"/>
<circle cx="912.0" cy="326.0" r="6.9" fill="#88bbd9"/>
<circle cx="779.4" cy="507.2" r="6.9" fill="#6fa3cc"/>
<circle cx="912.9" cy="816.5" r="6.9" fill="#d4e7f1"/>
<circle cx="986.3" cy="413.5" r="6.9" fill="#88bbd9"/>
<circle cx="419.0" cy="382.0" r="6.9" fill="#75abd1"/>
<circle cx="720.0" cy="792.8" r="6.9" fill="#f9f7f5"/>
<circle cx="853.8" cy="520.8" r="6.9" fill="#fcece2"/>
<circle cx="615.9" cy="941.5" r="6.9" fill="#faf3ef"/>
<circle cx="347.5" cy="580.6" r="6.9" fill="#e3eef5"/>
<circle cx="860.9" cy="923.9" r="6.9" fill="#edf3f7"/>
<circle cx="861.1" cy="567.0" r="6.9" fill="#e2eef5"/>
<circle cx="580.9" cy="896.1" r="6.9" fill="#edf3f7"/>
<circle cx="711.1" cy="873.6" r="6.9" fill="#b5d8e8"/>
<circle cx="866.4" cy="838.2" r="6.9" fill="#b5d8e8"/>
<circle cx="923.8" cy="303.9" r="6.9" fill="#74a9d0"/>
<circle cx="862.9" cy="707.7" r="6.9" fill="#5d88b4"/>
<circle cx="529.1" cy="444.8" r="6.9" fill="#cee4ef"/>
<circle cx="718.2" cy="226.7" r="6.9" fill="#78afd3"/>
<circle cx="308.8" cy="295.7" r="6.9" fill="#9ac7df"/>
<circle cx="746.3" cy="296.3" r="6.9" fill="#9ac6df"/>
<circle cx="712.3" cy="208.0" r="6.9" fill="#75abd1"/>
<circle cx="850.2" cy="908.6" r="6.9" fill="#cbe3ee"/>
<circle cx="431.7" cy="370.5" r="6.9" fill="#a5cee3"/>
<circle cx="543.4" cy="456.0" r="6.9" fill="#eff4f7"/>
<circle cx="591.4" cy="818.6" r="6.9" fill="#faf5f3"/>
<circle cx="1062.0" cy="340.0" r="6.9" fill="#96c4de"/>
<circle cx="638.6" cy="716.7" r="6.9" fill="#f7f8f9"/>
<circle cx="1073.7" cy="499.8" r="6.9" fill="#9cc8e0"/>
<circle cx="644.3" cy="240.9" r="6.9" fill="#78aed3"/>
<circle cx="610.1" cy="1020.4" r="6.9" fill="#9cc8e0"/>
<circle cx="913.8" cy="536.4" r="6.9" fill="#d3e7f1"/>
<circle cx="908.0" cy="394.7" r="6.9" fill="#6fa4cd"/>
<circle cx="789.3" cy="993.1" r="6.9" fill="#b6d8e8"/>
<circle cx="845.7" cy="326.7" r="6.9" fill="#92c2dd"/>
<circle cx="822.3" cy="886.7" r="6.9" fill="#b7d8e8"/>
<circle cx="1020.9" cy="783.7" r="6.9" fill="#6799c7"/>
<circle cx="491.8" cy="333.8" r="6.9" fill="#98c6df"/>
<circle cx="889.3" cy="643.1" r="6.9" fill="#9ec9e1"/>
<circle cx="384.9" cy="253.5" r="6.9" fill="#b5d7e8"/>
<circle cx="408.9" cy="800.8" r="6.9" fill="#89bcda"/>
<circle cx="364.7" cy="305.1" r="6.9" fill="#c7e0ed"/>
<circle cx="559.1" cy="888.5" r="6.9" fill="#f9f7f6"/>
<circle cx="760.7" cy="772.7" r="6.9" fill="#afd4e6"/>
<circle cx="561.4" cy="209.0" r="6.9" fill="#92c2dc"/>
<circle cx="225.0" cy="339.0" r="6.9" fill="#9cc8e0"/>
<circle cx="945.8" cy="635.6" r="6.9" fill="#9ac7df"/>
<circle cx="613.0" cy="901.4" r="6.9" fill="#cee4ef"/>
<circle cx="410.3" cy="256.4" r="6.9" fill="#9fcae1"/>
<circle cx="739.2" cy="777.2" r="6.9" fill="#d8e9f2"/>
<circle cx="763.4" cy="816.5" r="6.9" fill="#d0e5f0"/>
<circle cx="354.3" cy="449.8" r="6.9" fill="#b6d8e8"/>
<circle cx="768.3" cy="633.8" r="6.9" fill="#5a80aa"/>
<circle cx="626.0" cy="848.1" r="6.9" fill="#f8f8f9"/>
<circle cx="708.0" cy="710.1" r="6.9" fill="#f5f7f8"/>
<circle cx="779.5" cy="802.3" r="6.9" fill="#d9e9f3"/>
<circle cx="531.1" cy="215.4" r="6.9" fill="#72a7cf"/>
<circle cx="749.0" cy="246.5" r="6.9" fill="#a5cee3"/>
<circle cx="678.5" cy="1034.8" r="6.9" fill="#daeaf3"/>
<circle cx="556.8" cy="218.1" r="6.9" fill="#71a5ce"/>
<circle cx="398.3" cy="433.2" r="6.9" fill="#bedceb"/>
<circle cx="512.5" cy="514.1" r="6.9" fill="#87bbd9"/>
<circle cx="520.0" cy="940.0" r="6.9" fill="#e3eef5"/>
<circle cx="718.5" cy="861.8" r="6.9" fill="#c3deec"/>
<circle cx="555.0" cy="195.0" r="6.9" fill="#86bad9"/>
<circle cx="615.6" cy="299.9" r="6.9" fill="#a1cbe1"/>
<circle cx="865.1" cy="825.9" r="6.9" fill="#e0edf4"/>
<circle cx="356.4" cy="257.0" r="6.9" fill="#9ac6df"/>
<circle cx="687.0" cy="481.6" r="6.9" fill="#6fa3cd"/>
<circle cx="530.9" cy="512.6" r="6.9" fill="#7ab1d4"/>
<circle cx="555.8" cy="240.8" r="6.9" fill="#c6e0ed"/>
<circle cx="927.9" cy="636.8" r="6.9" fill="#abd2e5"/>
<circle cx="700.6" cy="877.4" r="6.9" fill="#c6e0ed"/>
<circle cx="358.5" cy="286.9" r="6.9" fill="#9dc9e0"/>
<circle cx="363.9" cy="443.5" r="6.9" fill="#e4eff5"/>
<circle cx="746.5" cy="884.8" r="6.9" fill="#dcebf4"/>
<circle cx="918.0" cy="842.2" r="6.9" fill="#8ebfdb"/>
<circle cx="667.5" cy="1012.8" r="6.9" fill="#94c3dd"/>
<circle cx="363.0" cy="419.9" r="6.9" fill="#e5eff5"/>
<circle cx="673.5" cy="830.5" r="6.9" fill="#f8f9f9"/>
<circle cx="728.1" cy="233.8" r="6.9" fill="#6ea2cc"/>
<circle cx="532.5" cy="196.0" r="6.9" fill="#8cbeda"/>
<circle cx="529.0" cy="549.5" r="6.9" fill="#deecf4"/>
<circle cx="546.7" cy="770.1" r="6.9" fill="#f1f5f7"/>
<circle cx="673.2" cy="301.1" r="6.9" fill="#99c6df"/>
<circle cx="841.8" cy="863.4" r="6.9" fill="#8ebfdb"/>
<circle cx="502.7" cy="265.3" r="6.9" fill="#81b7d7"/>
<circle cx="434.1" cy="404.5" r="6.9" fill="#74aad0"/>
<circle cx="538.9" cy="888.9" r="6.9" fill="#e8f1f6"/>
<circle cx="666.6" cy="480.8" r="6.9" fill="#6291c2"/>
<circle cx="332.5" cy="924.4" r="6.9" fill="#fde5d7"/>
<circle cx="754.6" cy="888.0" r="6.9" fill="#e6f0f5"/>
<circle cx="304.7" cy="475.8" r="6.9" fill="#c6e0ed"/>
<circle cx="509.9" cy="785.5" r="6.9" fill="#55789f"/>
<circle cx="949.6" cy="381.1" r="6.9" fill="#597fa7"/>
<circle cx="782.8" cy="713.2" r="6.9" fill="#bbdaea"/>
<circle cx="1133.5" cy="486.7" r="6.9" fill="#6291c1"/>
<circle cx="664.8" cy="908.9" r="6.9" fill="#e9f1f6"/>
<circle cx="750.5" cy="809.7" r="6.9" fill="#dbeaf3"/>
<circle cx="920.5" cy="698.6" r="6.9" fill="#9dc8e0"/>
<circle cx="644.8" cy="441.0" r="6.9" fill="#e3eef5"/>
<circle cx="597.0" cy="846.6" r="6.9" fill="#f9f8f8"/>
<circle cx="714.5" cy="390.3" r="6.9" fill="#a3cce2"/>
<circle cx="841.6" cy="641.4" r="6.9" fill="#6393c4"/>
<circle cx="880.8" cy="881.5" r="6.9" fill="#bddcea"/>
<circle cx="537.6" cy="351.2" r="6.9" fill="#8fc0db"/>
<circle cx="445.6" cy="336.1" r="6.9" fill="#b6d8e8"/>
<circle cx="642.4" cy="747.8" r="6.9" fill="#f8c7b1"/>
<circle cx="862.3" cy="552.8" r="6.9" fill="#cfe4ef"/>
<circle cx="516.0" cy="295.0" r="6.9" fill="#a3cce2"/>
<circle cx="654.2" cy="896.1" r="6.9" fill="#b1d5e7"/>
<circle cx="583.7" cy="958.1" r="6.9" fill="#e3eef5"/>
<circle cx="1052.5" cy="452.8" r="6.9" fill="#92c2dd"/>
<circle cx="343.5" cy="481.7" r="6.9" fill="#dfecf4"/>
<circle cx="782.5" cy="608.6" r="6.9" fill="#fde5d7"/>
<circle cx="336.6" cy="405.1" r="6.9" fill="#9ac7df"/>
<circle cx="685.2" cy="418.5" r="6.9" fill="#6b9eca"/>
<circle cx="817.5" cy="966.5" r="6.9" fill="#cde3ef"/>
<circle cx="318.5" cy="476.5" r="6.9" fill="#f3f6f8"/>
<circle cx="862.7" cy="832.0" r="6.9" fill="#9fcae1"/>
<circle cx="674.0" cy="489.0" r="6.9" fill="#71a5ce"/>
<circle cx="614.7" cy="728.7" r="6.9" fill="#f6f7f8"/>
<circle cx="584.1" cy="311.2" r="6.9" fill="#c2deec"/>
<circle cx="449.7" cy="755.8" r="6.9" fill="#6393c4"/>
<circle cx="847.1" cy="341.3" r="6.9" fill="#70a4cd"/>
<circle cx="583.4" cy="565.3" r="6.9" fill="#b7d8e8"/>
<circle cx="457.3" cy="552.9" r="6.9" fill="#b9dae9"/>
<circle cx="903.3" cy="365.4" r="6.9" fill="#6a9dc9"/>
<circle cx="787.4" cy="910.3" r="6.9" fill="#add3e5"/>
<circle cx="881.0" cy="590.7" r="6.9" fill="#f4f7f8"/>
<circle cx="330.5" cy="817.5" r="6.9" fill="#79b0d3"/>
<circle cx="604.2" cy="887.9" r="6.9" fill="#a5cee3"/>
<circle cx="939.6" cy="912.3" r="6.9" fill="#c8e1ee"/>
<circle cx="625.0" cy="519.6" r="6.9" fill="#c6e0ed"/>
<circle cx="779.0" cy="317.8" r="6.9" fill="#72a6ce"/>
<circle cx="904.7" cy="612.7" r="6.9" fill="#e8f1f6"/>
<circle cx="723.1" cy="824.6" r="6.9" fill="#f6f8f8"/>
<circle cx="793.5" cy="733.3" r="6.9" fill="#a9d0e4"/>
<circle cx="679.8" cy="866.0" r="6.9" fill="#f9f7f6"/>
<circle cx="494.0" cy="226.0" r="6.9" fill="#89bcda"/>
<circle cx="979.8" cy="655.8" r="6.9" fill="#80b6d7"/>
<circle cx="677.0" cy="266.0" r="6.9" fill="#a6cee3"/>
<circle cx="819.8" cy="326.9" r="6.9" fill="#84b9d8"/>
<circle cx="935.8" cy="916.6" r="6.9" fill="#c8e1ee"/>
<circle cx="826.4" cy="771.2" r="6.9" fill="#d7e8f2"/>
<circle cx="376.1" cy="848.6" r="6.9" fill="#5d88b5"/>
<circle cx="555.1" cy="316.9" r="6.9" fill="#b7d8e8"/>
<circle cx="844.6" cy="350.8" r="6.9" fill="#b5d8e8"/>
<circle cx="597.2" cy="788.1" r="6.9" fill="#fbd6c4"/>
<circle cx="871.1" cy="272.9" r="6.9" fill="#8abdda"/>
<circle cx="334.6" cy="466.3" r="6.9" fill="#faf5f2"/>
<circle cx="664.8" cy="1022.1" r="6.9" fill="#d0e5f0"/>
<circle cx="447.3" cy="784.9" r="6.9" fill="#deecf4"/>
<circle cx="616.2" cy="753.8" r="6.9" fill="#fde3d5"/>
<circle cx="509.9" cy="912.8" r="6.9" fill="#cfe4ef"/>
<circle cx="827.4" cy="652.4" r="6.9" fill="#6393c4"/>
<circle cx="417.9" cy="831.6" r="6.9" fill="#b4d7e8"/>
<circle cx="679.4" cy="1019.4" r="6.9" fill="#b3d7e7"/>
<circle cx="669.2" cy="807.8" r="6.9" fill="#faf3ee"/>
<circle cx="484.0" cy="896.8" r="6.9" fill="#a4cde2"/>
<circle cx="413.8" cy="529.4" r="6.9" fill="#d8e9f2"/>
<circle cx="548.5" cy="294.3" r="6.9" fill="#c0ddeb"/>
<circle cx="727.7" cy="725.4" r="6.9" fill="#c7e0ed"/>
<circle cx="658.3" cy="483.3" r="6.9" fill="#bddcea"/>
<circle cx="347.3" cy="491.0" r="6.9" fill="#e7f0f6"/>
<circle cx="804.1" cy="887.1" r="6.9" fill="#cce3ef"/>
<circle cx="863.6" cy="526.3" r="6.9" fill="#fceadf"/>
<circle cx="393.6" cy="535.7" r="6.9" fill="#b3d6e7"/>
<circle cx="1017.4" cy="292.0" r="6.9" fill="#ecf2f6"/>
<circle cx="315.0" cy="912.5" r="6.9" fill="#fad2bf"/>
<circle cx="371.6" cy="246.7" r="6.9" fill="#8abcda"/>
<circle cx="354.7" cy="347.4" r="6.9" fill="#b6d8e8"/>
<circle cx="834.3" cy="831.2" r="6.9" fill="#eaf2f6"/>
<circle cx="1043.0" cy="451.2" r="6.9" fill="#77aed2"/>
<circle cx="636.7" cy="304.6" r="6.9" fill="#d9e9f2"/>
<circle cx="627.0" cy="863.4" r="6.9" fill="#afd4e6"/>
<circle cx="334.2" cy="513.5" r="6.9" fill="#e4eff5"/>
<circle cx="817.8" cy="818.7" r="6.9" fill="#d2e6f0"/>
<circle cx="777.4" cy="746.8" r="6.9" fill="#d2e6f0"/>
<circle cx="382.3" cy="800.0" r="6.9" fill="#77aed2"/>
<circle cx="732.5" cy="1028.1" r="6.9" fill="#c7e0ed"/>
<circle cx="391.5" cy="412.1" r="6.9" fill="#aed3e6"/>
<circle cx="447.9" cy="412.2" r="6.9" fill="#b8d9e9"/>
<circle cx="643.0" cy="302.6" r="6.9" fill="#e1eef5"/>
<circle cx="388.3" cy="591.1" r="6.9" fill="#83b8d8"/>
<circle cx="684.8" cy="839.0" r="6.9" fill="#d6e8f2"/>
<circle cx="668.2" cy="998.4" r="6.9" fill="#cfe4ef"/>
<circle cx="538.0" cy="487.8" r="6.9" fill="#95c4dd"/>
<circle cx="566.0" cy="1006.1" r="6.9" fill="#c2deec"/>
<circle cx="831.2" cy="323.6" r="6.9" fill="#9bc8e0"/>
<circle cx="899.0" cy="409.2" r="6.9" fill="#6a9cc9"/>
<circle cx="571.4" cy="534.7" r="6.9" fill="#edf3f7"/>
<circle cx="1009.9" cy="810.0" r="6.9" fill="#55789e"/>
<circle cx="1060.0" cy="324.0" r="6.9" fill="#96c4de"/>
<circle cx="390.1" cy="572.8" r="6.9" fill="#b7d9e9"/>
<circle cx="595.5" cy="1025.5" r="6.9" fill="#d6e8f2"/>
<circle cx="349.6" cy="371.9" r="6.9" fill="#c5dfed"/>
<circle cx="727.2" cy="240.5" r="6.9" fill="#a3cde2"/>
<circle cx="755.8" cy="760.4" r="6.9" fill="#a9d0e4"/>
<circle cx="372.5" cy="505.4" r="6.9" fill="#fbf0e9"/>
<circle cx="711.1" cy="791.7" r="6.9" fill="#faf6f4"/>
<circle cx="480.2" cy="708.9" r="6.9" fill="#bbdaea"/>
<circle cx="345.0" cy="590.3" r="6.9" fill="#e3eff5"/>
<circle cx="644.2" cy="909.0" r="6.9" fill="#f6f8f9"/>
<circle cx="417.0" cy="421.3" r="6.9" fill="#98c5df"/>
<circle cx="646.7" cy="941.9" r="6.9" fill="#faf5f2"/>
<circle cx="511.0" cy="319.6" r="6.9" fill="#f0f5f7"/>
<circle cx="490.6" cy="240.1" r="6.9" fill="#6c9fcb"/>
<circle cx="751.9" cy="626.0" r="6.9" fill="#c8e1ee"/>
<circle cx="527.0" cy="521.0" r="6.9" fill="#b7d9e9"/>
<circle cx="846.5" cy="857.1" r="6.9" fill="#a1cbe1"/>
<circle cx="591.9" cy="239.0" r="6.9" fill="#9cc8e0"/>
<circle cx="698.9" cy="814.9" r="6.9" fill="#e6f0f6"/>
<circle cx="806.2" cy="335.6" r="6.9" fill="#7ab1d4"/>
<circle cx="299.8" cy="434.9" r="6.9" fill="#83b8d8"/>
<circle cx="573.1" cy="505.2" r="6.9" fill="#d4e7f1"/>
<circle cx="655.3" cy="660.3" r="6.9" fill="#deecf4"/>
<circle cx="447.9" cy="814.4" r="6.9" fill="#dcebf4"/>
<circle cx="547.3" cy="1035.6" r="6.9" fill="#f4f7f8"/>
<circle cx="815.2" cy="709.7" r="6.9" fill="#afd4e6"/>
<circle cx="681.4" cy="772.3" r="6.9" fill="#f1f5f7"/>
<circle cx="1012.0" cy="282.0" r="6.9" fill="#ecf2f6"/>
<circle cx="369.9" cy="357.9" r="6.9" fill="#b4d7e8"/>
<circle cx="561.5" cy="752.9" r="6.9" fill="#eef4f7"/>
<circle cx="988.2" cy="816.7" r="6.9" fill="#8cbedb"/>
<circle cx="1006.7" cy="444.4" r="6.9" fill="#74aad0"/>
<circle cx="587.5" cy="1090.5" r="6.9" fill="#9fcae1"/>
<circle cx="944.5" cy="902.6" r="6.9" fill="#d1e6f0"/>
<circle cx="616.2" cy="862.8" r="6.9" fill="#cee4ef"/>
<circle cx="527.5" cy="320.2" r="6.9" fill="#96c4de"/>
<circle cx="828.0" cy="450.0" r="6.9" fill="#7bb3d5"/>
<circle cx="839.6" cy="560.8" r="6.9" fill="#6494c4"/>
<circle cx="906.8" cy="410.4" r="6.9" fill="#6ea2cc"/>
<circle cx="867.1" cy="411.6" r="6.9" fill="#8cbedb"/>
<circle cx="610.6" cy="254.9" r="6.9" fill="#89bcd9"/>
<circle cx="410.0" cy="380.5" r="6.9" fill="#c3dfec"/>
<circle cx="715.1" cy="755.1" r="6.9" fill="#ecf3f7"/>
<circle cx="502.7" cy="986.5" r="6.9" fill="#e8f1f6"/>
<circle cx="574.0" cy="880.2" r="6.9" fill="#f4f6f8"/>
<circle cx="724.4" cy="253.7" r="6.9" fill="#a5cee3"/>
<circle cx="588.7" cy="1066.0" r="6.9" fill="#ecf3f7"/>
<circle cx="387.8" cy="855.3" r="6.9" fill="#9bc7df"/>
<circle cx="332.1" cy="310.4" r="6.9" fill="#c5dfed"/>
<circle cx="955.1" cy="495.9" r="6.9" fill="#84b9d8"/>
<circle cx="395.5" cy="327.9" r="6.9" fill="#cae2ee"/>
<circle cx="639.6" cy="1009.5" r="6.9" fill="#e2eef5"/>
<circle cx="607.3" cy="800.5" r="6.9" fill="#fce9dd"/>
<circle cx="782.6" cy="947.7" r="6.9" fill="#b4d7e8"/>
<circle cx="412.8" cy="261.4" r="6.9" fill="#b2d6e7"/>
<circle cx="567.5" cy="355.3" r="6.9" fill="#7fb5d6"/>
<circle cx="810.8" cy="760.3" r="6.9" fill="#c4dfec"/>
<circle cx="736.3" cy="237.8" r="6.9" fill="#9fcae1"/>
<circle cx="506.7" cy="978.6" r="6.9" fill="#ecf3f7"/>
<circle cx="352.4" cy="344.1" r="6.9" fill="#b7d8e8"/>
<circle cx="583.8" cy="535.6" r="6.9" fill="#cce3ef"/>
<circle cx="735.2" cy="833.8" r="6.9" fill="#d5e8f1"/>
<circle cx="367.5" cy="957.5" r="6.9" fill="#e6f0f6"/>
<circle cx="893.8" cy="901.6" r="6.9" fill="#ddebf4"/>
<circle cx="353.6" cy="293.3" r="6.9" fill="#ecf3f7"/>
<circle cx="572.4" cy="956.4" r="6.9" fill="#f5f7f8"/>
<circle cx="511.7" cy="271.2" r="6.9" fill="#8abdda"/>
<circle cx="619.5" cy="440.7" r="6.9" fill="#e0edf4"/>
<circle cx="586.1" cy="731.7" r="6.9" fill="#d3e7f1"/>
<circle cx="583.5" cy="1067.2" r="6.9" fill="#e4eff5"/>
<circle cx="304.2" cy="506.2" r="6.9" fill="#f9f9f9"/>
<circle cx="534.0" cy="435.7" r="6.9" fill="#deecf4"/>
<circle cx="544.4" cy="552.9" r="6.9" fill="#cbe2ee"/>
<circle cx="743.3" cy="909.4" r="6.9" fill="#b3d6e7"/>
<circle cx="787.5" cy="865.4" r="6.9" fill="#bcdbea"/>
<circle cx="692.3" cy="1058.6" r="6.9" fill="#a8cfe4"/>
<circle cx="831.0" cy="340.6" r="6.9" fill="#79b1d4"/>
<circle cx="404.4" cy="824.3" r="6.9" fill="#8bbdda"/>
<circle cx="546.8" cy="847.7" r="6.9" fill="#faf6f5"/>
<circle cx="845.7" cy="435.3" r="6.9" fill="#bedceb"/>
<circle cx="704.6" cy="763.9" r="6.9" fill="#e8f1f6"/>
<circle cx="932.1" cy="892.5" r="6.9" fill="#96c4de"/>
<circle cx="475.7" cy="249.3" r="6.9" fill="#badae9"/>
<circle cx="632.6" cy="686.4" r="6.9" fill="#bfdceb"/>
<circle cx="896.1" cy="319.7" r="6.9" fill="#7fb6d6"/>
<circle cx="485.6" cy="722.2" r="6.9" fill="#d5e8f1"/>
<circle cx="305.3" cy="452.5" r="6.9" fill="#9ecae1"/>
<circle cx="818.5" cy="417.3" r="6.9" fill="#80b6d7"/>
<circle cx="523.0" cy="871.1" r="6.9" fill="#d2e6f0"/>
<circle cx="413.5" cy="308.7" r="6.9" fill="#c1ddeb"/>
<circle cx="727.8" cy="834.6" r="6.9" fill="#faf6f4"/>
<circle cx="438.7" cy="331.3" r="6.9" fill="#dcebf4"/>
<circle cx="1024.7" cy="490.1" r="6.9" fill="#6ea2cc"/>
<circle cx="881.2" cy="791.9" r="6.9" fill="#a2cce2"/>
<circle cx="638.0" cy="862.6" r="6.9" fill="#d9eaf3"/>
<circle cx="956.6" cy="323.3" r="6.9" fill="#93c2dd"/>
<circle cx="592.1" cy="1020.1" r="6.9" fill="#d6e8f2"/>
<circle cx="815.7" cy="803.8" r="6.9" fill="#aed3e6"/>
<circle cx="1019.9" cy="437.2" r="6.9" fill="#77aed2"/>
<circle cx="866.1" cy="434.5" r="6.9" fill="#79b1d4"/>
<circle cx="876.2" cy="359.4" r="6.9" fill="#b6d8e8"/>
<circle cx="805.6" cy="769.7" r="6.9" fill="#bfddeb"/>
<circle cx="802.9" cy="841.8" r="6.9" fill="#ecf3f7"/>
<circle cx="539.6" cy="261.1" r="6.9" fill="#c5e0ed"/>
<circle cx="766.2" cy="278.8" r="6.9" fill="#bedcea"/>
<circle cx="932.7" cy="411.0" r="6.9" fill="#8ebfdb"/>
<circle cx="424.1" cy="374.8" r="6.9" fill="#95c3dd"/>
<circle cx="581.2" cy="941.5" r="6.9" fill="#d9e9f3"/>
<circle cx="871.6" cy="840.7" r="6.9" fill="#bddbea"/>
<circle cx="899.7" cy="889.3" r="6.9" fill="#a7cfe3"/>
<circle cx="349.3" cy="814.5" r="6.9" fill="#6697c6"/>
<circle cx="711.4" cy="651.1" r="6.9" fill="#fde6d9"/>
<circle cx="1069.7" cy="488.3" r="6.9" fill="#98c6df"/>
<circle cx="545.9" cy="520.4" r="6.9" fill="#cee4ef"/>
<circle cx="408.2" cy="406.2" r="6.9" fill="#b6d8e8"/>
<circle cx="643.2" cy="1018.7" r="6.9" fill="#eef4f7"/>
<circle cx="548.5" cy="233.0" r="6.9" fill="#6ca0cb"/>
<circle cx="1012.6" cy="460.7" r="6.9" fill="#86bad9"/>
<circle cx="531.9" cy="870.1" r="6.9" fill="#deecf4"/>
<circle cx="334.9" cy="573.0" r="6.9" fill="#f0f5f7"/>
<circle cx="418.7" cy="332.0" r="6.9" fill="#96c4de"/>
<circle cx="768.8" cy="926.3" r="6.9" fill="#a7cfe4"/>
<circle cx="773.8" cy="610.8" r="6.9" fill="#fde5d7"/>
<circle cx="597.6" cy="910.9" r="6.9" fill="#f5f7f8"/>
<circle cx="671.5" cy="331.5" r="6.9" fill="#acd2e5"/>
<circle cx="730.6" cy="264.8" r="6.9" fill="#8fc0db"/>
<circle cx="745.6" cy="917.4" r="6.9" fill="#c7e1ed"/>
<circle cx="845.7" cy="359.4" r="6.9" fill="#a1cbe1"/>
<circle cx="649.2" cy="265.8" r="6.9" fill="#70a4cd"/>
<circle cx="901.5" cy="670.3" r="6.9" fill="#7db4d6"/>
<circle cx="668.5" cy="1056.1" r="6.9" fill="#a2cce2"/>
<circle cx="893.9" cy="495.8" r="6.9" fill="#fcece3"/>
<circle cx="962.1" cy="639.1" r="6.9" fill="#6a9dc9"/>
<circle cx="541.3" cy="872.2" r="6.9" fill="#f0f5f7"/>
<circle cx="574.9" cy="511.2" r="6.9" fill="#d0e5f0"/>
<circle cx="777.6" cy="427.2" r="6.9" fill="#77aed2"/>
<circle cx="526.0" cy="711.5" r="6.9" fill="#7bb3d5"/>
<circle cx="513.8" cy="481.5" r="6.9" fill="#dbebf3"/>
<circle cx="929.0" cy="900.8" r="6.9" fill="#bedceb"/>
<circle cx="606.4" cy="573.4" r="6.9" fill="#daeaf3"/>
<circle cx="801.6" cy="822.4" r="6.9" fill="#c8e1ed"/>
<circle cx="520.5" cy="1003.8" r="6.9" fill="#f3f6f8"/>
<circle cx="934.6" cy="909.9" r="6.9" fill="#dfecf4"/>
<circle cx="691.9" cy="1004.1" r="6.9" fill="#81b7d7"/>
<circle cx="804.4" cy="695.0" r="6.9" fill="#5a80aa"/>
<circle cx="823.1" cy="349.2" r="6.9" fill="#9cc8e0"/>
<circle cx="464.4" cy="410.4" r="6.9" fill="#cbe2ee"/>
<circle cx="647.0" cy="784.8" r="6.9" fill="#fde7db"/>
<circle cx="890.0" cy="311.1" r="6.9" fill="#6c9fca"/>
<circle cx="508.0" cy="844.0" r="6.9" fill="#b2d6e7"/>
<circle cx="1047.0" cy="286.4" r="6.9" fill="#e6f0f6"/>
<circle cx="502.6" cy="268.7" r="6.9" fill="#7db4d6"/>
<circle cx="866.8" cy="631.6" r="6.9" fill="#7bb3d5"/>
<circle cx="675.6" cy="967.2" r="6.9" fill="#d1e5f0"/>
<circle cx="728.1" cy="286.6" r="6.9" fill="#92c2dc"/>
<circle cx="624.3" cy="527.0" r="6.9" fill="#ddecf4"/>
<circle cx="573.9" cy="830.1" r="6.9" fill="#f9f8f7"/>
<circle cx="484.5" cy="923.5" r="6.9" fill="#badae9"/>
<circle cx="525.0" cy="312.8" r="6.9" fill="#99c6df"/>
<circle cx="948.6" cy="834.5" r="6.9" fill="#aed3e6"/>
<circle cx="634.9" cy="768.0" r="6.9" fill="#faf3ef"/>
<circle cx="576.7" cy="412.8" r="6.9" fill="#b2d6e7"/>
<circle cx="509.8" cy="535.4" r="6.9" fill="#8abcda"/>
<circle cx="442.4" cy="416.9" r="6.9" fill="#93c2dd"/>
<circle cx="352.3" cy="530.6" r="6.9" fill="#95c4de"/>
<circle cx="610.4" cy="424.7" r="6.9" fill="#dfedf4"/>
<circle cx="572.2" cy="943.4" r="6.9" fill="#d2e6f1"/>
<circle cx="596.7" cy="762.4" r="6.9" fill="#fbf0e9"/>
<circle cx="615.3" cy="1076.1" r="6.9" fill="#9fcae1"/>
<circle cx="379.4" cy="941.9" r="6.9" fill="#fce9de"/>
<circle cx="419.1" cy="460.3" r="6.9" fill="#b5d7e8"/>
<circle cx="371.5" cy="822.9" r="6.9" fill="#6798c7"/>
<circle cx="678.3" cy="1011.7" r="6.9" fill="#c9e1ee"/>
<circle cx="625.0" cy="723.6" r="6.9" fill="#f9f9f9"/>
<circle cx="869.3" cy="940.5" r="6.9" fill="#e7f1f6"/>
<circle cx="524.6" cy="935.4" r="6.9" fill="#f2f6f8"/>
<circle cx="615.3" cy="223.5" r="6.9" fill="#91c1dc"/>
<circle cx="750.4" cy="264.7" r="6.9" fill="#7eb5d6"/>
<circle cx="549.2" cy="979.8" r="6.9" fill="#e7f0f6"/>
<circle cx="358.8" cy="966.3" r="6.9" fill="#e6f0f6"/>
<circle cx="878.4" cy="535.5" r="6.9" fill="#fbf0ea"/>
<circle cx="581.7" cy="974.9" r="6.9" fill="#e3eef5"/>
<circle cx="898.5" cy="834.7" r="6.9" fill="#e9f1f6"/>
<circle cx="309.6" cy="442.7" r="6.9" fill="#85b9d8"/>
<circle cx="562.0" cy="721.0" r="6.9" fill="#96c4de"/>
<circle cx="385.1" cy="443.1" r="6.9" fill="#dfecf4"/>
<circle cx="491.7" cy="912.4" r="6.9" fill="#daeaf3"/>
<circle cx="400.1" cy="846.5" r="6.9" fill="#c7e0ed"/>
<circle cx="1000.5" cy="293.4" r="6.9" fill="#e6f0f6"/>
<circle cx="1114.4" cy="511.7" r="6.9" fill="#8abdda"/>
<circle cx="863.9" cy="375.1" r="6.9" fill="#90c0dc"/>
<circle cx="826.2" cy="832.2" r="6.9" fill="#f1f5f8"/>
<circle cx="990.1" cy="493.8" r="6.9" fill="#dfecf4"/>
<circle cx="482.1" cy="256.0" r="6.9" fill="#7cb3d5"/>
<circle cx="297.5" cy="311.1" r="6.9" fill="#c2deec"/>
<circle cx="569.8" cy="964.8" r="6.9" fill="#edf3f7"/>
<circle cx="591.3" cy="650.9" r="6.9" fill="#7bb3d5"/>
<circle cx="910.4" cy="776.7" r="6.9" fill="#c5e0ed"/>
<circle cx="924.5" cy="505.8" r="6.9" fill="#d6e8f2"/>
<circle cx="540.8" cy="962.8" r="6.9" fill="#f9f8f8"/>
<circle cx="867.2" cy="862.3" r="6.9" fill="#add3e5"/>
<circle cx="529.4" cy="896.6" r="6.9" fill="#f5f7f8"/>
<circle cx="474.0" cy="426.0" r="6.9" fill="#a0cae1"/>
<circle cx="604.3" cy="870.7" r="6.9" fill="#e3eef5"/>
<circle cx="575.0" cy="694.0" r="6.9" fill="#7bb3d5"/>
<circle cx="818.5" cy="276.6" r="6.9" fill="#77add2"/>
<circle cx="709.8" cy="317.2" r="6.9" fill="#6b9eca"/>
<circle cx="968.8" cy="427.4" r="6.9" fill="#79b1d4"/>
<circle cx="520.5" cy="293.3" r="6.9" fill="#96c4de"/>
<circle cx="609.6" cy="894.9" r="6.9" fill="#d6e8f2"/>
<circle cx="597.9" cy="566.3" r="6.9" fill="#a9d0e4"/>
<circle cx="283.4" cy="444.3" r="6.9" fill="#92c2dd"/>
<circle cx="501.7" cy="1020.5" r="6.9" fill="#f1f5f8"/>
<circle cx="539.5" cy="1009.4" r="6.9" fill="#e5eff5"/>
<circle cx="692.7" cy="417.2" r="6.9" fill="#90c0dc"/>
<circle cx="394.7" cy="355.1" r="6.9" fill="#c7e0ed"/>
<circle cx="924.2" cy="818.4" r="6.9" fill="#d4e7f1"/>
<circle cx="479.7" cy="326.6" r="6.9" fill="#9cc8e0"/>
<circle cx="434.3" cy="297.0" r="6.9" fill="#bcdbea"/>
<circle cx="300.3" cy="382.7" r="6.9" fill="#d1e5f0"/>
<circle cx="793.3" cy="918.9" r="6.9" fill="#deecf4"/>
<circle cx="713.7" cy="1010.8" r="6.9" fill="#c3dfec"/>
<circle cx="387.2" cy="542.9" r="6.9" fill="#c7e1ed"/>
<circle cx="677.9" cy="732.5" r="6.9" fill="#e8f1f6"/>
<circle cx="579.1" cy="794.4" r="6.9" fill="#f3f6f8"/>
<circle cx="705.3" cy="744.4" r="6.9" fill="#e8f1f6"/>
<circle cx="583.5" cy="1057.7" r="6.9" fill="#eff4f7"/>
<circle cx="696.1" cy="1044.5" r="6.9" fill="#b4d7e8"/>
<circle cx="398.5" cy="530.5" r="6.9" fill="#91c1dc"/>
<circle cx="640.4" cy="870.1" r="6.9" fill="#d2e6f0"/>
<circle cx="373.8" cy="253.2" r="6.9" fill="#b6d8e8"/>
<circle cx="378.3" cy="374.2" r="6.9" fill="#85b9d8"/>
<circle cx="337.9" cy="348.5" r="6.9" fill="#9ac6df"/>
<circle cx="926.4" cy="855.2" r="6.9" fill="#d5e8f1"/>
<circle cx="424.1" cy="792.7" r="6.9" fill="#aad1e4"/>
<circle cx="524.8" cy="247.7" r="6.9" fill="#6fa2cc"/>
<circle cx="295.7" cy="296.3" r="6.9" fill="#bfdceb"/>
<circle cx="975.0" cy="333.9" r="6.9" fill="#89bcd9"/>
<circle cx="793.5" cy="638.1" r="6.9" fill="#96c4de"/>
<circle cx="575.7" cy="450.0" r="6.9" fill="#e2eef5"/>
<circle cx="376.7" cy="792.8" r="6.9" fill="#6798c7"/>
<circle cx="1030.0" cy="341.3" r="6.9" fill="#86bad9"/>
<circle cx="587.3" cy="401.6" r="6.9" fill="#bddcea"/>
<circle cx="708.2" cy="334.7" r="6.9" fill="#78afd3"/>
<circle cx="348.7" cy="850.0" r="6.9" fill="#71a6ce"/>
<circle cx="647.0" cy="816.4" r="6.9" fill="#f6f7f8"/>
<circle cx="704.9" cy="849.3" r="6.9" fill="#cfe4ef"/>
<circle cx="448.0" cy="320.4" r="6.9" fill="#9bc7e0"/>
<circle cx="604.5" cy="917.9" r="6.9" fill="#e5eff5"/>
<circle cx="863.4" cy="714.2" r="6.9" fill="#75abd1"/>
<circle cx="919.7" cy="418.8" r="6.9" fill="#87bbd9"/>
<circle cx="657.0" cy="264.6" r="6.9" fill="#699bc8"/>
<circle cx="940.6" cy="335.9" r="6.9" fill="#8cbedb"/>
<circle cx="419.7" cy="445.2" r="6.9" fill="#86bad9"/>
<circle cx="674.9" cy="947.1" r="6.9" fill="#b2d6e7"/>
<circle cx="599.0" cy="971.2" r="6.9" fill="#d5e7f1"/>
<circle cx="932.2" cy="831.8" r="6.9" fill="#b7d8e8"/>
<circle cx="741.0" cy="378.0" r="6.9" fill="#6a9dc9"/>
<circle cx="601.8" cy="897.4" r="6.9" fill="#f0f5f7"/>
<circle cx="592.4" cy="847.4" r="6.9" fill="#d7e9f2"/>
<circle cx="941.1" cy="815.5" r="6.9" fill="#d1e5f0"/>
<circle cx="762.8" cy="688.5" r="6.9" fill="#96c4de"/>
<circle cx="511.5" cy="278.2" r="6.9" fill="#8ebfdb"/>
<circle cx="436.0" cy="349.4" r="6.9" fill="#ddebf4"/>
<circle cx="753.5" cy="990.9" r="6.9" fill="#b1d5e7"/>
<circle cx="503.6" cy="495.4" r="6.9" fill="#a2cce2"/>
<circle cx="904.4" cy="862.0" r="6.9" fill="#d3e7f1"/>
<circle cx="673.3" cy="912.4" r="6.9" fill="#e7f1f6"/>
<circle cx="774.6" cy="794.8" r="6.9" fill="#abd2e5"/>
<circle cx="491.1" cy="351.7" r="6.9" fill="#6da0cb"/>
<circle cx="651.0" cy="435.6" r="6.9" fill="#a7cfe3"/>
<circle cx="844.6" cy="581.9" r="6.9" fill="#7ab1d4"/>
<circle cx="790.9" cy="284.9" r="6.9" fill="#aed4e6"/>
<circle cx="369.4" cy="588.3" r="6.9" fill="#b2d6e7"/>
<circle cx="872.1" cy="416.9" r="6.9" fill="#6ea2cc"/>
<circle cx="544.9" cy="270.2" r="6.9" fill="#9bc7df"/>
<circle cx="478.4" cy="356.8" r="6.9" fill="#7fb6d6"/>
<circle cx="760.7" cy="831.1" r="6.9" fill="#bbdbea"/>
<circle cx="934.8" cy="643.8" r="6.9" fill="#6ea1cc"/>
<circle cx="586.9" cy="544.6" r="6.9" fill="#d0e5f0"/>
<circle cx="327.3" cy="466.6" r="6.9" fill="#f4f7f8"/>
<circle cx="638.0" cy="1089.9" r="6.9" fill="#d1e6f0"/>
<circle cx="811.2" cy="857.2" r="6.9" fill="#d5e8f1"/>
<circle cx="521.2" cy="343.5" r="6.9" fill="#8cbedb"/>
<circle cx="538.3" cy="302.9" r="6.9" fill="#a1cbe2"/>
<circle cx="873.6" cy="870.6" r="6.9" fill="#d2e6f1"/>
<circle cx="651.2" cy="721.2" r="6.9" fill="#ebf2f6"/>
<circle cx="980.1" cy="636.3" r="6.9" fill="#9cc8e0"/>
<circle cx="417.7" cy="318.5" r="6.9" fill="#99c6df"/>
<circle cx="631.5" cy="265.7" r="6.9" fill="#8bbdda"/>
<circle cx="648.3" cy="1009.3" r="6.9" fill="#f1f5f7"/>
<circle cx="694.8" cy="686.5" r="6.9" fill="#cfe5f0"/>
<circle cx="457.5" cy="726.9" r="6.9" fill="#bbdaea"/>
<circle cx="1097.4" cy="497.2" r="6.9" fill="#79b0d3"/>
<circle cx="847.5" cy="869.5" r="6.9" fill="#bcdbea"/>
<circle cx="745.5" cy="242.7" r="6.9" fill="#a9d0e4"/>
<circle cx="1040.0" cy="293.0" r="6.9" fill="#e6f0f6"/>
<circle cx="407.3" cy="710.3" r="6.9" fill="#76add2"/>
<circle cx="596.8" cy="717.9" r="6.9" fill="#d8e9f2"/>
<circle cx="773.0" cy="708.0" r="6.9" fill="#a6cee3"/>
<circle cx="611.3" cy="528.2" r="6.9" fill="#eef4f7"/>
<circle cx="621.6" cy="450.3" r="6.9" fill="#cfe5f0"/>
<circle cx="665.0" cy="983.2" r="6.9" fill="#e5f0f5"/>
<circle cx="551.9" cy="472.7" r="6.9" fill="#f2f5f8"/>
<circle cx="811.0" cy="626.0" r="6.9" fill="#6393c4"/>
<circle cx="767.6" cy="572.0" r="6.9" fill="#78afd3"/>
<circle cx="995.0" cy="471.9" r="6.9" fill="#99c6df"/>
<circle cx="806.5" cy="348.8" r="6.9" fill="#77add2"/>
<circle cx="364.6" cy="584.6" r="6.9" fill="#cae2ee"/>
<circle cx="808.3" cy="725.9" r="6.9" fill="#aad1e4"/>
<circle cx="801.1" cy="857.3" r="6.9" fill="#e3eff5"/>
<circle cx="681.1" cy="880.2" r="6.9" fill="#faf5f3"/>
<circle cx="559.1" cy="854.4" r="6.9" fill="#faf2ed"/>
<circle cx="603.0" cy="346.0" r="6.9" fill="#86bad9"/>
<circle cx="704.9" cy="702.4" r="6.9" fill="#f0f4f7"/>
<circle cx="777.0" cy="629.4" r="6.9" fill="#6fa3cc"/>
<circle cx="816.6" cy="318.1" r="6.9" fill="#79b0d3"/>
<circle cx="615.9" cy="488.8" r="6.9" fill="#e6f0f5"/>
<circle cx="573.9" cy="256.4" r="6.9" fill="#a3cce2"/>
<circle cx="507.0" cy="371.8" r="6.9" fill="#7ab1d4"/>
<circle cx="696.2" cy="277.1" r="6.9" fill="#d6e8f2"/>
<circle cx="399.2" cy="304.1" r="6.9" fill="#b2d6e7"/>
<circle cx="1061.0" cy="304.7" r="6.9" fill="#96c4de"/>
<circle cx="288.7" cy="293.6" r="6.9" fill="#7fb6d6"/>
<circle cx="493.7" cy="355.1" r="6.9" fill="#bddcea"/>
<circle cx="935.5" cy="902.5" r="6.9" fill="#c9e1ee"/>
<circle cx="965.5" cy="420.7" r="6.9" fill="#92c2dd"/>
<circle cx="869.8" cy="584.9" r="6.9" fill="#add3e5"/>
<circle cx="888.5" cy="785.9" r="6.9" fill="#9ac7df"/>
<circle cx="705.7" cy="227.0" r="6.9" fill="#9ac7df"/>
<circle cx="626.5" cy="739.0" r="6.9" fill="#c95d6a"/>
<circle cx="615.3" cy="746.7" r="6.9" fill="#c95d6a"/>
<circle cx="621.9" cy="751.9" r="6.9" fill="#c95d6a"/>
<circle cx="601.0" cy="752.0" r="6.9" fill="#eaa291"/>
<circle cx="608.7" cy="757.5" r="6.9" fill="#e69989"/>
<circle cx="621.9" cy="759.4" r="6.9" fill="#eaa291"/>
<circle cx="610.6" cy="765.0" r="6.9" fill="#e69989"/>
<circle cx="622.8" cy="766.9" r="6.9" fill="#eaa291"/>
<circle cx="614.4" cy="769.7" r="6.9" fill="#efac98"/>
<circle cx="597.5" cy="772.5" r="6.9" fill="#eca794"/>
<circle cx="594.7" cy="778.0" r="6.9" fill="#f1b19c"/>
<circle cx="605.0" cy="781.0" r="6.9" fill="#f3b5a0"/>
<circle cx="617.0" cy="779.0" r="6.9" fill="#f1b19c"/>
<circle cx="611.0" cy="789.0" r="6.9" fill="#efac98"/>
<circle cx="587.0" cy="791.0" r="6.9" fill="#f1b19c"/>
<circle cx="589.0" cy="798.0" r="6.9" fill="#efac98"/>
<circle cx="589.0" cy="807.0" r="6.9" fill="#eca794"/>
<circle cx="628.4" cy="813.7" r="6.9" fill="#e28f82"/>
<circle cx="630.0" cy="819.0" r="6.9" fill="#eaa291"/>
<circle cx="619.0" cy="827.0" r="6.9" fill="#e89d8d"/>
<circle cx="644.0" cy="750.0" r="6.9" fill="#f9ceba"/>
<circle cx="640.6" cy="757.5" r="6.9" fill="#f9cab5"/>
<circle cx="627.5" cy="743.0" r="6.9" fill="#fad2bf"/>
<circle cx="638.7" cy="783.7" r="6.9" fill="#f9ceba"/>
<circle cx="653.7" cy="779.0" r="6.9" fill="#f9cab5"/>
<circle cx="663.0" cy="782.8" r="6.9" fill="#fad2bf"/>
<circle cx="609.7" cy="803.4" r="6.9" fill="#f9ceba"/>
<circle cx="622.8" cy="802.5" r="6.9" fill="#f9cab5"/>
<circle cx="597.5" cy="798.7" r="6.9" fill="#f8c7b1"/>
<circle cx="613.4" cy="811.8" r="6.9" fill="#f9ceba"/>
<circle cx="571.0" cy="767.8" r="6.9" fill="#fbd6c4"/>
<circle cx="665.6" cy="889.0" r="6.9" fill="#eca794"/>
<circle cx="676.6" cy="892.5" r="6.9" fill="#e28f82"/>
<circle cx="660.0" cy="878.0" r="6.9" fill="#f7bfa7"/>
<circle cx="906.7" cy="595.6" r="6.9" fill="#e28f82"/>
<circle cx="914.8" cy="593.5" r="6.9" fill="#e08a80"/>
<circle cx="925.0" cy="588.5" r="6.9" fill="#e28f82"/>
<circle cx="935.0" cy="584.4" r="6.9" fill="#e08a80"/>
<circle cx="943.0" cy="578.3" r="6.9" fill="#dd857d"/>
<circle cx="951.4" cy="582.4" r="6.9" fill="#e28f82"/>
<circle cx="963.6" cy="576.3" r="6.9" fill="#e08a80"/>
<circle cx="967.6" cy="580.3" r="6.9" fill="#e28f82"/>
<circle cx="921.0" cy="595.6" r="6.9" fill="#e49486"/>
<circle cx="931.0" cy="590.5" r="6.9" fill="#e28f82"/>
<circle cx="939.0" cy="580.0" r="6.9" fill="#e08a80"/>
<circle cx="955.4" cy="581.3" r="6.9" fill="#e28f82"/>
<circle cx="943.0" cy="586.4" r="6.9" fill="#e49486"/>
<circle cx="912.8" cy="590.5" r="6.9" fill="#e28f82"/>
<circle cx="902.6" cy="589.5" r="6.9" fill="#f9ceba"/>
<circle cx="948.0" cy="584.0" r="6.9" fill="#e28f82"/>
<circle cx="958.0" cy="578.0" r="6.9" fill="#e08a80"/>
<circle cx="929.0" cy="586.0" r="6.9" fill="#e28f82"/>
<circle cx="294.4" cy="908.1" r="6.9" fill="#f7bfa7"/>
<circle cx="359.4" cy="930.6" r="6.9" fill="#f7bfa7"/>
<circle cx="702.2" cy="603.3" r="6.9" fill="#f3b5a0"/>
<circle cx="689.7" cy="646.3" r="6.9" fill="#f7bfa7"/>
<circle cx="685.0" cy="658.8" r="6.9" fill="#f8c7b1"/>
<circle cx="678.8" cy="691.6" r="6.9" fill="#f7bfa7"/>
</g>
<g><circle cx="371.4" cy="344.4" r="10.8" fill="#f4f5f9" stroke="#000" stroke-width="1.3"/><text x="371.4" y="349.9" class="lb">1</text><circle cx="501.4" cy="736.4" r="10.8" fill="#f4f5f9" stroke="#000" stroke-width="1.3"/><text x="501.4" y="741.9" class="lb">2</text><circle cx="890.4" cy="883.3" r="10.8" fill="#f4f5f9" stroke="#000" stroke-width="1.3"/><text x="890.4" y="888.8" class="lb">3</text><circle cx="615.4" cy="487.3" r="10.8" fill="#f4f5f9" stroke="#000" stroke-width="1.3"/><text x="615.4" y="492.8" class="lb">4</text><circle cx="575.5" cy="993.4" r="10.8" fill="#f4f5f9" stroke="#000" stroke-width="1.3"/><text x="575.5" y="998.9" class="lb">5</text><circle cx="679.4" cy="265.4" r="10.8" fill="#f4f5f9" stroke="#000" stroke-width="1.3"/><text x="679.4" y="270.9" class="lb">6</text><circle cx="979.4" cy="444.4" r="10.8" fill="#f4f5f9" stroke="#000" stroke-width="1.3"/><text x="979.4" y="449.9" class="lb">7</text><circle cx="819.4" cy="623.4" r="10.8" fill="#f4f5f9" stroke="#000" stroke-width="1.3"/><text x="819.4" y="628.9" class="lb">8</text><circle cx="1013.4" cy="310.4" r="10.8" fill="#f4f5f9" stroke="#000" stroke-width="1.3"/><text x="1013.4" y="315.9" class="lb">9</text><circle cx="761.5" cy="514.4" r="10.8" fill="#f4f5f9" stroke="#000" stroke-width="1.3"/><text x="761.5" y="519.9" class="lb">10</text></g>
<text x="1031" y="1127" class="lt">Variance, Z-scaled</text>
<rect x="850.5" y="1134" width="300" height="14.5" fill="url(#cb)"/>
<line x1="850.5" y1="1134" x2="850.5" y2="1148.5" stroke="#000" stroke-width="1.1"/><text x="850.5" y="1163" class="tl">0.0</text><line x1="880.5" y1="1134" x2="880.5" y2="1148.5" stroke="#000" stroke-width="1.1"/><text x="880.5" y="1163" class="tl">0.7</text><line x1="915.5" y1="1134" x2="915.5" y2="1148.5" stroke="#000" stroke-width="1.1"/><text x="915.5" y="1163" class="tl">1.5</text><line x1="950.5" y1="1134" x2="950.5" y2="1148.5" stroke="#000" stroke-width="1.1"/><text x="950.5" y="1163" class="tl">2.3</text><line x1="985.5" y1="1134" x2="985.5" y2="1148.5" stroke="#000" stroke-width="1.1"/><text x="985.5" y="1163" class="tl">3.1</text><line x1="1015.5" y1="1134" x2="1015.5" y2="1148.5" stroke="#000" stroke-width="1.1"/><text x="1015.5" y="1163" class="tl">3.8</text><line x1="1050.5" y1="1134" x2="1050.5" y2="1148.5" stroke="#000" stroke-width="1.1"/><text x="1050.5" y="1163" class="tl">4.6</text><line x1="1085.5" y1="1134" x2="1085.5" y2="1148.5" stroke="#000" stroke-width="1.1"/><text x="1085.5" y="1163" class="tl">5.4</text><line x1="1120.5" y1="1134" x2="1120.5" y2="1148.5" stroke="#000" stroke-width="1.1"/><text x="1120.5" y="1163" class="tl">6.2</text><line x1="1150.5" y1="1134" x2="1150.5" y2="1148.5" stroke="#000" stroke-width="1.1"/><text x="1150.5" y="1163" class="tl">6.9</text>
</svg>
</body></html>
